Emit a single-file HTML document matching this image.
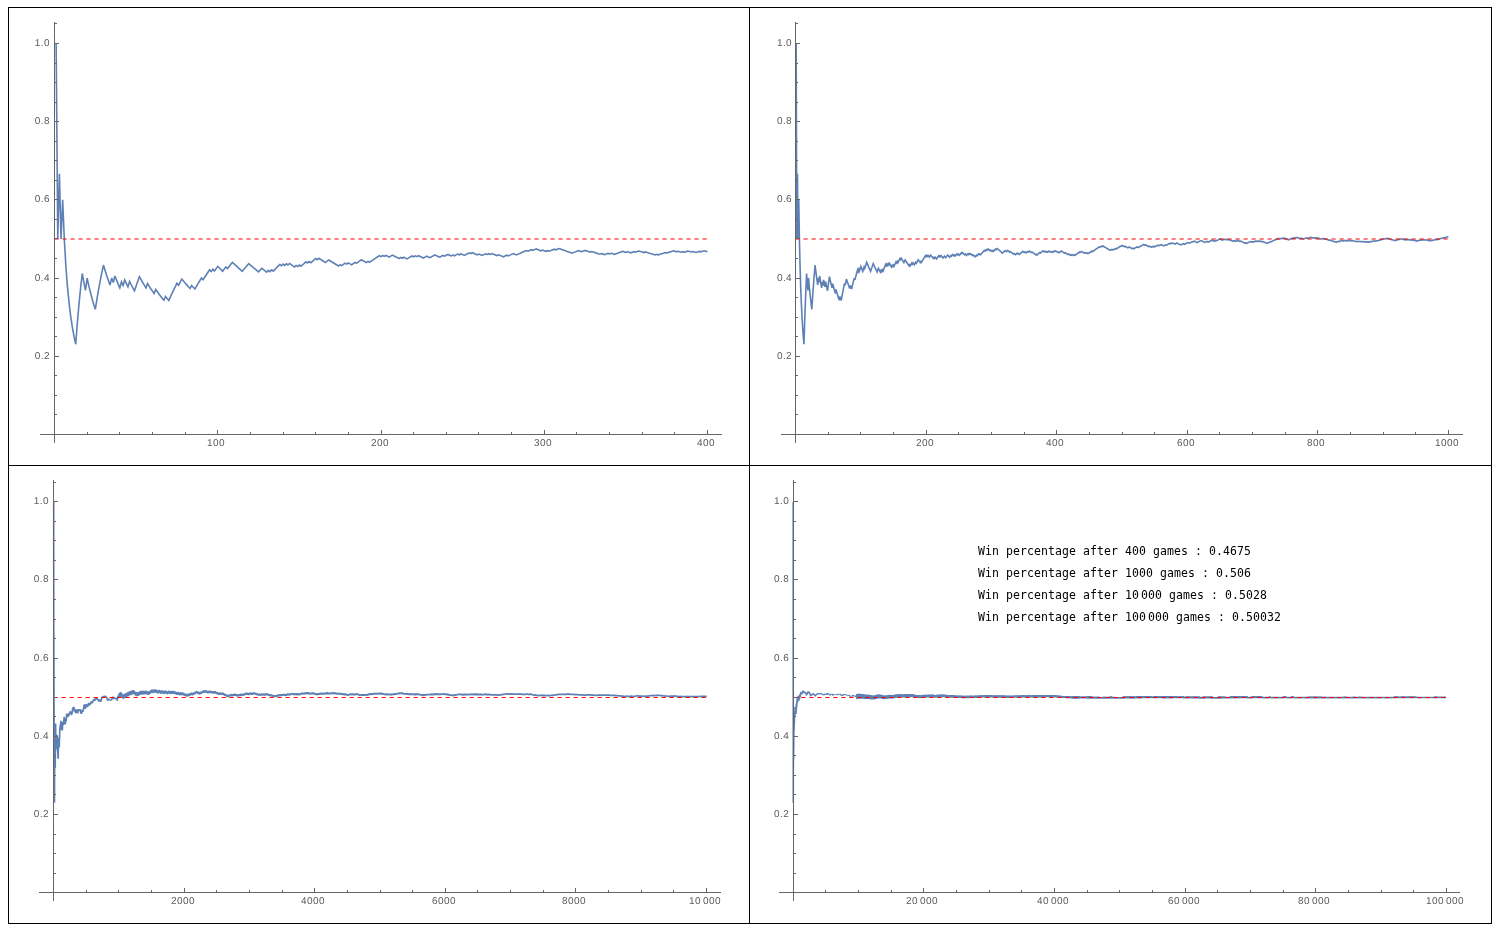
<!DOCTYPE html>
<html><head><meta charset="utf-8"><title>Win percentage</title>
<style>html,body{margin:0;padding:0;background:#fff}body{width:1500px;height:931px;position:relative;overflow:hidden}</style></head>
<body>
<svg width="1500" height="931" viewBox="0 0 1500 931" style="position:absolute;left:0;top:0">
<g fill="#000" shape-rendering="crispEdges">
<rect x="8" y="7" width="1484" height="1"/><rect x="8" y="923" width="1484" height="1"/><rect x="8" y="465" width="1484" height="1"/>
<rect x="8" y="7" width="1" height="917"/><rect x="749" y="7" width="1" height="917"/><rect x="1491" y="7" width="1" height="917"/>
</g>
<path fill="none" stroke="#5e81b5" stroke-width="1.6" stroke-linejoin="miter" stroke-miterlimit="3.25" stroke-linecap="butt" d="M56.133 43.5l1.632 195.5l1.633-65.167l1.632 65.167l1.633-39.1l1.632 39.1l1.632 27.929l1.633 20.946l1.632 16.292l1.633 13.033l1.632 10.664l1.633 8.886l1.632 7.519l1.633-21.483l1.632-18.619l1.633-16.292l1.632-14.375l1.633 8.944l1.632 8.003l1.633-12.347l1.632 7.448l1.633 6.77l1.632 6.182l1.633 5.667l1.632 5.213l1.633-10.226l1.632-9.469l1.633-8.792l1.632-8.186l1.633-7.64l1.632 5.465l1.633 5.124l1.632 4.814l1.633 4.53l1.632-6.9l1.633 4.344l1.632-6.458l1.633 4.172l1.632 3.957l1.633 3.76l1.632-5.96l1.633 3.633l1.632-5.629l1.633 3.513l1.632 3.357l1.633-5.289l1.632 3.255l1.633 3.12l1.632 2.992l1.633-4.947l1.632-4.753l1.633-4.571l1.632 2.979l1.633 2.869l1.632 2.765l1.633 2.666l1.632-4.287l1.633 2.602l1.632 2.513l1.633 2.43l1.632 2.351l1.633-4.032l1.632 2.302l1.633 2.23l1.632 2.162l1.633 2.096l1.632 2.034l1.633-3.776l1.632 2l1.633 1.943l1.632-3.619l1.633-3.518l1.632-3.422l1.633-3.33l1.632-3.241l1.633 1.99l1.632-3.141l1.633-3.059l1.632 1.967l1.633 1.917l1.632 1.871l1.633 1.825l1.632 1.781l1.633-2.916l1.632 1.752l1.633 1.712l1.632-2.822l1.633-2.758l1.632-2.696l1.633-2.636l1.632 1.719l1.633-2.569l1.632-2.513l1.633-2.46l1.632-2.409l1.633 1.715l1.632-2.351l1.633 1.686l1.632-2.297l1.633-2.251l1.632 1.665l1.633 1.632l1.632 1.6l1.633-2.19l1.632-2.148l1.633 1.58l1.632-2.102l1.633-2.064l1.632-2.026l1.633 1.565l1.632 1.537l1.633 1.51l1.632 1.483l1.633 1.456l1.632 1.432l1.633-1.964l1.632-1.93l1.633-1.898l1.632-1.865l1.633 1.424l1.632 1.4l1.633 1.377l1.632 1.355l1.633 1.333l1.632 1.312l1.633-1.812l1.632-1.784l1.633 1.299l1.632 1.279l1.633 1.259l1.632-1.745l1.633 1.243l1.632-1.715l1.633 1.229l1.632-1.686l1.633-1.661l1.632-1.637l1.633-1.613l1.632 1.223l1.633-1.587l1.632 1.208l1.633-1.562l1.632 1.194l1.633-1.538l1.632 1.179l1.633 1.164l1.632 1.148l1.633-1.51l1.632 1.135l1.633-1.487l1.632 1.122l1.633-1.465l1.632-1.446l1.633-1.427l1.632 1.114l1.633-1.407l1.632 1.101l1.633-1.387l1.632-1.369l1.633-1.353l1.632 1.093l1.633-1.334l1.632 1.081l1.633 1.067l1.632 1.055l1.633 1.042l1.632-1.311l1.633-1.297l1.632 1.033l1.633 1.021l1.632 1.009l1.633 .997l1.632 .985l1.633 .975l1.632-1.272l1.633 .965l1.632-1.255l1.633-1.241l1.632 .957l1.633-1.226l1.632 .949l1.633 .937l1.632-1.209l1.633-1.196l1.632 .93l1.633-1.181l1.632-1.169l1.633-1.157l1.632 .924l1.633 .915l1.632 .905l1.633-1.141l1.632 .897l1.633-1.128l1.632-1.116l1.633-1.105l1.632-1.094l1.633-1.082l1.632-1.072l1.633 .894l1.632-1.06l1.633 .886l1.632-1.049l1.633 .878l1.632 .87l1.633-1.037l1.632-1.027l1.633 .862l1.632 .855l1.633 .846l1.633 .838l1.632-1.014l1.633 .832l1.632-1.004l1.633 .824l1.632 .817l1.633-.993l1.632-.983l1.633-.975l1.632 .812l1.633-.965l1.632 .805l1.633-.956l1.632 .798l1.633 .792l1.632 .784l1.633-.945l1.632-.937l1.633 .779l1.632 .772l1.633-.927l1.632-.92l1.633-.911l1.632 .767l1.633 .761l1.632 .755l1.633-.902l1.632-.894l1.633 .749l1.632-.886l1.633-.879l1.632 .744l1.633 .738l1.632-.87l1.633 .732l1.632-.863l1.633-.856l1.632 .728l1.633-.848l1.632 .722l1.633 .717l1.632-.841l1.633-.834l1.632-.828l1.633 .713l1.632-.821l1.633 .707l1.632 .702l1.633 .696l1.632-.813l1.633 .692l1.632 .686l1.633-.806l1.632-.799l1.633 .681l1.632-.793l1.633 .677l1.632-.786l1.633 .672l1.632 .668l1.633 .662l1.632-.779l1.633 .658l1.632 .653l1.633 .649l1.632-.773l1.633-.767l1.632 .645l1.633-.762l1.632-.755l1.633-.751l1.632 .642l1.633 .637l1.632-.745l1.633-.739l1.632-.734l1.633-.728l1.632-.724l1.633-.719l1.632 .634l1.633-.713l1.632-.709l1.633 .631l1.632-.704l1.633-.698l1.632 .627l1.633 .622l1.632 .619l1.633-.694l1.632 .615l1.633 .611l1.632-.689l1.633 .607l1.632-.683l1.633-.679l1.632-.675l1.633 .604l1.632-.67l1.633-.666l1.632 .6l1.633 .596l1.632 .593l1.633 .588l1.632 .585l1.633 .581l1.632 .578l1.633 .574l1.632-.66l1.633-.655l1.632-.651l1.633-.647l1.632 .571l1.633 .568l1.632-.643l1.633-.639l1.632 .565l1.633 .561l1.632 .558l1.633-.634l1.632 .554l1.633 .552l1.632 .548l1.633 .544l1.632 .542l1.633-.629l1.632 .538l1.633 .535l1.632-.625l1.633-.621l1.632 .533l1.633-.617l1.632 .53l1.633 .526l1.632-.613l1.633-.609l1.632-.606l1.633-.603l1.632-.599l1.633 .525l1.632 .522l1.633-.595l1.632 .519l1.633 .516l1.632-.592l1.633-.588l1.632 .514l1.633-.585l1.632-.581l1.633 .511l1.632 .508l1.633 .506l1.632-.578l1.633 .503l1.632 .5l1.633 .498l1.632 .494l1.633 .492l1.632 .489l1.633-.573l1.632 .487l1.633-.569l1.632-.567l1.633-.564l1.632-.56l1.633 .485l1.632-.557l1.633-.555l1.632-.551l1.633-.549l1.632 .483l1.633 .481l1.632-.545l1.633 .478l1.632 .476l1.633-.542l1.632 .473l1.633-.539l1.632-.536l1.633 .471l1.632 .469l1.633-.533l1.632 .467l1.633 .464l1.632-.53l1.633-.528l1.632 .463l1.633-.525l1.632-.522l1.633 .46l1.632 .458"/>
<path fill="none" stroke="#5e81b5" stroke-width="1.6" stroke-linejoin="miter" stroke-miterlimit="3.25" stroke-linecap="butt" d="M796.153 43.5l.653 195.5l.653-65.167l.653 65.167l.653-39.1l.653 39.1l.653 27.929l.653 20.946l.653 16.292l.653 13.033l.653 10.664l.653 8.886l.653 7.519l.653-21.483l.653-18.619l.653-16.292l.653-14.375l.653 8.944l.653 8.003l.653-12.347l.653 7.448l.653 6.77l.653 6.182l.653 5.667l.653 5.213l.653-10.226l.653-9.469l.653-8.792l.653-8.186l.653-7.64l.653 5.465l.653 5.124l.653 4.814l.653 4.53l.653-6.9l.653 4.344l.653-6.458l.653 4.172l.653 3.957l.653 3.76l.653-5.96l.653 3.633l.653-5.629l.653 3.513l.653 3.357l.653-5.289l.653 3.255l.653 3.12l.653 2.992l.653-4.947l.653-4.753l.653-4.571l.653 2.979l.653 2.869l.653 2.765l.653 2.666l.653-4.287l.653 2.602l.653 2.513l.653 2.43l.653 2.351l.653-4.032l.653 2.302l.653 2.23l.653 2.162l.653 2.096l.653 2.034l.653-3.776l.653 2l.653 1.943l.653-3.619l.653-3.518l.653-3.422l.653-3.33l.653-3.241l.653 1.99l.653-3.141l.653-3.059l.653 1.967l.653 1.917l.653 1.871l.653 1.825l.653 1.781l.653-2.916l.653 1.752l.653 1.712l.653-2.822l.653-2.758l.653-2.696l.653-2.636l.653 1.719l.653-2.569l.653-2.513l.653-2.46l.653-2.409l.653 1.715l.653-2.351l.653 1.686l.653-2.297l.653-2.251l.653 1.665l.653 1.632l.653 1.6l.653-2.19l.653-2.148l.653 1.58l.653-2.102l.653-2.064l.653-2.026l.653 1.565l.653 1.537l.653 1.51l.653 1.483l.653 1.456l.653 1.432l.653-1.964l.653-1.93l.653-1.898l.653-1.865l.653 1.424l.653 1.4l.653 1.377l.653 1.355l.653 1.333l.653 1.312l.653-1.812l.653-1.784l.653 1.299l.653 1.279l.653 1.259l.653-1.745l.653 1.243l.653-1.715l.653 1.229l.653-1.686l.653-1.661l.653-1.637l.653-1.613l.653 1.223l.653-1.587l.653 1.208l.653-1.562l.653 1.194l.653-1.538l.653 1.179l.653 1.164l.653 1.148l.653-1.51l.653 1.135l.653-1.487l.653 1.122l.653-1.465l.653-1.446l.653-1.427l.653 1.114l.653-1.407l.653 1.101l.653-1.387l.653-1.369l.653-1.353l.653 1.093l.653-1.334l.653 1.081l.653 1.067l.653 1.055l.653 1.042l.653-1.311l.653-1.297l.653 1.033l.653 1.021l.653 1.009l.653 .997l.653 .985l.653 .975l.653-1.272l.653 .965l.653-1.255l.653-1.241l.653 .957l.653-1.226l.653 .949l.653 .937l.653-1.209l.653-1.196l.653 .93l.653-1.181l.653-1.169l.653-1.157l.653 .924l.653 .915l.653 .905l.653-1.141l.653 .897l.653-1.128l.653-1.116l.653-1.105l.653-1.094l.653-1.082l.653-1.072l.653 .894l.653-1.06l.653 .886l.653-1.049l.653 .878l.653 .87l.653-1.037l.653-1.027l.653 .862l.653 .855l.653 .846l.653 .838l.653-1.014l.653 .832l.653-1.004l.653 .824l.653 .817l.653-.993l.653-.983l.653-.975l.653 .812l.653-.965l.653 .805l.653-.956l.653 .798l.653 .792l.653 .784l.653-.945l.653-.937l.653 .779l.653 .772l.653-.927l.653-.92l.653-.911l.653 .767l.653 .761l.653 .755l.653-.902l.653-.894l.653 .749l.653-.886l.653-.879l.653 .744l.653 .738l.653-.87l.653 .732l.653-.863l.653-.856l.653 .728l.653-.848l.653 .722l.653 .717l.653-.841l.653-.834l.653-.828l.653 .713l.653-.821l.653 .707l.653 .702l.653 .696l.653-.813l.653 .692l.653 .686l.653-.806l.653-.799l.653 .681l.653-.793l.653 .677l.653-.786l.653 .672l.653 .668l.653 .662l.653-.779l.653 .658l.653 .653l.653 .649l.653-.773l.653-.767l.653 .645l.653-.762l.653-.755l.653-.751l.653 .642l.653 .637l.653-.745l.653-.739l.653-.734l.653-.728l.653-.724l.653-.719l.653 .634l.653-.713l.653-.709l.653 .631l.653-.704l.653-.698l.653 .627l.653 .622l.653 .619l.653-.694l.653 .615l.653 .611l.653-.689l.653 .607l.653-.683l.653-.679l.653-.675l.653 .604l.653-.67l.653-.666l.653 .6l.653 .596l.653 .593l.653 .588l.653 .585l.653 .581l.653 .578l.653 .574l.653-.66l.653-.655l.653-.651l.653-.647l.653 .571l.653 .568l.653-.643l.653-.639l.653 .565l.653 .561l.653 .558l.653-.634l.653 .554l.653 .552l.653 .548l.653 .544l.653 .542l.653-.629l.653 .538l.653 .535l.653-.625l.653-.621l.653 .533l.653-.617l.653 .53l.653 .526l.653-.613l.653-.609l.653-.606l.653-.603l.653-.599l.653 .525l.653 .522l.653-.595l.653 .519l.653 .516l.653-.592l.653-.588l.653 .514l.653-.585l.653-.581l.653 .511l.653 .508l.653 .506l.653-.578l.653 .503l.653 .5l.653 .498l.653 .494l.653 .492l.653 .489l.653-.573l.653 .487l.653-.569l.653-.567l.653-.564l.653-.56l.653 .485l.653-.557l.653-.555l.653-.551l.653-.549l.653 .483l.653 .481l.653-.545l.653 .478l.653 .476l.653-.542l.653 .473l.653-.539l.653-.536l.653 .471l.653 .469l.653-.533l.653 .467l.653 .464l.653-.53l.653-.528l.653 .463l.653-.525l.653-.522l.653 .46l.653 .458l.653 .456l.653 .454l.653-.519l.653 .452l.653-.517l.653-.513l.653-.511l.653 .449l.653 .448l.653 .445l.653 .443l.653 .441l.653-.507l.653 .439l.653 .437l.653 .434l.653 .433l.653-.504l.653 .43l.653 .429l.653 .427l.653-.502l.653 .425l.653-.499l.653 .423l.653 .421l.653-.496l.653-.495l.653 .42l.653-.492l.653-.489l.653-.488l.653-.484l.653-.483l.653-.481l.653 .419l.653-.478l.653-.476l.653 .417l.653 .415l.653 .413l.653 .411l.653-.473l.653 .409l.653-.471l.653 .408l.653 .406l.653-.469l.653 .405l.653-.467l.653-.464l.653-.462l.653-.461l.653-.458l.653 .403l.653-.456l.653-.454l.653-.452l.653-.45l.653-.448l.653-.446l.653-.444l.653-.443l.653-.44l.653-.439l.653 .403l.653-.437l.653-.435l.653-.433l.653 .401l.653-.431l.653 .4l.653 .397l.653 .396l.653 .394l.653 .393l.653 .391l.653 .389l.653 .388l.653 .386l.653 .384l.653 .383l.653-.428l.653-.427l.653 .382l.653-.425l.653 .38l.653-.423l.653-.421l.653-.419l.653 .378l.653-.417l.653-.416l.653-.415l.653-.412l.653-.411l.653-.409l.653-.408l.653-.406l.653 .378l.653-.404l.653 .376l.653 .375l.653 .373l.653-.403l.653 .372l.653 .371l.653 .369l.653 .367l.653-.401l.653-.399l.653 .366l.653 .365l.653 .363l.653 .362l.653-.397l.653 .361l.653 .359l.653-.396l.653-.394l.653-.392l.653-.392l.653-.389l.653 .358l.653 .357l.653-.388l.653-.387l.653-.385l.653-.383l.653-.382l.653-.381l.653-.379l.653-.378l.653 .356l.653 .354l.653-.376l.653 .353l.653 .352l.653 .35l.653 .35l.653 .348l.653-.375l.653 .347l.653 .345l.653 .344l.653-.373l.653-.372l.653 .344l.653-.371l.653 .342l.653-.369l.653-.368l.653-.366l.653-.365l.653 .341l.653-.364l.653 .34l.653-.363l.653-.361l.653-.359l.653 .338l.653 .338l.653 .336l.653 .335l.653-.359l.653-.357l.653-.355l.653 .333l.653-.354l.653-.353l.653-.352l.653-.351l.653-.35l.653 .333l.653-.348l.653-.347l.653 .332l.653-.346l.653 .33l.653 .33l.653 .328l.653-.344l.653-.344l.653-.342l.653 .327l.653 .327l.653 .325l.653 .324l.653 .323l.653 .321l.653-.34l.653-.34l.653-.339l.653-.337l.653 .321l.653 .319l.653-.336l.653-.335l.653-.334l.653-.333l.653-.332l.653 .319l.653 .318l.653-.331l.653-.329l.653-.329l.653-.327l.653-.327l.653 .317l.653-.325l.653-.324l.653 .316l.653 .314l.653 .314l.653 .313l.653-.323l.653-.322l.653-.321l.653-.32l.653-.319l.653-.318l.653 .312l.653 .311l.653 .309l.653 .309l.653 .308l.653 .307l.653-.317l.653-.316l.653-.314l.653 .305l.653 .305l.653-.313l.653-.313l.653-.312l.653-.311l.653-.309l.653-.309l.653 .304l.653 .303l.653 .302l.653-.308l.653 .301l.653-.307l.653-.305l.653-.305l.653-.305l.653-.303l.653-.302l.653-.301l.653 .3l.653 .3l.653 .298l.653 .298l.653-.301l.653-.299l.653-.298l.653 .296l.653-.297l.653 .295l.653 .295l.653-.296l.653 .294l.653-.296l.653 .293l.653 .292l.653 .292l.653 .29l.653 .29l.653 .288l.653-.295l.653-.293l.653 .287l.653 .287l.653-.293l.653-.292l.653-.291l.653 .286l.653 .285l.653 .285l.653-.29l.653 .283l.653 .283l.653 .282l.653 .281l.653 .281l.653 .279l.653 .279l.653 .278l.653-.289l.653 .277l.653-.289l.653-.288l.653-.287l.653-.286l.653-.285l.653-.285l.653 .277l.653 .276l.653-.284l.653 .275l.653-.283l.653-.282l.653-.281l.653 .274l.653-.281l.653 .274l.653-.28l.653-.279l.653 .273l.653 .272l.653-.278l.653 .271l.653 .27l.653-.277l.653 .269l.653 .269l.653 .268l.653 .268l.653 .266l.653 .266l.653 .265l.653-.276l.653-.276l.653-.274l.653-.275l.653-.273l.653-.273l.653-.271l.653-.272l.653-.27l.653-.27l.653-.268l.653-.269l.653-.267l.653-.267l.653-.266l.653-.265l.653-.265l.653-.263l.653 .264l.653 .264l.653-.263l.653-.263l.653-.261l.653 .263l.653-.261l.653 .262l.653-.26l.653 .262l.653 .261l.653 .26l.653 .26l.653 .259l.653 .258l.653-.26l.653-.259l.653-.258l.653-.258l.653-.256l.653-.257l.653-.255l.653 .257l.653-.255l.653-.254l.653 .257l.653-.253l.653-.253l.653 .256l.653 .255l.653 .255l.653 .255l.653-.253l.653 .254l.653-.252l.653 .253l.653 .252l.653 .252l.653-.251l.653-.25l.653-.25l.653-.249l.653 .251l.653-.248l.653 .25l.653-.248l.653-.247l.653-.247l.653-.245l.653 .249l.653 .249l.653 .249l.653-.246l.653 .248l.653-.245l.653 .248l.653-.244l.653 .246l.653-.243l.653 .245l.653 .246l.653 .244l.653 .245l.653 .243l.653-.243l.653 .243l.653-.242l.653-.242l.653 .242l.653 .242l.653 .241l.653-.241l.653 .24l.653 .24l.653 .24l.653 .238l.653 .238l.653-.24l.653 .238l.653 .236l.653 .237l.653 .236l.653 .235l.653 .235l.653 .234l.653 .233l.653 .233l.653 .233l.653-.24l.653-.239l.653-.239l.653-.238l.653 .232l.653-.238l.653-.237l.653-.236l.653-.236l.653 .231l.653 .231l.653-.235l.653-.235l.653-.234l.653 .23l.653 .23l.653-.233l.653 .229l.653-.233l.653-.233l.653 .229l.653 .228l.653-.232l.653 .228l.653-.232l.653 .227l.653 .227l.653 .226l.653 .225l.653-.23l.653 .224l.653-.23l.653 .225l.653 .224l.653-.23l.653-.229l.653 .223l.653 .223l.653-.229l.653 .223l.653-.228l.653 .222l.653 .221l.653-.228l.653 .221l.653-.227l.653 .221l.653 .219l.653-.226l.653 .219l.653-.226l.653-.225l.653-.225l.653 .219l.653-.225l.653-.223l.653-.224l.653-.223l.653 .219l.653 .218l.653-.223l.653-.222l.653-.221l.653 .217l.653-.221l.653-.22l.653-.22l.653-.219l.653-.219l.653-.219l.653-.218l.653-.217l.653-.217l.653 .217l.653-.217l.653-.216l.653 .217l.653-.216l.653-.215l.653 .216l.653 .216l.653 .215l.653 .215l.653 .214l.653 .213l.653 .214l.653 .212l.653 .213l.653 .211l.653 .212l.653-.215l.653-.214l.653-.214l.653-.213l.653-.213l.653-.212l.653-.212l.653-.211l.653-.211l.653 .211l.653 .21l.653 .21l.653-.21l.653 .21l.653 .209l.653 .208l.653 .208l.653-.21l.653-.209l.653-.209l.653 .208l.653 .207l.653 .207l.653-.209l.653 .207l.653-.209l.653 .206l.653 .206l.653 .205l.653-.208l.653 .205l.653 .204l.653 .204l.653-.207l.653 .203l.653-.207l.653-.206l.653-.206l.653-.206l.653 .203l.653-.205l.653-.204l.653 .202l.653-.204l.653 .202l.653-.204l.653 .202l.653-.203l.653 .201l.653 .201l.653 .2l.653 .2l.653-.203l.653 .2l.653 .199l.653-.202l.653-.202l.653-.202l.653-.201l.653-.201l.653 .198l.653-.2l.653-.2l.653-.2l.653 .199l.653-.2l.653-.199l.653-.198l.653-.198l.653-.198l.653-.197l.653-.197l.653-.196l.653-.196l.653 .198l.653-.196l.653-.195l.653-.195l.653-.195l.653-.194l.653-.194l.653-.193"/>
<path fill="none" stroke="#5e81b5" stroke-width="1.6" stroke-linejoin="miter" stroke-miterlimit="3.25" stroke-linecap="butt" d="M53.715 501.9l.066 195.5l.065-65.167l.065 65.167l.066-39.1l.065 39.1l.065 27.929l.065 20.946l.066 16.292l.065 13.033l.065 10.664l.066 8.886l.065 7.519l.065-21.483l.066-18.619l.065-16.292l.065-14.375l.065 8.944l.066 8.003l.065-12.347l.065 7.448l.066 6.77l.065 6.182l.065 5.667l.066 5.213l.065-10.226l.065-9.469l.065-8.792l.066-8.186l.065-7.64l.065 5.465l.066 5.124l.065 4.814l.065 4.53l.066-6.9l.065 4.344l.065-6.458l.065 4.172l.066 3.957l.065 3.76l.065-5.96l.066 3.633l.065-5.629l.065 3.513l.066 3.357l.065-5.289l.065 3.255l.065 3.12l.066 2.992l.065-4.947l.065-4.753l.066-4.571l.065 2.979l.065 2.869l.066 2.765l.065 2.666l.065-4.287l.065 2.602l.066 2.513l.065 2.43l.065 2.351l.066-4.032l.065 2.302l.065 2.23l.066 2.162l.065 2.096l.065 2.034l.065-3.776l.066 2l.065 1.943l.065-3.619l.066-3.518l.065-3.422l.065-3.33l.066-3.241l.065 1.99l.065-3.141l.065-3.059l.066 1.967l.065 1.918l.065 1.87l.066 1.825l.065 1.781l.065-2.916l.066 1.752l.065 1.712l.065-2.822l.065-2.758l.066-2.696l.065-2.636l.065 1.719l.066-2.569l.065-2.513l.065-2.46l.066-2.409l.065 1.715l.065-2.351l.065 1.686l.066-2.297l.065-2.251l.065 1.665l.066 1.632l.065 1.6l.065-2.19l.066-2.148l.065 1.58l.065-2.102l.065-2.064l.066-2.026l.065 1.565l.065 1.537l.066 1.51l.065 1.483l.065 1.456l.066 1.432l.065-1.964l.065-1.93l.065-1.898l.066-1.865l.065 1.424l.065 1.4l.066 1.377l.065 1.355l.065 1.333l.066 1.312l.065-1.812l.065-1.784l.065 1.299l.066 1.279l.065 1.259l.065-1.745l.066 1.243l.065-1.715l.065 1.229l.066-1.686l.065-1.661l.065-1.637l.065-1.613l.066 1.223l.065-1.587l.065 1.208l.066-1.562l.065 1.194l.065-1.538l.066 1.179l.065 1.164l.065 1.148l.065-1.51l.066 1.135l.065-1.487l.065 1.122l.066-1.465l.065-1.446l.065-1.427l.066 1.114l.065-1.407l.065 1.101l.065-1.387l.066-1.369l.065-1.353l.065 1.093l.066-1.334l.065 1.081l.065 1.067l.066 1.055l.065 1.042l.065-1.311l.065-1.297l.066 1.033l.065 1.021l.065 1.009l.066 .997l.065 .985l.065 .975l.066-1.272l.065 .965l.065-1.255l.065-1.241l.066 .957l.065-1.226l.065 .949l.066 .937l.065-1.209l.065-1.196l.066 .93l.065-1.181l.065-1.169l.065-1.157l.066 .924l.065 .915l.065 .905l.066-1.141l.065 .897l.065-1.128l.066-1.116l.065-1.105l.065-1.094l.065-1.082l.066-1.072l.065 .894l.065-1.06l.066 .886l.065-1.049l.065 .878l.066 .87l.065-1.037l.065-1.027l.065 .862l.066 .855l.065 .846l.065 .838l.066-1.014l.065 .832l.065-1.004l.066 .824l.065 .817l.065-.993l.065-.983l.066-.975l.065 .812l.065-.965l.066 .805l.065-.956l.065 .798l.066 .792l.065 .784l.065-.945l.065-.937l.066 .779l.065 .772l.065-.927l.066-.92l.065-.911l.065 .767l.066 .761l.065 .755l.065-.902l.065-.894l.066 .749l.065-.886l.065-.879l.066 .744l.065 .738l.065-.87l.066 .732l.065-.863l.065-.856l.065 .728l.066-.848l.065 .722l.065 .717l.066-.841l.065-.834l.065-.828l.066 .713l.065-.821l.065 .707l.065 .702l.066 .696l.065-.813l.065 .692l.066 .686l.065-.806l.065-.799l.066 .681l.065-.793l.065 .677l.065-.786l.066 .672l.065 .668l.065 .662l.066-.779l.065 .658l.065 .653l.066 .649l.065-.773l.065-.767l.065 .645l.066-.762l.065-.755l.065-.751l.066 .642l.065 .637l.065-.745l.066-.739l.065-.734l.065-.728l.065-.724l.066-.719l.065 .634l.065-.713l.066-.709l.065 .631l.065-.704l.066-.698l.065 .627l.065 .622l.065 .619l.066-.694l.065 .615l.065 .611l.066-.689l.065 .607l.065-.683l.066-.679l.065-.675l.065 .604l.065-.67l.066-.666l.065 .6l.065 .596l.066 .593l.065 .588l.065 .585l.066 .581l.065 .578l.065 .574l.065-.66l.066-.655l.065-.651l.065-.647l.066 .571l.065 .568l.065-.643l.066-.639l.065 .565l.065 .561l.065 .558l.066-.634l.065 .554l.065 .552l.066 .548l.065 .544l.065 .542l.066-.629l.065 .538l.065 .535l.065-.625l.066-.621l.065 .533l.065-.617l.066 .53l.065 .526l.065-.613l.066-.609l.065-.606l.065-.603l.065-.599l.066 .525l.065 .522l.065-.595l.066 .519l.065 .516l.065-.592l.066-.588l.065 .514l.065-.585l.065-.581l.066 .511l.065 .508l.065 .506l.066-.578l.065 .503l.065 .5l.066 .498l.065 .494l.065 .492l.065 .49l.066-.574l.065 .487l.065-.569l.066-.567l.065-.564l.065-.56l.066 .485l.065-.557l.065-.555l.065-.551l.066-.549l.065 .483l.065 .481l.066-.545l.065 .478l.065 .476l.066-.542l.065 .473l.065-.539l.065-.536l.066 .471l.065 .469l.065-.533l.066 .467l.065 .464l.065-.53l.066-.528l.065 .463l.065-.525l.065-.522l.066 .46l.065 .459l.065 .455l.066 .454l.065-.519l.065 .452l.066-.517l.065-.513l.065-.511l.065 .449l.066 .448l.065 .445l.065 .443l.066 .441l.065-.507l.065 .439l.066 .437l.065 .434l.065 .433l.065-.504l.066 .43l.065 .429l.065 .427l.066-.502l.065 .425l.065-.499l.066 .423l.065 .421l.065-.496l.065-.495l.066 .42l.065-.492l.065-.489l.066-.488l.065-.484l.065-.483l.066-.481l.065 .419l.065-.478l.065-.476l.066 .417l.065 .415l.065 .413l.066 .411l.065-.473l.065 .409l.066-.471l.065 .408l.065 .406l.065-.469l.066 .405l.065-.467l.065-.464l.066-.462l.065-.461l.065-.458l.066 .403l.065-.456l.065-.454l.065-.452l.066-.45l.065-.448l.065-.446l.066-.444l.065-.443l.065-.44l.066-.439l.065 .403l.065-.437l.065-.435l.066-.433l.065 .401l.065-.431l.066 .4l.065 .397l.065 .396l.066 .394l.065 .393l.065 .391l.065 .389l.066 .388l.065 .386l.065 .384l.066 .383l.065-.428l.065-.427l.066 .382l.065-.425l.065 .38l.065-.423l.066-.421l.065-.419l.065 .378l.066-.417l.065-.416l.065-.415l.066-.412l.065-.411l.065-.409l.065-.408l.066-.406l.065 .378l.065-.404l.066 .376l.065 .375l.065 .373l.066-.403l.065 .372l.065 .371l.065 .369l.066 .367l.065-.401l.065-.399l.066 .366l.065 .365l.065 .363l.066 .362l.065-.397l.065 .361l.065 .359l.066-.396l.065-.394l.065-.392l.066-.392l.065-.389l.065 .358l.066 .357l.065-.388l.065-.387l.065-.385l.066-.383l.065-.382l.065-.381l.066-.379l.065-.378l.065 .356l.066 .354l.065-.376l.065 .353l.065 .352l.066 .35l.065 .35l.065 .348l.066-.375l.065 .347l.065 .345l.066 .344l.065-.373l.065-.372l.065 .344l.066-.371l.065 .342l.065-.369l.066-.368l.065-.366l.065-.365l.066 .341l.065-.364l.065 .34l.065-.363l.066-.361l.065-.359l.065 .338l.066 .338l.065 .336l.065 .335l.066-.359l.065-.357l.065-.355l.065 .333l.066-.354l.065-.353l.065-.352l.066-.351l.065-.35l.065 .333l.066-.348l.065-.347l.065 .332l.065-.346l.066 .33l.065 .33l.065 .328l.066-.344l.065-.344l.065-.342l.066 .327l.065 .327l.065 .325l.065 .324l.066 .323l.065 .321l.065-.34l.066-.34l.065-.339l.065-.337l.066 .321l.065 .319l.065-.336l.065-.335l.066-.334l.065-.333l.065-.332l.066 .319l.065 .318l.065-.331l.066-.329l.065-.329l.065-.327l.065-.327l.066 .317l.065-.325l.065-.324l.066 .316l.065 .314l.065 .314l.066 .313l.065-.323l.065-.322l.065-.321l.066-.32l.065-.319l.065-.318l.066 .312l.065 .311l.065 .309l.066 .309l.065 .308l.065 .307l.065-.317l.066-.316l.065-.314l.065 .305l.066 .305l.065-.313l.065-.313l.066-.312l.065-.311l.065-.309l.065-.309l.066 .304l.065 .303l.065 .302l.066-.308l.065 .301l.065-.307l.066-.305l.065-.305l.065-.305l.065-.303l.066-.302l.065-.301l.065 .3l.066 .3l.065 .298l.065 .298l.066-.301l.065-.299l.065-.298l.065 .296l.066-.297l.065 .295l.065 .295l.066-.296l.065 .294l.065-.296l.066 .293l.065 .292l.065 .292l.065 .29l.066 .29l.065 .288l.065-.295l.066-.293l.065 .287l.065 .287l.066-.293l.065-.292l.065-.291l.065 .286l.066 .285l.065 .285l.065-.29l.066 .283l.065 .283l.065 .282l.066 .281l.065 .281l.065 .279l.065 .279l.066 .278l.065-.289l.065 .277l.066-.289l.065-.288l.065-.287l.066-.286l.065-.285l.065-.285l.065 .277l.066 .276l.065-.284l.065 .275l.066-.283l.065-.282l.065-.281l.066 .274l.065-.281l.065 .274l.065-.28l.066-.279l.065 .273l.065 .272l.066-.278l.065 .271l.065 .27l.066-.277l.065 .269l.065 .269l.065 .268l.066 .268l.065 .266l.065 .266l.066 .265l.065-.276l.065-.276l.066-.274l.065-.275l.065-.273l.065-.273l.066-.271l.065-.272l.065-.27l.066-.27l.065-.268l.065-.269l.066-.267l.065-.267l.065-.266l.065-.265l.066-.265l.065-.263l.065 .264l.066 .264l.065-.263l.065-.263l.066-.261l.065 .263l.065-.261l.065 .262l.066-.26l.065 .262l.065 .261l.066 .26l.065 .26l.065 .259l.066 .258l.065-.26l.065-.259l.065-.258l.066-.258l.065-.256l.065-.257l.066-.255l.065 .257l.065-.255l.066-.254l.065 .257l.065-.253l.065-.253l.066 .256l.065 .255l.065 .255l.066 .255l.065-.253l.065 .254l.066-.252l.065 .253l.065 .252l.065 .252l.066-.251l.065-.25l.065-.25l.066-.249l.065 .251l.065-.248l.066 .25l.065-.248l.065-.247l.065-.247l.066-.245l.065 .249l.065 .249l.066 .249l.065-.246l.065 .248l.066-.245l.065 .248l.065-.244l.065 .246l.066-.243l.065 .246l.065 .245l.066 .244l.065 .245l.065 .243l.066-.243l.065 .243l.065-.242l.065-.242l.066 .242l.065 .242l.065 .241l.066-.241l.065 .24l.065 .24l.066 .24l.065 .238l.065 .238l.065-.24l.066 .238l.065 .236l.065 .237l.066 .236l.065 .235l.065 .235l.066 .234l.065 .233l.065 .233l.065 .233l.066-.24l.065-.239l.065-.239l.066-.238l.065 .232l.065-.238l.066-.237l.065-.236l.065-.236l.065 .231l.066 .231l.065-.235l.065-.235l.066-.234l.065 .23l.065 .23l.066-.233l.065 .229l.065-.233l.065-.233l.066 .229l.065 .228l.065-.232l.066 .228l.065-.232l.065 .227l.066 .227l.065 .226l.065 .225l.065-.23l.066 .224l.065-.23l.065 .225l.066 .224l.065-.23l.065-.229l.066 .223l.065 .223l.065-.229l.065 .223l.066-.228l.065 .222l.065 .221l.066-.228l.065 .221l.065-.227l.066 .221l.065 .219l.065-.226l.065 .219l.066-.226l.065-.225l.065-.225l.066 .219l.065-.225l.065-.223l.066-.224l.065-.223l.065 .219l.065 .218l.066-.223l.065-.222l.065-.221l.066 .217l.065-.221l.065-.22l.066-.22l.065-.219l.065-.219l.065-.219l.066-.218l.065-.217l.065-.217l.066 .217l.065-.217l.065-.216l.066 .217l.065-.216l.065-.215l.065 .216l.066 .216l.065 .215l.065 .215l.066 .214l.065 .213l.065 .214l.066 .212l.065 .213l.065 .211l.065 .212l.066-.215l.065-.214l.065-.214l.066-.213l.065-.213l.065-.212l.066-.212l.065-.211l.065-.211l.065 .211l.066 .21l.065 .21l.065-.21l.066 .21l.065 .209l.065 .208l.066 .208l.065-.21l.065-.209l.065-.209l.066 .208l.065 .207l.065 .207l.066-.209l.065 .207l.065-.209l.066 .206l.065 .206l.065 .205l.065-.208l.066 .205l.065 .204l.065 .204l.066-.207l.065 .203l.065-.207l.066-.206l.065-.206l.065-.206l.065 .203l.066-.205l.065-.204l.065 .202l.066-.204l.065 .202l.065-.204l.066 .202l.065-.203l.065 .201l.065 .201l.066 .2l.065 .2l.065-.203l.066 .2l.065 .199l.065-.202l.066-.202l.065-.202l.065-.201l.065-.201l.066 .198l.065-.2l.065-.2l.066-.2l.065 .199l.065-.2l.066-.199l.065-.198l.065-.198l.065-.198l.066-.197l.065-.197l.065-.196l.066-.196l.065 .198l.065-.196l.066-.195l.065-.195l.065-.195l.065-.194l.066-.194l.065-.193l.065 .198l.066-.193l.065-.193l.065-.192l.066 .197l.065-.192l.065 .197l.065 .197l.066 .196l.065 .195l.065-.191l.066-.191l.065-.191l.065 .195l.066 .195l.065 .195l.065-.191l.065-.19l.066-.189l.065-.189l.065-.189l.066-.189l.065 .194l.065-.188l.066-.187l.065 .193l.065 .194l.065-.188l.066-.187l.065 .193l.065 .193l.066 .192l.065-.187l.065-.186l.066 .192l.065-.186l.065 .191l.065-.185l.066-.186l.065 .191l.065 .191l.066 .19l.065 .19l.065 .19l.066 .189l.065 .189l.065 .188l.065-.184l.066-.185l.065 .188l.065 .188l.066 .187l.065 .187l.065-.184l.066 .187l.065 .186l.065 .186l.065 .186l.066 .185l.065-.184l.065 .185l.066 .185l.065-.184l.065-.183l.066 .184l.065-.183l.065 .184l.065-.182l.066 .183l.065-.182l.065-.182l.066-.181l.065 .183l.065-.181l.066-.181l.065 .183l.065-.181l.065 .183l.066-.18l.065 .182l.065-.18l.066-.179l.065-.18l.065 .182l.066 .182l.065-.179l.065-.179l.065 .182l.066-.179l.065-.178l.065-.177l.066 .181l.065 .18l.065-.177l.066 .18l.065-.177l.065-.176l.065-.177l.066 .18l.065 .18l.065-.176l.066 .179l.065 .179l.065-.176l.066-.175l.065-.175l.065-.175l.065-.174l.066 .178l.065-.174l.065-.174l.066 .179l.065-.174l.065 .178l.066 .178l.065 .177l.065-.173l.065-.173l.066-.173l.065-.172l.065 .177l.066-.172l.065 .177l.065-.172l.066 .176l.065-.171l.065-.171l.065-.171l.066-.17l.065-.17l.065 .176l.066 .175l.065 .176l.065 .175l.066-.17l.065-.17l.065-.169l.065 .175l.066-.169l.065 .174l.065-.168l.066-.169l.065 .174l.065 .174l.066-.168l.065-.168l.065-.167l.065-.168l.066 .174l.065-.167l.065 .173l.066 .173l.065-.167l.065 .173l.066-.167l.065-.166l.065 .173l.065-.166l.066-.166l.065-.165l.065-.165l.066-.164l.065 .172l.065-.165l.066-.164l.065 .172l.065 .171l.065-.164l.066 .171l.065-.163l.065-.164l.066-.163l.065 .171l.065 .17l.066-.162l.065 .17l.065 .169l.065 .17l.066-.162l.065 .169l.065-.162l.066 .168l.065-.161l.065-.162l.066-.161l.065-.162l.065-.16l.065 .168l.066 .169l.065-.161l.065-.16l.066 .168l.065 .167l.065-.16l.066-.159l.065-.16l.065 .168l.065-.16l.066-.159l.065 .168l.065 .166l.066-.158l.065-.159l.065 .167l.066-.158l.065-.158l.065 .166l.065-.158l.066 .166l.065 .166l.065 .165l.066-.157l.065-.157l.065-.157l.066 .165l.065-.157l.065 .165l.065-.156l.066-.156l.065-.156l.065-.156l.066 .165l.065 .164l.065 .164l.066-.156l.065-.155l.065 .164l.065-.155l.066 .164l.065 .163l.065 .163l.066 .162l.065-.154l.065-.155l.066 .163l.065 .162l.065-.154l.065 .162l.066 .161l.065-.154l.065 .162l.066-.154l.065 .161l.065 .161l.066 .16l.065 .161l.065 .16l.065-.154l.066 .16l.065-.153l.065 .159l.066 .159l.065-.153l.065 .159l.066 .159l.065 .159l.065 .158l.065-.153l.066-.152l.065 .158l.065-.153l.066 .158l.065 .157l.065-.152l.066 .158l.065 .157l.065 .156l.065-.152l.066-.151l.065-.152l.065-.151l.066 .157l.065-.151l.065 .156l.066-.151l.065-.15l.065-.15l.065 .156l.066 .155l.065 .156l.065 .155l.066-.15l.065 .155l.065-.15l.066 .155l.065-.149l.065-.15l.065-.149l.066 .155l.065 .154l.065-.149l.066-.149l.065-.148l.065 .154l.066 .154l.065 .153l.065 .154l.065-.149l.066-.148l.065-.147l.065 .153l.066-.148l.065 .153l.065 .153l.066 .152l.065-.147l.065-.147l.065-.147l.066 .152l.065-.147l.065-.146l.066-.146l.065-.146l.065-.146l.066-.145l.065-.146l.065 .152l.065-.145l.066-.145l.065 .152l.065-.145l.066-.144l.065 .151l.065-.144l.066-.144l.065 .151l.065 .151l.065 .151l.066-.144l.065-.144l.065-.143l.066 .15l.065 .15l.065 .15l.066-.143l.065 .15l.065-.143l.065-.143l.066-.142l.065 .149l.065-.142l.066 .149l.065-.142l.065-.142l.066 .149l.065 .149l.065-.142l.065 .149l.066-.141l.065 .148l.065-.141l.066-.141l.065-.141l.065 .148l.066-.141l.065 .148l.065 .148l.065 .147l.066-.14l.065 .147l.065-.14l.066 .147l.065 .147l.065-.141l.066-.139l.065-.14l.065 .147l.065-.14l.066 .146l.065-.139l.065-.139l.066 .146l.065 .146l.065-.139l.066-.138l.065-.139l.065 .146l.065 .145l.066 .146l.065 .145l.065 .145l.066 .144l.065-.138l.065-.138l.066-.138l.065-.138l.065 .145l.065 .144l.066-.138l.065 .144l.065-.137l.066-.137l.065 .144l.065 .143l.066-.137l.065-.136l.065-.137l.065-.136l.066-.136l.065 .143l.065 .143l.066-.136l.065-.136l.065 .143l.066-.135l.065-.136l.065 .143l.065 .142l.066-.135l.065-.135l.065 .142l.066 .143l.065 .141l.065 .142l.066-.135l.065-.134l.065 .141l.065 .141l.066 .141l.065-.134l.065 .141l.066 .141l.065 .14l.065-.134l.066-.134l.065 .14l.065-.134l.065-.134l.066-.133l.065 .14l.065-.134l.066-.133l.065 .14l.065-.133l.066 .14l.065 .139l.065 .139l.065 .14l.066-.133l.065-.133l.065 .139l.066-.133l.065 .139l.065 .139l.066-.133l.065 .139l.065-.133l.065-.131l.066 .138l.065 .138l.065 .137l.066-.132l.065-.131l.065 .137l.066-.131l.065 .137l.065 .137l.065 .137l.066 .137l.065-.131l.065-.131l.066-.131l.065-.131l.065-.13l.066-.131l.065 .137l.065 .136l.065-.13l.066-.13l.065-.13l.065-.129l.066-.13l.065 .136l.065-.129l.066 .136l.065-.129l.065-.129l.065-.129l.066 .136l.065 .135l.065-.128l.066-.129l.065-.128l.065-.128l.066-.128l.065-.128l.065-.127l.065 .135l.066 .135l.065 .135l.065-.127l.066-.127l.065-.127l.065-.127l.066-.127l.065 .135l.065-.127l.065-.126l.066 .134l.065-.126l.065 .134l.066-.126l.065-.126l.065-.125l.066-.126l.065 .134l.065-.125l.065-.125l.066 .134l.065 .133l.065 .134l.066 .134l.065 .133l.065 .133l.066-.125l.065 .133l.065-.125l.065 .133l.066 .132l.065-.124l.065 .132l.066 .132l.065-.124l.065-.125l.066 .132l.065-.124l.065-.124l.065 .132l.066 .131l.065-.124l.065-.124l.066-.123l.065-.124l.065-.123l.066 .131l.065-.123l.065-.123l.065 .131l.066 .132l.065-.123l.065-.123l.066-.123l.065-.122l.065 .131l.066 .131l.065 .13l.065-.122l.065-.122l.066-.122l.065 .13l.065 .131l.066 .13l.065-.122l.065 .13l.066 .13l.065 .129l.065-.122l.065-.121l.066-.121l.065-.122l.065 .13l.066-.121l.065 .129l.065 .129l.066-.121l.065-.121l.065 .129l.065-.12l.066 .128l.065-.12l.065 .128l.066 .129l.065 .128l.065 .128l.066-.12l.065 .128l.065-.121l.065 .128l.066-.12l.065 .128l.065 .127l.066 .127l.065-.119l.065-.12l.066 .127l.065 .127l.065 .127l.065 .126l.066 .127l.065-.12l.065-.12l.066-.119l.065-.119l.065 .126l.066 .126l.065 .126l.065 .126l.065 .126l.066-.119l.065-.119l.065-.119l.066-.119l.065-.118l.065 .125l.066 .126l.065-.119l.065-.118l.065-.118l.066-.118l.065 .125l.065-.117l.066-.118l.065-.117l.065 .125l.066-.118l.065-.117l.065 .125l.065 .125l.066 .124l.065 .124l.065 .125l.066-.117l.065-.117l.065 .124l.066-.117l.065 .124l.065 .123l.065 .124l.066-.117l.065 .124l.065 .123l.066 .123l.065 .123l.065-.116l.066-.117l.065-.116l.065 .123l.065-.116l.066 .122l.065 .123l.065 .122l.066 .122l.065 .122l.065-.116l.066-.115l.065-.116l.065-.116l.065 .122l.066-.115l.065-.115l.065 .121l.066 .122l.065-.115l.065-.115l.066 .121l.065-.115l.065-.114l.065 .121l.066-.115l.065-.114l.065-.114l.066 .121l.065-.114l.065 .121l.066-.114l.065 .12l.065-.114l.065 .121l.066 .121l.065 .12l.065 .12l.066 .12l.065-.114l.065 .12l.066 .12l.065 .12l.065 .119l.065-.113l.066-.114l.065-.113l.065 .119l.066 .119l.065 .119l.065-.113l.066 .119l.065-.113l.065-.113l.065 .119l.066 .118l.065-.113l.065-.112l.066-.113l.065-.112l.065-.113l.066 .119l.065-.112l.065 .118l.065 .118l.066-.112l.065-.112l.065-.112l.066-.112l.065 .119l.065-.112l.066 .118l.065-.112l.065 .118l.065 .118l.066-.112l.065-.111l.065 .118l.066-.111l.065 .117l.065-.111l.066 .117l.065-.111l.065 .118l.065 .116l.066-.11l.065 .117l.065 .116l.066-.11l.065 .116l.065-.11l.066-.111l.065 .117l.065 .116l.065 .116l.066 .116l.065 .116l.065 .115l.066 .116l.065 .115l.065-.11l.066 .115l.065-.11l.065 .116l.065-.11l.066-.11l.065 .115l.065-.11l.066 .115l.065-.11l.065-.109l.066-.109l.065 .114l.065 .115l.065-.109l.066-.109l.065-.109l.065-.109l.066-.109l.065 .114l.065 .115l.066-.109l.065-.108l.065-.109l.065-.108l.066 .114l.065-.108l.065 .114l.066 .114l.065-.108l.065 .114l.066-.108l.065-.108l.065-.107l.065-.108l.066-.107l.065 .113l.065 .114l.066 .113l.065 .114l.065 .113l.066-.108l.065 .113l.065 .113l.065-.107l.066 .113l.065 .112l.065-.107l.066 .113l.065-.107l.065 .112l.066-.107l.065 .113l.065 .112l.065 .112l.066-.107l.065 .112l.065-.107l.066-.106l.065-.107l.065 .112l.066-.106l.065-.106l.065 .111l.065-.106l.066-.106l.065-.105l.065 .111l.066 .111l.065 .112l.065 .111l.066-.106l.065-.106l.065 .111l.065-.105l.066 .111l.065-.106l.065-.105l.066 .111l.065-.105l.065 .11l.066-.105l.065-.104l.065 .11l.065 .11l.066-.104l.065 .11l.065-.105l.066 .11l.065-.104l.065-.105l.066-.104l.065 .11l.065 .11l.065 .109l.066-.104l.065-.104l.065 .11l.066-.104l.065 .109l.065-.104l.066-.103l.065 .109l.065 .109l.065-.104l.066 .11l.065-.104l.065 .109l.066 .109l.065 .109l.065 .108l.066-.103l.065-.104l.065 .109l.065-.103l.066 .108l.065-.103l.065-.103l.066-.103l.065 .108l.065-.102l.066 .108l.065-.103l.065-.103l.065 .108l.066 .108l.065 .108l.065 .108l.066 .107l.065 .108l.065 .107l.066 .107l.065-.102l.065-.103l.065 .107l.066 .107l.065 .107l.065 .107l.066-.102l.065 .106l.065 .107l.066 .106l.065-.102l.065-.102l.065 .106l.066-.102l.065-.102l.065-.101l.066 .106l.065 .106l.065 .106l.066 .106l.065-.102l.065 .106l.065 .105l.066 .106l.065-.102l.065-.101l.066 .105l.065-.101l.065-.101l.066 .105l.065-.101l.065-.101l.065 .105l.066-.101l.065-.101l.065 .105l.066-.1l.065-.101l.065 .105l.066-.101l.065-.1l.065 .105l.065 .104l.066 .105l.065-.1l.065-.1l.066 .104l.065 .104l.065 .105l.066 .104l.065 .104l.065-.1l.065-.1l.066 .104l.065 .103l.065 .104l.066 .104l.065-.1l.065 .103l.066-.1l.065 .104l.065-.1l.065 .103l.066-.099l.065-.1l.065 .103l.066-.099l.065 .103l.065-.099l.066-.099l.065-.099l.065 .103l.065-.099l.066-.099l.065 .103l.065 .102l.066-.098l.065 .102l.065-.099l.066 .103l.065 .102l.065-.098l.065 .102l.066 .102l.065 .102l.065-.098l.066-.099l.065 .102l.065-.098l.066 .102l.065 .102l.065-.098l.065-.098l.066 .101l.065-.098l.065 .102l.066-.098l.065 .101l.065 .102l.066-.098l.065-.098l.065 .101l.065-.097l.066-.098l.065-.097l.065 .101l.066-.097l.065 .101l.065-.097l.066 .1l.065-.097l.065-.097l.065 .101l.066 .101l.065-.097l.065 .101l.066 .1l.065 .1l.065 .101l.066-.097l.065-.097l.065 .1l.065 .1l.066 .1l.065 .1l.065 .1l.066-.097l.065 .1l.065 .1l.066 .099l.065-.096l.065-.097l.065 .1l.066 .099l.065 .099l.065 .099l.066-.096l.065-.097l.065-.096l.066 .099l.065-.096l.065 .099l.065 .099l.066 .099l.065 .098l.065-.096l.066-.096l.065-.095l.065 .098l.066 .098l.065 .099l.065-.096l.065 .098l.066 .098l.065 .098l.065 .098l.066 .098l.065-.096l.065 .098l.066 .098l.065 .097l.065 .097l.065-.095l.066-.095l.065-.096l.065 .098l.066-.096l.065 .098l.065-.096l.066 .098l.065-.095l.065-.095l.065-.095l.066-.095l.065 .097l.065-.095l.066 .097l.065-.094l.065 .097l.066 .096l.065 .097l.065-.095l.065-.094l.066-.094l.065-.095l.065-.094l.066 .097l.065 .096l.065-.094l.066 .097l.065 .096l.065-.094l.065 .096l.066 .096l.065-.094l.065 .096l.066-.093l.065-.094l.065-.094l.066 .096l.065-.093l.065 .095l.065-.093l.066-.093l.065 .095l.065 .096l.066-.093l.065-.093l.065-.093l.066-.093l.065 .095l.065-.093l.065-.092l.066-.093l.065-.093l.065-.092l.066-.093l.065 .096l.065 .095l.066 .095l.065 .095l.065-.092l.065-.092l.066-.092l.065 .095l.065-.092l.066-.092l.065-.092l.065 .095l.066 .095l.065-.092l.065-.092l.065 .095l.066-.092l.065 .095l.065 .094l.066-.091l.065-.092l.065-.091l.066-.091l.065-.092l.065-.091l.065 .095l.066-.091l.065 .094l.065-.091l.066-.091l.065-.09l.065 .094l.066 .094l.065 .094l.065-.091l.065 .094l.066 .094l.065 .094l.065 .094l.066-.091l.065 .094l.065-.091l.066 .094l.065 .093l.065-.09l.065-.09l.066-.091l.065-.09l.065 .094l.066-.091l.065-.09l.065-.089l.066 .093l.065-.09l.065-.09l.065-.09l.066-.089l.065 .093l.065 .093l.066 .093l.065 .093l.065-.089l.066 .092l.065-.089l.065-.089l.065-.09l.066 .093l.065-.089l.065-.089l.066 .092l.065 .093l.065-.089l.066-.089l.065-.089l.065-.089l.065-.088l.066-.089l.065 .093l.065-.089l.066-.088l.065-.089l.065 .093l.066-.089l.065 .093l.065-.089l.065-.088l.066 .092l.065 .093l.065-.088l.066-.088l.065-.088l.065-.088l.066-.088l.065-.088l.065-.087l.065-.088l.066 .092l.065-.087l.065-.087l.066-.088l.065-.087l.065-.087l.066 .092l.065 .092l.065-.087l.065 .092l.066-.087l.065-.087l.065 .092l.066-.087l.065 .091l.065-.086l.066 .091l.065-.087l.065 .092l.065 .091l.066 .091l.065 .092l.065 .091l.066 .091l.065-.087l.065 .091l.066 .091l.065 .091l.065 .09l.065 .091l.066 .09l.065-.086l.065-.086l.066 .09l.065-.086l.065 .09l.066 .09l.065-.086l.065 .09l.065-.086l.066-.086l.065 .09l.065-.086l.066 .09l.065-.086l.065-.086l.066 .09l.065 .09l.065-.086l.065 .09l.066 .089l.065 .09l.065 .089l.066 .09l.065-.086l.065 .089l.066 .09l.065 .089l.065-.086l.065 .089l.066-.085l.065-.086l.065-.085l.066-.086l.065-.085l.065-.085l.066 .089l.065-.085l.065-.085l.065-.085l.066-.085l.065 .089l.065-.085l.066-.085l.065 .089l.065-.085l.066 .089l.065 .089l.065 .088l.065-.084l.066-.085l.065-.084l.065-.085l.066-.084l.065-.084l.065 .088l.066-.084l.065 .089l.065-.085l.065-.084l.066-.084l.065-.083l.065 .088l.066-.084l.065-.084l.065 .089l.066-.084l.065-.084l.065 .089l.065-.084l.066-.083l.065 .088l.065-.084l.066-.083l.065 .088l.065 .088l.066-.083l.065-.083l.065-.083l.065-.083l.066-.083l.065-.083l.065-.083l.066-.083l.065-.082l.065-.083l.066 .088l.065 .088l.065 .087l.065 .088l.066 .088l.065-.083l.065 .087l.066-.082l.065 .087l.065-.082l.066 .087l.065-.082l.065 .087l.065 .087l.066-.082l.065-.082l.065-.082l.066-.082l.065-.082l.065-.082l.066 .087l.065-.082l.065 .087l.065 .087l.066 .087l.065-.082l.065-.081l.066-.082l.065 .087l.065 .086l.066-.081l.065 .087l.065 .086l.065-.081l.066-.082l.065 .087l.065-.082l.066 .087l.065 .086l.065 .086l.066-.081l.065-.081l.065-.081l.065 .086l.066-.081l.065-.081l.065 .086l.066-.081l.065 .086l.065 .086l.066 .086l.065 .085l.065 .086l.065 .086l.066 .085l.065 .086l.065-.081l.066-.081l.065 .085l.065 .086l.066 .085l.065 .085l.065 .085l.065-.08l.066-.081l.065 .085l.065-.081l.066-.08l.065 .085l.065 .085l.066-.081l.065-.08l.065-.081l.065-.08l.066-.08l.065 .085l.065 .084l.066-.08l.065 .085l.065-.08l.066 .084l.065 .085l.065 .084l.065-.08l.066-.08l.065 .085l.065-.08l.066-.08l.065 .084l.065-.079l.066-.08l.065-.08l.065 .085l.065-.08l.066-.08l.065 .085l.065 .084l.066 .084l.065 .084l.065-.08l.066-.079l.065 .084l.065-.08l.065 .084l.066-.079l.065 .084l.065 .083l.066-.079l.065-.079l.065-.079l.066-.079l.065 .084l.065 .083l.065-.079l.066-.079l.065 .084l.065 .083l.066 .083l.065-.078l.065 .083l.066 .083l.065 .083l.065 .083l.065-.079l.066 .083l.065-.078l.065-.079l.066 .083l.065 .083l.065-.079l.066 .083l.065 .083l.065 .082l.065-.078l.066-.079l.065 .083l.065-.078l.066-.079l.065-.078l.065 .082l.066 .083l.065 .082l.065-.078l.065-.078l.066 .082l.065 .082l.065-.078l.066-.078l.065 .082l.065-.077l.066-.078l.065 .082l.065-.078l.065 .082l.066 .082l.065 .082l.065-.078l.066-.078l.065 .082l.065-.078l.066-.077l.065-.078l.065 .082l.065 .082l.066 .081l.065 .082l.065 .081l.066-.077l.065-.078l.065 .082l.066-.078l.065 .082l.065-.078l.065 .082l.066-.077l.065 .081l.065-.077l.066 .081l.065-.077l.065-.077l.066 .081l.065-.077l.065 .081l.065-.077l.066-.077l.065 .081l.065 .081l.066 .08l.065 .081l.065 .081l.066-.077l.065 .081l.065 .08l.065 .081l.066 .08l.065-.077l.065-.076l.066 .08l.065 .08l.065 .08l.066 .08l.065 .08l.065 .08l.065-.076l.066-.077l.065-.076l.065 .08l.066 .08l.065 .079l.065-.076l.066 .08l.065-.077l.065-.076l.065 .08l.066-.077l.065 .08l.065-.076l.066 .079l.065 .08l.065-.076l.066 .079l.065 .079l.065 .08l.065 .079l.066 .079l.065 .079l.065 .079l.066 .079l.065 .079l.065 .079l.066-.076l.065-.076l.065-.076l.065-.076l.066-.076l.065 .079l.065-.076l.066-.076l.065 .079l.065 .079l.066-.076l.065 .079l.065 .078l.065-.075l.066-.076l.065-.075l.065-.076l.066 .079l.065 .078l.065 .078l.066 .079l.065 .078l.065-.076l.065-.075l.066 .078l.065-.075l.065 .078l.066-.075l.065 .078l.065-.075l.066-.075l.065 .078l.065 .078l.065-.075l.066-.075l.065-.075l.065-.075l.066 .078l.065 .077l.065 .078l.066 .078l.065 .077l.065 .078l.065 .077l.066 .078l.065-.075l.065-.075l.066-.075l.065-.074l.065-.075l.066 .078l.065 .077l.065-.075l.065-.074l.066-.074l.065-.075l.065-.074l.066 .077l.065-.074l.065-.074l.066 .077l.065 .077l.065-.074l.065 .077l.066-.074l.065 .077l.065 .077l.066 .077l.065 .076l.065 .077l.066 .077l.065-.074l.065 .076l.065 .077l.066-.074l.065 .077l.065 .076l.066 .076l.065-.074l.065 .077l.066 .076l.065 .076l.065 .076l.065 .076l.066-.073l.065 .076l.065 .076l.066 .076l.065 .075l.065 .076l.066-.074l.065-.073l.065 .075l.065-.073l.066 .075l.065-.073l.065-.074l.066 .076l.065-.074l.065 .076l.066-.074l.065-.073l.065 .075l.065 .076l.066 .075l.065 .076l.065 .075l.066 .075l.065 .075l.065 .075l.066 .075l.065 .075l.065-.073l.065-.073l.066 .075l.065 .075l.065 .074l.066 .075l.065-.073l.065 .075l.066 .074l.065 .075l.065 .074l.065 .075l.066 .074l.065 .075l.065-.074l.066 .075l.065-.073l.065-.074l.066-.073l.065 .075l.065 .074l.065 .074l.066-.073l.065 .074l.065-.073l.066 .074l.065-.073l.065-.072l.066 .073l.065 .074l.065 .074l.065-.073l.066 .074l.065 .074l.065 .074l.066-.073l.065-.073l.065 .074l.066-.073l.065-.072l.065 .073l.065 .074l.066 .073l.065-.072l.065-.072l.066-.073l.065 .074l.065-.073l.066-.072l.065-.072l.065-.072l.065-.073l.066-.072l.065-.072l.065-.072l.066 .074l.065 .073l.065 .073l.066-.072l.065-.071l.065-.072l.065-.072l.066 .073l.065 .073l.065-.071l.066-.072l.065-.071l.065-.072l.066-.071l.065-.072l.065 .073l.065 .073l.066 .073l.065-.071l.065-.072l.066-.071l.065-.071l.065 .073l.066 .073l.065-.071l.065 .072l.065 .073l.066-.071l.065 .073l.065 .072l.066-.071l.065 .073l.065-.071l.066-.071l.065 .072l.065-.07l.065-.071l.066 .072l.065 .073l.065 .072l.066-.071l.065 .073l.065-.071l.066 .072l.065-.071l.065 .073l.065-.071l.066 .072l.065-.071l.065 .073l.066-.071l.065-.07l.065-.071l.066-.07l.065-.071l.065 .072l.065-.07l.066 .072l.065-.07l.065 .072l.066-.07l.065 .072l.065 .071l.066-.07l.065-.07l.065-.07l.065-.07l.066 .072l.065-.07l.065-.07l.066 .072l.065-.07l.065-.07l.066 .072l.065-.07l.065 .072l.065 .071l.066-.069l.065 .071l.065 .072l.066-.07l.065-.07l.065 .072l.066-.07l.065 .072l.065-.07l.065-.069l.066 .071l.065 .071l.065 .072l.066 .071l.065-.07l.065 .071l.066 .071l.065-.069l.065-.069l.065-.069l.066 .071l.065 .071l.065-.07l.066 .071l.065 .071l.065-.069l.066 .071l.065 .071l.065 .07l.065-.069l.066-.069l.065-.069l.065-.069l.066 .071l.065 .07l.065 .071l.066 .07l.065-.069l.065 .071l.065-.069l.066-.069l.065 .071l.065 .07l.066 .07l.065 .071l.065 .07l.066-.069l.065 .07l.065 .07l.065-.069l.066 .071l.065 .07l.065-.069l.066 .07l.065-.069l.065-.068l.066-.069l.065-.068l.065-.069l.065-.068l.066-.068l.065 .069l.065 .07l.066-.068l.065-.068l.065-.068l.066 .069l.065 .07l.065 .07l.065-.068l.066-.068l.065 .069l.065 .07l.066-.068l.065-.068l.065-.068l.066-.068l.065-.068l.065 .07l.065-.068l.066-.068l.065 .07l.065 .069l.066 .069l.065-.067l.065-.068l.066 .069l.065-.067l.065 .069l.065-.068l.066-.067l.065-.068l.065-.067l.066 .069l.065 .069l.065 .07l.066-.068l.065-.067l.065-.067l.065 .069l.066-.068l.065 .069l.065 .069l.066-.067l.065 .069l.065-.067l.066 .069l.065 .069l.065-.067l.065 .069l.066 .068l.065-.067l.065-.067l.066 .069l.065 .069l.065-.067l.066 .068l.065-.067l.065-.067l.065 .069l.066-.067l.065-.067l.065-.066l.066-.067l.065-.067l.065-.066l.066 .068l.065 .069l.065 .068l.065-.066l.066-.067l.065 .068l.065 .069l.066 .068l.065-.066l.065 .068l.066 .068l.065-.066l.065-.067l.065-.066l.066-.066l.065 .068l.065-.067l.066-.066l.065-.066l.065-.066l.066 .068l.065-.066l.065-.066l.065 .068l.066-.066l.065 .068l.065 .068l.066-.066l.065-.066l.065-.066l.066-.065l.065-.066l.065-.066l.065-.065l.066 .067l.065-.065l.065-.066l.066-.065l.065 .068l.065-.066l.066-.065l.065-.066l.065-.065l.065-.065l.066 .067l.065-.065l.065 .068l.066 .068l.065 .067l.065-.065l.066-.065l.065-.065l.065-.065l.065-.065l.066 .067l.065-.065l.065 .068l.066-.065l.065 .067l.065 .068l.066 .067l.065-.065l.065 .068l.065 .067l.066 .067l.065-.065l.065-.064l.066 .067l.065 .067l.065 .067l.066-.065l.065-.064l.065-.065l.065-.065l.066 .067l.065-.064l.065 .067l.066 .067l.065 .067l.065 .067l.066 .067l.065-.065l.065-.065l.065-.064l.066 .067l.065 .067l.065 .066l.066-.064l.065-.065l.065 .067l.066 .067l.065-.065l.065 .067l.065 .067l.066-.065l.065-.064l.065-.064l.066-.064l.065-.065l.065-.064l.066 .067l.065-.064l.065 .066l.065-.064l.066-.064l.065 .067l.065 .066l.066-.064l.065-.064l.065-.064l.066-.063l.065-.064l.065 .066l.065 .066l.066-.063l.065-.064l.065 .066l.066 .066l.065 .067l.065 .066l.066 .066l.065-.064l.065 .066l.065-.064l.066-.063l.065-.064l.065 .066l.066 .066l.065 .066l.065 .066l.066 .066l.065-.064l.065-.063l.065-.064l.066-.063l.065 .066l.065 .065l.066-.063l.065-.063l.065 .066l.066-.064l.065 .066l.065-.063l.065 .065l.066-.063l.065 .066l.065 .065l.066-.063l.065 .065l.065-.063l.066 .066l.065-.063l.065-.063l.065-.063l.066-.063l.065-.063l.065-.063l.066 .066l.065-.063l.065-.063l.066-.063l.065-.062l.065-.063l.065 .065l.066-.062l.065 .065l.065 .065l.066 .065l.065 .066l.065 .065l.066 .065l.065-.063l.065-.062l.065-.063l.066-.062l.065-.063l.065 .065l.066-.062l.065 .065l.065 .065l.066 .065l.065-.063l.065-.062l.065-.062l.066-.062l.065 .065l.065 .064l.066-.062l.065-.062l.065 .065l.066 .065l.065 .064l.065 .065l.065 .064l.066 .065l.065 .064l.065 .065l.066 .064l.065 .065l.065 .064l.066 .064l.065-.062l.065 .064l.065-.062l.066-.062l.065 .065l.065 .064l.066-.062l.065 .064l.065-.062l.066 .064l.065-.062l.065 .064l.065-.062l.066-.062l.065-.061l.065 .064l.066 .064l.065 .064l.065 .063l.066 .064l.065 .064l.065 .064l.065 .063l.066-.061l.065 .063l.065 .064l.066 .063l.065-.061l.065 .063l.066 .064l.065 .063l.065 .064l.065-.062l.066 .063l.065 .064l.065 .063l.066-.062l.065-.061l.065-.062l.066 .064l.065 .063l.065 .063l.065-.062l.066-.061l.065 .063l.065-.061l.066-.062l.065 .063l.065-.061l.066-.061l.065-.062l.065-.061l.065-.061l.066 .063l.065 .063l.065-.061l.066 .063l.065 .063l.065 .063l.066 .062l.065-.061l.065-.061l.065-.061l.066 .063l.065 .063l.065 .063l.066 .062l.065 .063l.065 .062l.066 .063l.065-.061l.065-.061l.065 .063l.066-.061l.065-.061l.065-.061l.066-.061l.065-.061l.065-.06l.066-.061l.065-.061l.065 .063l.065 .062l.066-.06l.065 .062l.065 .062l.066-.06l.065 .062l.065-.06l.066-.061l.065-.06l.065-.061l.065-.06l.066 .062l.065 .062l.065 .062l.066 .063l.065-.061l.065-.06l.066 .062l.065 .062l.065-.06l.065 .062l.066 .062l.065 .062l.065-.06l.066 .062l.065-.061l.065-.06l.066 .062l.065 .062l.065-.06l.065-.06l.066-.06l.065-.06l.065-.06l.066-.06l.065 .062l.065-.06l.066-.06l.065 .062l.065 .061l.065 .062l.066 .062l.065-.06l.065 .061l.066 .062l.065 .061l.065-.059l.066 .061l.065-.06l.065 .062l.065 .061l.066 .062l.065-.06l.065-.06l.066-.059l.065 .061l.065 .061l.066-.059l.065-.06l.065 .061l.065-.059l.066-.06l.065 .061l.065 .062l.066-.06l.065 .061l.065-.059l.066-.06l.065-.059l.065-.059l.065-.06l.066 .062l.065-.06l.065-.059l.066-.059l.065 .061l.065-.059l.066-.059l.065-.059l.065 .061l.065 .061l.066 .061l.065 .061l.065 .06l.066 .061l.065 .061l.065-.059l.066 .061l.065 .06l.065-.059l.065 .061l.066-.059l.065 .061l.065-.059l.066 .061l.065-.059l.065-.059l.066-.059l.065-.059l.065-.059l.065 .061l.066 .061l.065-.059l.065 .06l.066 .061l.065 .06l.065-.058l.066 .06l.065-.059l.065 .061l.065 .06l.066 .06l.065 .06l.065 .061l.066 .06l.065 .06l.065 .06l.066 .06l.065 .06l.065 .06l.065 .06l.066 .06l.065-.059l.065-.058l.066-.059l.065 .06l.065 .06l.066-.059l.065-.058l.065-.059l.065-.058l.066 .06l.065-.059l.065 .06l.066-.058l.065-.058l.065 .059l.066 .06l.065-.058l.065-.058l.065 .059l.066 .06l.065-.058l.065 .059l.066 .06l.065 .059l.065-.058l.066 .06l.065-.059l.065 .06l.065 .059l.066 .06l.065 .059l.065 .059l.066 .059l.065 .06l.065 .059l.066-.058l.065 .059l.065-.058l.065-.058l.066 .059l.065-.058l.065 .059l.066-.058l.065-.058l.065 .059l.066 .059l.065 .059l.065 .059l.065 .059l.066-.058l.065 .059l.065-.058l.066-.058l.065 .059l.065-.058l.066 .059l.065 .059l.065-.058l.065 .059l.066 .059l.065 .058l.065 .059l.066-.058l.065-.058l.065 .059l.066 .059l.065 .058l.065 .059l.065-.058l.066 .058l.065 .059l.065-.058l.066 .058l.065 .059l.065-.058l.066-.057l.065 .058l.065-.058l.065-.057l.066 .058l.065 .059l.065-.058l.066-.057l.065 .058l.065-.058l.066-.057l.065 .058l.065 .058l.065 .059l.066 .058l.065 .058l.065 .058l.066-.058l.065 .058l.065-.057l.066 .058l.065-.057l.065 .058l.065-.058l.066-.057l.065-.057l.065 .058l.066 .058l.065-.057l.065-.058l.066-.057l.065-.057l.065 .058l.065-.057l.066 .058l.065-.057l.065-.057l.066 .058l.065-.057l.065-.057l.066 .058l.065-.057l.065 .058l.065-.057l.066-.057l.065-.057l.065-.056l.066 .057l.065-.056l.065-.057l.066-.056l.065-.057l.065 .058l.065-.057l.066 .058l.065 .057l.065-.056l.066 .057l.065-.056l.065 .057l.066 .057l.065-.056l.065 .057l.065-.056l.066-.056l.065-.057l.065 .058l.066-.057l.065 .058l.065-.056l.066-.057l.065-.056l.065-.056l.065 .057l.066-.056l.065-.056l.065 .057l.066 .057l.065-.056l.065-.056l.066-.056l.065-.056l.065 .058l.065 .057l.066-.056l.065 .057l.065 .057l.066-.056l.065-.056l.065-.056l.066-.055l.065-.056l.065-.056l.065 .057l.066 .057l.065 .057l.065-.056l.066-.055l.065 .057l.065-.056l.066-.056l.065 .057l.065 .057l.065-.055l.066 .056l.065-.055l.065-.056l.066 .057l.065-.055l.065 .056l.066 .057l.065 .057l.065-.056l.065 .057l.066-.055l.065-.056l.065-.055l.066-.055l.065 .056l.065 .057l.066-.055l.065-.056l.065-.055l.065-.055l.066-.055l.065-.055l.065 .056l.066 .057l.065 .056l.065-.055l.066 .057l.065-.056l.065 .057l.065-.055l.066 .056l.065 .057l.065 .056l.066-.055l.065-.055l.065-.055l.066 .056l.065-.055l.065-.054l.065-.055l.066-.055l.065-.055l.065-.055l.066-.054l.065 .056l.065-.055l.066 .056l.065 .057l.065 .056l.065 .056l.066 .056l.065-.055l.065-.054l.066 .056l.065 .056l.065 .056l.066 .056l.065-.055l.065 .056l.065-.054l.066-.055l.065 .056l.065-.054l.066 .055l.065-.054l.065-.055l.066-.054l.065 .056l.065 .056l.065 .056l.066 .055l.065 .056l.065-.054l.066 .055l.065-.054l.065-.054l.066-.055l.065 .056l.065 .056l.065 .055l.066-.054l.065-.054l.065-.055l.066-.054l.065 .056l.065-.054l.066-.054l.065 .055l.065-.054l.065 .056l.066-.055l.065-.054l.065-.054l.066-.054l.065 .056l.065-.054l.066 .055l.065-.054l.065-.053l.065 .055l.066-.054l.065 .056l.065-.054l.066-.054l.065-.054l.065 .056l.066-.054l.065 .055l.065-.054l.065-.053l.066 .055l.065 .055l.065 .055l.066-.053l.065-.054l.065 .055l.066-.053l.065-.054l.065 .055l.065-.053l.066 .055l.065 .055l.065-.053l.066-.054l.065-.053l.065 .055l.066 .055l.065 .055l.065 .055l.065 .055l.066-.054l.065 .055l.065-.053l.066-.054l.065 .055l.065-.053l.066-.053l.065-.054l.065-.053l.065 .055l.066-.053l.065-.053l.065-.053l.066-.054l.065-.053l.065-.053l.066 .055l.065 .055l.065-.053l.065 .055l.066 .054l.065 .055l.065-.053l.066-.053l.065-.053l.065-.053l.066 .055l.065 .054l.065-.052l.065-.053l.066-.053l.065 .054l.065-.052l.066-.053l.065-.053l.065-.053l.066 .055l.065-.053l.065-.052l.065-.053l.066-.053l.065-.052l.065 .054l.066-.052l.065 .054l.065-.052l.066-.053l.065 .055l.065 .054l.065 .055l.066 .054l.065 .054l.065 .055l.066 .054l.065 .054l.065 .055l.066-.053l.065-.052l.065 .054l.065 .054l.066-.052l.065 .054l.065 .054l.066-.052l.065-.053l.065-.052l.066 .054l.065 .054l.065-.052l.065 .054l.066 .054l.065 .054l.065-.053l.066-.052l.065 .054l.065 .054l.066-.052l.065-.052l.065 .054l.065-.053l.066-.052l.065 .054l.065 .054l.066-.052l.065-.052l.065-.052l.066 .054l.065 .053l.065-.052l.065 .054l.066 .054l.065-.052l.065-.052l.066-.052l.065-.052l.065 .054l.066 .053l.065 .054l.065 .053l.065 .054l.066-.052l.065 .054l.065 .053l.066-.052l.065 .054l.065-.052l.066 .053l.065 .054l.065-.052l.065-.052l.066 .054l.065-.052l.065 .053l.066-.051l.065 .053l.065-.052l.066-.052l.065-.051l.065 .053l.065-.051l.066-.052l.065 .053l.065-.051l.066 .053l.065-.052l.065-.051l.066 .053l.065 .053l.065-.051l.065 .053l.066 .053l.065 .053l.065-.051l.066 .053l.065-.052l.065 .053l.066 .053l.065-.051l.065 .053l.065 .053l.066-.051l.065-.052l.065-.051l.066-.051l.065 .053l.065-.052l.066 .053l.065 .053l.065-.051l.065-.051l.066 .052l.065 .053l.065-.051l.066 .053l.065 .053l.065-.051l.066-.052l.065-.051l.065-.051l.065-.051l.066 .053l.065-.051l.065 .053l.066 .052l.065 .053l.065-.051l.066-.051l.065-.051l.065-.051l.065-.051l.066 .053l.065-.051l.065-.051l.066-.051l.065 .053l.065-.051l.066-.051l.065-.05l.065 .052l.065-.051l.066-.05l.065 .052l.065-.05l.066-.051l.065-.051l.065-.05l.066-.051l.065-.05l.065-.051l.065-.05l.066-.05l.065 .052l.065 .052l.066-.05l.065 .052l.065-.05l.066 .053l.065 .052l.065-.05l.065 .052l.066 .052l.065-.05l.065-.05l.066 .052l.065 .052l.065 .052l.066 .053l.065 .052l.065-.05l.065 .052l.066-.051l.065-.05l.065-.05l.066-.05l.065-.05l.065 .052l.066 .052l.065-.05l.065-.05l.065-.05l.066 .052l.065-.05l.065-.05l.066-.05l.065 .052l.065-.05l.066-.05l.065-.05l.065 .052l.065-.05l.066-.05l.065-.05l.065-.05l.066 .052l.065 .052l.065 .052l.066 .052l.065-.05l.065 .052l.065 .052l.066 .052l.065 .052l.065 .052l.066 .051l.065-.049l.065-.05l.066-.05l.065 .052l.065-.05l.065-.05l.066 .052l.065 .052l.065-.05l.066-.049l.065-.05l.065-.05l.066-.049l.065 .051l.065-.049l.065-.05l.066-.049l.065-.049l.065 .051l.066-.049l.065-.05l.065-.049l.066 .052l.065-.05l.065 .052l.065-.049l.066 .051l.065 .052l.065-.05l.066 .052l.065-.05l.065 .052l.066 .051l.065 .052l.065 .051l.065 .051l.066-.049l.065 .051l.065-.049l.066-.049l.065 .051l.065 .052l.066 .051l.065 .051l.065-.049l.065 .051l.066-.049l.065 .051l.065 .051l.066-.049l.065 .051l.065-.049l.066-.049l.065-.049l.065 .051l.065-.049l.066 .051l.065 .051l.065-.049l.066-.049l.065 .051l.065 .051l.066-.049l.065 .051l.065 .051l.065 .051l.066 .051l.065 .05l.065-.048l.066 .05l.065 .051l.065-.049l.066 .051l.065-.049l.065-.049l.065-.049l.066-.048l.065 .05l.065 .051l.066-.049l.065-.048l.065 .05l.066 .051l.065-.049l.065-.049l.065-.048l.066 .05l.065-.048l.065-.049l.066-.049l.065 .051l.065-.049l.066-.048l.065-.049l.065 .051l.065 .051l.066 .05l.065-.048l.065 .05l.066-.048l.065 .05l.065 .05l.066 .051l.065-.049l.065-.048l.065 .05l.066 .051l.065-.049l.065-.048l.066-.049l.065-.048l.065 .05l.066-.048l.065 .05l.065-.048l.065 .05l.066-.048l.065 .05l.065-.048l.066 .05l.065 .051l.065-.049l.066 .051l.065 .05l.065 .05l.065 .05l.066 .05l.065 .05l.065-.048l.066 .05l.065 .05l.065-.048l.066-.048l.065-.049l.065 .05l.065-.048l.066-.048l.065 .05l.065-.048l.066 .05l.065 .05l.065-.048l.066-.048l.065-.048l.065 .05l.065 .05l.066-.048l.065 .05l.065 .049l.066 .05l.065 .05l.065 .05l.066-.048l.065 .049l.065 .05l.065 .05l.066 .049l.065 .05l.065 .049l.066 .05l.065-.048l.065 .05l.066 .049l.065 .049l.065-.047l.065 .049l.066-.048l.065 .05l.065 .049l.066-.048l.065 .049l.065 .05l.066-.048l.065-.048l.065-.048l.065 .05l.066-.048l.065 .049l.065 .05l.066 .049l.065-.048l.065-.048l.066-.047l.065-.048l.065 .049l.065 .049l.066-.047l.065-.048l.065 .049l.066-.047l.065-.048l.065 .049l.066 .049l.065-.047l.065-.048l.065-.047l.066-.048l.065 .05l.065-.048l.066 .049l.065-.047l.065 .049l.066-.048l.065 .049l.065-.047l.065 .049l.066-.047l.065-.048l.065-.047l.066-.047l.065-.048l.065 .049l.066-.047l.065 .049l.065 .049l.065-.047l.066 .049l.065-.047l.065-.048l.066 .049l.065-.047l.065-.047l.066 .049l.065-.047l.065 .049l.065-.048l.066-.047l.065-.047l.065 .049l.066-.047l.065-.047l.065 .049l.066-.047l.065-.047l.065-.047l.065-.047l.066 .049l.065 .049l.065-.047l.066 .048l.065-.046l.065-.047l.066 .048l.065 .049l.065 .049l.065-.047l.066-.047l.065 .049l.065 .048l.066 .049l.065 .048l.065-.046l.066 .048l.065-.047l.065-.046l.065 .048l.066-.047l.065 .049l.065-.047l.066 .049l.065 .048l.065-.047l.066 .049l.065-.047l.065 .049l.065 .048l.066-.047l.065 .049l.065-.047l.066-.047l.065 .049l.065-.047l.066-.046l.065-.047l.065-.046l.065-.047l.066 .049l.065-.047l.065-.046l.066 .048l.065 .048l.065 .048l.066 .048l.065 .049l.065-.047l.065-.046l.066-.046l.065-.047l.065-.046l.066 .048l.065-.046l.065 .048l.066-.046l.065-.047l.065 .048l.065 .049l.066 .048l.065-.047l.065-.046l.066 .048l.065 .048l.065-.046l.066-.046l.065-.046l.065-.046l.065 .048l.066-.047l.065-.046l.065-.046l.066-.046l.065 .048l.065 .048l.066 .048l.065-.046l.065 .048l.065 .048l.066-.046l.065 .048l.065 .047l.066 .048l.065-.046l.065-.046l.066-.046l.065-.045l.065 .047l.065-.046l.066-.045l.065 .047l.065-.046l.066 .048l.065 .048l.065-.046l.066-.046l.065 .048l.065-.046l.065-.046l.066 .048l.065-.046l.065 .048l.066-.046l.065 .048l.065 .047l.066 .048l.065-.046l.065-.045l.065 .047l.066-.045l.065 .047l.065-.046l.066-.045l.065 .047l.065-.045l.066 .047l.065 .048l.065-.046l.065-.045l.066 .047l.065 .047l.065 .048l.066 .047l.065 .047l.065-.045l.066-.046l.065-.045l.065 .047l.065-.045l.066 .047l.065 .047l.065 .047l.066-.045l.065 .047l.065-.045l.066-.046l.065-.045l.065 .047l.065 .047l.066-.045l.065-.045l.065-.046l.066-.045l.065-.045l.065-.045l.066 .047l.065-.045l.065 .047l.065-.045l.066 .047l.065 .047l.065 .047l.066-.045l.065-.046l.065-.045l.066 .047l.065 .047l.065 .047l.065 .047l.066-.045l.065-.045l.065-.045l.066 .047l.065-.045l.065-.045l.066 .047l.065 .047l.065-.045l.065-.045l.066-.045l.065-.045l.065-.045l.066 .047l.065 .046l.065 .047l.066-.045l.065-.044l.065 .046l.065-.045l.066 .047l.065-.045l.065 .047l.066 .047l.065 .047l.065-.045l.066-.045l.065-.045l.065-.045l.065-.044l.066 .046l.065-.044l.065 .046l.066-.044l.065 .046l.065 .047l.066-.045l.065-.044l.065 .046l.065 .047l.066-.045l.065-.045l.065 .047l.066-.045l.065-.044l.065-.045l.066-.044l.065 .046l.065 .047l.065 .046l.066-.044l.065-.045l.065 .047l.066 .046l.065 .047l.065 .046l.066-.045l.065 .047l.065-.045l.065 .047l.066 .046l.065 .046l.065 .047l.066 .046l.065 .046l.065-.044l.066 .046l.065-.045l.065-.044l.065-.044l.066 .046l.065-.044l.065-.045l.066 .046l.065 .047l.065 .046l.066 .046l.065 .046l.065-.044l.065 .046l.066 .046l.065 .046l.065 .046l.066 .046l.065 .046l.065-.045l.066 .046l.065-.044l.065 .046l.065-.044l.066-.045l.065-.044l.065-.044l.066 .046l.065-.044l.065 .046l.066 .045l.065 .046l.065-.044l.065-.044l.066 .046l.065 .046l.065 .045l.066 .046l.065-.044l.065-.044l.066-.044l.065-.044l.065 .046l.065 .045l.066 .046l.065-.044l.065-.044l.066-.044l.065 .046l.065 .045l.066 .046l.065-.044l.065-.044l.065 .045l.066 .046l.065-.044l.065-.044l.066-.044l.065-.044l.065 .046l.066 .045l.065-.043l.065 .045l.065-.044l.066 .046l.065 .045l.065 .046l.066 .045l.065-.044l.065-.044l.066-.043l.065 .045l.065 .045l.065-.043l.066 .045l.065-.044l.065-.043l.066 .045l.065 .045l.065-.043l.066 .045l.065-.044l.065 .045l.065 .046l.066 .045l.065-.044l.065 .046l.066 .045l.065-.044l.065-.044l.066 .046l.065 .045l.065 .045l.065-.044l.066 .045l.065-.043l.065-.044l.066 .045l.065 .045l.065 .045l.066-.043l.065-.044l.065-.043l.065 .045l.066-.044l.065 .045l.065 .045l.066-.043l.065 .045l.065 .045l.066 .045l.065-.044l.065 .045l.065 .045l.066-.043l.065-.044l.065 .045l.066 .045l.065 .045l.065-.044l.066 .045l.065 .045l.065 .045l.065-.044l.066 .045l.065 .045l.065-.043l.066 .044l.065 .045l.065-.043l.066-.044l.065 .045l.065 .045l.065 .044l.066-.043l.065-.043l.065 .044l.066 .045l.065-.044l.065-.043l.066-.043l.065-.043l.065 .044l.065 .045l.066 .044l.065-.043l.065 .045l.066-.043l.065 .044l.065 .045l.066-.044l.065-.043l.065-.043l.065-.043l.066 .045l.065 .044l.065 .044l.066-.043l.065 .045l.065 .044l.066 .044l.065 .045l.065-.043l.065 .044l.066-.043l.065 .044l.065-.043l.066 .044l.065-.043l.065 .045l.066 .044l.065 .044l.065 .044l.065 .044l.066 .044l.065 .045l.065 .044l.066 .044l.065 .044l.065 .044l.066 .044l.065 .044l.065 .044l.065 .044l.066-.043l.065-.043l.065-.043l.066-.043l.065-.043l.065-.043l.066-.043l.065-.042l.065 .044l.065 .043l.066-.042l.065 .044l.065-.043l.066-.043l.065 .044l.065-.043l.066-.043l.065-.042l.065 .043l.065-.042l.066-.043l.065-.043l.065 .044l.066 .044l.065-.043l.065-.042l.066-.043l.065-.042l.065-.043l.065 .044l.066-.043l.065-.042l.065-.043l.066-.042l.065-.043l.065 .044l.066-.043l.065 .044l.065-.042l.065-.043l.066-.042l.065-.042l.065 .043l.066 .044l.065-.042l.065-.043l.066 .044l.065 .044l.065-.043l.065 .044l.066 .044l.065 .043l.065-.042l.066 .044l.065 .043l.065-.042l.066-.042l.065 .043l.065 .044l.065-.043l.066 .044l.065-.042l.065-.043l.066-.042l.065-.042l.065-.042l.066 .043l.065 .044l.065-.042l.065 .043l.066-.042l.065-.042l.065-.042l.066 .043l.065 .044l.065 .043l.066-.042l.065 .043l.065 .044l.065 .043l.066 .043l.065-.042l.065-.042l.066-.042l.065 .044l.065 .043l.066-.042l.065 .043l.065-.042l.065-.042l.066 .043l.065-.041l.065-.042l.066 .043l.065 .043l.065 .043l.066 .043l.065 .044l.065-.042l.065-.042l.066-.042l.065 .043l.065-.042l.066-.042l.065-.042l.065 .044l.066 .043l.065 .043l.065 .043l.065 .043l.066-.042l.065-.042l.065-.042l.066 .044l.065-.042l.065 .043l.066 .043l.065 .043l.065-.042l.065 .043l.066 .043l.065-.042l.065-.042l.066 .043l.065-.041l.065-.042l.066-.042l.065-.041l.065-.042l.065-.041l.066-.042l.065-.042l.065-.041l.066-.042l.065-.041l.065-.042l.066-.041l.065 .043l.065 .043l.065 .042l.066-.041l.065 .043l.065 .043l.066 .042l.065-.041l.065-.041l.066 .042l.065 .043l.065-.041l.065 .042l.066-.041l.065 .043l.065-.042l.066 .043l.065 .043l.065 .043l.066-.042l.065 .043l.065 .042l.065 .043l.066 .043l.065 .042l.065 .043l.066-.042l.065-.041l.065 .043l.066 .042l.065-.041l.065-.041l.065 .042l.066 .043l.065 .042l.065 .042l.066 .043l.065 .042l.065 .043l.066 .042l.065 .042l.065 .043l.065-.041l.066-.042l.065 .043l.065-.042l.066 .043l.065 .042l.065 .042l.066-.041l.065 .042l.065 .042l.065 .043l.066 .042l.065-.041l.065-.042l.066-.041l.065-.041l.065-.041l.066-.041l.065 .042l.065-.041l.065 .042l.066-.041l.065 .042l.065-.041l.066-.041l.065 .042l.065 .042l.066 .042l.065-.041l.065 .043l.065 .042l.066 .042l.065 .042l.065-.041l.066 .042l.065 .042l.065-.041l.066-.041l.065-.041l.065-.041l.065 .042l.066-.041l.065 .042l.065-.041l.066-.041l.065-.041l.065-.041l.066-.041l.065 .042l.065-.041l.065 .042l.066 .042l.065 .042l.065-.041l.066 .042l.065 .042l.065 .042l.066-.041l.065-.041l.065 .042l.065-.041l.066 .042l.065 .042l.065 .042l.066-.041l.065-.041l.065 .042l.066 .042l.065 .041l.065 .042l.065-.041l.066-.04l.065-.041l.065 .041l.066-.04l.065-.041l.065 .042l.066 .041l.065-.04l.065 .041l.065-.04l.066-.041l.065-.04l.065-.041l.066 .042l.065 .041l.065-.04l.066 .041l.065-.04l.065-.041l.065-.04l.066 .041l.065 .042l.065 .041l.066-.04l.065-.041l.065-.04l.066-.04l.065-.041l.065-.04l.065-.041l.066 .042l.065 .041l.065 .042l.066 .041l.065-.04l.065 .041l.066 .042l.065 .041l.065-.04l.065-.041l.066-.04l.065 .042l.065-.041l.066 .042l.065 .041l.065-.04l.066 .041l.065 .041l.065 .041l.065-.04l.066 .041l.065-.04l.065-.04l.066-.04l.065-.04l.065-.04l.066-.041l.065 .042l.065 .041l.065-.04l.066-.04l.065-.041l.065 .042l.066 .041l.065-.04l.065 .041l.066-.04l.065-.04l.065-.04l.065 .041l.066-.04l.065-.04l.065-.04l.066-.04l.065-.04l.065-.04l.066-.04l.065 .041l.065-.04l.065-.039l.066 .041l.065-.04l.065-.04l.066-.04l.065-.04l.065 .041l.066-.039l.065-.04l.065-.04l.065 .041l.066-.04l.065 .041l.065-.039l.066-.04l.065 .041l.065 .041l.066-.04l.065 .041l.065-.039l.065-.04l.066 .041l.065 .041l.065 .041l.066 .041l.065 .041l.065-.04l.066-.04l.065 .041l.065-.039l.065-.04l.066-.04l.065 .041l.065-.039l.066 .041l.065 .04l.065-.039l.066 .041l.065-.04l.065-.039l.065-.04l.066-.039l.065-.04l.065-.039l.066 .041l.065-.04l.065 .041l.066 .041l.065-.04l.065-.039l.065 .041l.066-.04l.065 .041l.065 .041l.066 .04l.065-.039l.065-.039l.066-.04l.065-.039l.065-.039l.065-.04l.066 .041l.065-.039l.065-.04l.066-.039l.065-.039l.065-.039l.066-.039l.065 .04l.065 .041l.065 .041l.066-.04l.065-.039l.065 .041l.066-.039l.065 .04l.065-.039l.066-.039l.065-.039l.065-.039l.065 .04l.066-.039l.065-.039l.065 .041l.066 .04l.065 .041l.065 .04l.066 .041l.065-.039l.065-.039l.065-.039l.066 .04l.065-.039l.065-.039l.066-.039l.065 .041l.065 .04l.066-.039l.065 .041l.065 .04l.065 .041l.066 .04l.065 .04l.065-.039l.066 .041l.065-.039l.065-.039l.066-.039l.065-.039l.065 .04l.065-.038l.066 .04l.065-.039l.065-.039l.066 .041l.065 .04l.065 .04l.066 .04l.065-.038l.065-.039l.065-.039l.066 .04l.065 .04l.065 .041l.066-.039l.065 .04l.065-.039l.066-.038l.065-.039l.065-.039l.065-.039l.066-.038l.065 .04l.065 .04l.066-.039l.065-.038l.065-.039l.066-.038l.065 .04l.065-.039l.065-.038l.066 .04l.065-.039l.065 .04l.066 .04l.065 .04l.065 .04l.066 .04l.065 .04l.065-.038l.065 .04l.066-.039l.065-.038l.065-.039l.066-.038l.065 .04l.065-.039l.066-.038l.065 .04l.065 .04l.065-.039l.066 .04l.065-.038l.065 .04l.066 .04l.065 .04l.065 .039l.066 .04l.065-.038l.065-.038l.065-.039l.066 .04l.065-.038l.065-.039l.066 .04l.065 .04l.065-.038l.066 .039l.065-.038l.065-.038l.065-.039l.066 .04l.065 .04l.065 .04l.066 .039l.065 .04l.065-.038l.066-.038l.065-.039l.065-.038l.065-.038l.066 .04l.065 .039l.065-.038l.066 .04l.065-.038l.065 .039l.066-.038l.065 .04l.065-.039l.065 .04l.066-.038l.065-.038l.065 .039l.066 .04l.065 .04l.065 .039l.066 .04l.065-.038l.065 .039l.065 .04l.066-.039l.065-.038l.065 .04l.066-.038l.065 .039l.065 .04l.066-.038l.065-.038l.065 .039l.065 .039l.066 .04l.065-.038l.065 .039l.066 .04l.065 .039l.065-.038l.066 .039l.065 .04l.065 .039l.065 .039l.066 .04l.065-.038l.065 .039l.066 .039l.065 .039l.065 .04l.066 .039l.065-.038l.065 .039l.065 .039l.066-.038l.065 .039l.065 .039l.066-.038l.065 .04l.065-.038l.066-.038l.065 .039l.065-.038l.065 .039l.066-.038l.065 .039l.065 .039l.066 .039l.065 .039l.065-.038l.066-.037l.065-.038l.065 .039l.065 .039l.066-.038l.065-.038l.065 .039l.066-.038l.065 .039l.065-.038l.066 .039l.065 .039l.065 .039l.065 .039l.066-.038l.065-.037l.065 .039l.066-.038l.065-.038l.065 .039l.066-.038l.065 .039l.065 .039l.065 .039l.066 .039l.065 .038l.065-.037l.066 .038l.065-.037l.065-.038l.066 .039l.065 .039l.065-.038l.065 .039l.066-.038l.065-.038l.065-.037l.066-.038l.065 .039l.065-.038l.066-.037l.065-.038l.065 .039l.065-.038l.066 .039l.065-.038l.065-.037l.066-.038l.065 .039l.065 .039l.066-.038l.065-.037l.065-.038l.065 .039l.066 .039l.065-.038l.065 .039l.066 .038l.065 .039l.065 .039l.066 .038l.065 .039l.065-.038l.065-.037l.066-.038l.065 .039l.065 .038l.066 .039l.065-.037l.065 .038l.066 .039l.065 .038l.065-.037l.065 .038l.066 .038l.065 .039l.065-.037l.066-.038l.065-.037l.065-.038l.066-.037l.065 .039l.065-.038l.065-.037l.066 .038l.065 .039l.065-.038l.066-.037l.065-.037l.065-.037l.066 .038l.065-.037l.065 .038l.065-.037l.066 .038l.065-.037l.065-.037l.066-.037l.065 .038l.065-.037l.066-.037l.065-.037l.065 .038l.065 .038l.066 .039l.065 .038l.065-.037l.066-.037l.065-.037l.065 .038l.066-.037l.065-.037l.065-.037l.065-.037l.066 .038l.065-.037l.065 .038l.066 .038l.065 .038l.065-.037l.066-.036l.065 .038l.065-.037l.065-.037l.066-.037l.065-.037l.065 .038l.066-.037l.065-.037l.065 .038l.066 .039l.065-.037l.065 .038l.065-.037l.066 .038l.065-.037l.065-.037l.066-.037l.065-.036l.065 .038l.066 .038l.065-.037l.065-.037l.065-.037l.066-.036l.065-.037l.065 .038l.066 .038l.065 .038l.065-.037l.066 .038l.065 .038l.065-.036l.065-.037l.066 .038l.065 .038l.065-.037l.066 .038l.065-.037l.065-.036l.066 .038l.065-.037l.065-.037l.065-.036l.066 .038l.065-.037l.065-.036l.066-.037l.065-.037l.065 .038l.066-.036l.065-.037l.065 .038l.065-.036l.066-.037l.065-.036l.065-.037l.066-.036l.065-.037l.065-.036l.066-.037l.065-.036l.065 .038l.065 .038l.066-.037l.065-.036l.065-.036l.066-.037l.065-.036l.065 .038l.066-.037l.065-.036l.065-.036l.065-.036l.066 .037l.065-.036l.065 .038l.066 .038l.065-.037l.065 .038l.066 .038l.065 .038l.065 .037l.065-.036l.066-.036l.065 .038l.065 .037l.066 .038l.065-.036l.065-.036l.066 .037l.065 .038l.065 .038l.065-.037l.066 .038l.065-.036l.065-.036l.066 .037l.065-.036l.065 .038l.066-.036l.065 .037l.065 .038l.065-.036l.066-.037l.065-.036l.065-.036l.066-.036l.065-.036l.065 .038l.066-.036l.065-.036l.065-.036l.065-.036l.066 .037l.065-.036l.065-.036l.066 .038l.065-.036l.065-.036l.066 .037l.065-.036l.065 .038l.065-.036l.066 .037l.065-.035l.065 .037l.066 .037l.065 .038l.065 .037l.066 .038l.065 .037l.065-.036l.065 .038l.066-.036l.065 .037l.065 .037l.066 .038l.065-.036l.065-.036l.066 .037l.065 .038l.065 .037l.065 .037l.066-.036l.065-.035l.065 .037l.066-.036l.065 .037l.065 .037l.066-.035l.065 .037l.065 .037l.065 .037l.066 .037l.065 .038l.065 .037l.066 .037l.065-.036l.065 .037l.066 .037l.065 .037l.065 .038l.065-.036l.066 .037l.065 .037l.065 .037l.066-.036l.065 .037l.065-.036l.066-.035l.065 .037l.065-.036l.065 .037l.066-.036l.065-.035l.065-.036l.066 .037l.065-.036l.065-.036l.066 .037l.065 .037l.065 .037l.065-.035l.066-.036l.065 .037l.065-.036l.066 .037l.065-.035l.065 .037l.066-.036l.065 .037l.065 .037l.065-.036l.066-.035l.065 .036l.065-.035l.066-.036l.065 .037l.065-.035l.066 .036l.065-.035l.065-.036l.065 .037l.066 .037l.065 .037l.065-.036l.066 .037l.065 .037l.065-.036l.066 .037l.065 .037l.065 .037l.065-.036l.066-.035l.065 .036l.065 .037l.066-.035l.065 .036l.065-.035l.066 .037l.065 .036l.065 .037l.065 .036l.066 .037l.065-.035l.065 .036l.066 .037l.065 .036l.065-.035l.066 .037l.065 .036l.065-.035l.065-.036l.066-.035l.065 .036l.065-.035l.066 .037l.065 .036l.065 .037l.066-.036l.065-.035l.065-.035l.065-.036l.066-.035l.065 .037l.065 .036l.066-.035l.065 .036l.065 .037l.066 .036l.065 .036l.065-.035l.065 .037l.066-.036l.065 .037l.065-.036l.066-.035l.065-.035l.065-.035l.066-.035l.065-.036l.065-.035l.065 .037l.066 .036l.065 .036l.065 .037l.066 .036l.065 .036l.065-.035l.066 .036l.065-.035l.065-.035l.065 .036l.066-.035l.065 .037l.065-.036l.066 .037l.065 .036l.065 .036l.066-.035l.065 .036l.065-.035l.065 .036l.066-.035l.065-.035l.065 .036l.066 .037l.065-.035l.065 .036l.066 .036l.065 .036l.065-.035l.065-.035l.066 .036l.065 .036l.065 .036l.066-.035l.065-.035l.065 .036l.066-.035l.065 .036l.065-.035l.065-.034l.066 .036l.065-.035l.065-.035l.066-.035l.065 .036l.065 .036l.066 .036l.065 .036l.065 .036l.065-.035l.066-.035l.065 .036l.065 .036l.066 .036l.065 .036l.065-.035l.066-.035l.065-.035l.065-.035l.065 .036l.066 .036l.065-.035l.065 .036l.066-.035l.065-.034l.065 .036l.066-.035l.065 .036l.065 .035l.065-.034l.066 .036l.065-.035l.065 .036l.066 .035l.065-.034l.065-.035l.066 .036l.065 .035l.065-.034l.065 .035l.066-.034l.065-.035l.065-.035l.066 .036l.065-.035l.065-.034l.066-.035l.065-.034l.065-.035l.065 .036l.066-.035l.065 .036l.065-.035l.066 .036l.065 .036l.065 .035l.066 .036l.065 .036l.065-.035l.065-.035l.066-.034l.065 .036l.065 .035l.066 .036l.065 .035l.065-.034l.066-.035l.065-.034l.065-.035l.065 .036l.066 .035l.065-.034l.065-.035l.066-.034l.065 .036l.065-.035l.066 .036l.065-.035l.065 .036l.065-.035l.066-.034l.065-.035l.065 .036l.066-.034l.065-.035l.065 .036l.066 .035l.065 .036l.065 .035l.065 .036l.066 .035l.065 .035l.065 .036l.066-.034l.065-.035l.065 .036l.066-.035l.065 .036l.065 .035l.065 .035l.066 .036l.065 .035l.065 .035l.066 .036l.065-.035l.065 .036l.066 .035l.065 .035l.065 .036l.065 .035l.066 .035l.065 .035l.065-.034l.066-.034l.065 .035l.065-.034l.066 .035l.065-.034l.065 .035l.065 .035l.066 .035l.065 .035l.065-.034l.066-.034l.065 .035l.065 .035l.066-.034l.065 .035l.065 .035l.065 .035l.066 .035l.065 .035l.065-.034l.066-.034l.065 .035l.065 .035l.066 .035l.065 .035l.065-.034l.065 .035l.066 .035l.065 .035l.065-.035l.066-.034l.065 .035l.065-.034l.066 .035l.065 .035l.065-.034l.065 .035l.066-.034l.065-.035l.065-.034l.066-.034l.065-.034l.065-.034l.066-.034l.065 .035l.065 .035l.065-.034l.066-.035l.065-.034l.065-.034l.066 .035l.065 .035l.065-.034l.066-.034l.065 .035l.065 .035l.065-.034l.066-.034l.065 .035l.065-.034l.066 .035l.065-.034l.065-.034l.066-.034l.065-.034l.065-.034l.065 .035l.066 .034l.065-.034l.065-.033l.066 .034l.065 .035l.065 .035l.066-.034l.065 .035l.065-.034l.065-.034l.066-.034l.065 .035l.065-.034l.066 .035l.065-.034l.065-.034l.066-.034l.065 .035l.065 .035l.065-.034l.066 .035l.065-.034l.065-.034l.066-.034l.065-.033l.065-.034l.066 .035l.065 .034l.065-.034l.065-.033l.066-.034l.065-.034l.065-.033l.066-.034l.065 .035l.065-.034l.066 .035l.065 .034l.065 .035l.065-.034l.066 .035l.065-.034l.065 .035l.066-.034l.065-.033l.065-.034l.066 .035l.065-.034l.065-.034l.065 .035l.066 .035l.065 .034l.065 .035l.066-.034l.065-.033l.065 .034l.066 .035l.065 .034l.065-.033l.065-.034l.066-.033l.065 .034l.065 .034l.066 .035l.065-.034l.065-.033l.066 .034l.065 .035l.065-.034l.065-.033l.066-.034l.065-.033l.065 .034l.066-.033l.065 .034l.065-.033l.066-.033l.065-.034l.065-.033l.065 .034l.066-.033l.065-.034l.065-.033l.066 .034l.065 .035l.065 .034l.066-.033l.065 .034l.065 .035l.065-.034l.066 .035l.065-.034l.065 .034l.066-.033l.065-.033l.065 .034l.066 .034l.065 .035l.065-.034l.065-.033l.066-.033l.065 .034l.065 .034l.066-.033l.065-.033l.065-.033l.066 .034l.065 .034l.065 .034l.065-.033l.066-.033l.065 .034l.065 .034l.066-.033l.065-.033l.065 .034l.066 .034l.065-.033l.065-.033l.065 .034l.066 .034l.065-.033l.065-.033l.066-.033l.065 .034l.065-.033l.066-.033l.065 .034l.065 .034l.065 .034l.066 .034l.065-.033l.065 .034l.066-.033l.065 .034l.065-.033l.066 .034l.065-.033l.065-.033l.065 .034l.066-.033l.065-.033l.065-.033l.066-.033l.065-.033l.065-.033l.066 .034l.065-.033l.065 .034l.065 .034l.066-.033l.065-.033l.065 .034l.066-.033l.065-.033l.065-.033l.066 .034l.065-.033l.065-.032l.065-.033l.066-.033l.065 .034l.065-.033l.066 .034l.065 .034l.065-.033l.066-.033l.065 .034l.065 .034l.065 .034l.066 .034l.065-.033l.065 .034l.066-.033l.065 .034l.065-.033l.066-.033l.065 .034l.065 .034l.065-.033l.066 .034l.065-.033l.065 .034l.066-.033l.065-.032l.065 .033l.066 .034l.065 .034l.065-.033l.065 .034l.066 .034l.065 .034l.065-.033l.066 .034l.065 .033l.065-.032l.066-.033l.065 .034l.065-.033l.065 .034l.066 .033l.065-.032l.065 .033l.066-.032l.065 .033l.065 .034l.066-.033l.065-.032l.065-.033l.065 .034l.066 .033l.065-.032l.065-.033l.066 .034l.065-.033l.065 .034l.066-.033l.065-.032l.065 .033l.065-.032l.066-.033l.065-.032l.065 .033l.066-.032l.065-.033l.065-.032l.066 .033l.065 .034l.065 .033l.065-.032l.066-.033l.065-.032l.065 .033l.066 .034l.065-.033l.065-.032l.066-.033l.065-.032l.065 .033l.065-.032l.066-.032l.065-.033l.065 .034l.066 .033l.065 .034l.065 .033l.066-.032l.065-.033l.065-.032l.065-.032l.066 .033l.065-.032l.065-.033l.066 .034l.065 .033l.065 .034l.066-.033l.065-.032l.065-.032l.065 .033l.066 .034l.065 .033l.065 .033l.066 .034l.065-.033l.065-.032l.066-.032l.065-.032l.065 .033l.065-.032l.066-.033l.065-.032l.065 .034l.066-.033l.065 .034l.065-.033l.066 .034l.065-.032l.065-.033l.065 .034l.066-.033l.065 .034l.065 .033l.066-.032l.065 .033l.065-.032l.066-.032l.065-.032l.065 .033l.065-.032l.066 .033l.065 .033l.065 .034l.066 .033l.065 .033l.065-.032l.066 .033l.065-.032l.065 .033l.065 .033l.066 .034l.065-.032l.065 .033l.066 .033l.065 .033l.065-.032l.066-.032l.065 .033l.065 .033l.065-.032l.066 .033l.065 .033l.065-.032l.066 .033l.065-.032l.065 .033l.066 .033l.065 .033l.065-.032l.065 .033l.066-.032l.065-.032l.065 .033l.066 .033l.065-.032l.065 .033l.066 .033l.065 .033l.065 .033l.065-.032l.066 .033l.065-.032l.065-.032l.066 .033l.065-.032l.065 .033l.066 .033l.065-.032l.065 .033l.065 .033l.066 .033l.065-.032l.065 .033l.066-.032l.065-.032l.065 .033l.066-.032l.065 .033l.065 .033l.065 .032l.066-.031l.065 .032l.065 .033l.066 .033l.065 .033l.065 .033l.066-.032l.065 .032l.065-.031l.065 .032l.066 .033l.065-.032l.065 .033l.066-.032l.065 .033l.065 .033l.066 .032l.065 .033l.065 .033l.065 .032l.066 .033l.065 .033l.065 .032l.066-.032l.065 .033l.065 .033l.066 .032l.065-.031l.065 .032l.065 .033l.066-.032l.065 .032l.065 .033l.066 .033l.065-.032l.065-.032l.066-.032l.065-.032l.065 .033l.065 .032l.066 .033l.065 .032l.065-.031l.066-.032l.065 .032l.065 .033l.066-.032l.065 .033l.065-.032l.065 .032l.066 .033l.065 .032l.065 .033l.066 .032l.065-.032l.065 .033l.066 .032l.065 .033l.065-.032l.065-.032l.066 .033l.065-.032l.065 .032l.066-.031l.065 .032l.065-.032l.066-.031l.065-.032l.065 .032l.065-.031l.066 .032l.065 .032l.065 .033l.066-.032l.065 .032l.065 .033l.066 .032l.065-.032l.065 .032l.065-.031l.066 .032l.065 .032l.065-.031l.066 .032l.065-.032l.065 .033l.066-.032l.065 .032l.065-.031l.065-.032l.066-.032l.065 .033l.065-.032l.066-.031l.065 .032l.065-.032l.066-.031l.065-.032l.065-.031l.065-.032l.066 .032l.065-.031l.065-.032l.066-.031l.065-.032l.065-.031l.066 .032l.065-.031l.065 .032l.065 .032l.066-.031l.065 .032l.065-.032l.066 .033l.065-.032l.065 .032l.066-.031l.065-.032l.065-.031l.065-.031l.066-.032l.065-.031l.065-.031l.066-.032l.065 .032l.065-.031l.066 .032l.065-.031l.065 .032l.065-.031l.066-.032l.065-.031l.065-.031l.066-.031l.065-.032l.065 .032l.066-.031l.065-.031l.065-.031l.065-.031l.066 .032l.065-.032l.065-.031l.066-.031l.065-.031l.065-.031l.066 .032l.065-.031l.065-.031l.065 .032l.066 .032l.065-.031l.065 .032l.066-.032l.065-.031l.065-.031l.066-.031l.065-.031l.065-.031l.065-.031l.066 .032l.065 .032l.065 .032l.066-.031l.065 .032l.065 .032l.066 .032l.065-.031l.065-.031l.065-.031l.066-.031l.065-.031l.065 .032l.066 .032l.065-.031l.065-.031l.066-.031l.065 .032l.065 .032l.065-.031l.066-.031l.065 .032l.065-.031l.066 .032l.065 .032l.065 .031l.066 .032l.065-.031l.065-.031l.065-.03l.066-.031l.065 .031l.065-.03l.066 .031l.065 .032l.065 .032l.066 .032l.065-.031l.065 .032l.065 .032l.066-.031l.065 .032l.065-.031l.066-.031l.065-.031l.065 .032l.066 .032l.065 .031l.065 .032l.065 .032l.066-.031l.065 .032l.065 .032l.066 .031l.065 .032l.065 .032l.066 .031l.065-.031l.065 .032l.065 .032l.066-.031l.065 .032l.065-.031l.066-.031l.065 .032l.065 .031l.066 .032l.065-.031l.065 .032l.065-.031l.066 .032l.065-.031l.065-.031l.066-.031l.065-.03l.065 .031l.066-.031l.065 .032l.065 .032l.065-.031l.066-.031l.065 .032l.065-.031l.066-.031l.065 .032l.065-.031l.066 .032l.065-.031l.065 .032l.065-.031l.066 .032l.065-.031l.065 .031l.066-.03l.065-.031l.065 .032l.066 .031l.065 .032l.065 .031l.065-.031l.066-.03l.065 .031l.065-.03l.066-.031l.065-.031l.065 .032l.066-.031l.065 .032l.065 .031l.065-.03l.066 .031l.065-.03l.065-.031l.066 .031l.065 .032l.065-.031l.066-.03l.065-.031l.065 .032l.065-.031l.066-.03l.065 .031l.065-.031l.066 .032l.065 .031l.065 .032l.066 .031l.065 .031l.065-.03l.065 .031l.066 .031l.065-.03l.065-.031l.066-.03l.065-.03l.065 .031l.066 .031l.065-.03l.065 .031l.065-.03l.066-.031l.065-.03l.065-.031l.066 .032l.065 .031l.065-.03l.066-.031l.065 .031l.065-.03l.065 .031l.066-.03l.065 .031l.065 .031l.066 .032l.065 .031l.065-.031l.066 .032l.065-.031l.065-.03l.065-.03l.066-.031l.065 .031l.065-.03l.066 .031l.065-.03l.065-.03l.066-.03l.065-.031l.065-.03l.065-.03l.066 .031l.065-.03l.065-.031l.066 .032l.065 .031l.065-.03l.066-.031l.065 .031l.065 .032l.065 .031l.066 .031l.065-.03l.065 .031l.066-.031l.065 .032l.065-.031l.066-.03l.065-.03l.065-.03l.065-.03l.066 .031l.065-.03l.065-.03l.066 .031l.065-.03l.065 .031l.066 .031l.065-.03l.065 .031l.065 .031l.066-.031l.065 .031l.065 .032l.066-.031l.065-.03l.065-.03l.066-.03l.065 .031l.065-.03l.065-.03l.066 .031l.065 .031l.065 .031l.066-.03l.065 .031l.065 .031l.066 .031l.065 .031l.065 .031l.065-.03l.066-.03l.065-.03l.065-.03l.066 .031l.065-.03l.065 .03l.066-.03l.065-.029l.065 .03l.065 .031l.066-.03l.065 .031l.065 .031l.066-.03l.065 .031l.065 .031l.066 .031l.065-.03l.065-.03l.065-.03l.066-.03l.065 .031l.065-.03l.066 .031l.065 .03l.065 .031l.066-.03l.065-.03l.065 .031l.065-.03l.066 .031l.065 .031l.065-.03l.066-.03l.065-.03l.065 .031l.066 .031l.065-.03l.065 .031l.065-.03l.066 .031l.065 .03l.065-.03l.066 .031l.065-.03l.065-.029l.066 .03l.065-.03l.065 .031l.065-.03l.066-.029l.065 .03l.065-.03l.066-.029l.065 .03l.065-.029l.066-.03l.065 .031l.065 .03l.065-.03l.066 .031l.065 .031l.065 .03l.066-.029l.065-.03l.065 .03l.066 .031l.065-.03l.065 .031l.065 .031l.066-.03l.065-.03l.065 .031l.066-.03l.065 .031l.065 .03l.066-.03l.065 .031l.065 .031l.065-.03l.066 .03l.065-.029l.065-.03l.066-.029l.065-.03l.065 .03l.066-.029l.065-.03l.065 .031l.065 .03l.066-.029l.065 .03l.065 .031l.066-.03l.065-.03l.065-.029l.066-.03l.065 .031l.065 .03l.065-.029l.066 .03l.065 .03l.065 .031l.066-.03l.065 .031l.065-.03l.066 .031l.065 .03l.065-.029l.065 .03l.066-.03l.065-.029l.065-.03l.066-.029l.065 .03l.065-.029l.066 .03l.065 .031l.065-.03l.065 .03l.066 .031l.065 .03l.065 .03l.066-.029l.065 .03l.065-.029l.066 .03l.065-.029l.065 .03l.065 .03l.066-.029l.065 .03l.065 .03l.066-.029l.065 .03l.065 .03l.066 .031l.065 .03l.065-.03l.065 .031l.066-.03l.065-.029l.065-.03l.066-.029l.065-.029l.065-.03l.066 .031l.065-.03l.065 .03l.065-.029l.066 .03l.065-.029l.065 .03l.066-.029l.065-.03l.065-.029l.066-.029l.065 .03l.065 .03l.065 .03l.066-.029l.065 .03l.065-.029l.066-.029l.065-.03l.065 .03l.066 .031l.065 .03l.065-.03l.065 .031l.066-.03l.065-.029l.065-.029l.066-.029l.065 .03l.065-.03l.066 .031l.065-.03l.065-.029l.065 .03l.066 .03l.065 .03l.065-.029l.066-.029l.065-.029l.065 .03l.066 .03l.065 .03l.065-.029l.065-.029l.066-.03l.065-.029l.065 .03l.066-.029l.065 .03l.065-.029l.066-.029l.065 .03l.065 .03l.065-.029l.066 .03l.065-.029l.065-.029l.066 .03l.065 .03l.065-.029l.066 .03l.065 .03l.065-.03l.065 .03l.066 .03l.065-.029l.065-.029l.066-.029l.065 .03l.065 .03l.066 .03l.065 .03l.065 .03l.065 .03l.066 .029l.065-.029l.065 .03l.066 .03l.065 .03l.065-.029l.066-.029l.065 .03l.065 .03l.065 .029l.066-.029l.065-.029l.065 .03l.066 .03l.065-.029l.065 .03l.066-.029l.065-.029l.065 .03l.065-.029l.066 .029l.065-.029l.065 .03l.066-.029l.065-.029l.065-.029l.066 .03l.065-.029l.065 .03l.065-.029l.066-.029l.065-.029l.065 .03l.066-.029l.065-.029l.065 .03l.066-.029l.065-.029l.065 .03l.065 .03l.066 .029l.065 .03l.065-.029l.066 .03l.065 .029l.065 .03l.066-.029l.065-.029l.065-.028l.065 .029l.066 .03l.065 .03l.065-.029l.066 .029l.065 .03l.065 .03l.066-.029l.065-.029l.065 .03l.065 .029l.066 .03l.065 .029l.065 .03l.066-.029l.065 .03l.065-.029l.066-.029l.065 .03l.065 .029l.065 .03l.066-.029l.065 .029l.065 .03l.066-.029l.065-.029l.065 .03l.066-.029l.065 .03l.065-.029l.065 .029l.066 .03l.065-.029l.065 .03l.066-.029l.065-.029l.065 .03l.066-.029l.065 .029l.065 .03l.065-.029l.066 .029l.065-.028l.065 .029l.066 .03l.065-.029l.065-.029l.066-.028l.065 .029l.065-.029l.065-.028l.066 .029l.065 .029l.065 .03l.066 .029l.065-.028l.065-.029l.066-.029l.065 .03l.065-.029l.065 .029l.066-.028l.065 .029l.065 .03l.066-.029l.065-.029l.065-.028l.066 .029l.065-.028l.065 .029l.065-.029l.066-.028l.065 .029l.065 .029l.066 .03l.065 .029l.065-.029l.066-.028l.065 .029l.065-.028l.065-.029l.066 .029l.065-.028l.065-.029l.066-.028l.065-.029l.065 .03l.066-.029l.065-.028l.065 .029l.065 .029l.066 .029l.065 .03l.065 .029l.066 .029l.065 .029l.065 .029l.066-.028l.065 .029l.065-.028l.065-.029l.066 .029l.065 .029l.065 .03l.066-.029l.065-.028l.065-.029l.066 .029l.065 .03l.065 .029l.065 .029l.066 .029l.065 .029l.065-.028l.066 .029l.065 .029l.065-.029l.066-.028l.065 .029l.065-.028l.065-.029l.066 .029l.065 .029l.065-.028l.066 .029l.065-.028l.065 .029l.066-.029l.065-.028l.065 .029l.065-.028l.066-.029l.065-.028l.065 .029l.066-.028l.065 .029l.065-.029l.066-.028l.065-.028l.065 .029l.065-.028l.066-.029l.065 .029l.065 .029l.066 .029l.065-.028l.065-.028l.066-.028l.065-.029l.065 .029l.065-.028l.066-.028l.065-.028l.065-.029l.066-.028l.065 .029l.065 .029l.066-.028l.065 .029l.065-.028l.065-.028l.066-.029l.065-.028l.065 .029l.066 .029l.065-.028l.065-.028l.066-.028l.065 .029l.065 .028l.065-.028l.066-.028l.065 .029l.065-.028l.066-.028l.065-.028l.065-.028l.066 .029l.065-.028l.065-.028l.065 .028l.066-.028l.065-.028l.065-.028l.066-.028l.065 .029l.065 .029l.066-.028l.065 .029l.065-.028l.065-.028l.066-.028l.065-.028l.065 .029l.066-.028l.065-.028l.065 .028l.066-.027l.065-.028l.065 .028l.065 .029l.066 .029l.065-.028l.065-.028l.066 .029l.065-.028l.065-.028l.066 .029l.065-.028l.065-.028l.065-.028l.066-.028l.065 .029l.065 .029l.066-.028l.065-.028l.065-.028l.066-.028l.065-.028l.065-.027l.065-.028l.066-.028l.065-.028l.065-.028l.066-.028l.065-.027l.065 .028l.066-.027l.065 .028l.065-.027l.065 .028l.066-.027l.065-.028l.065-.028l.066-.028l.065-.027l.065 .028l.066-.027l.065 .028l.065 .029l.065-.028l.066-.027l.065 .028l.065-.027l.066-.028l.065-.028l.065 .029l.066-.028l.065-.027l.065 .028l.065 .029l.066-.028l.065 .029l.065 .029l.066 .028l.065-.027l.065-.028l.066-.028l.065 .029l.065-.028l.065 .029l.066 .029l.065 .028l.065 .029l.066 .028l.065 .029l.065-.028l.066-.027l.065 .028l.065-.027l.065 .028l.066-.027l.065 .028l.065 .029l.066 .028l.065-.027l.065-.028l.066 .029l.065 .028l.065-.027l.065 .028l.066 .029l.065-.028l.065-.027l.066 .028l.065 .029l.065 .028l.066-.027l.065 .028l.065-.027l.065 .028l.066-.027l.065 .028l.065-.028l.066-.027l.065 .028l.065-.027l.066 .028l.065-.027l.065-.028l.065-.027l.066 .028l.065-.027l.065-.028l.066-.027l.065-.028l.065-.027l.066 .028l.065 .029l.065-.028l.065 .029l.066 .028l.065 .029l.065-.028l.066-.027l.065-.028l.065-.027l.066-.028l.065 .029l.065 .028l.065 .029l.066 .028l.065 .028l.065 .029l.066-.028l.065-.027l.065-.027l.066 .028l.065 .028l.065 .029l.065-.028l.066-.027l.065-.028l.065-.027l.066-.027l.065 .028l.065 .028l.066 .029l.065-.028l.065 .029l.065-.028l.066-.027l.065 .028l.065 .029l.066 .028l.065-.028l.065-.027l.066 .028l.065 .029l.065-.028l.065 .029l.066-.028l.065-.027l.065 .028l.066 .029l.065-.028l.065-.027l.066 .028l.065 .028l.065-.027l.065-.027l.066 .028l.065 .028l.065 .029l.066 .028l.065 .028l.065-.027l.066-.028l.065-.027l.065-.027l.065 .028l.066 .028l.065 .028l.065-.027l.066-.027l.065 .028l.065 .028l.066-.027l.065-.027l.065-.027l.065-.028l.066 .029l.065 .028l.065-.027l.066-.028l.065-.027l.065 .028l.066 .028l.065 .029l.065-.028l.065 .029l.066-.028l.065 .028l.065 .029l.066-.028l.065 .028l.065 .029l.066 .028l.065-.028l.065-.027l.065 .028l.066 .028l.065 .028l.065-.027l.066-.027l.065-.027l.065-.027l.066-.027l.065 .028l.065 .028l.065-.027l.066-.027l.065 .028l.065 .028l.066-.027l.065 .028l.065 .028l.066 .028l.065 .028l.065 .028l.065 .028l.066-.028l.065 .028l.065-.027l.066-.027l.065-.027l.065-.027l.066-.027l.065-.027l.065-.027l.065 .028l.066 .028l.065 .028l.065-.027l.066-.027l.065-.027l.065 .028l.066 .028l.065-.027l.065 .028l.065 .028l.066-.027l.065 .028l.065-.027l.066-.027l.065 .027l.065 .028l.066-.027l.065 .028l.065 .028l.065 .028l.066-.027l.065-.027l.065-.027l.066-.027l.065 .028l.065-.027l.066-.027l.065 .028l.065 .028l.065 .028l.066 .027l.065 .028l.065-.027l.066-.027l.065 .028l.065-.027l.066-.027l.065 .028l.065 .028l.065-.027l.066 .028l.065 .028l.065 .027l.066 .028l.065 .028l.065 .028l.066 .027l.065-.027l.065 .028l.065 .028l.066-.027l.065-.027l.065 .028l.066 .028l.065 .027l.065-.027l.066-.026l.065-.027l.065 .027l.065 .028l.066 .028l.065 .027l.065-.026l.066 .027l.065-.027l.065 .028l.066-.027l.065-.027l.065-.026l.065 .027l.066-.027l.065 .028l.065 .028l.066 .027l.065-.027l.065-.026l.066 .027l.065 .028l.065 .027l.065-.026l.066-.027l.065 .028l.065 .027l.066 .028l.065-.027l.065 .027l.066-.026l.065-.027l.065-.027l.065-.026l.066-.027l.065-.027l.065-.027l.066 .028l.065 .027l.065 .028l.066-.027l.065 .028l.065 .027l.065-.026l.066-.027l.065 .027l.065 .028l.066-.027l.065-.026l.065-.027l.066-.027l.065 .028l.065-.027l.065-.026l.066-.027l.065-.027l.065-.026l.066-.027l.065-.026l.065-.027l.066-.027l.065-.026l.065-.027l.065 .028l.066-.027l.065 .028l.065-.027l.066 .028l.065-.027l.065-.026l.066 .027l.065 .027l.065-.026l.065 .027l.066 .028l.065-.027l.065-.026l.066 .027l.065 .028l.065 .027l.066 .027l.065-.026l.065 .027l.065-.026l.066 .027l.065-.026l.065 .027l.066 .027l.065 .028l.065 .027l.066 .027l.065 .028l.065 .027l.065 .027l.066 .028l.065-.027l.065-.026l.066-.027l.065-.026l.065 .027l.066 .027l.065 .028l.065-.027l.065 .027l.066 .028l.065 .027l.065-.026l.066-.027l.065 .027l.065 .028l.066-.027l.065 .027l.065-.026l.065 .027l.066-.026l.065-.027l.065 .028l.066 .027l.065-.027l.065 .028l.066-.027l.065-.026l.065 .027l.065-.026l.066 .027l.065 .027l.065 .027l.066-.026l.065 .027l.065-.026l.066-.027l.065 .028l.065-.027l.065-.026l.066 .027l.065-.026l.065-.027l.066 .027l.065-.026l.065 .027l.066 .027l.065 .028l.065 .027l.065-.027l.066-.026l.065 .027l.065-.026l.066 .027l.065 .027l.065 .027l.066 .027l.065 .027l.065 .027l.065 .027l.066 .027l.065 .028l.065 .027l.066 .027l.065 .027l.065 .027l.066 .027l.065 .027l.065-.027l.065 .027l.066-.026l.065 .027l.065 .027l.066 .027l.065 .027l.065-.026l.066 .027l.065 .027l.065 .027l.065 .026l.066 .027l.065-.026l.065 .027l.066 .027l.065 .027l.065-.026l.066 .026l.065 .027l.065-.026l.065-.026l.066 .027l.065 .027l.065 .026l.066 .027l.065 .027l.065-.026l.066 .027l.065 .027l.065-.027l.065-.026l.066 .027l.065 .027l.065-.026l.066-.027l.065 .027l.065-.026l.066-.026l.065 .027l.065 .026l.065-.026l.066-.026l.065-.026l.065 .027l.066-.027l.065 .027l.065 .027l.066 .027l.065 .027l.065 .026l.065-.026l.066 .027l.065 .027l.065 .026l.066-.026l.065 .027l.065 .027l.066 .026l.065 .027l.065 .027l.065-.026l.066 .026l.065-.026l.065 .027l.066 .027l.065-.027l.065 .027l.066 .027l.065-.026l.065-.027l.065-.026l.066 .027l.065-.026l.065-.026l.066-.026l.065-.026l.065 .026l.066 .027l.065 .026l.065-.026l.065-.026l.066 .027l.065 .027l.065 .026l.066 .027l.065 .026l.065 .027l.066 .027l.065-.027l.065 .027l.065 .027l.066 .026l.065-.026l.065-.026l.066 .027l.065 .026l.065-.026l.066 .027l.065 .026l.065-.026l.065-.026l.066-.026l.065 .027l.065-.026l.066 .026l.065-.026l.065-.026l.066-.026l.065-.026l.065-.026l.065-.026l.066-.026l.065-.026l.065 .027l.066-.026l.065 .026l.065 .027l.066-.026l.065-.026l.065 .026l.065 .027l.066-.026l.065 .026l.065 .027l.066-.026l.065-.026l.065-.026l.066 .026l.065-.025l.065-.026l.065 .026l.066 .027l.065 .026l.065 .026l.066-.025l.065-.026l.065 .026l.066 .026l.065-.025l.065-.026l.065 .026l.066 .027l.065 .026l.065-.026l.066 .026l.065 .027l.065-.026l.066 .026l.065-.026l.065 .027l.065-.026l.066 .026l.065 .027l.065-.026l.066-.026l.065 .026l.065-.025l.066 .026l.065 .026l.065 .027l.065-.026l.066 .026l.065-.026l.065-.026l.066-.025l.065 .026l.065-.026l.066-.026l.065-.025l.065 .026l.065 .026l.066 .026l.065 .027l.065-.026l.066-.026l.065 .026l.065-.025l.066-.026l.065 .026l.065 .026l.065-.025l.066 .026l.065-.026l.065 .026l.066 .027l.065-.026l.065 .026l.066-.026l.065 .027l.065 .026l.065-.026l.066-.026l.065 .027l.065 .026l.066 .026l.065 .026l.065 .026l.066-.025l.065 .026l.065-.026l.065-.025l.066 .026l.065-.026l.065-.026l.066-.025l.065 .026l.065 .026l.066 .026l.065 .026l.065-.025l.065 .026l.066 .026l.065-.026l.065 .026l.066-.025l.065-.026l.065-.026l.066-.025l.065-.026l.065 .026l.065-.025l.066-.026l.065-.026l.065 .026l.066 .027l.065-.026l.065-.026l.066 .026l.065-.025l.065-.026l.065 .026l.066-.025l.065 .026l.065-.026l.066 .026l.065 .026l.065-.025l.066 .026l.065-.026l.065 .026l.065-.025l.066 .026l.065-.026l.065 .026l.066 .026l.065 .027l.065 .026l.066 .026l.065 .026l.065 .026l.065-.026l.066 .026l.065-.026l.065 .026l.066-.025l.065 .026l.065-.026l.066 .026l.065 .026l.065-.025l.065-.026l.066 .026l.065-.025l.065-.026l.066 .026l.065-.025l.065-.026l.066-.025l.065-.026l.065-.025l.065-.026l.066 .026l.065-.025l.065-.025l.066-.026l.065-.025l.065-.026l.066-.025l.065 .026l.065 .026l.065-.026l.066-.025l.065-.025l.065-.026l.066 .026l.065 .026l.065 .026l.066-.026l.065-.025l.065 .026l.065-.025l.066 .026l.065 .025l.065 .026l.066 .026l.065-.025l.065 .026l.066-.026l.065-.025l.065-.025l.065 .026l.066 .025l.065-.025l.065-.025l.066 .026l.065 .025l.065-.025l.066 .026l.065-.025l.065-.026l.065-.025l.066-.025l.065-.026l.065-.025l.066-.025l.065-.025l.065-.026l.066 .026l.065-.025l.065-.025l.065-.026l.066-.025l.065-.025l.065-.025l.066-.025l.065-.026l.065-.025l.066 .026l.065 .026l.065-.025l.065-.026l.066 .026l.065 .026l.065-.025l.066 .026l.065-.026l.065-.025l.066-.025l.065-.025l.065-.025l.065 .026l.066-.026l.065 .026l.065 .026l.066-.025l.065 .026l.065-.025l.066-.026l.065 .026l.065-.025l.065-.025l.066-.025l.065-.025l.065 .025l.066-.025l.065-.025l.065-.025l.066-.025l.065 .026l.065 .026l.065-.025l.066 .025l.065-.025l.065-.025l.066-.025l.065-.025l.065 .026l.066 .026l.065-.025l.065-.025l.065-.026l.066-.025l.065-.025l.065 .026l.066-.025l.065-.025l.065-.025l.066-.025l.065 .026l.065 .026l.065-.025l.066 .025l.065-.025l.065-.025l.066-.025l.065-.024l.065-.025l.066-.025l.065-.025l.065-.025l.065-.025l.066 .026l.065-.025l.065-.025l.066-.025l.065 .026l.065 .025l.066 .026l.065 .026l.065-.025l.065-.025l.066 .025l.065 .026l.065-.025l.066 .026l.065-.025l.065-.025l.066-.025l.065-.025l.065-.025l.065-.024l.066-.025l.065-.025l.065 .026l.066 .025l.065 .026l.065 .025l.066 .026l.065 .026l.065-.025l.065 .025l.066 .026l.065-.025l.065-.025l.066-.024l.065 .025l.065-.025l.066 .026l.065-.025l.065-.025l.065 .026l.066 .025l.065 .026l.065-.025l.066-.025l.065 .026l.065-.025l.066-.025l.065 .026l.065 .026l.065 .025l.066 .026l.065 .025l.065 .026l.066-.025l.065 .025l.065-.024l.066-.025l.065-.025l.065-.025l.065-.024l.066-.025l.065 .025l.065-.024l.066 .025l.065 .026l.065 .025l.066 .026l.065-.025l.065 .025l.065-.024l.066 .025l.065 .026l.065-.025l.066-.025l.065-.024l.065 .025l.066-.025l.065 .026l.065 .025l.065-.025l.066 .026l.065-.025l.065-.024l.066-.025l.065 .025l.065-.024l.066-.025l.065-.025l.065-.024l.065 .025l.066-.024l.065-.025l.065-.025l.066-.024l.065 .025l.065 .026l.066 .025l.065 .025l.065-.024l.065-.025l.066-.024l.065 .025l.065-.025l.066 .026l.065 .025l.065 .025l.066-.024l.065-.025l.065-.024l.065 .025l.066 .025l.065 .026l.065-.025l.066-.024l.065-.025l.065-.024l.066-.025l.065-.024l.065 .025l.065 .025l.066 .026l.065-.025l.065-.024l.066 .025l.065-.025l.065 .026l.065 .025l.066-.025l.065-.024l.065-.025l.066 .026l.065-.025l.065-.024l.066 .025l.065-.024l.065 .025l.065-.025l.066-.024l.065 .025l.065-.024l.066 .025l.065-.024l.065 .025l.066 .025l.065 .025l.065 .026l.065 .025l.066 .025l.065-.024l.065-.025l.066 .025l.065-.024l.065-.024l.066 .025l.065-.025l.065 .026l.065-.025l.066-.024l.065 .025l.065-.024l.066-.025l.065 .025l.065-.024l.066-.024l.065 .025l.065-.025l.065-.024l.066 .025l.065-.024l.065-.024l.066 .025l.065-.025l.065-.024l.066 .025l.065 .025l.065 .026l.065 .025l.066-.025l.065-.024l.065 .025l.066 .025l.065 .025l.065 .026l.066 .025l.065 .025l.065-.025l.065 .026l.066-.025l.065-.024l.065 .025l.066 .025l.065 .025l.065-.024l.066 .025l.065-.024l.065 .025l.065-.025l.066 .025l.065 .026l.065 .025l.066-.025l.065-.024l.065-.024l.066 .025l.065-.024l.065-.025l.065 .025l.066-.024l.065 .025l.065 .025l.066 .025l.065-.024l.065-.024l.066 .025l.065 .025l.065-.025l.065 .025l.066-.024l.065-.024l.065-.024l.066 .025l.065-.024l.065-.025l.066-.024l.065 .025l.065-.024l.065-.024l.066 .025l.065-.024l.065 .024l.066 .025l.065 .025l.065 .025l.066 .025l.065-.024l.065 .025l.065-.024l.066 .025l.065 .025l.065 .025l.066 .025l.065 .024l.065 .025l.066-.024l.065 .025l.065 .025l.065 .025l.066 .025l.065-.024l.065 .024l.066 .025l.065-.024l.065 .025l.066-.024l.065 .025l.065 .025l.065-.025l.066 .025l.065 .025l.065-.024l.066-.024l.065 .025l.065-.024l.066 .024l.065 .025l.065-.024l.065 .025l.066-.024l.065-.024l.065-.024l.066-.025l.065-.024l.065-.024l.066 .025l.065 .025l.065-.024l.065 .025l.066-.024l.065-.025l.065 .025l.066 .025l.065-.024l.065 .025l.066 .024l.065-.024l.065 .025l.065-.024l.066 .025l.065-.024l.065-.024l.066 .025l.065 .024l.065-.024l.066 .025l.065 .025l.065 .024l.065-.024l.066 .025l.065 .025l.065 .025l.066 .024l.065 .025l.065 .025l.066 .024l.065-.024l.065 .025l.065 .025l.066 .024l.065 .025l.065 .025l.066-.024l.065-.024l.065 .024l.066-.024l.065-.024l.065-.024l.065-.024l.066 .025l.065 .024l.065 .025l.066-.024l.065 .025l.065-.024l.066 .024l.065-.024l.065-.024l.065 .025l.066 .025l.065 .024l.065 .025l.066 .024l.065 .025l.065 .024l.066 .025l.065-.024l.065-.024l.065-.024l.066 .025l.065 .024l.065-.024l.066 .025l.065-.024l.065 .025l.066-.024l.065-.024l.065-.024l.065 .024l.066 .025l.065 .024l.065 .025l.066-.024l.065 .024l.065 .025l.066-.024l.065 .025l.065-.024l.065-.024l.066-.024l.065 .024l.065-.024l.066 .025l.065 .024l.065-.023l.066-.024l.065 .024l.065-.024l.065 .025l.066-.024l.065-.024l.065 .025l.066-.024l.065 .024l.065 .025l.066 .024l.065-.024l.065-.024l.065 .025l.066 .024l.065 .025l.065 .024l.066 .024l.065-.023l.065-.024l.066 .024l.065-.024l.065 .025l.065-.024l.066 .024l.065-.023l.065 .024l.066 .024l.065 .025l.065 .024l.066 .024l.065-.023l.065 .024l.065 .024l.066-.024l.065-.023l.065 .024l.066-.024l.065 .025l.065-.024l.066-.024l.065-.024l.065 .025l.065 .024l.066-.024l.065-.024l.065-.023l.066-.024l.065 .024l.065-.023l.066-.024l.065 .024l.065-.024l.065 .025l.066 .024l.065-.024l.065-.023l.066-.024l.065 .024l.065-.023l.066 .024l.065-.024l.065 .024l.065 .025l.066 .024l.065-.024l.065-.023l.066-.024l.065 .024l.065 .024l.066-.023l.065-.024l.065-.024l.065-.023l.066 .024l.065-.024l.065 .025l.066 .024l.065-.024l.065-.023l.066 .024l.065-.024l.065-.023l.065 .024l.066-.024l.065 .024l.065-.023l.066-.024l.065 .024l.065 .025l.066 .024l.065-.024l.065-.023l.065 .024l.066 .024l.065-.024l.065 .025l.066-.024l.065-.024l.065-.023l.066-.024l.065 .025l.065 .024l.065-.024l.066 .024l.065-.023l.065-.024l.066 .024l.065-.023l.065 .024l.066-.024l.065-.023l.065 .024l.065 .024l.066 .024l.065 .024l.065 .025l.066 .024l.065-.024l.065 .024l.066 .024l.065-.023l.065 .024l.065-.024l.066-.023l.065 .024l.065-.024l.066 .025l.065 .024l.065 .024l.066 .024l.065 .024l.065-.024l.065 .024l.066-.023l.065-.024l.065 .024l.066 .025l.065 .024l.065-.024l.066 .024l.065-.023l.065 .024l.065-.024l.066 .024l.065 .024l.065 .024l.066 .024l.065-.023l.065-.024l.066 .024l.065-.023l.065 .024l.065-.024l.066 .024l.065-.023l.065-.023l.066-.024l.065 .024l.065-.023l.066-.024l.065 .024l.065-.023l.065 .024l.066 .024l.065 .024l.065 .024l.066 .024l.065-.024l.065 .024l.066-.023l.065-.024l.065-.023l.065 .024l.066 .024l.065 .024l.065-.024l.066-.023l.065 .024l.065 .024l.066 .024l.065 .024l.065-.024l.065-.023l.066 .024l.065 .024l.065-.024l.066 .024l.065 .024l.065-.023l.066-.024l.065 .024l.065 .024l.065-.023l.066 .024l.065-.024l.065 .024l.066 .024l.065 .024l.065 .024l.066 .023l.065 .024l.065-.023l.065 .024l.066-.024l.065 .024l.065-.023l.066-.023l.065 .023l.065-.023l.066 .024l.065 .024l.065-.024l.065 .024l.066-.023l.065 .024l.065 .023l.066-.023l.065-.023l.065-.024l.066-.023l.065-.023l.065 .024l.065 .023l.066 .024l.065-.023l.065-.023l.066-.024l.065-.023l.065-.023l.066-.023l.065-.023l.065 .023l.065 .024l.066 .024l.065-.023l.065-.024l.066-.023l.065-.023l.065 .024l.066-.024l.065 .024l.065-.023l.065-.023l.066-.023l.065-.024l.065-.023l.066 .024l.065-.023l.065-.023l.066 .023l.065-.023l.065 .024l.065 .024l.066-.024l.065-.023l.065-.023l.066-.023l.065-.023l.065 .024l.066 .023l.065 .024l.065-.023l.065 .023l.066-.023l.065 .024l.065 .024l.066-.023l.065 .023l.065-.023l.066 .024l.065 .023l.065-.023l.065-.023l.066-.023l.065 .024l.065 .023l.066-.023l.065 .024l.065-.023l.066 .024l.065 .023l.065 .024l.065-.023l.066 .023l.065 .024l.065 .024l.066 .023l.065-.023l.065 .024l.066-.023l.065-.023l.065-.024l.065 .024l.066 .024l.065 .023l.065 .024l.066-.023l.065 .023l.065 .024l.066-.023l.065 .023l.065-.023l.065-.023l.066 .024l.065 .023l.065-.023l.066-.023l.065-.023l.065 .024l.066 .023l.065-.023l.065-.023l.065-.023l.066-.023l.065-.023l.065 .024l.066-.023l.065-.023l.065 .023l.066 .024l.065 .023l.065-.023l.065 .024l.066-.023l.065-.023l.065-.023l.066 .024l.065-.023l.065-.023l.066-.023l.065-.023l.065 .023l.065 .024l.066-.023l.065-.023l.065-.023l.066 .023l.065-.022l.065-.023l.066-.023l.065 .023l.065 .024l.065 .023l.066 .024l.065 .023l.065-.023l.066 .024l.065-.023l.065 .023l.066-.023l.065 .024l.065 .023l.065 .023l.066 .024l.065 .023l.065 .024l.066-.023l.065-.023l.065 .023l.066 .024l.065 .023l.065-.023l.065 .024l.066-.023l.065 .023l.065 .023l.066-.022l.065-.023l.065-.023l.066 .023l.065-.023l.065 .024l.065-.023l.066-.023l.065-.023l.065-.023l.066-.022l.065-.023l.065 .023l.066-.023l.065 .024l.065 .023l.065 .023l.066 .024l.065-.023l.065-.023l.066-.023l.065 .024l.065-.023l.066-.023l.065 .023l.065-.022l.065-.023l.066 .023l.065-.023l.065-.022l.066 .023l.065 .023l.065-.022l.066-.023l.065-.023l.065 .023l.065-.022l.066-.023l.065 .023l.065 .023l.066 .024l.065-.023l.065-.023l.066 .024l.065 .023l.065-.023l.065 .023l.066 .024l.065 .023l.065 .023l.066-.023l.065 .024l.065 .023l.066-.023l.065 .023l.065 .024l.065 .023l.066 .023l.065 .023l.065 .023l.066 .024l.065-.023l.065 .023l.066 .023l.065 .024l.065-.023l.065-.023l.066 .023l.065 .023l.065 .024l.066 .023l.065-.023l.065-.023l.066 .024l.065-.023l.065-.023l.065 .023l.066 .024l.065 .023l.065 .023l.066-.023l.065 .023l.065-.022l.066-.023l.065-.023l.065-.022l.065-.023l.066-.023l.065 .024l.065 .023l.066 .023l.065-.023l.065-.023l.066 .024l.065-.023l.065-.023l.065 .023l.066 .024l.065-.023l.065 .023l.066 .023l.065 .023l.065-.022l.066-.023l.065-.023l.065 .023l.065-.022l.066 .023l.065-.023l.065-.022l.066 .023l.065 .023l.065-.023l.066 .023l.065 .023l.065 .023l.065 .024l.066-.023l.065-.023l.065-.022l.066-.023l.065-.022l.065 .023l.066 .023l.065 .023l.065 .023l.065-.023l.066 .023l.065 .023l.065 .023l.066-.022l.065 .023l.065-.023l.066 .023l.065-.022l.065 .023l.065 .023l.066 .023l.065 .023l.065 .022l.066-.022l.065-.023l.065-.022l.066 .023l.065 .023l.065 .023l.065 .023l.066 .023l.065 .023l.065 .023l.066 .022l.065-.022l.065-.023l.066 .023l.065-.022l.065-.023l.065 .023l.066 .023l.065-.022l.065 .023l.066 .022l.065-.022l.065-.022l.066 .022l.065 .023l.065-.022l.065 .023l.066 .023l.065 .022l.065 .023l.066-.022l.065 .023l.065-.023l.066 .023l.065 .023l.065 .023l.065 .023l.066 .022l.065-.022l.065-.023l.066-.022l.065 .023l.065-.023l.066-.022l.065 .023l.065 .023l.065-.023l.066-.022l.065 .023l.065 .022l.066 .023l.065 .023l.065 .023l.066-.023l.065-.022l.065-.023l.065 .023l.066 .023l.065 .023l.065-.023l.066-.022l.065 .023l.065-.023l.066 .023l.065 .023l.065 .023l.065-.023l.066-.022l.065 .023l.065-.023l.066-.022l.065 .023l.065 .022l.066-.022l.065 .023l.065 .022l.065-.022l.066 .023l.065 .022l.065 .023l.066 .023l.065 .023l.065 .022l.066 .023l.065 .023l.065-.023l.065-.022l.066-.022l.065 .022l.065 .023l.066 .023l.065 .022l.065-.022l.066-.023l.065-.022l.065 .023l.065 .022l.066-.022l.065-.022l.065 .022l.066 .023l.065 .023l.065 .022l.066 .023l.065 .023l.065 .022l.065 .023l.066 .022l.065-.022l.065 .023l.066-.023l.065 .023l.065 .023l.066 .022l.065-.022l.065 .022l.065-.022l.066-.022l.065 .022l.065 .023l.066 .022l.065-.022l.065-.022l.066 .022l.065 .023l.065-.022l.065 .022l.066-.022l.065 .023l.065 .022l.066-.022l.065 .022l.065 .023l.066 .022l.065 .023l.065 .022l.065 .023l.066-.022l.065-.023l.065-.022l.066 .023l.065-.023l.065-.022l.066 .023l.065 .022l.065 .023l.065-.023l.066 .023l.065-.022l.065-.023l.066 .023l.065-.022l.065-.023l.066 .023l.065 .022l.065 .023l.065 .022l.066-.022l.065 .022l.065-.022l.066 .023l.065-.023l.065-.022l.066 .023l.065 .022l.065-.022l.065 .022l.066-.022l.065 .023l.065 .022l.066 .022l.065-.022l.065-.022l.066 .022l.065 .023l.065 .022l.065-.022l.066-.022l.065 .022l.065-.022l.066 .022l.065-.022l.065-.022l.066 .022l.065 .023l.065 .022l.065-.022l.066 .022l.065-.022l.065-.022l.066-.022l.065 .022l.065-.022l.066 .023l.065 .022l.065-.022l.065-.022l.066-.022l.065-.023l.065 .023l.066 .022l.065-.022l.065-.022l.066 .022l.065-.022l.065-.022l.065 .022l.066-.022l.065 .023l.065-.022l.066-.022l.065 .022l.065 .022l.066 .022l.065 .023l.065-.022l.065-.022l.066-.022l.065-.022l.065 .022l.066-.022l.065-.022l.065 .022l.066 .022l.065 .023l.065-.022l.065 .022l.066 .022l.065-.022l.065 .022l.066-.022l.065-.022l.065 .023l.066-.022l.065 .022l.065 .022l.065-.022l.066-.022l.065-.022l.065-.022l.066-.022l.065-.022l.065-.022l.066 .022l.065-.022l.065-.022l.065-.022l.066-.022l.065 .023l.065-.022l.066 .022l.065-.022l.065 .022l.066 .022l.065 .023l.065 .022l.065-.022l.066-.022l.065-.022l.065 .022l.066 .022l.065 .023l.065 .022l.066 .022l.065 .022l.065-.022l.065 .022l.066 .023l.065-.022l.065-.022l.066 .022l.065-.022l.065 .022l.066 .022l.065-.022l.065-.022l.065-.021l.066-.022l.065-.022l.065 .022l.066 .022l.065 .022l.065 .022l.066-.022l.065-.021l.065 .022l.065 .022l.066-.022l.065-.022l.065-.022l.066-.022l.065 .022l.065-.021l.066 .022l.065 .022l.065-.022l.065-.022l.066 .022l.065-.022l.065 .022l.066-.021l.065-.022l.065-.022l.066-.022l.065-.022l.065 .022l.065-.021l.066 .022l.065-.022l.065-.022l.066-.022l.065-.021l.065 .022l.066 .022l.065 .022l.065 .022l.065-.022l.066-.022l.065-.022l.065 .023l.066-.022l.065-.022l.065-.022l.066-.022l.065-.021l.065-.022l.065 .022l.066-.022l.065 .022l.065-.021l.066 .022l.065-.022l.065-.022l.066 .022l.065-.022l.065 .023l.065-.022l.066-.022l.065 .022l.065-.022l.066 .022l.065 .022l.065-.021l.066-.022l.065-.022l.065 .022l.065-.021l.066 .022l.065 .022l.065 .022l.066-.022l.065 .022l.065-.022l.066-.021l.065 .022l.065 .022l.065-.022l.066 .022l.065-.022l.065 .022l.066 .022l.065-.021l.065-.022l.066-.022l.065 .022l.065-.021l.065 .022l.066 .022l.065 .021l.065 .022l.066-.021l.065 .022l.065-.022l.066 .022l.065 .022l.065-.022l.065-.021l.066 .022l.065 .022l.065 .021l.066-.021l.065-.022l.065 .022l.066-.021l.065-.022l.065 .022l.065 .022l.066-.022l.065 .022l.065-.022l.066-.021l.065 .022l.065 .022l.066 .022l.065-.022l.065 .022l.065-.022l.066 .022l.065-.021l.065 .021l.066 .022l.065 .022l.065 .022l.066 .022l.065 .022l.065 .022l.065-.022l.066-.022l.065-.021l.065-.022l.066 .022l.065 .022l.065 .022l.066 .022l.065 .021l.065-.021l.065-.022l.066-.021l.065-.022l.065-.021l.066 .021l.065 .022l.065 .022l.066 .022l.065 .022l.065-.022l.065-.021l.066-.022l.065-.021l.065-.022l.066 .022l.065 .022l.065 .021l.066 .022l.065-.021l.065 .021l.065-.021l.066 .022l.065-.022l.065-.021l.066-.022l.065-.021l.065 .021l.066 .022l.065-.021l.065 .021l.065-.021l.066 .022l.065 .021l.065 .022l.066 .022l.065 .022l.065 .021l.066-.021l.065 .022l.065 .021l.065-.021l.066 .022l.065-.022l.065-.021l.066 .021l.065 .022l.065 .022l.066 .021l.065-.021l.065-.021l.065-.022l.066-.021l.065-.022l.065-.021l.066 .021l.065-.021l.065 .022l.066-.022l.065-.021l.065-.022l.065-.021l.066-.021l.065 .021l.065-.021l.066 .022l.065-.022l.065 .022l.066 .022l.065-.022l.065 .022l.065 .021l.066 .022l.065-.021l.065-.022l.066-.021l.065-.021l.065-.022l.066-.021l.065-.022l.065-.021l.065-.021l.066 .021l.065 .022l.065-.021l.066-.022l.065 .022l.065-.021l.066 .021l.065-.021l.065 .022l.065-.022l.066 .022l.065 .022l.065-.022l.066-.021l.065-.021l.065-.022l.066-.021l.065-.021l.065 .021l.065-.021l.066-.021l.065-.022l.065-.021l.066-.021l.065-.021l.065 .021l.066-.021l.065-.021l.065-.022l.065-.021l.066-.021l.065-.021l.065-.022l.066 .022l.065 .022l.065 .021l.066 .022l.065-.021l.065 .021l.065-.021l.066-.021l.065-.022l.065-.021l.066 .022l.065 .021l.065-.021l.066-.021l.065-.021l.065-.021l.065 .021l.066 .022l.065-.021l.065-.022l.066 .022l.065 .021l.065-.021l.066 .022l.065 .021l.065-.021l.065-.021l.066 .022l.065-.022l.065-.021l.066 .022l.065-.021l.065-.022l.066-.021l.065 .022l.065-.021l.065 .021l.066-.021l.065 .022l.065-.022l.066-.021l.065-.021l.065 .022l.066-.021l.065 .021l.065-.021l.065 .021l.066 .022l.065 .021l.065 .022l.066-.021l.065 .021l.065-.021l.066-.021l.065-.021l.065-.021l.065 .021l.066 .022l.065-.021l.065-.021l.066-.021l.065-.021l.065 .021l.066-.021l.065-.021l.065-.021l.065 .021l.066-.021l.065-.021l.065-.021l.066-.021l.065-.021l.065 .021l.066-.021l.065 .022l.065 .021l.065 .022l.066 .021l.065 .022l.065 .021l.066 .022l.065-.022l.065 .022l.066-.021l.065 .021l.065 .022l.065-.021l.066-.021l.065-.021l.065 .021l.066-.021l.065-.021l.065-.021l.066-.021l.065-.021l.065 .021l.065 .022l.066-.021l.065 .021l.065 .022l.066-.021l.065 .021l.065-.021l.066-.021l.065-.021l.065-.021l.065-.021l.066-.021l.065 .022l.065-.021l.066-.021l.065-.021l.065-.021l.066 .021l.065 .022l.065-.021l.065 .021l.066-.021l.065 .022l.065 .021l.066-.021l.065-.021l.065 .021l.066 .022l.065-.021l.065 .021l.065 .021l.066 .022l.065 .021l.065-.021l.066 .022l.065-.021l.065-.021l.066-.021l.065 .021l.065 .022l.065-.021l.066 .021l.065 .021l.065-.021l.066 .022l.065-.021l.065-.021l.066 .021l.065 .021l.065-.02l.065 .021l.066 .021l.065-.021l.065 .022l.066-.021l.065 .021l.065 .021l.066 .022l.065 .021l.065 .021l.065-.021l.066 .021l.065 .022l.065 .021l.066-.021l.065 .021l.065 .022l.066 .021l.065 .021l.065 .021l.065 .021l.066-.02l.065-.021l.065-.021l.066 .021l.065-.021l.065 .021l.066 .022l.065-.021l.065-.021l.065 .021l.066-.021l.065 .022l.065-.021l.066-.021l.065-.021l.065 .021l.066-.021l.065-.02l.065 .021l.065 .021l.066-.021l.065 .021l.065 .022l.066 .021l.065 .021l.065 .021l.066-.021l.065 .021l.065-.02l.065 .021l.066-.021l.065 .021l.065 .021l.066 .021l.065 .022l.065 .021l.066-.021l.065 .021l.065 .021l.065 .021l.066 .021l.065-.02l.065 .021l.066 .021l.065 .021l.065-.021l.066 .021l.065 .021l.065-.021l.065 .022l.066-.021l.065 .021l.065 .021l.066-.021l.065 .021l.065 .021l.066-.021l.065 .022l.065 .021l.065 .021l.066-.021l.065-.021l.065 .021l.066-.021l.065 .021l.065 .022l.066 .021l.065-.021l.065-.021l.065 .021l.066-.021l.065-.02l.065-.021l.066 .021l.065 .021l.065-.021l.066-.02l.065-.021l.065 .021l.065 .021l.066-.021l.065-.021l.065 .021l.066 .021l.065-.02l.065 .021l.066 .021l.065 .021l.065 .021l.065-.021l.066-.021l.065 .021l.065-.02l.066 .021l.065 .021l.065-.021l.066 .021l.065 .021l.065-.021l.065 .021l.066 .021l.065 .021l.065 .021l.066 .021l.065 .021l.065 .021l.066 .021l.065 .02l.065-.02l.065-.021l.066 .021l.065-.021l.065-.02l.066 .021l.065 .021l.065-.021l.066 .021l.065 .021l.065-.021l.065-.021l.066 .021l.065 .021l.065-.02l.066 .02l.065 .021l.065-.02l.066 .021l.065-.021l.065 .021l.065-.021l.066-.02l.065 .02l.065 .021l.066 .021l.065 .021l.065 .021l.066-.021l.065-.02l.065-.021l.065-.021l.066-.02l.065-.021l.065-.02l.066-.021l.065-.021l.065-.02l.066-.021l.065 .021l.065 .021l.065-.021l.066-.02l.065 .021l.065-.021l.066 .021l.065-.021l.065-.02l.066-.021l.065 .021l.065-.02l.065-.021l.066 .021l.065-.021l.065 .021l.066 .021l.065 .021l.065-.021l.066 .021l.065 .021l.065-.021l.065-.02l.066 .021l.065-.021l.065-.021l.066 .021l.065-.02l.065-.021l.066 .021l.065 .021l.065 .021l.065 .02l.066 .021l.065-.02l.065-.021l.066 .021l.065 .021l.065 .02l.066-.02l.065-.021l.065-.02l.065 .021l.066-.021l.065-.02l.065-.021l.066-.02l.065 .021l.065 .02l.066 .021l.065 .021l.065 .02l.065 .021l.066-.02l.065-.021l.065-.02l.066 .021l.065 .02l.065 .021l.066-.02l.065 .02l.065-.02l.065 .02l.066-.02l.065 .021l.065 .02l.066-.02l.065 .021l.065-.021l.066 .021l.065 .021l.065-.021l.065-.02l.066 .02l.065-.02l.065-.02l.066 .02l.065 .021l.065 .021l.066-.021l.065 .021l.065-.021l.065 .021l.066-.02l.065-.021l.065 .021l.066 .021l.065 .02l.065 .021l.066 .02l.065 .021l.065 .021l.065 .02l.066-.02l.065 .021l.065-.021l.066 .021l.065-.021l.065 .021l.066 .021l.065 .02l.065-.02l.065-.021l.066-.02l.065 .021l.065-.021l.066-.02l.065 .02l.065-.02l.066 .021l.065 .02l.065-.02l.065-.02l.066 .02l.065-.02l.065-.021l.066-.02l.065 .021l.065 .02l.066 .021l.065-.02l.065 .02l.065 .021l.066-.021l.065 .021l.065 .02l.066 .021l.065 .02l.065 .021l.066 .02l.065 .021l.065-.02l.065 .02l.066 .021l.065-.021l.065 .021l.066 .02l.065 .021l.065-.02l.066 .02l.065-.02l.065-.021l.065 .021l.066-.02l.065 .02l.065-.02l.066-.02l.065-.021l.065-.02l.066-.02l.065 .02l.065-.02l.065-.02l.066 .02l.065 .021l.065-.021l.066-.02l.065 .021l.065-.021l.066 .021l.065 .02l.065 .021l.065 .02l.066 .021l.065 .02l.065-.02l.066-.021l.065 .021l.065-.02l.066 .02l.065-.02l.065 .02l.065 .021l.066 .02l.065-.02l.065 .02l.066 .021l.065 .02l.065-.02l.066-.02l.065-.021l.065 .021l.065 .02l.066-.02l.065 .02l.065 .021l.066 .02l.065 .021l.065 .02l.066-.02l.065-.02l.065 .02l.065 .02l.066-.02l.065-.02l.065 .02l.066 .021l.065 .02l.065-.02l.066-.02l.065 .02l.065 .02l.065-.02l.066-.02l.065 .02l.065-.02l.066-.02l.065 .02l.065 .02l.066-.02l.065-.02l.065 .02l.065-.02l.066 .021l.065-.021l.065-.02l.066 .021l.065 .02l.065-.02l.066-.02l.065-.021l.065-.02l.065 .021l.066 .02l.065 .02l.065-.02l.066 .02l.065 .021l.065-.02l.066 .02l.065-.02l.065-.02l.065-.02l.066-.021l.065-.02l.065 .021l.066 .02l.065-.02l.065 .02l.066 .02l.065 .021l.065-.021l.065 .021l.066-.02l.065-.02l.065-.021l.066 .021l.065 .02l.065-.02l.066-.02l.065-.02l.065-.02l.065-.02l.066-.02l.065-.021l.065 .021l.066-.02l.065-.02l.065 .02l.066 .02l.065 .02l.065-.02l.065 .021l.066 .02l.065 .02l.065 .02l.066 .02l.065-.02l.065-.02l.066-.02l.065 .021l.065-.021l.065 .021l.066 .02l.065-.02l.065-.02l.066 .02l.065 .02l.065 .02l.066 .021l.065 .02l.065-.02l.065 .02l.066 .02l.065 .02l.065 .021l.066 .02l.065-.02l.065 .02l.066 .02l.065 .02l.065-.02l.065-.02l.066-.02l.065 .02l.065-.02l.066 .02l.065 .021l.065 .02l.066-.02l.065-.02l.065 .02l.065-.02l.066-.02l.065-.02l.065-.02l.066 .02l.065-.02l.065 .02l.066-.02l.065-.02l.065-.02l.065 .02l.066 .021l.065-.02l.065-.02l.066 .02l.065 .02l.065 .02l.066-.02l.065 .02l.065-.02l.065 .02l.066 .02l.065 .02l.065 .021l.066 .02l.065 .02l.065-.02l.066-.02l.065-.02l.065-.02l.065 .02l.066 .02l.065 .02l.065-.02l.066-.02l.065 .02l.065-.02l.066 .02l.065 .021l.065-.02l.065-.02l.066-.02l.065-.02l.065-.02l.066 .02l.065-.02l.065 .02l.066-.02l.065 .02l.065-.02l.065 .021l.066-.02l.065-.02l.065-.02l.066 .02l.065-.02l.065-.02l.066-.02l.065-.02l.065-.019l.065-.02l.066-.02l.065 .02l.065-.02l.066 .02l.065 .02l.065 .02l.066 .02l.065-.02l.065-.02l.065 .021l.066 .02l.065-.02l.065 .02l.066 .02l.065 .02l.065 .02l.066-.02l.065-.02l.065 .02l.065 .02l.066-.02l.065 .02l.065 .02l.066 .02l.065-.02l.065 .02l.066 .02l.065 .02l.065-.02l.065 .02l.066-.02l.065-.019l.065-.02l.066-.02l.065-.02l.065-.02l.066 .02l.065-.019l.065-.02l.065-.02l.066-.02l.065 .02l.065 .02l.066-.02l.065 .02l.065-.019l.066 .02l.065-.02l.065 .02l.065-.02l.066-.02l.065-.02l.065 .02l.066 .02l.065-.019l.065-.02l.066-.02l.065-.02l.065-.019l.065 .02l.066-.02l.065-.02l.065-.02l.066-.019l.065 .02l.065 .02l.066 .019l.065 .02l.065 .02l.065 .02l.066 .02l.065-.02l.065 .02l.066-.02l.065 .02l.065 .02l.066-.019l.065-.02l.065 .02l.065 .02l.066-.02l.065-.02l.065-.019l.066-.02l.065-.02l.065-.02l.066 .02l.065 .02l.065 .02l.065-.02l.066-.019l.065-.02l.065-.02l.066-.019l.065 .02l.065 .019l.066-.019l.065-.02l.065-.019l.065-.02l.066-.02l.065 .02l.065 .02l.066-.02l.065-.019l.065-.02l.066 .02l.065-.02l.065 .02l.065 .02l.066 .02l.065-.02l.065 .02l.066 .02l.065 .02l.065-.02l.066 .02l.065-.02l.065-.019l.065-.02l.066 .02l.065-.02l.065-.019l.066-.02l.065 .02l.065-.02l.066 .02l.065 .02l.065 .02l.065-.02l.066-.019l.065 .019l.065 .02l.066 .02l.065-.02l.065 .02l.066 .02l.065 .02l.065 .019l.065-.019l.066-.02l.065-.019l.065-.02l.066 .02l.065 .02l.065-.02l.066-.02l.065 .02l.065-.019l.065 .019l.066 .02l.065-.019l.065-.02l.066 .02l.065 .02l.065-.02l.066-.019l.065 .019l.065-.019l.065 .019l.066-.019l.065-.02l.065 .02l.066-.019l.065 .019l.065-.019l.066-.02l.065 .02l.065 .02l.065 .019l.066 .02l.065-.019l.065 .019l.066 .02l.065 .02l.065-.02l.066-.019l.065-.02l.065-.019l.065 .019l.066-.019l.065 .02l.065-.02l.066-.019l.065-.02l.065-.019l.066 .019l.065 .02l.065 .02l.065-.02l.066-.019l.065-.02l.065-.019l.066 .02l.065-.02"/>
<path fill="none" stroke="#5e81b5" stroke-width="1.6" stroke-linejoin="miter" stroke-miterlimit="3.25" stroke-linecap="butt" d="M793.207 501.9l.0061 195.5l.0065-65.1667l.0065 65.1667l.0066-39.1l.0065 39.1l.0065 27.9286l.0065 20.9464l.0066 16.2917l.0065 13.0333l.0065 10.6636l.0066 8.8864l.0065 7.5192l.0065-21.4835l.0066-18.619l.0065-16.2917l.0065-14.375l.0065 8.9444l.0066 8.003l.0065-12.3474l.0065 7.4476l.0066 6.7706l.0065 6.1818l.0065 5.6667l.0066 5.2133l.0065-10.2262l.0065-9.4686l.0065-8.7923l.0066-8.186l.0065-7.6402l.0065 5.4656l.0066 5.124l.0065 4.8134l.0065 4.5303l.0066-6.9l.0065 4.3444l.0065-6.4579l.0065 4.1714l.0066 3.9575l.0065 3.7596l.0065-5.9604l.0066 3.633l.0065-5.629l.0065 3.5132l.0066 3.3571l.0065-5.2889l.0065 3.2553l.0065 3.1197l.0066 2.9923l.0065-4.9473l.0065-4.7533l.0066-4.5705l.0065 2.9793l.0065 2.8689l.0066 2.7647l.0065 2.6659l.0065-4.2873l.0065 2.602l.0066 2.5137l.0065 2.4299l.0065 2.3503l.0066-4.032l.0065 2.3024l.0065 2.2304l.0066 2.1618l.0065 2.0962l.0065 2.0337l.0065-3.7761l.0066 2l.0065 1.9429l.0065-3.619l.0066-3.5183l.0065-3.422l.0065-3.3295l.0066-3.2408l.0065 1.9893l.0065-3.1403l.0065-3.0597l.0066 1.967l.0065 1.9179l.0065 1.8705l.0066 1.8249l.0065 1.781l.0065-2.9163l.0066 1.7524l.0065 1.7116l.0065-2.8219l.0065-2.7579l.0066-2.6958l.0065-2.636l.0065 1.7187l.0066-2.5687l.0065-2.5134l.0065-2.46l.0066-2.4082l.0065 1.7149l.0065-2.3513l.0065 1.6864l.0066-2.2972l.0065-2.2512l.0065 1.6647l.0066 1.632l.0065 1.6003l.0065-2.1901l.0066-2.1483l.0065 1.5808l.0065-2.1029l.0065-2.0639l.0066-2.0261l.0065 1.5653l.0065 1.5371l.0066 1.5097l.0065 1.4829l.0065 1.4569l.0066 1.4316l.0065-1.9638l.0065-1.9302l.0065-1.8975l.0066-1.8656l.0065 1.4238l.0065 1.4002l.0066 1.3774l.0065 1.3549l.0065 1.3331l.0066 1.3117l.0065-1.8123l.0065-1.7837l.0065 1.2989l.0066 1.2787l.0065 1.259l.0065-1.7449l.0066 1.2436l.0065-1.7149l.0065 1.2286l.0066-1.6859l.0065-1.6611l.0065-1.6369l.0065-1.6131l.0066 1.223l.0065-1.5873l.0065 1.2083l.0066-1.5623l.0065 1.1938l.0065-1.538l.0066 1.1797l.0065 1.1636l.0065 1.1478l.0065-1.5097l.0066 1.1348l.0065-1.487l.0065 1.122l.0066-1.465l.0065-1.4459l.0065-1.4272l.0066 1.1139l.0065-1.4068l.0065 1.1015l.0065-1.387l.0066-1.3697l.0065-1.3525l.0065 1.0929l.0066-1.3343l.0065 1.081l.0065 1.0677l.0066 1.0548l.0065 1.0421l.0065-1.3117l.0065-1.2961l.0066 1.0329l.0065 1.0207l.0065 1.0088l.0066 .997l.0065 .9855l.0065 .9742l.0066-1.2712l.0065 .9648l.0065-1.2551l.0065-1.2411l.0066 .9572l.0065-1.2257l.0065 .9481l.0066 .9377l.0065-1.2092l.0065-1.196l.0066 .9304l.0065-1.1817l.0065-1.1692l.0065-1.1566l.0066 .9243l.0065 .9146l.0065 .9051l.0066-1.1409l.0065 .8969l.0065-1.1278l.0066-1.1163l.0065-1.1048l.0065-1.0937l.0065-1.0826l.0066-1.0717l.0065 .894l.0065-1.0602l.0066 .886l.0065-1.0489l.0065 .8781l.0066 .8695l.0065-1.037l.0065-1.0269l.0065 .8627l.0066 .8544l.0065 .8463l.0065 .8383l.0066-1.0139l.0065 .8312l.0065-1.0036l.0066 .8243l.0065 .8167l.0065-.9926l.0065-.9836l.0066-.9746l.0065 .8115l.0065-.965l.0066 .8049l.0065-.9556l.0065 .7984l.0066 .7913l.0065 .7843l.0065-.9451l.0065-.9368l.0066 .7788l.0065 .7721l.0065-.9273l.0066-.9193l.0065-.9113l.0065 .7673l.0066 .7608l.0065 .7544l.0065-.9018l.0065-.8942l.0066 .7492l.0065-.8861l.0065-.8788l.0066 .7441l.0065 .7381l.0065-.8705l.0066 .7325l.0065-.8628l.0065-.8558l.0065 .7276l.0066-.8484l.0065 .7223l.0065 .7166l.0066-.8407l.0065-.8341l.0065-.8275l.0066 .7124l.0065-.8206l.0065 .7072l.0065 .7017l.0066 .6964l.0065-.8129l.0065 .6914l.0066 .6861l.0065-.8057l.0065-.7997l.0066 .6819l.0065-.7933l.0065 .6772l.0065-.7868l.0066 .6725l.0065 .6675l.0065 .6627l.0066-.7798l.0065 .6582l.0065 .6534l.0066 .6486l.0065-.7727l.0065-.7671l.0065 .6448l.0066-.7612l.0065-.7558l.0065-.7504l.0066 .6415l.0065 .6369l.0065-.7443l.0066-.7391l.0065-.734l.0065-.7288l.0065-.7237l.0066-.7188l.0065 .6345l.0065-.7135l.0066-.7087l.0065 .6307l.0065-.7035l.0066-.6988l.0065 .6269l.0065 .6226l.0065 .6185l.0066-.6933l.0065 .6146l.0065 .6105l.0066-.6882l.0065 .6068l.0065-.6834l.0066-.679l.0065-.6745l.0065 .6035l.0065-.6699l.0066-.6655l.0065 .6l.0065 .5962l.0066 .5923l.0065 .5886l.0065 .5848l.0066 .5811l.0065 .5775l.0065 .5737l.0065-.6593l.0066-.6553l.0065-.6511l.0065-.6471l.0066 .5712l.0065 .5676l.0065-.6426l.0066-.6387l.0065 .5647l.0065 .5611l.0065 .5578l.0066-.6341l.0065 .5546l.0065 .5513l.0066 .5479l.0065 .5447l.0065 .5414l.0066-.629l.0065 .5384l.0065 .5352l.0065-.6247l.0066-.6211l.0065 .5326l.0065-.6172l.0066 .5298l.0065 .5266l.0065-.613l.0066-.6095l.0065-.606l.0065-.6025l.0065-.599l.0066 .5248l.0065 .5217l.0065-.5952l.0066 .519l.0065 .5161l.0065-.5914l.0066-.588l.0065 .5136l.0065-.5846l.0065-.5812l.0066 .5111l.0065 .5082l.0065 .5055l.0066-.5775l.0065 .5029l.0065 .5001l.0066 .4973l.0065 .4947l.0065 .4919l.0065 .4893l.0066-.573l.0065 .4869l.0065-.5697l.0066-.5666l.0065-.5636l.0065-.5606l.0066 .4851l.0065-.5574l.0065-.5544l.0065-.5515l.0066-.5486l.0065 .4833l.0065 .4807l.0066-.5454l.0065 .4784l.0065 .4759l.0066-.5422l.0065 .4736l.0065-.5392l.0065-.5364l.0066 .4715l.0065 .469l.0065-.5333l.0066 .4668l.0065 .4645l.0065-.5303l.0066-.5276l.0065 .4625l.0065-.5248l.0065-.5222l.0066 .4605l.0065 .4581l.0065 .4558l.0066 .4536l.0065-.5189l.0065 .4515l.0066-.5162l.0065-.5136l.0065-.5111l.0065 .4497l.0066 .4476l.0065 .4453l.0065 .4432l.0066 .441l.0065-.5078l.0065 .4391l.0066 .4369l.0065 .4349l.0065 .4327l.0065-.5047l.0066 .4309l.0065 .4288l.0065 .4268l.0066-.5018l.0065 .4249l.0065-.4992l.0066 .4231l.0065 .4211l.0065-.4965l.0065-.4942l.0066 .4195l.0065-.4918l.0065-.4894l.0066-.4872l.0065-.485l.0065-.4827l.0066-.4805l.0065 .4185l.0065-.4781l.0065-.476l.0066 .4169l.0065 .4149l.0065 .4131l.0066 .4112l.0065-.4732l.0065 .4095l.0066-.471l.0065 .4078l.0065 .406l.0065-.4686l.0066 .4043l.0065-.4664l.0065-.4643l.0066-.4622l.0065-.4602l.0065-.4582l.0066 .4031l.0065-.456l.0065-.4541l.0065-.452l.0066-.4502l.0065-.4481l.0065-.4462l.0066-.4443l.0065-.4423l.0065-.4405l.0066-.4385l.0065 .4024l.0065-.4366l.0065-.4348l.0066-.4328l.0065 .4008l.0065-.4309l.0066 .3992l.0065 .3976l.0065 .3958l.0066 .3943l.0065 .3925l.0065 .3909l.0065 .3893l.0066 .3876l.0065 .3861l.0065 .3844l.0066 .3828l.0065-.4282l.0065-.4265l.0066 .3814l.0065-.4247l.0065 .38l.0065-.4228l.0066-.4211l.0065-.4194l.0065 .3787l.0066-.4176l.0065-.4159l.0065-.4142l.0066-.4126l.0065-.4108l.0065-.4093l.0065-.4075l.0066-.406l.0065 .3777l.0065-.4043l.0066 .3763l.0065 .3747l.0065 .3732l.0066-.4025l.0065 .3719l.0065 .3703l.0065 .3689l.0066 .3675l.0065-.4007l.0065-.3991l.0066 .3662l.0065 .3647l.0065 .3633l.0066 .3619l.0065-.3973l.0065 .3606l.0065 .3591l.0066-.3956l.0065-.394l.0065-.3926l.0066-.391l.0065-.3896l.0065 .3581l.0066 .3568l.0065-.388l.0065-.3865l.0065-.385l.0066-.3836l.0065-.3821l.0065-.3807l.0066-.3792l.0065-.3778l.0065 .3558l.0066 .3544l.0065-.3763l.0065 .3532l.0065 .3519l.0066 .3506l.0065 .3492l.0065 .348l.0066-.3747l.0065 .3468l.0065 .3455l.0066 .3442l.0065-.3732l.0065-.3718l.0065 .343l.0066-.3704l.0065 .3419l.0065-.369l.0066-.3677l.0065-.3663l.0065-.365l.0066 .3408l.0065-.3637l.0065 .3397l.0065-.3623l.0066-.3611l.0065-.3597l.0065 .3385l.0066 .3374l.0065 .3361l.0065 .3349l.0066-.3583l.0065-.357l.0065-.3557l.0065 .3338l.0066-.3545l.0065-.3532l.0065-.352l.0066-.3507l.0065-.3496l.0065 .3329l.0066-.3483l.0065-.3471l.0065 .3318l.0065-.3459l.0066 .3307l.0065 .3295l.0065 .3283l.0066-.3446l.0065-.3434l.0065-.3422l.0066 .3273l.0065 .3262l.0065 .3251l.0065 .324l.0066 .3229l.0065 .3218l.0065-.3409l.0066-.3397l.0065-.3386l.0065-.3375l.0066 .3209l.0065 .3197l.0065-.3362l.0065-.3352l.0066-.334l.0065-.3329l.0065-.3318l.0066 .3188l.0065 .3178l.0065-.3307l.0066-.3296l.0065-.3284l.0065-.3274l.0065-.3263l.0066 .3168l.0065-.3253l.0065-.3241l.0066 .3158l.0065 .3147l.0065 .3137l.0066 .3127l.0065-.323l.0065-.322l.0065-.321l.0066-.3199l.0065-.3189l.0065-.3178l.0066 .3118l.0065 .3107l.0065 .3098l.0066 .3088l.0065 .3078l.0065 .3068l.0065-.3167l.0066-.3158l.0065-.3148l.0065 .3059l.0066 .305l.0065-.3138l.0065-.3127l.0066-.3118l.0065-.3108l.0065-.3098l.0065-.3088l.0066 .304l.0065 .3031l.0065 .3021l.0066-.3078l.0065 .3012l.0065-.3069l.0066-.3059l.0065-.305l.0065-.304l.0065-.3031l.0066-.3022l.0065-.3012l.0065 .3003l.0066 .2994l.0065 .2985l.0065 .2975l.0066-.3003l.0065-.2994l.0065-.2984l.0065 .2966l.0066-.2975l.0065 .2957l.0065 .2949l.0066-.2967l.0065 .294l.0065-.2957l.0066 .2931l.0065 .2922l.0065 .2913l.0065 .2905l.0066 .2896l.0065 .2887l.0065-.2948l.0066-.294l.0065 .2879l.0065 .2871l.0066-.2931l.0065-.2922l.0065-.2913l.0065 .2862l.0066 .2854l.0065 .2845l.0065-.2905l.0066 .2838l.0065 .2828l.0065 .2821l.0066 .2812l.0065 .2804l.0065 .2796l.0065 .2788l.0066 .278l.0065-.2895l.0065 .2771l.0066-.2886l.0065-.2878l.0065-.287l.0066-.2862l.0065-.2853l.0065-.2845l.0065 .2765l.0066 .2756l.0065-.2836l.0065 .2749l.0066-.2829l.0065-.2821l.0065-.2812l.0066 .2741l.0065-.2804l.0065 .2734l.0065-.2797l.0066-.2788l.0065 .2726l.0065 .2719l.0066-.2781l.0065 .2711l.0065 .2704l.0066-.2773l.0065 .2696l.0065 .2689l.0065 .2681l.0066 .2674l.0065 .2666l.0065 .2659l.0066 .2651l.0065-.2764l.0065-.2756l.0066-.2749l.0065-.2741l.0065-.2734l.0065-.2726l.0066-.2718l.0065-.2711l.0065-.2704l.0066-.2696l.0065-.2689l.0065-.2682l.0066-.2674l.0065-.2667l.0065-.266l.0065-.2653l.0066-.2645l.0065-.2639l.0065 .2646l.0066 .2638l.0065-.2631l.0065-.2624l.0066-.2617l.0065 .2631l.0065-.261l.0065 .2624l.0066-.2603l.0065 .2617l.0065 .261l.0066 .2603l.0065 .2596l.0065 .259l.0066 .2582l.0065-.2596l.0065-.2589l.0065-.2583l.0066-.2576l.0065-.2569l.0065-.2562l.0066-.2555l.0065 .2575l.0065-.2549l.0066-.2542l.0065 .2569l.0065-.2535l.0065-.2529l.0066 .2562l.0065 .2555l.0065 .2549l.0066 .2542l.0065-.2522l.0065 .2535l.0066-.2516l.0065 .2529l.0065 .2523l.0065 .2516l.0066-.251l.0065-.2503l.0065-.2497l.0066-.249l.0065 .251l.0065-.2484l.0066 .2503l.0065-.2478l.0065-.2472l.0065-.2465l.0066-.2459l.0065 .2497l.0065 .249l.0066 .2484l.0065-.2453l.0065 .2478l.0066-.2447l.0065 .2472l.0065-.2441l.0065 .2466l.0066-.2435l.0065 .2459l.0065 .2453l.0066 .2447l.0065 .244l.0065 .2435l.0066-.2429l.0065 .2429l.0065-.2423l.0065-.2416l.0066 .2422l.0065 .2417l.0065 .2411l.0066-.2411l.0065 .2405l.0065 .2398l.0066 .2393l.0065 .2387l.0065 .2382l.0065-.2405l.0066 .2375l.0065 .237l.0065 .2364l.0066 .2358l.0065 .2352l.0065 .2347l.0066 .2341l.0065 .2335l.0065 .233l.0065 .2324l.0066-.2399l.0065-.2392l.0065-.2387l.0066-.238l.0065 .2318l.0065-.2375l.0066-.2369l.0065-.2364l.0065-.2358l.0065 .2313l.0066 .2308l.0065-.2352l.0065-.2347l.0066-.2341l.0065 .2303l.0065 .2297l.0066-.2336l.0065 .2292l.0065-.233l.0065-.2324l.0066 .2286l.0065 .2281l.0065-.2319l.0066 .2276l.0065-.2314l.0065 .2271l.0066 .2265l.0065 .226l.0065 .2254l.0065-.2307l.0066 .2249l.0065-.2302l.0065 .2244l.0066 .2239l.0065-.2297l.0065-.2292l.0066 .2234l.0065 .2229l.0065-.2286l.0065 .2224l.0066-.2281l.0065 .2219l.0065 .2213l.0066-.2275l.0065 .2208l.0065-.227l.0066 .2204l.0065 .2198l.0065-.2265l.0065 .2194l.0066-.2259l.0065-.2255l.0065-.2249l.0066 .2189l.0065-.2245l.0065-.2239l.0066-.2234l.0065-.2229l.0065 .2185l.0065 .2179l.0066-.2224l.0065-.2219l.0065-.2214l.0066 .2175l.0065-.2209l.0065-.2204l.0066-.2199l.0065-.2194l.0065-.219l.0065-.2184l.0066-.2179l.0065-.2175l.0065-.217l.0066 .217l.0065-.2165l.0065-.216l.0066 .2165l.0065-.2156l.0065-.215l.0065 .216l.0066 .2155l.0065 .2151l.0065 .2146l.0066 .2141l.0065 .2137l.0065 .2132l.0066 .2127l.0065 .2123l.0065 .2118l.0065 .2113l.0066-.2146l.0065-.2141l.0065-.2137l.0066-.2131l.0065-.2128l.0065-.2122l.0066-.2118l.0065-.2114l.0065-.2109l.0065 .2109l.0066 .2104l.0065 .21l.0065-.2104l.0066 .2095l.0065 .2091l.0065 .2087l.0066 .2082l.0065-.21l.0065-.2096l.0065-.2091l.0066 .2078l.0065 .2073l.0065 .2069l.0066-.2087l.0065 .2065l.0065-.2082l.0066 .206l.0065 .2056l.0065 .2051l.0065-.2078l.0066 .2047l.0065 .2043l.0065 .2039l.0066-.2073l.0065 .2034l.0065-.2069l.0066-.2064l.0065-.206l.0065-.2056l.0065 .203l.0066-.2051l.0065-.2047l.0065 .2026l.0066-.2043l.0065 .2022l.0065-.2039l.0066 .2018l.0065-.2035l.0065 .2014l.0065 .2009l.0066 .2005l.0065 .2001l.0065-.203l.0066 .1997l.0065 .1992l.0065-.2026l.0066-.2021l.0065-.2018l.0065-.2013l.0065-.2009l.0066 .1989l.0065-.2005l.0065-.2001l.0066-.1997l.0065 .1984l.0065-.1992l.0066-.1989l.0065-.1985l.0065-.1981l.0065-.1976l.0066-.1973l.0065-.1969l.0065-.1965l.0066-.1961l.0065 .1981l.0065-.1957l.0066-.1953l.0065-.1949l.0065-.1945l.0065-.1941l.0066-.1938l.0065-.1933l.0065 .1976l.0066-.1929l.0065-.1926l.0065-.1922l.0066 .1972l.0065-.1918l.0065 .1969l.0065 .1964l.0066 .1961l.0065 .1957l.0065-.1915l.0066-.1911l.0065-.1907l.0065 .1953l.0066 .1949l.0065 .1945l.0065-.1904l.0065-.1899l.0066-.1896l.0065-.1892l.0065-.1889l.0066-.1885l.0065 .1941l.0065-.1881l.0066-.1877l.0065 .1937l.0065 .1933l.0065-.1874l.0066-.187l.0065 .1929l.0065 .1926l.0066 .1922l.0065-.1867l.0065-.1863l.0066 .1918l.0065-.186l.0065 .1914l.0065-.1856l.0066-.1852l.0065 .191l.0065 .1907l.0066 .1903l.0065 .19l.0065 .1896l.0066 .1892l.0065 .1889l.0065 .1885l.0065-.185l.0066-.1845l.0065 .1881l.0065 .1878l.0066 .1874l.0065 .1871l.0065-.1843l.0066 .1867l.0065 .1864l.0065 .186l.0065 .1857l.0066 .1853l.0065-.1839l.0065 .1849l.0066 .1846l.0065-.1835l.0065-.1833l.0066 .1843l.0065-.1829l.0065 .1839l.0065-.1825l.0066 .1836l.0065-.1822l.0065-.1819l.0066-.1815l.0065 .1832l.0065-.1812l.0066-.1808l.0065 .1829l.0065-.1806l.0065 .1826l.0066-.1802l.0065 .1822l.0065-.1799l.0066-.1795l.0065-.1792l.0065 .1819l.0066 .1815l.0065-.1788l.0065-.1786l.0065 .1812l.0066-.1782l.0065-.1779l.0065-.1775l.0066 .1808l.0065 .1805l.0065-.1772l.0066 .1802l.0065-.177l.0065-.1765l.0065-.1763l.0066 .1798l.0065 .1795l.0065-.1759l.0066 .1792l.0065 .1788l.0065-.1756l.0066-.1754l.0065-.175l.0065-.1746l.0065-.1744l.0066 .1785l.0065-.1741l.0065-.1737l.0066 .1782l.0065-.1735l.0065 .1779l.0066 .1775l.0065 .1772l.0065-.1731l.0065-.1728l.0066-.1725l.0065-.1723l.0065 .1769l.0066-.1719l.0065 .1766l.0065-.1716l.0066 .1762l.0065-.1713l.0065-.171l.0065-.1707l.0066-.1704l.0065-.1701l.0065 .1759l.0066 .1756l.0065 .1753l.0065 .175l.0066-.1698l.0065-.1695l.0065-.1692l.0065 .1746l.0066-.1689l.0065 .1744l.0065-.1687l.0066-.1683l.0065 .174l.0065 .1738l.0066-.1681l.0065-.1678l.0065-.1674l.0065-.1672l.0066 .1734l.0065-.1669l.0065 .1731l.0066 .1728l.0065-.1666l.0065 .1725l.0066-.1663l.0065-.1661l.0065 .1722l.0065-.1658l.0066-.1654l.0065-.1652l.0065-.1649l.0066-.1647l.0065 .1719l.0065-.1643l.0066-.1641l.0065 .1716l.0065 .1712l.0065-.1638l.0066 .171l.0065-.1635l.0065-.1633l.0066-.1629l.0065 .1706l.0065 .1704l.0066-.1627l.0065 .17l.0065 .1698l.0065 .1695l.0066-.1625l.0065 .1692l.0065-.1621l.0066 .1689l.0065-.1619l.0065-.1617l.0066-.1613l.0065-.1611l.0065-.1608l.0065 .1686l.0066 .1683l.0065-.1606l.0065-.1603l.0066 .168l.0065 .1677l.0065-.16l.0066-.1598l.0065-.1594l.0065 .1674l.0065-.1593l.0066-.1589l.0065 .1671l.0065 .1669l.0066-.1588l.0065-.1584l.0065 .1665l.0066-.1582l.0065-.1579l.0065 .1663l.0065-.1577l.0066 .166l.0065 .1657l.0065 .1654l.0066-.1574l.0065-.1572l.0065-.1569l.0066 .1651l.0065-.1566l.0065 .1648l.0065-.1564l.0066-.1562l.0065-.1559l.0065-.1556l.0066 .1646l.0065 .1643l.0065 .164l.0066-.1554l.0065-.1552l.0065 .1638l.0065-.155l.0066 .1635l.0065 .1632l.0065 .163l.0066 .1626l.0065-.1546l.0065-.1545l.0066 .1624l.0065 .1622l.0065-.1543l.0065 .1619l.0066 .1616l.0065-.1539l.0065 .1613l.0066-.1537l.0065 .1611l.0065 .1608l.0066 .1605l.0065 .1603l.0065 .1601l.0065-.1535l.0066 .1598l.0065-.1533l.0065 .1595l.0066 .1593l.0065-.153l.0065 .159l.0066 .1587l.0065 .1585l.0065 .1583l.0065-.1528l.0066-.1526l.0065 .158l.0065-.1523l.0066 .1577l.0065 .1575l.0065-.1521l.0066 .1572l.0065 .157l.0065 .1568l.0065-.1519l.0066-.1516l.0065-.1514l.0065-.1512l.0066 .1565l.0065-.1509l.0065 .1562l.0066-.1507l.0065-.1504l.0065-.1502l.0065 .1559l.0066 .1558l.0065 .1554l.0065 .1553l.0066-.15l.0065 .155l.0065-.1498l.0066 .1548l.0065-.1496l.0065-.1493l.0065-.1491l.0066 .1545l.0065 .1543l.0065-.1489l.0066-.1486l.0065-.1484l.0065 .154l.0066 .1538l.0065 .1535l.0065 .1533l.0065-.1482l.0066-.1479l.0065-.1477l.0065 .153l.0066-.1475l.0065 .1528l.0065 .1526l.0066 .1523l.0065-.1473l.0065-.147l.0065-.1469l.0066 .1521l.0065-.1466l.0065-.1464l.0066-.1461l.0065-.146l.0065-.1457l.0066-.1455l.0065-.1453l.0065 .1518l.0065-.145l.0066-.1449l.0065 .1516l.0065-.1446l.0066-.1444l.0065 .1513l.0065-.1442l.0066-.144l.0065 .1512l.0065 .1508l.0065 .1507l.0066-.1438l.0065-.1436l.0065-.1433l.0066 .1504l.0065 .1502l.0065 .1499l.0066-.1431l.0065 .1497l.0065-.1429l.0065-.1427l.0066-.1425l.0065 .1494l.0065-.1423l.0066 .1493l.0065-.1421l.0065-.1419l.0066 .149l.0065 .1489l.0065-.1417l.0065 .1486l.0066-.1415l.0065 .1483l.0065-.1413l.0066-.141l.0065-.1409l.0065 .1481l.0066-.1406l.0065 .1479l.0065 .1477l.0065 .1474l.0066-.1404l.0065 .1472l.0065-.1403l.0066 .1471l.0065 .1468l.0065-.1401l.0066-.1399l.0065-.1396l.0065 .1465l.0065-.1394l.0066 .1463l.0065-.1392l.0065-.1391l.0066 .1461l.0065 .146l.0065-.1389l.0066-.1387l.0065-.1384l.0065 .1457l.0065 .1454l.0066 .1453l.0065 .1451l.0065 .1448l.0066 .1447l.0065-.1383l.0065-.1381l.0066-.1379l.0065-.1377l.0065 .1444l.0065 .1442l.0066-.1375l.0065 .144l.0065-.1373l.0066-.1371l.0065 .1437l.0065 .1436l.0066-.1369l.0065-.1368l.0065-.1365l.0065-.1363l.0066-.1362l.0065 .1434l.0065 .1431l.0066-.136l.0065-.1357l.0065 .1429l.0066-.1356l.0065-.1354l.0065 .1427l.0065 .1425l.0066-.1352l.0065-.135l.0065 .1423l.0066 .1421l.0065 .1419l.0065 .1417l.0066-.1349l.0065-.1346l.0065 .1414l.0065 .1413l.0066 .1411l.0065-.1345l.0065 .1409l.0066 .1407l.0065 .1404l.0065-.1343l.0066-.1341l.0065 .1403l.0065-.1339l.0065-.1338l.0066-.1335l.0065 .14l.0065-.1333l.0066-.1332l.0065 .1399l.0065-.133l.0066 .1396l.0065 .1395l.0065 .1392l.0065 .1391l.0066-.1328l.0065-.1327l.0065 .1389l.0066-.1325l.0065 .1387l.0065 .1385l.0066-.1323l.0065 .1383l.0065-.1321l.0065-.132l.0066 .1381l.0065 .1379l.0065 .1377l.0066-.1317l.0065-.1316l.0065 .1375l.0066-.1314l.0065 .1373l.0065 .1371l.0065 .137l.0066 .1367l.0065-.1312l.0065-.1311l.0066-.1309l.0065-.1307l.0065-.1305l.0066-.1303l.0065 .1365l.0065 .1363l.0065-.1301l.0066-.13l.0065-.1299l.0065-.1296l.0066-.1295l.0065 .1362l.0065-.1293l.0066 .1359l.0065-.1291l.0065-.129l.0065-.1287l.0066 .1357l.0065 .1356l.0065-.1286l.0066-.1285l.0065-.1282l.0065-.1281l.0066-.1279l.0065-.1278l.0065-.1276l.0065 .1354l.0066 .1352l.0065 .135l.0065-.1275l.0066-.1272l.0065-.1271l.0065-.1269l.0066-.1268l.0065 .1348l.0065-.1265l.0065-.1265l.0066 .1346l.0065-.1262l.0065 .1344l.0066-.1261l.0065-.1259l.0065-.1257l.0066-.1256l.0065 .1342l.0065-.1254l.0065-.1253l.0066 .134l.0065 .1339l.0065 .1337l.0066 .1335l.0065 .1333l.0065 .1331l.0066-.1251l.0065 .1329l.0065-.1249l.0065 .1328l.0066 .1326l.0065-.1248l.0065 .1324l.0066 .1322l.0065-.1246l.0065-.1245l.0066 .132l.0065-.1243l.0065-.1242l.0065 .1319l.0066 .1317l.0065-.124l.0065-.1238l.0066-.1237l.0065-.1236l.0065-.1233l.0066 .1315l.0065-.1232l.0065-.1231l.0065 .1313l.0066 .1312l.0065-.1229l.0065-.1227l.0066-.1226l.0065-.1225l.0065 .131l.0066 .1308l.0065 .1306l.0065-.1223l.0065-.1221l.0066-.122l.0065 .1305l.0065 .1303l.0066 .1301l.0065-.1219l.0065 .13l.0066 .1297l.0065 .1297l.0065-.1217l.0065-.1216l.0066-.1213l.0065-.1213l.0065 .1294l.0066-.121l.0065 .1292l.0065 .1291l.0066-.1209l.0065-.1208l.0065 .1289l.0065-.1206l.0066 .1287l.0065-.1205l.0065 .1286l.0066 .1284l.0065 .1282l.0065 .1281l.0066-.1203l.0065 .1279l.0065-.1202l.0065 .1277l.0066-.12l.0065 .1276l.0065 .1274l.0066 .1272l.0065-.1199l.0065-.1197l.0066 .127l.0065 .127l.0065 .1267l.0065 .1266l.0066 .1265l.0065-.1197l.0065-.1194l.0066-.1194l.0065-.1191l.0065 .1262l.0066 .1261l.0065 .126l.0065 .1258l.0065 .1256l.0066-.119l.0065-.1189l.0065-.1188l.0066-.1186l.0065-.1185l.0065 .1255l.0066 .1253l.0065-.1183l.0065-.1182l.0065-.118l.0066-.1179l.0065 .1251l.0065-.1177l.0066-.1176l.0065-.1174l.0065 .1249l.0066-.1173l.0065-.1171l.0065 .1248l.0065 .1246l.0066 .1245l.0065 .1243l.0065 .1242l.0066-.1171l.0065-.1168l.0065 .124l.0066-.1168l.0065 .1239l.0065 .1237l.0065 .1235l.0066-.1166l.0065 .1234l.0065 .1233l.0066 .1231l.0065 .1229l.0065-.1165l.0066-.1163l.0065-.1162l.0065 .1227l.0065-.116l.0066 .1226l.0065 .1225l.0065 .1223l.0066 .1222l.0065 .122l.0065-.1159l.0066-.1158l.0065-.1157l.0065-.1155l.0065 .1218l.0066-.1154l.0065-.1152l.0065 .1217l.0066 .1216l.0065-.1151l.0065-.115l.0066 .1214l.0065-.1149l.0065-.1147l.0065 .1213l.0066-.1146l.0065-.1144l.0065-.1143l.0066 .1211l.0065-.1142l.0065 .121l.0066-.1141l.0065 .1208l.0065-.1139l.0065 .1207l.0066 .1205l.0065 .1204l.0065 .1202l.0066 .1201l.0065-.1138l.0065 .1199l.0066 .1198l.0065 .1196l.0065 .1195l.0065-.1136l.0066-.1135l.0065-.1134l.0065 .1193l.0066 .1192l.0065 .1191l.0065-.1133l.0066 .1189l.0065-.1131l.0065-.113l.0065 .1188l.0066 .1186l.0065-.1129l.0065-.1127l.0066-.1126l.0065-.1125l.0065-.1123l.0066 .1184l.0065-.1122l.0065 .1184l.0065 .1181l.0066-.112l.0065-.112l.0065-.1118l.0066-.1117l.0065 .118l.0065-.1115l.0066 .1179l.0065-.1115l.0065 .1178l.0065 .1176l.0066-.1113l.0065-.1112l.0065 .1174l.0066-.111l.0065 .1173l.0065-.1109l.0066 .1172l.0065-.1108l.0065 .117l.0065 .1169l.0066-.1107l.0065 .1168l.0065 .1166l.0066-.1105l.0065 .1165l.0065-.1105l.0066-.1103l.0065 .1164l.0065 .1162l.0065 .1161l.0066 .1159l.0065 .1159l.0065 .1156l.0066 .1156l.0065 .1154l.0065-.1102l.0066 .1153l.0065-.1101l.0065 .1151l.0065-.1099l.0066-.1099l.0065 .115l.0065-.1097l.0066 .1149l.0065-.1096l.0065-.1094l.0066-.1094l.0065 .1148l.0065 .1145l.0065-.1092l.0066-.1091l.0065-.1089l.0065-.1089l.0066-.1087l.0065 .1145l.0065 .1143l.0066-.1086l.0065-.1085l.0065-.1084l.0065-.1082l.0066 .1142l.0065-.1081l.0065 .114l.0066 .1139l.0065-.108l.0065 .1138l.0066-.1078l.0065-.1078l.0065-.1076l.0065-.1075l.0066-.1074l.0065 .1136l.0065 .1135l.0066 .1134l.0065 .1132l.0065 .1132l.0066-.1073l.0065 .113l.0065 .1128l.0065-.1071l.0066 .1127l.0065 .1126l.0065-.107l.0066 .1124l.0065-.1069l.0065 .1124l.0066-.1069l.0065 .1123l.0065 .112l.0065 .112l.0066-.1067l.0065 .1118l.0065-.1065l.0066-.1065l.0065-.1064l.0065 .1117l.0066-.1062l.0065-.1061l.0065 .1115l.0065-.106l.0066-.1059l.0065-.1057l.0065 .1114l.0066 .1113l.0065 .1112l.0065 .1111l.0066-.1057l.0065-.1055l.0065 .1109l.0065-.1054l.0066 .1108l.0065-.1053l.0065-.1052l.0066 .1107l.0065-.1051l.0065 .1105l.0066-.1049l.0065-.1049l.0065 .1104l.0065 .1104l.0066-.1048l.0065 .1102l.0065-.1047l.0066 .1101l.0065-.1045l.0065-.1044l.0066-.1043l.0065 .1099l.0065 .1098l.0065 .1097l.0066-.1042l.0065-.1041l.0065 .1096l.0066-.104l.0065 .1095l.0065-.1039l.0066-.1037l.0065 .1093l.0065 .1092l.0065-.1036l.0066 .109l.0065-.1035l.0065 .109l.0066 .1088l.0065 .1087l.0065 .1086l.0066-.1034l.0065-.1033l.0065 .1085l.0065-.1032l.0066 .1083l.0065-.1031l.0065-.103l.0066-.1029l.0065 .1083l.0065-.1028l.0066 .1081l.0065-.1026l.0065-.1026l.0065 .108l.0066 .1079l.0065 .1078l.0065 .1076l.0066 .1075l.0065 .1075l.0065 .1073l.0066 .1071l.0065-.1024l.0065-.1024l.0065 .1071l.0066 .1069l.0065 .1069l.0065 .1067l.0066-.1023l.0065 .1067l.0065 .1065l.0066 .1063l.0065-.1021l.0065-.1021l.0065 .1063l.0066-.1019l.0065-.1019l.0065-.1017l.0066 .1061l.0065 .1061l.0065 .1059l.0066 .1058l.0065-.1016l.0065 .1057l.0065 .1055l.0066 .1055l.0065-.1015l.0065-.1014l.0066 .1053l.0065-.1013l.0065-.1012l.0066 .1052l.0065-.101l.0065-.101l.0065 .1051l.0066-.1009l.0065-.1008l.0065 .105l.0066-.1007l.0065-.1005l.0065 .1049l.0066-.1005l.0065-.1004l.0065 .1048l.0065 .1047l.0066 .1045l.0065-.1002l.0065-.1002l.0066 .1044l.0065 .1044l.0065 .1042l.0066 .1041l.0065 .104l.0065-.1l.0065-.1l.0066 .1039l.0065 .1038l.0065 .1037l.0066 .1035l.0065-.0998l.0065 .1034l.0066-.0997l.0065 .1033l.0065-.0997l.0065 .1033l.0066-.0996l.0065-.0994l.0065 .1031l.0066-.0994l.0065 .1031l.0065-.0993l.0066-.0991l.0065-.0991l.0065 .1029l.0065-.0989l.0066-.0989l.0065 .1028l.0065 .1027l.0066-.0987l.0065 .1025l.0065-.0986l.0066 .1025l.0065 .1024l.0065-.0986l.0065 .1023l.0066 .1021l.0065 .1021l.0065-.0985l.0066-.0983l.0065 .1019l.0065-.0982l.0066 .1018l.0065 .1017l.0065-.0981l.0065-.0981l.0066 .1016l.0065-.0979l.0065 .1015l.0066-.0979l.0065 .1015l.0065 .1013l.0066-.0978l.0065-.0977l.0065 .1013l.0065-.0976l.0066-.0975l.0065-.0974l.0065 .1011l.0066-.0972l.0065 .101l.0065-.0972l.0066 .1009l.0065-.0971l.0065-.097l.0065 .1008l.0066 .1007l.0065-.0969l.0065 .1006l.0066 .1004l.0065 .1004l.0065 .1003l.0066-.0968l.0065-.0967l.0065 .1002l.0065 .1l.0066 .1l.0065 .0999l.0065 .0998l.0066-.0967l.0065 .0997l.0065 .0996l.0066 .0994l.0065-.0965l.0065-.0964l.0065 .0994l.0066 .0992l.0065 .0992l.0065 .0991l.0066-.0964l.0065-.0962l.0065-.0961l.0066 .0989l.0065-.096l.0065 .0988l.0065 .0988l.0066 .0987l.0065 .0985l.0065-.0959l.0066-.0959l.0065-.0957l.0065 .0984l.0066 .0984l.0065 .0983l.0065-.0957l.0065 .0982l.0066 .098l.0065 .098l.0065 .0979l.0066 .0978l.0065-.0956l.0065 .0977l.0066 .0976l.0065 .0975l.0065 .0974l.0065-.0955l.0066-.0954l.0065-.0953l.0065 .0973l.0066-.0952l.0065 .0972l.0065-.0952l.0066 .0972l.0065-.0951l.0065-.0949l.0065-.0949l.0066-.0947l.0065 .097l.0065-.0947l.0066 .097l.0065-.0946l.0065 .0968l.0066 .0967l.0065 .0966l.0065-.0944l.0065-.0944l.0066-.0943l.0065-.0942l.0065-.0941l.0066 .0965l.0065 .0964l.0065-.094l.0066 .0964l.0065 .0962l.0065-.0939l.0065 .0961l.0066 .0961l.0065-.0939l.0065 .096l.0066-.0938l.0065-.0936l.0065-.0936l.0066 .0959l.0065-.0935l.0065 .0958l.0065-.0934l.0066-.0933l.0065 .0956l.0065 .0956l.0066-.0932l.0065-.0931l.0065-.093l.0066-.093l.0065 .0955l.0065-.0929l.0065-.0927l.0066-.0927l.0065-.0926l.0065-.0925l.0066-.0924l.0065 .0954l.0065 .0953l.0066 .0952l.0065 .0951l.0065-.0923l.0065-.0923l.0066-.0921l.0065 .095l.0065-.0921l.0066-.0919l.0065-.0919l.0065 .0949l.0066 .0948l.0065-.0918l.0065-.0917l.0065 .0947l.0066-.0916l.0065 .0947l.0065 .0945l.0066-.0915l.0065-.0915l.0065-.0914l.0066-.0912l.0065-.0912l.0065-.0912l.0065 .0945l.0066-.091l.0065 .0943l.0065-.0909l.0066-.0909l.0065-.0907l.0065 .0943l.0066 .0941l.0065 .0941l.0065-.0907l.0065 .094l.0066 .094l.0065 .0938l.0065 .0937l.0066-.0906l.0065 .0937l.0065-.0906l.0066 .0936l.0065 .0935l.0065-.0905l.0065-.0903l.0066-.0903l.0065-.0902l.0065 .0934l.0066-.0901l.0065-.09l.0065-.09l.0066 .0933l.0065-.0898l.0065-.0898l.0065-.0897l.0066-.0896l.0065 .0932l.0065 .0931l.0066 .093l.0065 .0929l.0065-.0895l.0066 .0929l.0065-.0895l.0065-.0893l.0065-.0893l.0066 .0927l.0065-.0892l.0065-.0891l.0066 .0927l.0065 .0926l.0065-.0891l.0066-.0889l.0065-.0889l.0065-.0888l.0065-.0887l.0066-.0886l.0065 .0925l.0065-.0886l.0066-.0884l.0065-.0884l.0065 .0924l.0066-.0883l.0065 .0923l.0065-.0882l.0065-.0882l.0066 .0922l.0065 .0922l.0065-.0881l.0066-.088l.0065-.0879l.0065-.0878l.0066-.0877l.0065-.0877l.0065-.0875l.0065-.0875l.0066 .092l.0065-.0874l.0065-.0874l.0066-.0872l.0065-.0872l.0065-.0871l.0066 .092l.0065 .0918l.0065-.087l.0065 .0917l.0066-.0869l.0065-.0869l.0065 .0917l.0066-.0868l.0065 .0916l.0065-.0867l.0066 .0915l.0065-.0866l.0065 .0914l.0065 .0913l.0066 .0913l.0065 .0911l.0065 .0911l.0066 .091l.0065-.0865l.0065 .0909l.0066 .0908l.0065 .0908l.0065 .0906l.0065 .0906l.0066 .0905l.0065-.0865l.0065-.0864l.0066 .0904l.0065-.0863l.0065 .0903l.0066 .0903l.0065-.0863l.0065 .0902l.0065-.0862l.0066-.0861l.0065 .09l.0065-.086l.0066 .09l.0065-.086l.0065-.0858l.0066 .0899l.0065 .0898l.0065-.0858l.0065 .0898l.0066 .0896l.0065 .0896l.0065 .0895l.0066 .0895l.0065-.0858l.0065 .0894l.0066 .0893l.0065 .0892l.0065-.0857l.0065 .0891l.0066-.0856l.0065-.0855l.0065-.0855l.0066-.0853l.0065-.0853l.0065-.0853l.0066 .0891l.0065-.0852l.0065-.085l.0065-.085l.0066-.085l.0065 .089l.0065-.0849l.0066-.0847l.0065 .0888l.0065-.0847l.0066 .0888l.0065 .0887l.0065 .0886l.0065-.0846l.0066-.0846l.0065-.0844l.0065-.0844l.0066-.0844l.0065-.0842l.0065 .0885l.0066-.0842l.0065 .0885l.0065-.0841l.0065-.0841l.0066-.0839l.0065-.0839l.0065 .0884l.0066-.0839l.0065-.0837l.0065 .0883l.0066-.0837l.0065-.0836l.0065 .0882l.0065-.0835l.0066-.0834l.0065 .0881l.0065-.0834l.0066-.0833l.0065 .088l.0065 .088l.0066-.0833l.0065-.0831l.0065-.0831l.0065-.083l.0066-.083l.0065-.0828l.0065-.0828l.0066-.0828l.0065-.0826l.0065-.0826l.0066 .0879l.0065 .0877l.0065 .0877l.0065 .0877l.0066 .0875l.0065-.0825l.0065 .0875l.0066-.0825l.0065 .0874l.0065-.0824l.0066 .0874l.0065-.0824l.0065 .0873l.0065 .0871l.0066-.0822l.0065-.0822l.0065-.0821l.0066-.082l.0065-.082l.0065-.0819l.0066 .0871l.0065-.0818l.0065 .087l.0065 .0869l.0066 .0869l.0065-.0818l.0065-.0817l.0066-.0816l.0065 .0868l.0065 .0866l.0066-.0815l.0065 .0866l.0065 .0866l.0065-.0815l.0066-.0815l.0065 .0865l.0065-.0813l.0066 .0863l.0065 .0864l.0065 .0862l.0066-.0813l.0065-.0812l.0065-.0812l.0065 .0862l.0066-.0811l.0065-.081l.0065 .0861l.0066-.0809l.0065 .086l.0065 .0859l.0066 .0858l.0065 .0858l.0065 .0857l.0065 .0857l.0066 .0856l.0065 .0854l.0065-.0808l.0066-.0809l.0065 .0854l.0065 .0854l.0066 .0853l.0065 .0852l.0065 .0851l.0065-.0808l.0066-.0807l.0065 .0851l.0065-.0806l.0066-.0806l.0065 .085l.0065 .0849l.0066-.0805l.0065-.0805l.0065-.0803l.0065-.0803l.0066-.0802l.0065 .0848l.0065 .0847l.0066-.0801l.0065 .0847l.0065-.0801l.0066 .0846l.0065 .0845l.0065 .0845l.0065-.0801l.0066-.0799l.0065 .0844l.0065-.0799l.0066-.0799l.0065 .0843l.0065-.0797l.0066-.0797l.0065-.0797l.0065 .0843l.0065-.0796l.0066-.0795l.0065 .0842l.0065 .084l.0066 .0841l.0065 .0839l.0065-.0794l.0066-.0794l.0065 .0839l.0065-.0793l.0065 .0838l.0066-.0793l.0065 .0838l.0065 .0836l.0066-.0792l.0065-.0791l.0065-.0791l.0066-.0789l.0065 .0835l.0065 .0836l.0065-.079l.0066-.0788l.0065 .0834l.0065 .0834l.0066 .0833l.0065-.0788l.0065 .0832l.0066 .0832l.0065 .0831l.0065 .083l.0065-.0787l.0066 .0829l.0065-.0786l.0065-.0787l.0066 .0829l.0065 .0828l.0065-.0785l.0066 .0827l.0065 .0827l.0065 .0826l.0065-.0785l.0066-.0784l.0065 .0825l.0065-.0783l.0066-.0783l.0065-.0783l.0065 .0825l.0066 .0824l.0065 .0823l.0065-.0782l.0065-.0781l.0066 .0823l.0065 .0822l.0065-.0781l.0066-.078l.0065 .0822l.0065-.078l.0066-.0778l.0065 .082l.0065-.0778l.0065 .082l.0066 .0819l.0065 .0819l.0065-.0778l.0066-.0777l.0065 .0818l.0065-.0776l.0066-.0776l.0065-.0775l.0065 .0817l.0065 .0817l.0066 .0816l.0065 .0815l.0065 .0814l.0066-.0774l.0065-.0774l.0065 .0814l.0066-.0774l.0065 .0814l.0065-.0773l.0065 .0812l.0066-.0772l.0065 .0812l.0065-.0771l.0066 .0811l.0065-.0771l.0065-.077l.0066 .081l.0065-.0769l.0065 .081l.0065-.0769l.0066-.0769l.0065 .0809l.0065 .0809l.0066 .0807l.0065 .0807l.0065 .0807l.0066-.0768l.0065 .0806l.0065 .0805l.0065 .0804l.0066 .0804l.0065-.0767l.0065-.0767l.0066 .0803l.0065 .0803l.0065 .0802l.0066 .0801l.0065 .08l.0065 .08l.0065-.0766l.0066-.0765l.0065-.0765l.0065 .0799l.0066 .0799l.0065 .0798l.0065-.0765l.0066 .0798l.0065-.0764l.0065-.0763l.0065 .0797l.0066-.0763l.0065 .0796l.0065-.0762l.0066 .0796l.0065 .0794l.0065-.0761l.0066 .0794l.0065 .0794l.0065 .0792l.0065 .0793l.0066 .0791l.0065 .0791l.0065 .079l.0066 .079l.0065 .0789l.0065 .0788l.0066-.0761l.0065-.076l.0065-.0759l.0065-.0759l.0066-.0759l.0065 .0788l.0065-.0758l.0066-.0757l.0065 .0787l.0065 .0787l.0066-.0757l.0065 .0786l.0065 .0785l.0065-.0756l.0066-.0755l.0065-.0755l.0065-.0754l.0066 .0784l.0065 .0784l.0065 .0783l.0066 .0783l.0065 .0782l.0065-.0754l.0065-.0753l.0066 .0782l.0065-.0753l.0065 .0781l.0066-.0752l.0065 .078l.0065-.0751l.0066-.0751l.0065 .0779l.0065 .0779l.0065-.075l.0066-.075l.0065-.0749l.0065-.0748l.0066 .0778l.0065 .0778l.0065 .0777l.0066 .0776l.0065 .0776l.0065 .0775l.0065 .0775l.0066 .0774l.0065-.0748l.0065-.0747l.0066-.0747l.0065-.0746l.0065-.0746l.0066 .0774l.0065 .0772l.0065-.0745l.0065-.0744l.0066-.0744l.0065-.0744l.0065-.0742l.0066 .0772l.0065-.0742l.0065-.0742l.0066 .0771l.0065 .0771l.0065-.0741l.0065 .0771l.0066-.0741l.0065 .077l.0065 .0769l.0066 .0768l.0065 .0768l.0065 .0768l.0066 .0766l.0065-.074l.0065 .0766l.0065 .0766l.0066-.074l.0065 .0765l.0065 .0765l.0066 .0764l.0065-.0739l.0065 .0763l.0066 .0762l.0065 .0762l.0065 .0762l.0065 .0761l.0066-.0739l.0065 .076l.0065 .076l.0066 .0759l.0065 .0759l.0065 .0758l.0066-.0738l.0065-.0738l.0065 .0758l.0065-.0737l.0066 .0757l.0065-.0737l.0065-.0735l.0066 .0756l.0065-.0735l.0065 .0755l.0066-.0734l.0065-.0734l.0065 .0755l.0065 .0754l.0066 .0754l.0065 .0753l.0065 .0753l.0066 .0752l.0065 .0752l.0065 .075l.0066 .0751l.0065 .075l.0065-.0734l.0065-.0733l.0066 .0749l.0065 .0749l.0065 .0748l.0066 .0748l.0065-.0733l.0065 .0747l.0066 .0747l.0065 .0746l.0065 .0745l.0065 .0745l.0066 .0744l.0065 .0743l.0065-.0732l.0066 .0743l.0065-.0731l.0065-.0731l.0066-.073l.0065 .0742l.0065 .0742l.0065 .0742l.0066-.073l.0065 .0741l.0065-.0729l.0066 .074l.0065-.0729l.0065-.0728l.0066 .074l.0065 .0739l.0065 .0738l.0065-.0727l.0066 .0738l.0065 .0737l.0065 .0737l.0066-.0727l.0065-.0726l.0065 .0736l.0066-.0726l.0065-.0725l.0065 .0735l.0065 .0736l.0066 .0734l.0065-.0725l.0065-.0724l.0066-.0724l.0065 .0734l.0065-.0723l.0066-.0723l.0065-.0722l.0065-.0721l.0065-.0721l.0066-.0721l.0065-.072l.0065-.0719l.0066 .0733l.0065 .0733l.0065 .0733l.0066-.0719l.0065-.0719l.0065-.0718l.0065-.0717l.0066 .0732l.0065 .0731l.0065-.0717l.0066-.0716l.0065-.0716l.0065-.0715l.0066-.0715l.0065-.0714l.0065 .0731l.0065 .073l.0066 .073l.0065-.0714l.0065-.0713l.0066-.0713l.0065-.0712l.0065 .0729l.0066 .0729l.0065-.0712l.0065 .0728l.0065 .0728l.0066-.0711l.0065 .0727l.0065 .0726l.0066-.0711l.0065 .0726l.0065-.071l.0066-.0709l.0065 .0725l.0065-.0709l.0065-.0709l.0066 .0725l.0065 .0724l.0065 .0724l.0066-.0708l.0065 .0723l.0065-.0707l.0066 .0723l.0065-.0707l.0065 .0722l.0065-.0707l.0066 .0722l.0065-.0706l.0065 .0721l.0066-.0705l.0065-.0705l.0065-.0705l.0066-.0704l.0065-.0703l.0065 .072l.0065-.0703l.0066 .072l.0065-.0702l.0065 .072l.0066-.0702l.0065 .0719l.0065 .0718l.0066-.0701l.0065-.0701l.0065-.0701l.0065-.0699l.0066 .0717l.0065-.0699l.0065-.0699l.0066 .0717l.0065-.0698l.0065-.0698l.0066 .0717l.0065-.0697l.0065 .0716l.0065 .0716l.0066-.0697l.0065 .0715l.0065 .0715l.0066-.0697l.0065-.0695l.0065 .0714l.0066-.0696l.0065 .0714l.0065-.0695l.0065-.0694l.0066 .0713l.0065 .0712l.0065 .0713l.0066 .0711l.0065-.0694l.0065 .0711l.0066 .0711l.0065-.0694l.0065-.0692l.0065-.0693l.0066 .071l.0065 .071l.0065-.0692l.0066 .0709l.0065 .0708l.0065-.0691l.0066 .0708l.0065 .0707l.0065 .0707l.0065-.0691l.0066-.069l.0065-.069l.0065-.069l.0066 .0707l.0065 .0706l.0065 .0705l.0066 .0705l.0065-.0689l.0065 .0704l.0065-.0688l.0066-.0688l.0065 .0704l.0065 .0703l.0066 .0703l.0065 .0702l.0065 .0702l.0066-.0687l.0065 .0701l.0065 .0701l.0065-.0687l.0066 .07l.0065 .07l.0065-.0686l.0066 .0699l.0065-.0686l.0065-.0686l.0066-.0685l.0065-.0685l.0065-.0684l.0065-.0684l.0066-.0683l.0065 .0699l.0065 .0698l.0066-.0682l.0065-.0683l.0065-.0681l.0066 .0697l.0065 .0698l.0065 .0697l.0065-.0682l.0066-.0681l.0065 .0697l.0065 .0696l.0066-.0681l.0065-.068l.0065-.0679l.0066-.0679l.0065-.0678l.0065 .0695l.0065-.0678l.0066-.0678l.0065 .0695l.0065 .0695l.0066 .0694l.0065-.0678l.0065-.0676l.0066 .0693l.0065-.0676l.0065 .0693l.0065-.0676l.0066-.0675l.0065-.0675l.0065-.0674l.0066 .0693l.0065 .0692l.0065 .0691l.0066-.0674l.0065-.0673l.0065-.0673l.0065 .0691l.0066-.0672l.0065 .069l.0065 .069l.0066-.0672l.0065 .0689l.0065-.0671l.0066 .0689l.0065 .0689l.0065-.0672l.0065 .0689l.0066 .0687l.0065-.067l.0065-.0671l.0066 .0687l.0065 .0687l.0065-.067l.0066 .0686l.0065-.0669l.0065-.0668l.0065 .0685l.0066-.0668l.0065-.0668l.0065-.0667l.0066-.0667l.0065-.0667l.0065-.0665l.0066 .0685l.0065 .0684l.0065 .0684l.0065-.0665l.0066-.0665l.0065 .0683l.0065 .0684l.0066 .0682l.0065-.0664l.0065 .0682l.0066 .0682l.0065-.0664l.0065-.0664l.0065-.0663l.0066-.0663l.0065 .0681l.0065-.0662l.0066-.0662l.0065-.0662l.0065-.0661l.0066 .0681l.0065-.066l.0065-.066l.0065 .068l.0066-.066l.0065 .068l.0065 .0679l.0066-.0659l.0065-.0659l.0065-.0658l.0066-.0658l.0065-.0657l.0065-.0657l.0065-.0657l.0066 .0679l.0065-.0656l.0065-.0655l.0066-.0656l.0065 .0679l.0065-.0655l.0066-.0654l.0065-.0654l.0065-.0653l.0065-.0653l.0066 .0677l.0065-.0652l.0065 .0677l.0066 .0677l.0065 .0677l.0065-.0652l.0066-.0652l.0065-.0651l.0065-.0651l.0065-.065l.0066 .0676l.0065-.065l.0065 .0675l.0066-.0649l.0065 .0675l.0065 .0674l.0066 .0675l.0065-.065l.0065 .0674l.0065 .0673l.0066 .0673l.0065-.0649l.0065-.0648l.0066 .0673l.0065 .0671l.0065 .0672l.0066-.0648l.0065-.0647l.0065-.0647l.0065-.0647l.0066 .0671l.0065-.0646l.0065 .067l.0066 .067l.0065 .067l.0065 .0669l.0066 .0669l.0065-.0646l.0065-.0645l.0065-.0645l.0066 .0668l.0065 .0668l.0065 .0667l.0066-.0644l.0065-.0644l.0065 .0667l.0066 .0666l.0065-.0644l.0065 .0666l.0065 .0666l.0066-.0643l.0065-.0643l.0065-.0642l.0066-.0642l.0065-.0641l.0065-.0641l.0066 .0664l.0065-.064l.0065 .0664l.0065-.064l.0066-.0639l.0065 .0664l.0065 .0663l.0066-.0639l.0065-.0639l.0065-.0638l.0066-.0638l.0065-.0638l.0065 .0663l.0065 .0663l.0066-.0637l.0065-.0637l.0065 .0662l.0066 .0662l.0065 .0661l.0065 .0661l.0066 .0661l.0065-.0637l.0065 .066l.0065-.0636l.0066-.0635l.0065-.0635l.0065 .0659l.0066 .0659l.0065 .0659l.0065 .0658l.0066 .0658l.0065-.0635l.0065-.0634l.0065-.0634l.0066-.0633l.0065 .0657l.0065 .0657l.0066-.0633l.0065-.0633l.0065 .0657l.0066-.0633l.0065 .0656l.0065-.0631l.0065 .0655l.0066-.0631l.0065 .0655l.0065 .0655l.0066-.0631l.0065 .0654l.0065-.0631l.0066 .0654l.0065-.063l.0065-.063l.0065-.0629l.0066-.0629l.0065-.0629l.0065-.0628l.0066 .0653l.0065-.0628l.0065-.0627l.0066-.0627l.0065-.0626l.0065-.0627l.0065 .0653l.0066-.0625l.0065 .0652l.0065 .0652l.0066 .0652l.0065 .0651l.0065 .0651l.0066 .065l.0065-.0625l.0065-.0625l.0065-.0625l.0066-.0624l.0065-.0624l.0065 .065l.0066-.0623l.0065 .0649l.0065 .0649l.0066 .0649l.0065-.0623l.0065-.0623l.0065-.0622l.0066-.0622l.0065 .0649l.0065 .0647l.0066-.0621l.0065-.0621l.0065 .0647l.0066 .0647l.0065 .0647l.0065 .0646l.0065 .0645l.0066 .0645l.0065 .0645l.0065 .0645l.0066 .0643l.0065 .0644l.0065 .0643l.0066 .0643l.0065-.0621l.0065 .0642l.0065-.062l.0066-.062l.0065 .0642l.0065 .0642l.0066-.062l.0065 .0641l.0065-.0619l.0066 .0641l.0065-.0619l.0065 .064l.0065-.0618l.0066-.0618l.0065-.0618l.0065 .064l.0066 .0639l.0065 .0639l.0065 .0639l.0066 .0638l.0065 .0638l.0065 .0637l.0065 .0637l.0066-.0617l.0065 .0636l.0065 .0636l.0066 .0636l.0065-.0617l.0065 .0635l.0066 .0635l.0065 .0634l.0065 .0634l.0065-.0616l.0066 .0634l.0065 .0633l.0065 .0633l.0066-.0616l.0065-.0616l.0065-.0615l.0066 .0632l.0065 .0632l.0065 .0632l.0065-.0615l.0066-.0615l.0065 .0631l.0065-.0614l.0066-.0613l.0065 .063l.0065-.0613l.0066-.0613l.0065-.0613l.0065-.0612l.0065-.0611l.0066 .063l.0065 .063l.0065-.0612l.0066 .063l.0065 .0629l.0065 .0629l.0066 .0628l.0065-.0611l.0065-.0611l.0065-.061l.0066 .0628l.0065 .0627l.0065 .0628l.0066 .0626l.0065 .0627l.0065 .0625l.0066 .0626l.0065-.061l.0065-.0609l.0065 .0625l.0066-.0609l.0065-.0609l.0065-.0609l.0066-.0608l.0065-.0607l.0065-.0607l.0066-.0607l.0065-.0607l.0065 .0625l.0065 .0624l.0066-.0606l.0065 .0624l.0065 .0624l.0066-.0606l.0065 .0623l.0065-.0605l.0066-.0605l.0065-.0605l.0065-.0604l.0065-.0604l.0066 .0623l.0065 .0622l.0065 .0622l.0066 .0621l.0065-.0603l.0065-.0603l.0066 .0621l.0065 .0621l.0065-.0603l.0065 .062l.0066 .062l.0065 .062l.0065-.0603l.0066 .062l.0065-.0602l.0065-.0602l.0066 .0619l.0065 .0618l.0065-.0601l.0065-.0601l.0066-.0601l.0065-.06l.0065-.0599l.0066-.06l.0065 .0618l.0065-.0599l.0066-.0598l.0065 .0617l.0065 .0617l.0065 .0617l.0066 .0616l.0065-.0598l.0065 .0616l.0066 .0616l.0065 .0615l.0065-.0598l.0066 .0615l.0065-.0598l.0065 .0615l.0065 .0614l.0066 .0614l.0065-.0598l.0065-.0596l.0066-.0597l.0065 .0613l.0065 .0613l.0066-.0596l.0065-.0595l.0065 .0612l.0065-.0595l.0066-.0595l.0065 .0612l.0065 .0612l.0066-.0595l.0065 .0611l.0065-.0594l.0066-.0594l.0065-.0593l.0065-.0594l.0065-.0592l.0066 .0611l.0065-.0593l.0065-.0592l.0066-.0592l.0065 .0611l.0065-.0592l.0066-.0591l.0065-.059l.0065 .061l.0065 .061l.0066 .0609l.0065 .0609l.0065 .0609l.0066 .0608l.0065 .0608l.0065-.059l.0066 .0608l.0065 .0607l.0065-.059l.0065 .0607l.0066-.059l.0065 .0606l.0065-.0589l.0066 .0606l.0065-.0589l.0065-.0588l.0066-.0588l.0065-.0588l.0065-.0588l.0065 .0606l.0066 .0605l.0065-.0587l.0065 .0605l.0066 .0605l.0065 .0604l.0065-.0587l.0066 .0604l.0065-.0587l.0065 .0604l.0065 .0603l.0066 .0603l.0065 .0602l.0065 .0602l.0066 .0602l.0065 .0601l.0065 .0601l.0066 .06l.0065 .0601l.0065 .0599l.0065 .06l.0066 .0599l.0065-.0586l.0065-.0586l.0066-.0585l.0065 .0598l.0065 .0599l.0066-.0586l.0065-.0584l.0065-.0585l.0065-.0584l.0066 .0598l.0065-.0583l.0065 .0597l.0066-.0583l.0065-.0583l.0065 .0597l.0066 .0597l.0065-.0583l.0065-.0582l.0065 .0597l.0066 .0596l.0065-.0582l.0065 .0596l.0066 .0595l.0065 .0595l.0065-.0582l.0066 .0595l.0065-.0581l.0065 .0594l.0065 .0594l.0066 .0594l.0065 .0593l.0065 .0593l.0066 .0592l.0065 .0593l.0065 .0592l.0066-.0581l.0065 .0591l.0065-.0581l.0065-.058l.0066 .0591l.0065-.058l.0065 .0591l.0066-.0579l.0065-.058l.0065 .0591l.0066 .059l.0065 .059l.0065 .0589l.0065 .0589l.0066-.0579l.0065 .0589l.0065-.0579l.0066-.0578l.0065 .0588l.0065-.0578l.0066 .0588l.0065 .0588l.0065-.0578l.0065 .0588l.0066 .0587l.0065 .0586l.0065 .0586l.0066-.0577l.0065-.0577l.0065 .0586l.0066 .0585l.0065 .0586l.0065 .0584l.0065-.0576l.0066 .0584l.0065 .0584l.0065-.0576l.0066 .0584l.0065 .0583l.0065-.0575l.0066-.0576l.0065 .0583l.0065-.0575l.0065-.0575l.0066 .0583l.0065 .0582l.0065-.0574l.0066-.0574l.0065 .0582l.0065-.0574l.0066-.0574l.0065 .0582l.0065 .0581l.0065 .0581l.0066 .0581l.0065 .058l.0065 .058l.0066-.0573l.0065 .0579l.0065-.0572l.0066 .0579l.0065-.0573l.0065 .0579l.0065-.0572l.0066-.0572l.0065-.0571l.0065 .0579l.0066 .0578l.0065-.0571l.0065-.0571l.0066-.0571l.0065-.057l.0065 .0578l.0065-.057l.0066 .0578l.0065-.057l.0065-.0569l.0066 .0578l.0065-.0569l.0065-.0569l.0066 .0577l.0065-.0568l.0065 .0577l.0065-.0568l.0066-.0568l.0065-.0567l.0065-.0567l.0066 .0577l.0065-.0567l.0065-.0566l.0066-.0566l.0065-.0565l.0065 .0575l.0065-.0565l.0066 .0576l.0065 .0575l.0065-.0565l.0066 .0575l.0065-.0565l.0065 .0575l.0066 .0574l.0065-.0564l.0065 .0574l.0065-.0564l.0066-.0564l.0065-.0563l.0065 .0573l.0066-.0562l.0065 .0573l.0065-.0563l.0066-.0562l.0065-.0562l.0065-.0562l.0065 .0573l.0066-.0561l.0065-.0561l.0065 .0572l.0066 .0572l.0065-.056l.0065-.056l.0066-.056l.0065-.056l.0065 .0572l.0065 .0571l.0066-.0559l.0065 .0571l.0065 .0571l.0066-.0559l.0065-.0559l.0065-.0558l.0066-.0558l.0065-.0558l.0065-.0557l.0065 .057l.0066 .057l.0065 .057l.0065-.0557l.0066-.0557l.0065 .0569l.0065-.0556l.0066-.0556l.0065 .0569l.0065 .0569l.0065-.0556l.0066 .0568l.0065-.0555l.0065-.0555l.0066 .0568l.0065-.0555l.0065 .0568l.0066 .0567l.0065 .0567l.0065-.0555l.0065 .0567l.0066-.0554l.0065-.0554l.0065-.0553l.0066-.0554l.0065 .0567l.0065 .0566l.0066-.0553l.0065-.0553l.0065-.0552l.0065-.0552l.0066-.0552l.0065-.0551l.0065 .0565l.0066 .0566l.0065 .0565l.0065-.0551l.0066 .0565l.0065-.0551l.0065 .0564l.0065-.055l.0066 .0564l.0065 .0564l.0065 .0563l.0066-.055l.0065-.055l.0065-.0549l.0066 .0563l.0065-.0549l.0065-.0549l.0065-.0549l.0066-.0548l.0065-.0548l.0065-.0548l.0066-.0547l.0065 .0563l.0065-.0547l.0066 .0562l.0065 .0562l.0065 .0562l.0065 .0562l.0066 .0561l.0065-.0547l.0065-.0546l.0066 .0561l.0065 .056l.0065 .056l.0066 .056l.0065-.0546l.0065 .056l.0065-.0546l.0066-.0546l.0065 .056l.0065-.0546l.0066 .0559l.0065-.0545l.0065-.0544l.0066-.0545l.0065 .0559l.0065 .0558l.0065 .0558l.0066 .0558l.0065 .0557l.0065-.0544l.0066 .0557l.0065-.0543l.0065-.0544l.0066-.0543l.0065 .0557l.0065 .0556l.0065 .0556l.0066-.0542l.0065-.0543l.0065-.0542l.0066-.0542l.0065 .0556l.0065-.0542l.0066-.0541l.0065 .0555l.0065-.0541l.0065 .0555l.0066-.054l.0065-.0541l.0065-.054l.0066-.054l.0065 .0555l.0065-.0539l.0066 .0554l.0065-.0539l.0065-.0539l.0065 .0554l.0066-.0538l.0065 .0554l.0065-.0539l.0066-.0538l.0065-.0538l.0065 .0554l.0066-.0537l.0065 .0553l.0065-.0537l.0065-.0537l.0066 .0553l.0065 .0552l.0065 .0553l.0066-.0537l.0065-.0536l.0065 .0552l.0066-.0536l.0065-.0536l.0065 .0552l.0065-.0535l.0066 .0551l.0065 .0551l.0065-.0535l.0066-.0535l.0065-.0534l.0065 .0551l.0066 .055l.0065 .055l.0065 .055l.0065 .0549l.0066-.0534l.0065 .0549l.0065-.0533l.0066-.0534l.0065 .0549l.0065-.0533l.0066-.0534l.0065-.0532l.0065-.0533l.0065 .0549l.0066-.0532l.0065-.0532l.0065-.0532l.0066-.0531l.0065-.0531l.0065-.0531l.0066 .0549l.0065 .0548l.0065-.0531l.0065 .0548l.0066 .0547l.0065 .0547l.0065-.053l.0066-.053l.0065-.0529l.0065-.0529l.0066 .0546l.0065 .0547l.0065-.0529l.0065-.0529l.0066-.0528l.0065 .0546l.0065-.0528l.0066-.0528l.0065-.0528l.0065-.0527l.0066 .0546l.0065-.0527l.0065-.0527l.0065-.0526l.0066-.0526l.0065-.0526l.0065 .0546l.0066-.0526l.0065 .0545l.0065-.0525l.0066-.0525l.0065 .0545l.0065 .0544l.0065 .0545l.0066 .0544l.0065 .0543l.0065 .0544l.0066 .0543l.0065 .0542l.0065 .0543l.0066-.0525l.0065-.0524l.0065 .0542l.0065 .0542l.0066-.0524l.0065 .0541l.0065 .0541l.0066-.0523l.0065-.0524l.0065-.0523l.0066 .0541l.0065 .054l.0065-.0523l.0065 .0541l.0066 .054l.0065 .054l.0065-.0523l.0066-.0523l.0065 .054l.0065 .0539l.0066-.0522l.0065-.0522l.0065 .0539l.0065-.0522l.0066-.0521l.0065 .0538l.0065 .0539l.0066-.0521l.0065-.0521l.0065-.0521l.0066 .0538l.0065 .0538l.0065-.052l.0065 .0537l.0066 .0537l.0065-.052l.0065-.0519l.0066-.052l.0065-.0519l.0065 .0537l.0066 .0536l.0065 .0537l.0065 .0536l.0065 .0535l.0066-.0519l.0065 .0536l.0065 .0535l.0066-.0519l.0065 .0535l.0065-.0518l.0066 .0534l.0065 .0534l.0065-.0518l.0065-.0518l.0066 .0534l.0065-.0517l.0065 .0533l.0066-.0517l.0065 .0533l.0065-.0516l.0066-.0517l.0065-.0516l.0065 .0533l.0065-.0517l.0066-.0515l.0065 .0532l.0065-.0515l.0066 .0532l.0065-.0515l.0065-.0515l.0066 .0532l.0065 .0532l.0065-.0515l.0065 .0532l.0066 .0531l.0065 .0531l.0065-.0515l.0066 .0531l.0065-.0514l.0065 .053l.0066 .053l.0065-.0514l.0065 .053l.0065 .053l.0066-.0514l.0065-.0513l.0065-.0513l.0066-.0513l.0065 .0529l.0065-.0513l.0066 .0529l.0065 .0529l.0065-.0512l.0065-.0512l.0066 .0528l.0065 .0528l.0065-.0512l.0066 .0528l.0065 .0528l.0065-.0512l.0066-.0511l.0065-.0511l.0065-.0511l.0065-.051l.0066 .0527l.0065-.051l.0065 .0527l.0066 .0526l.0065 .0527l.0065-.051l.0066-.051l.0065-.0509l.0065-.0509l.0065-.0509l.0066 .0526l.0065-.0509l.0065-.0508l.0066-.0508l.0065 .0526l.0065-.0508l.0066-.0507l.0065-.0508l.0065 .0526l.0065-.0507l.0066-.0507l.0065 .0525l.0065-.0506l.0066-.0506l.0065-.0506l.0065-.0506l.0066-.0505l.0065-.0505l.0065-.0505l.0065-.0505l.0066-.0504l.0065 .0525l.0065 .0525l.0066-.0504l.0065 .0524l.0065-.0504l.0066 .0524l.0065 .0524l.0065-.0504l.0065 .0524l.0066 .0523l.0065-.0503l.0065-.0503l.0066 .0523l.0065 .0522l.0065 .0523l.0066 .0522l.0065 .0522l.0065-.0503l.0065 .0522l.0066-.0503l.0065-.0502l.0065-.0502l.0066-.0502l.0065-.0501l.0065 .0521l.0066 .0521l.0065-.0501l.0065-.0501l.0065-.0501l.0066 .0521l.0065-.0501l.0065-.05l.0066-.05l.0065 .0521l.0065-.05l.0066-.0499l.0065-.05l.0065 .0521l.0065-.0499l.0066-.0499l.0065-.0498l.0065-.0499l.0066 .052l.0065 .052l.0065 .0519l.0066 .0519l.0065-.0498l.0065 .0519l.0065 .0519l.0066 .0518l.0065 .0518l.0065 .0517l.0066 .0518l.0065-.0498l.0065-.0497l.0066-.0497l.0065 .0517l.0065-.0497l.0065-.0497l.0066 .0517l.0065 .0517l.0065-.0497l.0066-.0496l.0065-.0496l.0065-.0495l.0066-.0496l.0065 .0517l.0065-.0495l.0065-.0495l.0066-.0495l.0065-.0494l.0065 .0516l.0066-.0494l.0065-.0494l.0065-.0494l.0066 .0516l.0065-.0493l.0065 .0515l.0065-.0493l.0066 .0515l.0065 .0515l.0065-.0493l.0066 .0515l.0065-.0493l.0065 .0515l.0066 .0514l.0065 .0514l.0065 .0513l.0065 .0514l.0066-.0493l.0065 .0513l.0065-.0492l.0066-.0492l.0065 .0513l.0065 .0513l.0066 .0512l.0065 .0512l.0065-.0492l.0065 .0512l.0066-.0491l.0065 .0511l.0065 .0511l.0066-.0491l.0065 .0511l.0065-.0491l.0066-.0491l.0065-.049l.0065 .0511l.0065-.049l.0066 .051l.0065 .051l.0065-.049l.0066-.049l.0065 .051l.0065 .051l.0066-.049l.0065 .051l.0065 .0509l.0065 .0509l.0066 .0508l.0065 .0508l.0065-.0489l.0066 .0508l.0065 .0508l.0065-.0489l.0066 .0507l.0065-.0488l.0065-.0489l.0065-.0488l.0066-.0488l.0065 .0507l.0065 .0507l.0066-.0487l.0065-.0488l.0065 .0507l.0066 .0506l.0065-.0487l.0065-.0487l.0065-.0487l.0066 .0506l.0065-.0486l.0065-.0486l.0066-.0486l.0065 .0506l.0065-.0486l.0066-.0486l.0065-.0485l.0065 .0506l.0065 .0505l.0066 .0505l.0065-.0485l.0065 .0505l.0066-.0485l.0065 .0505l.0065 .0504l.0066 .0504l.0065-.0485l.0065-.0484l.0065 .0504l.0066 .0504l.0065-.0485l.0065-.0483l.0066-.0484l.0065-.0483l.0065 .0503l.0066-.0483l.0065 .0503l.0065-.0483l.0065 .0503l.0066-.0483l.0065 .0503l.0065-.0483l.0066 .0502l.0065 .0502l.0065-.0482l.0066 .0502l.0065 .0501l.0065 .0502l.0065 .0501l.0066 .05l.0065 .0501l.0065-.0482l.0066 .05l.0065 .05l.0065-.0482l.0066-.0481l.0065-.0481l.0065 .0499l.0065-.0481l.0066-.0481l.0065 .05l.0065-.0481l.0066 .05l.0065 .0498l.0065-.048l.0066-.048l.0065-.048l.0065 .0499l.0065 .0498l.0066-.0479l.0065 .0498l.0065 .0498l.0066 .0498l.0065 .0497l.0065 .0497l.0066-.0479l.0065 .0497l.0065 .0496l.0065 .0497l.0066 .0496l.0065 .0496l.0065 .0496l.0066 .0495l.0065-.0479l.0065 .0495l.0066 .0495l.0065 .0495l.0065-.0479l.0065 .0494l.0066-.0479l.0065 .0495l.0065 .0494l.0066-.0479l.0065 .0494l.0065 .0493l.0066-.0478l.0065-.0478l.0065-.0478l.0065 .0493l.0066-.0477l.0065 .0493l.0065 .0493l.0066 .0492l.0065-.0477l.0065-.0477l.0066-.0477l.0065-.0477l.0065 .0492l.0065 .0492l.0066-.0476l.0065-.0476l.0065 .0492l.0066-.0476l.0065-.0476l.0065 .0491l.0066 .0492l.0065-.0476l.0065-.0475l.0065-.0475l.0066-.0475l.0065 .0491l.0065-.0474l.0066 .0491l.0065-.0475l.0065 .0491l.0066-.0474l.0065 .049l.0065-.0474l.0065 .049l.0066-.0474l.0065-.0473l.0065-.0473l.0066-.0473l.0065-.0473l.0065 .049l.0066-.0472l.0065 .0489l.0065 .0489l.0065-.0472l.0066 .0489l.0065-.0472l.0065-.0471l.0066 .0488l.0065-.0471l.0065-.0472l.0066 .0489l.0065-.0471l.0065 .0488l.0065-.0471l.0066-.047l.0065-.0471l.0065 .0488l.0066-.047l.0065-.047l.0065 .0488l.0066-.047l.0065-.0469l.0065-.0469l.0065-.0469l.0066 .0487l.0065 .0487l.0065-.0468l.0066 .0487l.0065-.0469l.0065-.0468l.0066 .0486l.0065 .0487l.0065 .0486l.0065-.0468l.0066-.0468l.0065 .0486l.0065 .0486l.0066 .0486l.0065 .0485l.0065-.0468l.0066 .0485l.0065-.0467l.0065-.0467l.0065 .0485l.0066-.0467l.0065 .0484l.0065-.0467l.0066 .0485l.0065 .0484l.0065-.0467l.0066 .0484l.0065-.0466l.0065 .0483l.0065 .0484l.0066-.0466l.0065 .0483l.0065-.0466l.0066-.0466l.0065 .0483l.0065-.0465l.0066-.0465l.0065-.0465l.0065-.0465l.0065-.0465l.0066 .0483l.0065-.0464l.0065-.0464l.0066 .0482l.0065 .0482l.0065 .0482l.0066 .0482l.0065 .0481l.0065-.0463l.0065-.0464l.0066-.0464l.0065-.0463l.0065-.0463l.0066 .0481l.0065-.0462l.0065 .0481l.0066-.0463l.0065-.0462l.0065 .0481l.0065 .048l.0066 .048l.0065-.0462l.0065-.0462l.0066 .048l.0065 .048l.0065-.0461l.0066-.0462l.0065-.0461l.0065-.0461l.0065 .0479l.0066-.046l.0065-.0461l.0065-.046l.0066-.046l.0065 .0479l.0065 .0479l.0066 .0479l.0065-.046l.0065 .0479l.0065 .0478l.0066-.046l.0065 .0478l.0065 .0478l.0066 .0478l.0065-.046l.0065-.0459l.0066-.0459l.0065-.0459l.0065 .0478l.0065-.0459l.0066-.0458l.0065 .0477l.0065-.0458l.0066 .0477l.0065 .0476l.0065-.0458l.0066-.0457l.0065 .0476l.0065-.0457l.0065-.0458l.0066 .0477l.0065-.0457l.0065 .0476l.0066-.0457l.0065 .0475l.0065 .0476l.0066 .0475l.0065-.0456l.0065-.0457l.0065 .0475l.0066-.0456l.0065 .0475l.0065-.0456l.0066-.0456l.0065 .0475l.0065-.0456l.0066 .0475l.0065 .0474l.0065-.0456l.0065-.0455l.0066 .0474l.0065 .0474l.0065 .0473l.0066 .0474l.0065 .0473l.0065-.0455l.0066-.0455l.0065-.0455l.0065 .0473l.0065-.0454l.0066 .0472l.0065 .0473l.0065 .0472l.0066-.0454l.0065 .0472l.0065-.0454l.0066-.0454l.0065-.0453l.0065 .0471l.0065 .0472l.0066-.0454l.0065-.0453l.0065-.0453l.0066-.0452l.0065-.0453l.0065-.0452l.0066 .0471l.0065-.0452l.0065 .0471l.0065-.0452l.0066 .0471l.0065 .0471l.0065 .047l.0066-.0452l.0065-.0451l.0065-.0451l.0066 .047l.0065 .047l.0065 .0469l.0065 .047l.0066-.0451l.0065-.0451l.0065-.0451l.0066 .047l.0065-.0451l.0065-.045l.0066 .0469l.0065 .0469l.0065-.045l.0065-.045l.0066-.0449l.0065-.045l.0065-.0449l.0066 .0469l.0065 .0468l.0065 .0468l.0066-.0449l.0065-.0449l.0065 .0468l.0065-.0448l.0066 .0467l.0065-.0448l.0065 .0467l.0066 .0467l.0065 .0467l.0065-.0448l.0066-.0448l.0065-.0447l.0065-.0448l.0065-.0447l.0066 .0467l.0065-.0447l.0065 .0466l.0066-.0447l.0065 .0467l.0065 .0466l.0066-.0447l.0065-.0447l.0065 .0466l.0065 .0466l.0066-.0446l.0065-.0446l.0065 .0465l.0066-.0446l.0065-.0446l.0065-.0445l.0066-.0445l.0065 .0465l.0065 .0465l.0065 .0465l.0066-.0445l.0065-.0445l.0065 .0464l.0066 .0465l.0065 .0464l.0065 .0463l.0066-.0444l.0065 .0463l.0065-.0444l.0065 .0463l.0066 .0464l.0065 .0463l.0065 .0462l.0066 .0463l.0065 .0462l.0065-.0444l.0066 .0462l.0065-.0444l.0065-.0444l.0065-.0444l.0066 .0462l.0065-.0443l.0065-.0443l.0066 .0461l.0065 .0462l.0065 .0461l.0066 .0461l.0065 .0461l.0065-.0443l.0065 .046l.0066 .0461l.0065 .046l.0065 .046l.0066 .046l.0065 .0459l.0065-.0443l.0066 .046l.0065-.0443l.0065 .0459l.0065-.0442l.0066-.0443l.0065-.0442l.0065-.0442l.0066 .0459l.0065-.0441l.0065 .0458l.0066 .0459l.0065 .0458l.0065-.0442l.0065-.0441l.0066 .0458l.0065 .0458l.0065 .0458l.0066 .0457l.0065-.0441l.0065-.0441l.0066-.0441l.0065-.044l.0065 .0457l.0065 .0457l.0066 .0457l.0065-.0441l.0065-.044l.0066-.0439l.0065 .0456l.0065 .0456l.0066 .0456l.0065-.0439l.0065-.044l.0065 .0456l.0066 .0456l.0065-.0439l.0065-.044l.0066-.0438l.0065-.0439l.0065 .0455l.0066 .0456l.0065-.0439l.0065 .0455l.0065-.0438l.0066 .0455l.0065 .0454l.0065 .0455l.0066 .0454l.0065-.0438l.0065-.0438l.0066-.0438l.0065 .0454l.0065 .0454l.0065-.0438l.0066 .0454l.0065-.0437l.0065-.0438l.0066 .0454l.0065 .0453l.0065-.0437l.0066 .0453l.0065-.0437l.0065 .0453l.0065 .0452l.0066 .0453l.0065-.0437l.0065 .0452l.0066 .0452l.0065-.0436l.0065-.0436l.0066 .0451l.0065 .0452l.0065 .0451l.0065-.0436l.0066 .0451l.0065-.0436l.0065-.0435l.0066 .0451l.0065 .045l.0065 .0451l.0066-.0436l.0065-.0435l.0065-.0435l.0065 .045l.0066-.0434l.0065 .045l.0065 .0449l.0066-.0434l.0065 .0449l.0065 .045l.0066 .0449l.0065-.0434l.0065 .0449l.0065 .0448l.0066-.0434l.0065-.0434l.0065 .0449l.0066 .0448l.0065 .0448l.0065-.0434l.0066 .0448l.0065 .0448l.0065 .0448l.0065-.0434l.0066 .0447l.0065 .0448l.0065-.0434l.0066 .0447l.0065 .0447l.0065-.0433l.0066-.0434l.0065 .0447l.0065 .0446l.0065 .0446l.0066-.0432l.0065-.0433l.0065 .0446l.0066 .0446l.0065-.0433l.0065-.0432l.0066-.0432l.0065-.0432l.0065 .0445l.0065 .0445l.0066 .0446l.0065-.0432l.0065 .0445l.0066-.0432l.0065 .0445l.0065 .0444l.0066-.0431l.0065-.0431l.0065-.0431l.0065-.0431l.0066 .0444l.0065 .0445l.0065 .0443l.0066-.043l.0065 .0444l.0065 .0443l.0066 .0443l.0065 .0443l.0065-.043l.0065 .0443l.0066-.043l.0065 .0442l.0065-.043l.0066 .0443l.0065-.043l.0065 .0442l.0066 .0442l.0065 .0442l.0065 .0442l.0065 .0442l.0066 .0441l.0065 .0441l.0065 .0441l.0066 .0441l.0065 .044l.0065 .0441l.0066 .044l.0065 .044l.0065 .044l.0065 .0439l.0066-.043l.0065-.0429l.0065-.0429l.0066-.043l.0065-.0429l.0065-.0428l.0066-.0429l.0065-.0428l.0065 .0439l.0065 .0439l.0066-.0428l.0065 .0439l.0065-.0428l.0066-.0428l.0065 .0439l.0065-.0428l.0066-.0427l.0065-.0427l.0065 .0438l.0065-.0427l.0066-.0427l.0065-.0426l.0065 .0438l.0066 .0438l.0065-.0426l.0065-.0427l.0066-.0426l.0065-.0426l.0065-.0425l.0065 .0437l.0066-.0425l.0065-.0425l.0065-.0426l.0066-.0425l.0065-.0424l.0065 .0437l.0066-.0424l.0065 .0437l.0065-.0424l.0065-.0424l.0066-.0425l.0065-.0423l.0065 .0437l.0066 .0437l.0065-.0424l.0065-.0423l.0066 .0437l.0065 .0437l.0065-.0424l.0065 .0437l.0066 .0436l.0065 .0436l.0065-.0423l.0066 .0436l.0065 .0436l.0065-.0423l.0066-.0423l.0065 .0436l.0065 .0435l.0065-.0422l.0066 .0435l.0065-.0423l.0065-.0422l.0066-.0422l.0065-.0422l.0065-.0421l.0066 .0435l.0065 .0434l.0065-.0421l.0065 .0435l.0066-.0422l.0065-.0421l.0065-.0421l.0066 .0435l.0065 .0434l.0065 .0434l.0066-.0421l.0065 .0434l.0065 .0434l.0065 .0433l.0066 .0433l.0065-.042l.0065-.0421l.0066-.042l.0065 .0433l.0065 .0433l.0066-.042l.0065 .0433l.0065-.042l.0065-.042l.0066 .0433l.0065-.042l.0065-.0419l.0066 .0432l.0065 .0432l.0065 .0432l.0066 .0432l.0065 .0432l.0065-.042l.0065-.0419l.0066-.0418l.0065 .0431l.0065-.0419l.0066-.0418l.0065-.0418l.0065 .0431l.0066 .0431l.0065 .0431l.0065 .043l.0065 .0431l.0066-.0418l.0065-.0418l.0065-.0418l.0066 .043l.0065-.0417l.0065 .043l.0066 .043l.0065 .0429l.0065-.0417l.0065 .0429l.0066 .043l.0065-.0418l.0065-.0417l.0066 .043l.0065-.0417l.0065-.0417l.0066-.0416l.0065-.0417l.0065-.0416l.0065-.0416l.0066-.0416l.0065-.0415l.0065-.0416l.0066-.0415l.0065-.0415l.0065-.0415l.0066-.0414l.0065 .0428l.0065 .0429l.0065 .0429l.0066-.0415l.0065 .0428l.0065 .0429l.0066 .0428l.0065-.0415l.0065-.0414l.0066 .0428l.0065 .0427l.0065-.0414l.0065 .0428l.0066-.0414l.0065 .0427l.0065-.0413l.0066 .0427l.0065 .0426l.0065 .0427l.0066-.0413l.0065 .0426l.0065 .0426l.0065 .0426l.0066 .0426l.0065 .0426l.0065 .0426l.0066-.0414l.0065-.0413l.0065 .0426l.0066 .0425l.0065-.0413l.0065-.0413l.0065 .0425l.0066 .0425l.0065 .0424l.0065 .0425l.0066 .0424l.0065 .0424l.0065 .0424l.0066 .0424l.0065 .0423l.0065 .0424l.0065-.0413l.0066-.0412l.0065 .0423l.0065-.0412l.0066 .0423l.0065 .0422l.0065 .0423l.0066-.0412l.0065 .0422l.0065 .0423l.0065 .0422l.0066 .0422l.0065-.0412l.0065-.0412l.0066-.0412l.0065-.0411l.0065-.0411l.0066-.0411l.0065 .0421l.0065-.0411l.0065 .0422l.0066-.0411l.0065 .0422l.0065-.0411l.0066-.041l.0065 .0421l.0065 .0421l.0066 .0421l.0065-.0411l.0065 .0421l.0065 .042l.0066 .0421l.0065 .042l.0065-.041l.0066 .042l.0065 .0419l.0065-.0409l.0066-.041l.0065-.041l.0065-.0409l.0065 .042l.0066-.041l.0065 .042l.0065-.0409l.0066-.0409l.0065-.0409l.0065-.0408l.0066-.0409l.0065 .042l.0065-.0409l.0065 .0419l.0066 .0419l.0065 .0419l.0065-.0408l.0066 .0418l.0065 .0419l.0065 .0418l.0066-.0408l.0065-.0408l.0065 .0418l.0065-.0407l.0066 .0417l.0065 .0418l.0065 .0417l.0066-.0407l.0065-.0407l.0065 .0417l.0066 .0417l.0065 .0417l.0065 .0417l.0065-.0407l.0066-.0407l.0065-.0407l.0065 .0417l.0066-.0407l.0065-.0406l.0065 .0417l.0066 .0416l.0065-.0406l.0065 .0416l.0065-.0406l.0066-.0406l.0065-.0406l.0065-.0405l.0066 .0415l.0065 .0416l.0065-.0405l.0066 .0415l.0065-.0405l.0065-.0405l.0065-.0405l.0066 .0416l.0065 .0415l.0065 .0415l.0066-.0405l.0065-.0404l.0065-.0405l.0066-.0404l.0065-.0404l.0065-.0403l.0065-.0404l.0066 .0415l.0065 .0414l.0065 .0415l.0066 .0414l.0065-.0404l.0065 .0414l.0066 .0414l.0065 .0414l.0065-.0403l.0065-.0403l.0066-.0403l.0065 .0413l.0065-.0403l.0066 .0414l.0065 .0413l.0065-.0403l.0066 .0413l.0065 .0413l.0065 .0413l.0065-.0403l.0066 .0413l.0065-.0402l.0065-.0403l.0066-.0402l.0065-.0401l.0065-.0402l.0066-.0401l.0065 .0412l.0065 .0412l.0065-.0401l.0066-.0401l.0065-.0401l.0065 .0412l.0066 .0411l.0065-.04l.0065 .0411l.0066-.04l.0065-.0401l.0065-.04l.0065 .0411l.0066-.04l.0065-.04l.0065-.04l.0066-.0399l.0065-.04l.0065-.0399l.0066-.0399l.0065 .0411l.0065-.0399l.0065-.0399l.0066 .0411l.0065-.0398l.0065-.0399l.0066-.0398l.0065-.0398l.0065 .0411l.0066-.0398l.0065-.0398l.0065-.0398l.0065 .0411l.0066-.0398l.0065 .0411l.0065-.0398l.0066-.0397l.0065 .0411l.0065 .041l.0066-.0397l.0065 .041l.0065-.0397l.0065-.0397l.0066 .041l.0065 .041l.0065 .0409l.0066 .041l.0065 .0409l.0065-.0397l.0066-.0396l.0065 .0409l.0065-.0396l.0065-.0396l.0066-.0396l.0065 .0408l.0065-.0395l.0066 .0408l.0065 .0409l.0065-.0396l.0066 .0409l.0065-.0396l.0065-.0395l.0065-.0395l.0066-.0395l.0065-.0395l.0065-.0394l.0066 .0408l.0065-.0395l.0065 .0408l.0066 .0408l.0065-.0394l.0065-.0394l.0065 .0407l.0066-.0394l.0065 .0408l.0065 .0407l.0066 .0407l.0065-.0394l.0065-.0394l.0066-.0393l.0065-.0393l.0065-.0393l.0065-.0393l.0066 .0406l.0065-.0392l.0065-.0393l.0066-.0393l.0065-.0392l.0065-.0392l.0066-.0392l.0065 .0407l.0065 .0406l.0065 .0406l.0066-.0391l.0065-.0392l.0065 .0406l.0066-.0392l.0065 .0407l.0065-.0392l.0066-.0391l.0065-.0391l.0065-.0391l.0065 .0406l.0066-.0391l.0065-.0391l.0065 .0406l.0066 .0406l.0065 .0405l.0065 .0405l.0066 .0405l.0065-.039l.0065-.0391l.0065-.039l.0066 .0405l.0065-.039l.0065-.039l.0066-.0389l.0065 .0404l.0065 .0405l.0066-.039l.0065 .0405l.0065 .0404l.0065 .0404l.0066 .0404l.0065 .0403l.0065-.0389l.0066 .0404l.0065-.039l.0065-.0389l.0066-.0389l.0065-.0388l.0065 .0403l.0065-.0389l.0066 .0404l.0065-.0389l.0065-.0388l.0066 .0403l.0065 .0403l.0065 .0402l.0066 .0403l.0065-.0388l.0065-.0388l.0065-.0388l.0066 .0402l.0065 .0403l.0065 .0402l.0066-.0388l.0065 .0402l.0065-.0388l.0066-.0387l.0065-.0387l.0065-.0387l.0065-.0387l.0066-.0387l.0065 .0402l.0065 .0401l.0066-.0386l.0065-.0387l.0065-.0386l.0066-.0386l.0065 .0401l.0065-.0386l.0065-.0386l.0066 .0401l.0065-.0385l.0065 .0401l.0066 .0401l.0065 .04l.0065 .0401l.0066 .04l.0065 .0401l.0065-.0386l.0065 .04l.0066-.0385l.0065-.0386l.0065-.0385l.0066-.0385l.0065 .04l.0065-.0385l.0066-.0384l.0065 .04l.0065 .0399l.0065-.0384l.0066 .0399l.0065-.0384l.0065 .0399l.0066 .0399l.0065 .0399l.0065 .0399l.0066 .0398l.0065-.0384l.0065-.0384l.0065-.0384l.0066 .0399l.0065-.0384l.0065-.0384l.0066 .0399l.0065 .0398l.0065-.0384l.0066 .0398l.0065-.0383l.0065-.0383l.0065-.0383l.0066 .0398l.0065 .0397l.0065 .0398l.0066 .0397l.0065 .0397l.0065-.0383l.0066-.0382l.0065-.0383l.0065-.0382l.0065-.0382l.0066 .0397l.0065 .0396l.0065-.0382l.0066 .0397l.0065-.0382l.0065 .0397l.0066-.0382l.0065 .0396l.0065-.0381l.0065 .0396l.0066-.0382l.0065-.0381l.0065 .0396l.0066 .0396l.0065 .0395l.0065 .0396l.0066 .0395l.0065-.0381l.0065 .0395l.0065 .0395l.0066-.0381l.0065-.0381l.0065 .0395l.0066-.038l.0065 .0394l.0065 .0395l.0066-.0381l.0065-.038l.0065 .0394l.0065 .0395l.0066 .0394l.0065-.0381l.0065 .0394l.0066 .0394l.0065 .0394l.0065-.038l.0066 .0393l.0065 .0393l.0065 .0394l.0065 .0393l.0066 .0392l.0065-.038l.0065 .0393l.0066 .0393l.0065 .0392l.0065 .0392l.0066 .0392l.0065-.0379l.0065 .0391l.0065 .0392l.0066-.038l.0065 .0392l.0065 .0392l.0066-.038l.0065 .0391l.0065-.0379l.0066-.038l.0065 .0392l.0065-.038l.0065 .0391l.0066-.0379l.0065 .0391l.0065 .0391l.0066 .039l.0065 .0391l.0065-.0379l.0066-.0379l.0065-.0378l.0065 .039l.0065 .039l.0066-.0378l.0065-.0379l.0065 .039l.0066-.0378l.0065 .039l.0065-.0378l.0066 .0389l.0065 .039l.0065 .0389l.0065 .0389l.0066-.0378l.0065-.0377l.0065 .0389l.0066-.0378l.0065-.0377l.0065 .0388l.0066-.0377l.0065 .0389l.0065 .0388l.0065 .0389l.0066 .0388l.0065 .0388l.0065-.0377l.0066 .0388l.0065-.0377l.0065-.0377l.0066 .0388l.0065 .0387l.0065-.0376l.0065 .0387l.0066-.0376l.0065-.0377l.0065-.0376l.0066-.0376l.0065 .0387l.0065-.0376l.0066-.0376l.0065-.0375l.0065 .0387l.0065-.0376l.0066 .0387l.0065-.0375l.0065-.0375l.0066-.0375l.0065 .0386l.0065 .0387l.0066-.0375l.0065-.0375l.0065-.0374l.0065 .0386l.0066 .0386l.0065-.0374l.0065 .0386l.0066 .0386l.0065 .0386l.0065 .0386l.0066 .0385l.0065 .0386l.0065-.0374l.0065-.0375l.0066-.0374l.0065 .0386l.0065 .0385l.0066 .0385l.0065-.0374l.0065 .0385l.0066 .0384l.0065 .0385l.0065-.0374l.0065 .0384l.0066 .0385l.0065 .0384l.0065-.0374l.0066-.0374l.0065-.0373l.0065-.0373l.0066-.0373l.0065 .0384l.0065-.0373l.0065-.0373l.0066 .0384l.0065 .0383l.0065-.0372l.0066-.0373l.0065-.0372l.0065-.0372l.0066 .0383l.0065-.0372l.0065 .0383l.0065-.0372l.0066 .0384l.0065-.0372l.0065-.0372l.0066-.0371l.0065 .0383l.0065-.0372l.0066-.0371l.0065-.0371l.0065 .0383l.0065 .0383l.0066 .0382l.0065 .0382l.0065-.037l.0066-.0371l.0065-.0371l.0065 .0382l.0066-.037l.0065-.0371l.0065-.037l.0065-.037l.0066 .0382l.0065-.037l.0065 .0382l.0066 .0382l.0065 .0382l.0065-.037l.0066-.037l.0065 .0382l.0065-.037l.0065-.0369l.0066-.037l.0065-.0369l.0065 .0382l.0066-.0369l.0065-.0369l.0065 .0381l.0066 .0381l.0065-.0369l.0065 .0381l.0065-.0368l.0066 .0381l.0065-.0369l.0065-.0368l.0066-.0368l.0065-.0368l.0065 .038l.0066 .0381l.0065-.0368l.0065-.0368l.0065-.0367l.0066-.0368l.0065-.0367l.0065 .038l.0066 .038l.0065 .038l.0065-.0367l.0066 .038l.0065 .038l.0065-.0367l.0065-.0367l.0066 .038l.0065 .0379l.0065-.0367l.0066 .0379l.0065-.0366l.0065-.0367l.0066 .038l.0065-.0367l.0065-.0366l.0065-.0366l.0066 .0379l.0065-.0366l.0065-.0366l.0066-.0365l.0065-.0366l.0065 .0379l.0066-.0366l.0065-.0365l.0065 .0379l.0065-.0365l.0066-.0365l.0065-.0365l.0065-.0365l.0066-.0364l.0065-.0365l.0065-.0364l.0066-.0364l.0065-.0364l.0065 .0379l.0065 .0378l.0066-.0364l.0065-.0364l.0065-.0363l.0066-.0364l.0065-.0363l.0065 .0378l.0066-.0363l.0065-.0363l.0065-.0363l.0065-.0363l.0066 .0378l.0065-.0362l.0065 .0378l.0066 .0378l.0065-.0363l.0065 .0378l.0066 .0377l.0065 .0377l.0065 .0378l.0065-.0363l.0066-.0362l.0065 .0377l.0065 .0377l.0066 .0377l.0065-.0362l.0065-.0362l.0066 .0376l.0065 .0377l.0065 .0376l.0065-.0362l.0066 .0376l.0065-.0361l.0065-.0362l.0066 .0376l.0065-.0361l.0065 .0376l.0066-.0362l.0065 .0376l.0065 .0376l.0065-.0361l.0066-.0361l.0065-.0361l.0065-.0361l.0066-.0361l.0065-.036l.0065 .0375l.0066-.036l.0065-.036l.0065-.036l.0065-.036l.0066 .0375l.0065-.036l.0065-.036l.0066 .0376l.0065-.036l.0065-.0359l.0066 .0375l.0065-.036l.0065 .0375l.0065-.0359l.0066 .0375l.0065-.0359l.0065 .0374l.0066 .0375l.0065 .0374l.0065 .0374l.0066 .0374l.0065 .0374l.0065-.0359l.0065 .0374l.0066-.0359l.0065 .0374l.0065 .0373l.0066 .0373l.0065-.0358l.0065-.0359l.0066 .0373l.0065 .0373l.0065 .0373l.0065 .0373l.0066-.0358l.0065-.0359l.0065 .0373l.0066-.0358l.0065 .0372l.0065 .0373l.0066-.0358l.0065 .0372l.0065 .0372l.0065 .0372l.0066 .0372l.0065 .0371l.0065 .0372l.0066 .0371l.0065-.0358l.0065 .0371l.0066 .0371l.0065 .0371l.0065 .0371l.0065-.0358l.0066 .0371l.0065 .037l.0065 .0371l.0066-.0358l.0065 .037l.0065-.0357l.0066-.0357l.0065 .037l.0065-.0358l.0065 .037l.0066-.0357l.0065-.0357l.0065-.0357l.0066 .037l.0065-.0356l.0065-.0357l.0066 .037l.0065 .0369l.0065 .0369l.0065-.0356l.0066-.0356l.0065 .0369l.0065-.0356l.0066 .0369l.0065-.0356l.0065 .0369l.0066-.0356l.0065 .0369l.0065 .0368l.0065-.0355l.0066-.0356l.0065 .0368l.0065-.0355l.0066-.0355l.0065 .0368l.0065-.0355l.0066 .0368l.0065-.0355l.0065-.0355l.0065 .0368l.0066 .0368l.0065 .0368l.0065-.0355l.0066 .0368l.0065 .0367l.0065-.0355l.0066 .0368l.0065 .0367l.0065 .0367l.0065-.0354l.0066-.0355l.0065 .0367l.0065 .0367l.0066-.0354l.0065 .0366l.0065-.0354l.0066 .0367l.0065 .0366l.0065 .0367l.0065 .0366l.0066 .0366l.0065-.0354l.0065 .0366l.0066 .0365l.0065 .0366l.0065-.0354l.0066 .0366l.0065 .0365l.0065-.0354l.0065-.0354l.0066-.0353l.0065 .0365l.0065-.0353l.0066 .0365l.0065 .0365l.0065 .0364l.0066-.0353l.0065-.0353l.0065-.0353l.0065-.0353l.0066-.0353l.0065 .0365l.0065 .0364l.0066-.0353l.0065 .0365l.0065 .0364l.0066 .0364l.0065 .0364l.0065-.0352l.0065 .0364l.0066-.0353l.0065 .0364l.0065-.0352l.0066-.0353l.0065-.0352l.0065-.0352l.0066-.0352l.0065-.0351l.0065-.0352l.0065 .0364l.0066 .0363l.0065 .0364l.0065 .0363l.0066 .0363l.0065 .0363l.0065-.0352l.0066 .0363l.0065-.0351l.0065-.0351l.0065 .0362l.0066-.0351l.0065 .0363l.0065-.0351l.0066 .0362l.0065 .0363l.0065 .0362l.0066-.0351l.0065 .0362l.0065-.0351l.0065 .0362l.0066-.0351l.0065-.035l.0065 .0362l.0066 .0361l.0065-.035l.0065 .0362l.0066 .0361l.0065 .0361l.0065-.035l.0065-.035l.0066 .0361l.0065 .0361l.0065 .0361l.0066-.035l.0065-.035l.0065 .0361l.0066-.035l.0065 .036l.0065-.0349l.0065-.035l.0066 .0361l.0065-.035l.0065-.0349l.0066-.0349l.0065 .036l.0065 .0361l.0066 .036l.0065 .0359l.0065 .036l.0065-.0349l.0066-.0349l.0065 .036l.0065 .0359l.0066 .036l.0065 .0359l.0065-.0349l.0066-.0348l.0065-.0349l.0065-.0348l.0065 .0359l.0066 .0359l.0065-.0348l.0065 .0359l.0066-.0348l.0065-.0348l.0065 .0358l.0066-.0348l.0065 .0359l.0065 .0358l.0065-.0347l.0066 .0358l.0065-.0348l.0065 .0359l.0066 .0358l.0065-.0348l.0065-.0347l.0066 .0358l.0065 .0357l.0065-.0347l.0065 .0358l.0066-.0347l.0065-.0347l.0065-.0347l.0066 .0357l.0065-.0346l.0065-.0347l.0066-.0346l.0065-.0347l.0065-.0346l.0065 .0357l.0066-.0346l.0065 .0358l.0065-.0346l.0066 .0357l.0065 .0357l.0065 .0357l.0066 .0356l.0065 .0357l.0065-.0346l.0065-.0346l.0066-.0345l.0065 .0356l.0065 .0356l.0066 .0357l.0065 .0356l.0065-.0346l.0066-.0345l.0065-.0345l.0065-.0346l.0065 .0356l.0066 .0356l.0065-.0345l.0065-.0345l.0066-.0344l.0065 .0355l.0065-.0344l.0066 .0355l.0065-.0344l.0065 .0355l.0065-.0344l.0066-.0345l.0065-.0344l.0065 .0355l.0066-.0344l.0065-.0344l.0065 .0356l.0066 .0355l.0065 .0355l.0065 .0354l.0065 .0355l.0066 .0355l.0065 .0354l.0065 .0354l.0066-.0344l.0065-.0343l.0065 .0354l.0066-.0344l.0065 .0354l.0065 .0354l.0065 .0354l.0066 .0354l.0065 .0353l.0065 .0354l.0066 .0353l.0065-.0344l.0065 .0354l.0066 .0353l.0065 .0352l.0065 .0353l.0065 .0353l.0066 .0352l.0065 .0353l.0065-.0344l.0066-.0343l.0065 .0352l.0065-.0343l.0066 .0352l.0065-.0343l.0065 .0352l.0065 .0352l.0066 .0352l.0065 .0352l.0065-.0343l.0066-.0343l.0065 .0352l.0065 .0351l.0066-.0343l.0065 .0352l.0065 .0351l.0065 .0351l.0066 .0351l.0065 .035l.0065-.0342l.0066-.0343l.0065 .0351l.0065 .0351l.0066 .035l.0065 .035l.0065-.0342l.0065 .035l.0066 .035l.0065 .035l.0065-.0342l.0066-.0342l.0065 .0349l.0065-.0341l.0066 .0349l.0065 .035l.0065-.0342l.0065 .0349l.0066-.0341l.0065-.0342l.0065-.0341l.0066-.0342l.0065-.0341l.0065-.0341l.0066-.0341l.0065 .0349l.0065 .0349l.0065-.034l.0066-.0341l.0065-.0341l.0065-.034l.0066 .0349l.0065 .0349l.0065-.0341l.0066-.034l.0065 .0349l.0065 .0348l.0065-.034l.0066-.034l.0065 .0349l.0065-.034l.0066 .0348l.0065-.034l.0065-.0339l.0066-.034l.0065-.0339l.0065-.0339l.0065 .0348l.0066 .0348l.0065-.0339l.0065-.0339l.0066 .0348l.0065 .0347l.0065 .0348l.0066-.0339l.0065 .0348l.0065-.0339l.0065-.0339l.0066-.0338l.0065 .0347l.0065-.0338l.0066 .0347l.0065-.0338l.0065-.0338l.0066-.0339l.0065 .0348l.0065 .0347l.0065-.0338l.0066 .0347l.0065-.0338l.0065-.0338l.0066-.0337l.0065-.0338l.0065-.0337l.0066 .0347l.0065 .0346l.0065-.0337l.0065-.0337l.0066-.0337l.0065-.0337l.0065-.0337l.0066-.0337l.0065 .0347l.0065-.0337l.0066 .0347l.0065 .0346l.0065 .0346l.0065-.0336l.0066 .0346l.0065-.0336l.0065 .0346l.0066-.0337l.0065-.0336l.0065-.0336l.0066 .0346l.0065-.0336l.0065-.0335l.0065 .0345l.0066 .0346l.0065 .0345l.0065 .0346l.0066-.0336l.0065-.0335l.0065 .0345l.0066 .0345l.0065 .0345l.0065-.0335l.0065-.0336l.0066-.0335l.0065 .0345l.0065 .0345l.0066 .0344l.0065-.0335l.0065-.0335l.0066 .0345l.0065 .0344l.0065-.0335l.0065-.0334l.0066-.0335l.0065-.0334l.0065 .0344l.0066-.0335l.0065 .0345l.0065-.0335l.0066-.0334l.0065-.0334l.0065-.0334l.0065 .0344l.0066-.0334l.0065-.0333l.0065-.0334l.0066 .0344l.0065 .0344l.0065 .0344l.0066-.0334l.0065 .0344l.0065 .0343l.0065-.0333l.0066 .0343l.0065-.0333l.0065 .0343l.0066-.0333l.0065-.0333l.0065 .0343l.0066 .0343l.0065 .0343l.0065-.0333l.0065-.0333l.0066-.0333l.0065 .0343l.0065 .0343l.0066-.0333l.0065-.0332l.0065-.0333l.0066 .0343l.0065 .0342l.0065 .0342l.0065-.0332l.0066-.0332l.0065 .0342l.0065 .0342l.0066-.0332l.0065-.0332l.0065 .0342l.0066 .0342l.0065-.0332l.0065-.0332l.0065 .0342l.0066 .0342l.0065-.0332l.0065-.0331l.0066-.0332l.0065 .0342l.0065-.0332l.0066-.0331l.0065 .0342l.0065 .0341l.0065 .0341l.0066 .0341l.0065-.0331l.0065 .034l.0066-.033l.0065 .034l.0065-.033l.0066 .034l.0065-.0331l.0065-.033l.0065 .034l.0066-.033l.0065-.033l.0065-.0331l.0066-.033l.0065-.033l.0065-.033l.0066 .0341l.0065-.033l.0065 .034l.0065 .034l.0066-.0329l.0065-.033l.0065 .034l.0066-.0329l.0065-.033l.0065-.0329l.0066 .034l.0065-.0329l.0065-.0329l.0065-.0329l.0066-.0329l.0065 .034l.0065-.0329l.0066 .034l.0065 .0339l.0065-.0328l.0066-.0329l.0065 .034l.0065 .0339l.0065 .0339l.0066 .0339l.0065-.0328l.0065 .0339l.0066-.0328l.0065 .0338l.0065-.0328l.0066-.0328l.0065 .0339l.0065 .0339l.0065-.0328l.0066 .0338l.0065-.0328l.0065 .0339l.0066-.0328l.0065-.0328l.0065 .0339l.0066 .0338l.0065 .0338l.0065-.0328l.0065 .0338l.0066 .0338l.0065 .0338l.0065-.0328l.0066 .0338l.0065 .0337l.0065-.0327l.0066-.0327l.0065 .0337l.0065-.0327l.0065 .0337l.0066 .0337l.0065-.0327l.0065 .0337l.0066-.0327l.0065 .0337l.0065 .0337l.0066-.0327l.0065-.0326l.0065-.0327l.0065 .0337l.0066 .0336l.0065-.0326l.0065-.0326l.0066 .0336l.0065-.0326l.0065 .0336l.0066-.0326l.0065-.0326l.0065 .0336l.0065-.0325l.0066-.0326l.0065-.0326l.0065 .0336l.0066-.0325l.0065-.0326l.0065-.0325l.0066 .0336l.0065 .0336l.0065 .0335l.0065-.0325l.0066-.0325l.0065-.0325l.0065 .0336l.0066 .0335l.0065-.0325l.0065-.0324l.0066-.0325l.0065-.0324l.0065 .0335l.0065-.0325l.0066-.0324l.0065-.0324l.0065 .0335l.0066 .0335l.0065 .0335l.0065 .0335l.0066-.0324l.0065-.0324l.0065-.0324l.0065-.0324l.0066 .0335l.0065-.0323l.0065-.0324l.0066 .0335l.0065 .0334l.0065 .0334l.0066-.0323l.0065-.0323l.0065-.0323l.0065 .0334l.0066 .0334l.0065 .0334l.0065 .0334l.0066 .0334l.0065-.0323l.0065-.0323l.0066-.0323l.0065-.0323l.0065 .0334l.0065-.0323l.0066-.0323l.0065-.0322l.0065 .0334l.0066-.0323l.0065 .0334l.0065-.0323l.0066 .0334l.0065-.0322l.0065-.0322l.0065 .0333l.0066-.0322l.0065 .0333l.0065 .0333l.0066-.0322l.0065 .0333l.0065-.0322l.0066-.0321l.0065-.0322l.0065 .0333l.0065-.0321l.0066 .0332l.0065 .0333l.0065 .0332l.0066 .0333l.0065 .0332l.0065-.0321l.0066 .0332l.0065-.0322l.0065 .0332l.0065 .0332l.0066 .0332l.0065-.0321l.0065 .0332l.0066 .0331l.0065 .0332l.0065-.0321l.0066-.0321l.0065 .0331l.0065 .0331l.0065-.032l.0066 .0331l.0065 .0331l.0065-.0321l.0066 .0331l.0065-.0321l.0065 .0331l.0066 .0331l.0065 .033l.0065-.032l.0065 .033l.0066-.032l.0065-.032l.0065 .033l.0066 .033l.0065-.032l.0065 .033l.0066 .033l.0065 .033l.0065 .033l.0065-.032l.0066 .0329l.0065-.032l.0065-.0319l.0066 .0329l.0065-.032l.0065 .033l.0066 .0329l.0065-.0319l.0065 .0329l.0065 .0329l.0066 .0329l.0065-.032l.0065 .0329l.0066-.0319l.0065-.032l.0065 .0329l.0066-.0319l.0065 .0329l.0065 .0328l.0065 .0329l.0066-.0319l.0065 .0328l.0065 .0328l.0066 .0328l.0065 .0328l.0065 .0328l.0066-.0319l.0065 .0328l.0065-.0319l.0065 .0328l.0066 .0327l.0065-.0319l.0065 .0328l.0066-.0319l.0065 .0328l.0065 .0327l.0066 .0327l.0065 .0327l.0065 .0327l.0065 .0327l.0066 .0326l.0065 .0327l.0065 .0327l.0066-.0319l.0065 .0326l.0065 .0327l.0066 .0326l.0065-.0319l.0065 .0326l.0065 .0326l.0066-.0318l.0065 .0326l.0065 .0325l.0066 .0326l.0065-.0318l.0065-.0318l.0066-.0319l.0065-.0318l.0065 .0326l.0065 .0325l.0066 .0326l.0065 .0325l.0065-.0318l.0066-.0318l.0065 .0325l.0065 .0325l.0066-.0317l.0065 .0324l.0065-.0317l.0065 .0325l.0066 .0324l.0065 .0325l.0065 .0324l.0066 .0325l.0065-.0318l.0065 .0324l.0066 .0324l.0065 .0324l.0065-.0317l.0065-.0317l.0066 .0324l.0065-.0317l.0065 .0323l.0066-.0317l.0065 .0324l.0065-.0317l.0066-.0317l.0065-.0317l.0065 .0324l.0065-.0317l.0066 .0324l.0065 .0323l.0065 .0323l.0066-.0316l.0065 .0323l.0065 .0323l.0066 .0323l.0065-.0317l.0065 .0323l.0065-.0316l.0066 .0323l.0065 .0322l.0065-.0316l.0066 .0323l.0065-.0317l.0065 .0323l.0066-.0316l.0065 .0322l.0065-.0316l.0065-.0316l.0066-.0315l.0065 .0322l.0065-.0316l.0066-.0315l.0065 .0322l.0065-.0316l.0066-.0315l.0065-.0315l.0065-.0315l.0065-.0316l.0066 .0322l.0065-.0314l.0065-.0315l.0066-.0315l.0065-.0315l.0065-.0314l.0066 .0322l.0065-.0315l.0065 .0322l.0065 .0322l.0066-.0315l.0065 .0322l.0065-.0314l.0066 .0321l.0065-.0314l.0065 .0321l.0066-.0314l.0065-.0313l.0065-.0314l.0065-.0314l.0066-.0314l.0065-.0313l.0065-.0314l.0066-.0313l.0065 .0321l.0065-.0313l.0066 .0321l.0065-.0313l.0065 .0321l.0065-.0313l.0066-.0313l.0065-.0312l.0065-.0313l.0066-.0313l.0065-.0312l.0065 .0321l.0066-.0313l.0065-.0312l.0065-.0312l.0065-.0312l.0066 .032l.0065-.0312l.0065-.0311l.0066-.0312l.0065-.0312l.0065-.0311l.0066 .032l.0065-.0311l.0065-.0312l.0065 .0321l.0066 .032l.0065-.0311l.0065 .032l.0066-.0311l.0065-.0311l.0065-.0311l.0066-.0311l.0065-.031l.0065-.0311l.0065-.0311l.0066 .0321l.0065 .032l.0065 .032l.0066-.0311l.0065 .032l.0065 .032l.0066 .032l.0065-.0311l.0065-.031l.0065-.031l.0066-.031l.0065-.031l.0065 .0319l.0066 .032l.0065-.031l.0065-.031l.0066-.0309l.0065 .0319l.0065 .0319l.0065-.0309l.0066-.031l.0065 .0319l.0065-.0309l.0066 .0319l.0065 .0319l.0065 .0319l.0066 .0319l.0065-.031l.0065-.0309l.0065-.0309l.0066-.0309l.0065 .0319l.0065-.0309l.0066 .0318l.0065 .0319l.0065 .0318l.0066 .0319l.0065-.0309l.0065 .0318l.0065 .0318l.0066-.0309l.0065 .0318l.0065-.0308l.0066-.0309l.0065-.0308l.0065 .0318l.0066 .0317l.0065 .0318l.0065 .0318l.0065 .0317l.0066-.0308l.0065 .0317l.0065 .0317l.0066 .0317l.0065 .0317l.0065 .0317l.0066 .0317l.0065-.0308l.0065 .0317l.0065 .0316l.0066-.0308l.0065 .0317l.0065-.0308l.0066-.0308l.0065 .0316l.0065 .0317l.0066 .0316l.0065-.0308l.0065 .0316l.0065-.0308l.0066 .0316l.0065-.0307l.0065-.0308l.0066-.0307l.0065-.0308l.0065 .0316l.0066-.0307l.0065 .0316l.0065 .0315l.0065-.0307l.0066-.0307l.0065 .0316l.0065-.0307l.0066-.0307l.0065 .0315l.0065-.0306l.0066 .0315l.0065-.0307l.0065 .0316l.0065-.0307l.0066 .0315l.0065-.0306l.0065 .0315l.0066-.0307l.0065-.0306l.0065 .0315l.0066 .0315l.0065 .0315l.0065 .0314l.0065-.0306l.0066-.0306l.0065 .0315l.0065-.0306l.0066-.0306l.0065-.0306l.0065 .0314l.0066-.0305l.0065 .0314l.0065 .0314l.0065-.0305l.0066 .0314l.0065-.0306l.0065-.0305l.0066 .0314l.0065 .0314l.0065-.0305l.0066-.0306l.0065-.0305l.0065 .0314l.0065-.0305l.0066-.0305l.0065 .0314l.0065-.0305l.0066 .0314l.0065 .0313l.0065 .0314l.0066 .0313l.0065 .0313l.0065-.0304l.0065 .0313l.0066 .0313l.0065-.0305l.0065-.0304l.0066-.0305l.0065-.0304l.0065 .0313l.0066 .0313l.0065-.0305l.0065 .0313l.0065-.0304l.0066-.0304l.0065-.0304l.0065-.0304l.0066 .0312l.0065 .0313l.0065-.0304l.0066-.0304l.0065 .0313l.0065-.0304l.0065 .0313l.0066-.0304l.0065 .0312l.0065 .0313l.0066 .0312l.0065 .0312l.0065-.0304l.0066 .0312l.0065-.0303l.0065-.0304l.0065-.0303l.0066-.0303l.0065 .0312l.0065-.0303l.0066 .0312l.0065-.0303l.0065-.0303l.0066-.0303l.0065-.0302l.0065-.0303l.0065-.0302l.0066 .0311l.0065-.0302l.0065-.0302l.0066 .0311l.0065 .0312l.0065-.0303l.0066-.0302l.0065 .0312l.0065 .0311l.0065 .0311l.0066 .0311l.0065-.0302l.0065 .0311l.0066-.0302l.0065 .0311l.0065-.0302l.0066-.0302l.0065-.0301l.0065-.0302l.0065-.0301l.0066 .0311l.0065-.0302l.0065-.0301l.0066 .0311l.0065-.0302l.0065 .0311l.0066 .031l.0065-.0301l.0065 .0311l.0065 .031l.0066-.0301l.0065 .031l.0065 .031l.0066-.0301l.0065-.0301l.0065-.03l.0066-.0301l.0065 .031l.0065-.03l.0065-.0301l.0066 .031l.0065 .031l.0065 .0309l.0066-.03l.0065 .031l.0065 .0309l.0066 .0309l.0065 .031l.0065 .0309l.0065-.0301l.0066-.03l.0065-.03l.0065-.03l.0066 .0309l.0065-.0299l.0065 .0309l.0066-.03l.0065-.03l.0065 .0309l.0065 .0309l.0066-.03l.0065 .0309l.0065 .0308l.0066-.0299l.0065 .0308l.0065 .0309l.0066 .0308l.0065-.0299l.0065-.03l.0065-.0299l.0066-.0299l.0065 .0308l.0065-.0299l.0066 .0308l.0065 .0308l.0065 .0308l.0066-.0299l.0065-.0299l.0065 .0308l.0065-.0299l.0066 .0308l.0065 .0308l.0065-.0299l.0066-.0299l.0065-.0298l.0065 .0307l.0066 .0308l.0065-.0299l.0065 .0308l.0065-.0299l.0066 .0308l.0065 .0307l.0065-.0299l.0066 .0307l.0065-.0298l.0065-.0298l.0066 .0307l.0065-.0298l.0065 .0307l.0065-.0298l.0066-.0297l.0065 .0306l.0065-.0297l.0066-.0298l.0065 .0307l.0065-.0298l.0066-.0297l.0065 .0306l.0065 .0307l.0065-.0297l.0066 .0306l.0065 .0306l.0065 .0306l.0066-.0297l.0065-.0297l.0065 .0306l.0066 .0306l.0065-.0297l.0065 .0306l.0065 .0305l.0066-.0297l.0065-.0296l.0065 .0305l.0066-.0296l.0065 .0305l.0065 .0306l.0066-.0297l.0065 .0305l.0065 .0306l.0065-.0297l.0066 .0305l.0065-.0296l.0065-.0297l.0066-.0296l.0065-.0296l.0065 .0305l.0066-.0296l.0065-.0296l.0065 .0305l.0065 .0305l.0066-.0296l.0065 .0305l.0065 .0304l.0066-.0296l.0065-.0295l.0065-.0296l.0066-.0296l.0065 .0305l.0065 .0304l.0065-.0295l.0066 .0304l.0065 .0305l.0065 .0304l.0066-.0295l.0065 .0304l.0065-.0296l.0066 .0304l.0065 .0304l.0065-.0295l.0065 .0304l.0066-.0295l.0065-.0295l.0065-.0295l.0066-.0295l.0065 .0304l.0065-.0295l.0066 .0304l.0065 .0303l.0065-.0294l.0065 .0303l.0066 .0303l.0065 .0304l.0065 .0303l.0066-.0295l.0065 .0303l.0065-.0294l.0066 .0303l.0065-.0295l.0065 .0303l.0065 .0303l.0066-.0294l.0065 .0302l.0065 .0303l.0066-.0294l.0065 .0302l.0065 .0303l.0066 .0302l.0065 .0302l.0065-.0294l.0065 .0302l.0066-.0294l.0065-.0294l.0065-.0294l.0066-.0293l.0065-.0294l.0065-.0294l.0066 .0302l.0065-.0293l.0065 .0302l.0065-.0294l.0066 .0302l.0065-.0293l.0065 .0302l.0066-.0294l.0065-.0293l.0065-.0293l.0066-.0293l.0065 .0302l.0065 .0301l.0065 .0302l.0066-.0293l.0065 .0301l.0065-.0292l.0066-.0293l.0065-.0293l.0065 .0302l.0066 .0301l.0065 .0301l.0065-.0293l.0065 .0301l.0066-.0292l.0065-.0293l.0065-.0292l.0066-.0292l.0065 .0301l.0065-.0292l.0066 .0301l.0065-.0292l.0065-.0292l.0065 .03l.0066 .0301l.0065 .0301l.0065-.0292l.0066-.0292l.0065-.0292l.0065 .0301l.0066 .03l.0065 .03l.0065-.0291l.0065-.0292l.0066-.0291l.0065-.0291l.0065 .03l.0066-.0291l.0065 .03l.0065-.0292l.0066-.0291l.0065 .03l.0065 .03l.0065-.0291l.0066 .03l.0065-.0291l.0065-.0291l.0066 .03l.0065 .03l.0065-.0291l.0066 .03l.0065 .0299l.0065-.0291l.0065 .03l.0066 .0299l.0065-.029l.0065-.0291l.0066-.029l.0065 .0299l.0065 .0299l.0066 .0299l.0065 .0299l.0065 .0299l.0065 .0298l.0066 .0299l.0065-.029l.0065 .0298l.0066 .0299l.0065 .0298l.0065-.029l.0066-.029l.0065 .0298l.0065 .0298l.0065 .0298l.0066-.029l.0065-.029l.0065 .0298l.0066 .0298l.0065-.029l.0065 .0298l.0066-.029l.0065-.0289l.0065 .0297l.0065-.0289l.0066 .0298l.0065-.029l.0065 .0298l.0066-.029l.0065-.0289l.0065-.029l.0066 .0298l.0065-.0289l.0065 .0297l.0065-.0289l.0066-.0289l.0065-.0289l.0065 .0297l.0066-.0288l.0065-.0289l.0065 .0297l.0066-.0289l.0065-.0288l.0065 .0297l.0065 .0297l.0066 .0297l.0065 .0297l.0065-.0289l.0066 .0297l.0065 .0296l.0065 .0297l.0066-.0288l.0065-.0289l.0065-.0288l.0065 .0296l.0066 .0297l.0065 .0296l.0065-.0288l.0066 .0296l.0065 .0296l.0065 .0296l.0066-.0288l.0065-.0288l.0065 .0296l.0065 .0296l.0066 .0296l.0065 .0295l.0065 .0296l.0066-.0288l.0065 .0296l.0065-.0288l.0066-.0288l.0065 .0295l.0065 .0296l.0065 .0295l.0066-.0288l.0065 .0295l.0065 .0295l.0066-.0287l.0065-.0288l.0065 .0295l.0066-.0287l.0065 .0295l.0065-.0288l.0065 .0295l.0066 .0295l.0065-.0287l.0065 .0294l.0066-.0287l.0065-.0287l.0065 .0295l.0066-.0287l.0065 .0294l.0065 .0294l.0065-.0287l.0066 .0295l.0065-.0287l.0065 .0294l.0066 .0294l.0065-.0287l.0065-.0286l.0066-.0287l.0065 .0294l.0065-.0286l.0065-.0287l.0066 .0294l.0065 .0294l.0065 .0294l.0066 .0293l.0065-.0286l.0065-.0286l.0066-.0286l.0065 .0293l.0065-.0286l.0065 .0293l.0066-.0286l.0065 .0294l.0065 .0293l.0066-.0286l.0065-.0286l.0065-.0285l.0066 .0293l.0065-.0286l.0065 .0293l.0065-.0285l.0066-.0286l.0065 .0293l.0065 .0293l.0066 .0293l.0065 .0293l.0065-.0286l.0066-.0285l.0065 .0293l.0065-.0285l.0065-.0286l.0066 .0293l.0065-.0285l.0065-.0285l.0066-.0285l.0065-.0285l.0065 .0293l.0066-.0285l.0065-.0285l.0065 .0293l.0065 .0292l.0066 .0292l.0065 .0292l.0065 .0292l.0066 .0292l.0065 .0292l.0065 .0292l.0066-.0285l.0065 .0292l.0065-.0284l.0065-.0285l.0066 .0292l.0065 .0291l.0065 .0292l.0066-.0284l.0065-.0285l.0065-.0284l.0066 .0292l.0065 .0291l.0065 .0291l.0065 .0291l.0066 .0291l.0065 .0291l.0065-.0284l.0066 .0291l.0065 .0291l.0065-.0284l.0066-.0284l.0065 .029l.0065-.0284l.0065-.0283l.0066 .029l.0065 .0291l.0065-.0284l.0066 .0291l.0065-.0284l.0065 .029l.0066-.0283l.0065-.0284l.0065 .0291l.0065-.0284l.0066-.0283l.0065-.0283l.0065 .029l.0066-.0283l.0065 .029l.0065-.0283l.0066-.0283l.0065-.0283l.0065 .029l.0065-.0283l.0066-.0282l.0065 .029l.0065 .0289l.0066 .029l.0065-.0282l.0065-.0283l.0066-.0282l.0065-.0283l.0065 .029l.0065-.0282l.0066-.0283l.0065-.0282l.0065-.0282l.0066-.0282l.0065 .029l.0065 .0289l.0066-.0282l.0065 .029l.0065-.0282l.0065-.0282l.0066-.0281l.0065-.0282l.0065 .029l.0066 .0289l.0065-.0282l.0065-.0281l.0066-.0281l.0065 .0289l.0065 .0289l.0065-.0281l.0066-.0282l.0065 .0289l.0065-.0281l.0066-.0281l.0065-.0281l.0065-.028l.0066 .0289l.0065-.0281l.0065-.0281l.0065 .0289l.0066-.0281l.0065-.028l.0065-.028l.0066-.0281l.0065 .0289l.0065 .0288l.0066-.028l.0065 .0289l.0065-.028l.0065-.028l.0066-.028l.0065-.028l.0065 .0288l.0066-.028l.0065-.0279l.0065 .0288l.0066-.028l.0065-.0279l.0065 .0288l.0065 .0288l.0066 .0288l.0065-.0279l.0065-.028l.0066 .0288l.0065-.0279l.0065-.0279l.0066 .0287l.0065-.0279l.0065-.0279l.0065-.0279l.0066-.0279l.0065 .0288l.0065 .0288l.0066-.0279l.0065-.0279l.0065-.0279l.0066-.0278l.0065-.0279l.0065-.0278l.0065-.0279l.0066-.0278l.0065-.0278l.0065-.0278l.0066-.0278l.0065-.0278l.0065 .0287l.0066-.0278l.0065 .0288l.0065-.0278l.0065 .0288l.0066-.0278l.0065-.0278l.0065-.0277l.0066-.0278l.0065-.0277l.0065 .0287l.0066-.0277l.0065 .0287l.0065 .0287l.0065-.0277l.0066-.0277l.0065 .0287l.0065-.0277l.0066-.0277l.0065-.0277l.0065 .0287l.0066-.0277l.0065-.0277l.0065 .0287l.0065 .0287l.0066-.0277l.0065 .0287l.0065 .0287l.0066 .0286l.0065-.0276l.0065-.0277l.0066-.0276l.0065 .0286l.0065-.0276l.0065 .0286l.0066 .0287l.0065 .0286l.0065 .0286l.0066 .0286l.0065 .0286l.0065-.0276l.0066-.0276l.0065 .0286l.0065-.0276l.0065 .0285l.0066-.0276l.0065 .0286l.0065 .0286l.0066 .0285l.0065-.0276l.0065-.0276l.0066 .0286l.0065 .0285l.0065-.0275l.0065 .0285l.0066 .0285l.0065-.0276l.0065-.0275l.0066 .0285l.0065 .0285l.0065 .0285l.0066-.0276l.0065 .0285l.0065-.0275l.0065 .0285l.0066-.0276l.0065 .0285l.0065-.0275l.0066-.0276l.0065 .0285l.0065-.0275l.0066 .0284l.0065-.0275l.0065-.0275l.0065-.0275l.0066 .0285l.0065-.0275l.0065-.0275l.0066-.0275l.0065-.0275l.0065-.0274l.0066 .0284l.0065 .0285l.0065-.0275l.0065 .0284l.0066 .0285l.0065 .0284l.0065-.0275l.0066-.0274l.0065-.0274l.0065-.0275l.0066-.0274l.0065 .0284l.0065 .0284l.0065 .0284l.0066 .0284l.0065 .0284l.0065 .0283l.0066-.0274l.0065-.0274l.0065-.0274l.0066 .0284l.0065 .0283l.0065 .0284l.0065-.0274l.0066-.0274l.0065-.0274l.0065-.0273l.0066-.0274l.0065 .0283l.0065 .0284l.0066 .0283l.0065-.0274l.0065 .0283l.0065-.0273l.0066-.0273l.0065 .0283l.0065 .0282l.0066 .0283l.0065-.0273l.0065-.0273l.0066 .0283l.0065 .0282l.0065-.0273l.0065 .0283l.0066-.0273l.0065-.0273l.0065 .0282l.0066 .0283l.0065-.0273l.0065-.0273l.0066 .0282l.0065 .0283l.0065-.0273l.0065-.0273l.0066 .0282l.0065 .0282l.0065 .0282l.0066 .0282l.0065 .0282l.0065-.0272l.0066-.0273l.0065-.0272l.0065-.0273l.0065 .0282l.0066 .0282l.0065 .0281l.0065-.0272l.0066-.0272l.0065 .0281l.0065 .0282l.0066-.0272l.0065-.0272l.0065-.0272l.0065-.0272l.0066 .0281l.0065 .0282l.0065-.0272l.0066-.0272l.0065-.0272l.0065 .0282l.0066 .0281l.0065 .0281l.0065-.0272l.0065 .0281l.0066-.0271l.0065 .028l.0065 .0281l.0066-.0271l.0065 .028l.0065 .0281l.0066 .0281l.0065-.0272l.0065-.0271l.0065 .028l.0066 .0281l.0065 .028l.0065-.0271l.0066-.0271l.0065-.0271l.0065-.0271l.0066-.0271l.0065 .028l.0065 .028l.0065-.0271l.0066-.027l.0065 .028l.0065 .028l.0066-.0271l.0065 .028l.0065 .028l.0066 .0279l.0065 .028l.0065 .028l.0065 .0279l.0066-.027l.0065 .0279l.0065-.0271l.0066-.027l.0065-.027l.0065-.0271l.0066-.027l.0065-.027l.0065-.027l.0065 .0279l.0066 .028l.0065 .0279l.0065-.027l.0066-.027l.0065-.027l.0065 .0279l.0066 .0279l.0065-.027l.0065 .0279l.0065 .0279l.0066-.027l.0065 .0279l.0065-.0269l.0066-.027l.0065 .0279l.0065 .0278l.0066-.0269l.0065 .0278l.0065 .0279l.0065 .0278l.0066-.0269l.0065-.027l.0065-.0269l.0066-.0269l.0065 .0278l.0065-.0269l.0066-.0269l.0065 .0278l.0065 .0279l.0065 .0278l.0066 .0278l.0065 .0278l.0065-.0269l.0066-.0269l.0065 .0278l.0065-.0269l.0066-.0269l.0065 .0278l.0065 .0277l.0065-.0268l.0066 .0277l.0065 .0278l.0065 .0277l.0066 .0278l.0065 .0277l.0065 .0277l.0066 .0277l.0065-.0268l.0065 .0277l.0065 .0277l.0066-.0269l.0065-.0268l.0065 .0277l.0066 .0276l.0065 .0277l.0065-.0268l.0066-.0269l.0065-.0268l.0065 .0277l.0065 .0276l.0066 .0277l.0065 .0276l.0065-.0268l.0066 .0277l.0065-.0269l.0065 .0277l.0066-.0268l.0065-.0268l.0065-.0268l.0065 .0276l.0066-.0268l.0065 .0276l.0065 .0276l.0066 .0276l.0065-.0267l.0065-.0268l.0066 .0276l.0065 .0276l.0065 .0275l.0065-.0267l.0066-.0268l.0065 .0276l.0065 .0276l.0066 .0275l.0065-.0267l.0065 .0275l.0066-.0267l.0065-.0268l.0065-.0267l.0065-.0267l.0066-.0267l.0065-.0267l.0065-.0267l.0066 .0275l.0065 .0276l.0065 .0275l.0066-.0267l.0065 .0275l.0065 .0275l.0065-.0267l.0066-.0266l.0065 .0275l.0065 .0275l.0066-.0267l.0065-.0267l.0065-.0266l.0066-.0266l.0065 .0274l.0065-.0266l.0065-.0266l.0066-.0266l.0065-.0267l.0065-.0266l.0066-.0266l.0065-.0265l.0065-.0266l.0066-.0266l.0065-.0266l.0065-.0265l.0065 .0275l.0066-.0266l.0065 .0275l.0065-.0266l.0066 .0275l.0065-.0266l.0065-.0265l.0066 .0275l.0065 .0274l.0065-.0265l.0065 .0274l.0066 .0274l.0065-.0265l.0065-.0265l.0066 .0274l.0065 .0274l.0065 .0274l.0066 .0274l.0065-.0265l.0065 .0274l.0065-.0265l.0066 .0274l.0065-.0265l.0065 .0274l.0066 .0273l.0065 .0274l.0065 .0273l.0066 .0274l.0065 .0273l.0065 .0273l.0065 .0273l.0066 .0274l.0065-.0265l.0065-.0265l.0066-.0265l.0065-.0264l.0065 .0273l.0066 .0273l.0065 .0273l.0065-.0265l.0065 .0273l.0066 .0273l.0065 .0272l.0065-.0264l.0066-.0265l.0065 .0273l.0065 .0272l.0066-.0264l.0065 .0272l.0065-.0264l.0065 .0273l.0066-.0265l.0065-.0264l.0065 .0273l.0066 .0272l.0065-.0264l.0065 .0272l.0066-.0264l.0065-.0264l.0065 .0272l.0065-.0264l.0066 .0272l.0065 .0272l.0065 .0272l.0066-.0264l.0065 .0272l.0065-.0264l.0066-.0263l.0065 .0271l.0065-.0263l.0065-.0264l.0066 .0272l.0065-.0263l.0065-.0264l.0066 .0272l.0065-.0264l.0065 .0272l.0066 .0271l.0065 .0272l.0065 .0271l.0065-.0263l.0066-.0264l.0065 .0272l.0065-.0263l.0066 .0271l.0065 .0271l.0065 .027l.0066 .0271l.0065 .0271l.0065 .0271l.0065 .027l.0066 .0271l.0065 .027l.0065 .0271l.0066 .027l.0065 .027l.0065 .027l.0066 .0271l.0065 .027l.0065-.0263l.0065 .027l.0066-.0263l.0065 .027l.0065 .0269l.0066 .027l.0065 .027l.0065-.0263l.0066 .0269l.0065 .027l.0065 .0269l.0065 .027l.0066 .0269l.0065-.0263l.0065 .0269l.0066 .027l.0065 .0269l.0065-.0263l.0066 .0269l.0065 .0269l.0065-.0263l.0065-.0262l.0066 .0268l.0065 .0269l.0065 .0269l.0066 .0269l.0065 .0268l.0065-.0262l.0066 .0268l.0065 .0268l.0065-.0262l.0065-.0262l.0066 .0268l.0065 .0268l.0065-.0262l.0066-.0262l.0065 .0268l.0065-.0262l.0066-.0262l.0065 .0268l.0065 .0268l.0065-.0262l.0066-.0262l.0065-.0262l.0065 .0268l.0066-.0262l.0065 .0268l.0065 .0268l.0066 .0268l.0065 .0267l.0065 .0268l.0065-.0262l.0066 .0268l.0065 .0267l.0065 .0268l.0066-.0262l.0065 .0267l.0065 .0268l.0066 .0267l.0065 .0267l.0065 .0267l.0065-.0262l.0066 .0267l.0065-.0261l.0065 .0266l.0066 .0267l.0065-.0261l.0065 .0267l.0066 .0266l.0065-.0261l.0065-.0261l.0065-.0262l.0066 .0267l.0065-.0261l.0065-.0261l.0066-.0261l.0065-.0261l.0065 .0266l.0066 .0267l.0065 .0266l.0065-.0261l.0065-.0261l.0066 .0267l.0065 .0266l.0065 .0266l.0066 .0266l.0065 .0266l.0065 .0266l.0066 .0266l.0065-.0261l.0065 .0266l.0065 .0265l.0066 .0266l.0065-.0261l.0065-.026l.0066 .0265l.0065 .0266l.0065-.0261l.0066 .0266l.0065 .0265l.0065-.026l.0065-.0261l.0066-.026l.0065 .0265l.0065-.026l.0066 .0265l.0065-.026l.0065-.026l.0066-.026l.0065-.026l.0065-.026l.0065-.026l.0066-.026l.0065-.0259l.0065 .0265l.0066-.026l.0065 .0265l.0065 .0265l.0066-.0259l.0065-.026l.0065 .0265l.0065 .0265l.0066-.026l.0065 .0265l.0065 .0265l.0066-.026l.0065-.0259l.0065-.0259l.0066 .0265l.0065-.026l.0065-.0259l.0065 .0265l.0066 .0264l.0065 .0265l.0065 .0264l.0066-.0259l.0065-.0259l.0065 .0264l.0066 .0265l.0065-.0259l.0065-.0259l.0065 .0264l.0066 .0264l.0065 .0264l.0065-.0259l.0066 .0264l.0065 .0264l.0065-.0259l.0066 .0264l.0065-.0258l.0065 .0263l.0065-.0258l.0066 .0263l.0065 .0264l.0065-.0259l.0066-.0258l.0065 .0264l.0065-.0259l.0066 .0264l.0065 .0263l.0065 .0263l.0065-.0258l.0066 .0263l.0065-.0258l.0065-.0258l.0066-.0258l.0065 .0263l.0065-.0258l.0066-.0258l.0065-.0258l.0065 .0263l.0065 .0263l.0066 .0263l.0065 .0263l.0065-.0258l.0066-.0258l.0065 .0263l.0065-.0257l.0066-.0258l.0065 .0263l.0065 .0262l.0065-.0257l.0066 .0262l.0065-.0257l.0065 .0262l.0066 .0263l.0065-.0257l.0065 .0262l.0066-.0257l.0065 .0262l.0065 .0262l.0065-.0257l.0066-.0257l.0065 .0262l.0065 .0262l.0066 .0262l.0065 .0262l.0065 .0262l.0066-.0257l.0065 .0261l.0065-.0257l.0065-.0257l.0066 .0262l.0065-.0257l.0065-.0257l.0066-.0256l.0065 .0261l.0065 .0262l.0066 .0261l.0065 .0262l.0065-.0257l.0065 .0261l.0066 .0262l.0065-.0257l.0065 .0261l.0066-.0256l.0065-.0257l.0065-.0256l.0066-.0257l.0065-.0256l.0065 .0261l.0065-.0256l.0066-.0256l.0065-.0256l.0065 .0261l.0066 .0261l.0065-.0256l.0065-.0256l.0066 .0261l.0065-.0256l.0065-.0256l.0065 .0261l.0066-.0256l.0065 .0261l.0065-.0256l.0066 .0261l.0065 .0261l.0065-.0256l.0066 .0261l.0065-.0256l.0065 .0261l.0065-.0256l.0066 .0261l.0065-.0256l.0065 .0261l.0066 .026l.0065 .026l.0065 .026l.0066 .0261l.0065 .026l.0065 .026l.0065-.0256l.0066 .026l.0065-.0255l.0065 .026l.0066-.0256l.0065 .026l.0065-.0255l.0066 .026l.0065 .0259l.0065-.0255l.0065-.0255l.0066 .026l.0065-.0255l.0065-.0255l.0066 .0259l.0065-.0254l.0065-.0255l.0066-.0255l.0065-.0254l.0065-.0255l.0065-.0255l.0066 .026l.0065-.0255l.0065-.0254l.0066-.0254l.0065-.0254l.0065-.0255l.0066-.0254l.0065 .026l.0065 .0259l.0065-.0254l.0066-.0254l.0065-.0254l.0065-.0254l.0066 .0259l.0065 .026l.0065 .0259l.0066-.0254l.0065-.0254l.0065 .0259l.0065-.0253l.0066 .0259l.0065 .0258l.0065 .0259l.0066 .0259l.0065-.0254l.0065 .0259l.0066-.0253l.0065-.0254l.0065-.0253l.0065 .0258l.0066 .0259l.0065-.0253l.0065-.0254l.0066 .0259l.0065 .0258l.0065-.0253l.0066 .0258l.0065-.0253l.0065-.0253l.0065-.0253l.0066-.0253l.0065-.0253l.0065-.0252l.0066-.0253l.0065-.0253l.0065-.0252l.0066 .0258l.0065-.0253l.0065-.0252l.0065-.0252l.0066-.0253l.0065-.0252l.0065-.0252l.0066-.0252l.0065-.0252l.0065-.0252l.0066 .0258l.0065 .0258l.0065-.0252l.0065-.0252l.0066 .0258l.0065 .0258l.0065-.0252l.0066 .0258l.0065-.0251l.0065-.0252l.0066-.0252l.0065-.0251l.0065-.0252l.0065 .0258l.0066-.0251l.0065 .0258l.0065 .0257l.0066-.0251l.0065 .0258l.0065-.0252l.0066-.0251l.0065 .0258l.0065-.0252l.0065-.0251l.0066-.0251l.0065-.0251l.0065 .0258l.0066-.0251l.0065-.0251l.0065-.0251l.0066-.025l.0065 .0257l.0065 .0257l.0065-.025l.0066 .0257l.0065-.025l.0065-.0251l.0066-.025l.0065-.0251l.0065 .0258l.0066 .0257l.0065-.0251l.0065-.025l.0065-.025l.0066-.025l.0065-.025l.0065 .0257l.0066-.025l.0065-.025l.0065-.025l.0066-.025l.0065 .0257l.0065 .0257l.0065-.0249l.0066 .0256l.0065-.0249l.0065-.025l.0066-.0249l.0065-.025l.0065-.0249l.0066-.025l.0065-.0249l.0065-.0249l.0065-.0249l.0066 .0257l.0065-.0249l.0065-.0249l.0066-.0249l.0065 .0256l.0065 .0257l.0066 .0257l.0065 .0256l.0065-.0249l.0065-.0249l.0066 .0257l.0065 .0256l.0065-.0249l.0066 .0257l.0065-.0249l.0065-.0249l.0066-.0248l.0065-.0249l.0065-.0248l.0065-.0248l.0066-.0249l.0065-.0248l.0065 .0256l.0066 .0256l.0065 .0257l.0065 .0256l.0066 .0256l.0065 .0256l.0065-.0249l.0065 .0256l.0066 .0256l.0065-.0248l.0065-.0248l.0066-.0248l.0065 .0256l.0065-.0248l.0066 .0255l.0065-.0248l.0065-.0247l.0065 .0255l.0066 .0256l.0065 .0255l.0065-.0248l.0066-.0247l.0065 .0255l.0065-.0248l.0066-.0247l.0065 .0255l.0065 .0256l.0065 .0255l.0066 .0255l.0065 .0255l.0065 .0255l.0066-.0248l.0065 .0255l.0065-.0247l.0066-.0248l.0065-.0247l.0065-.0247l.0065-.0247l.0066-.0247l.0065 .0254l.0065-.0247l.0066 .0255l.0065 .0255l.0065 .0255l.0066 .0254l.0065-.0247l.0065 .0255l.0065-.0247l.0066 .0254l.0065 .0255l.0065-.0247l.0066-.0247l.0065-.0247l.0065 .0255l.0066-.0247l.0065 .0254l.0065 .0254l.0065-.0246l.0066 .0254l.0065-.0247l.0065-.0246l.0066-.0247l.0065 .0254l.0065-.0246l.0066-.0246l.0065-.0247l.0065-.0246l.0065 .0254l.0066-.0246l.0065-.0246l.0065-.0246l.0066-.0246l.0065 .0254l.0065 .0254l.0066 .0254l.0065 .0253l.0065-.0245l.0065-.0246l.0066-.0246l.0065 .0254l.0065-.0246l.0066 .0253l.0065 .0254l.0065 .0254l.0066-.0246l.0065-.0246l.0065-.0245l.0065 .0253l.0066 .0254l.0065 .0253l.0065-.0246l.0066-.0245l.0065-.0245l.0065-.0246l.0066-.0245l.0065-.0245l.0065 .0253l.0065 .0253l.0066 .0253l.0065-.0245l.0065-.0245l.0066 .0253l.0065-.0245l.0065 .0253l.0066 .0253l.0065-.0245l.0065-.0244l.0065-.0245l.0066 .0253l.0065-.0245l.0065-.0245l.0066 .0253l.0065-.0245l.0065 .0253l.0066-.0244l.0065-.0245l.0065 .0253l.0065-.0245l.0066 .0253l.0065-.0245l.0065 .0253l.0066 .0252l.0065 .0253l.0065 .0252l.0066 .0252l.0065 .0252l.0065-.0244l.0065-.0244l.0066 .0252l.0065-.0244l.0065-.0244l.0066 .0252l.0065-.0244l.0065 .0252l.0066-.0244l.0065-.0244l.0065 .0252l.0065-.0244l.0066-.0244l.0065 .0252l.0065-.0244l.0066-.0243l.0065 .0251l.0065-.0243l.0066-.0244l.0065 .0252l.0065-.0244l.0065-.0243l.0066 .0252l.0065-.0244l.0065-.0243l.0066 .0251l.0065 .0252l.0065 .0251l.0066 .0252l.0065-.0243l.0065-.0244l.0065 .0252l.0066 .0251l.0065 .0251l.0065 .0251l.0066 .0251l.0065 .0251l.0065-.0243l.0066 .0251l.0065-.0243l.0065-.0243l.0065 .0251l.0066 .0251l.0065 .025l.0065-.0243l.0066 .0251l.0065-.0243l.0065 .0251l.0066-.0243l.0065 .0251l.0065 .025l.0065 .025l.0066-.0242l.0065-.0243l.0065-.0243l.0066 .0251l.0065-.0243l.0065-.0242l.0066 .025l.0065-.0243l.0065 .0251l.0065 .025l.0066 .025l.0065-.0242l.0065-.0243l.0066 .025l.0065 .025l.0065-.0242l.0066 .025l.0065-.0242l.0065-.0243l.0065-.0242l.0066 .025l.0065-.0242l.0065-.0242l.0066-.0242l.0065 .025l.0065-.0242l.0066-.0242l.0065 .025l.0065-.0242l.0065 .025l.0066 .0249l.0065 .025l.0065 .0249l.0066 .025l.0065-.0242l.0065 .025l.0066-.0242l.0065 .0249l.0065 .0249l.0065 .025l.0066 .0249l.0065 .0249l.0065 .0249l.0066-.0242l.0065 .0249l.0065 .0249l.0066 .0248l.0065 .0249l.0065-.0241l.0065 .0248l.0066 .0249l.0065-.0242l.0065 .0249l.0066-.0241l.0065 .0248l.0065 .0248l.0066-.0241l.0065 .0248l.0065 .0249l.0065-.0242l.0066-.0241l.0065 .0248l.0065-.0241l.0066 .0248l.0065 .0248l.0065-.0241l.0066 .0248l.0065-.0241l.0065-.0241l.0065-.0241l.0066-.024l.0065-.0241l.0065-.0241l.0066 .0248l.0065 .0248l.0065-.0241l.0066 .0248l.0065-.0241l.0065-.024l.0065 .0248l.0066 .0247l.0065-.024l.0065 .0247l.0066 .0248l.0065-.024l.0065 .0247l.0066-.024l.0065 .0247l.0065-.024l.0065-.0241l.0066 .0248l.0065 .0247l.0065-.024l.0066 .0247l.0065 .0247l.0065 .0248l.0066-.0241l.0065 .0247l.0065 .0248l.0065 .0246l.0066 .0247l.0065 .0247l.0065 .0247l.0066 .0247l.0065-.024l.0065 .0246l.0066 .0247l.0065 .0246l.0065 .0247l.0065 .0246l.0066-.024l.0065-.024l.0065 .0246l.0066-.0239l.0065-.024l.0065-.024l.0066-.024l.0065 .0246l.0065 .0247l.0065 .0246l.0066-.024l.0065 .0246l.0065-.0239l.0066 .0246l.0065-.024l.0065-.024l.0066 .0246l.0065 .0246l.0065 .0246l.0065 .0246l.0066 .0246l.0065 .0245l.0065 .0246l.0066 .0245l.0065-.0239l.0065-.0239l.0066-.024l.0065 .0246l.0065 .0245l.0065-.0239l.0066 .0245l.0065-.0239l.0065 .0245l.0066-.0239l.0065-.0239l.0065-.0239l.0066 .0245l.0065 .0245l.0065 .0245l.0065 .0245l.0066-.0239l.0065 .0245l.0065 .0245l.0066-.0239l.0065 .0245l.0065-.0239l.0066-.0238l.0065-.0239l.0065 .0245l.0065-.0239l.0066 .0245l.0065 .0244l.0065-.0238l.0066-.0239l.0065 .0245l.0065-.0239l.0066 .0245l.0065-.0239l.0065-.0238l.0065 .0244l.0066-.0238l.0065 .0244l.0065 .0245l.0066 .0244l.0065-.0238l.0065-.0238l.0066 .0244l.0065 .0244l.0065 .0244l.0065 .0244l.0066 .0244l.0065-.0238l.0065-.0238l.0066 .0244l.0065-.0238l.0065 .0244l.0066-.0238l.0065 .0244l.0065-.0238l.0065 .0243l.0066 .0244l.0065 .0244l.0065 .0243l.0066 .0244l.0065-.0238l.0065 .0243l.0066 .0244l.0065-.0238l.0065-.0238l.0065 .0244l.0066-.0238l.0065 .0243l.0065-.0238l.0066-.0237l.0065-.0238l.0065 .0243l.0066 .0244l.0065-.0238l.0065-.0237l.0065-.0238l.0066-.0237l.0065 .0243l.0065-.0237l.0066-.0237l.0065 .0243l.0065-.0237l.0066 .0243l.0065 .0242l.0065-.0237l.0065-.0237l.0066-.0237l.0065 .0243l.0065-.0237l.0066 .0243l.0065-.0237l.0065 .0243l.0066 .0243l.0065 .0242l.0065-.0236l.0065-.0237l.0066-.0237l.0065 .0243l.0065 .0242l.0066-.0236l.0065-.0237l.0065-.0237l.0066-.0236l.0065 .0242l.0065-.0236l.0065 .0242l.0066 .0243l.0065-.0237l.0065-.0236l.0066 .0242l.0065-.0236l.0065-.0236l.0066 .0242l.0065-.0236l.0065 .0242l.0065-.0236l.0066-.0236l.0065 .0242l.0065 .0242l.0066 .0242l.0065-.0236l.0065-.0236l.0066 .0242l.0065 .0242l.0065-.0236l.0065 .0242l.0066-.0236l.0065-.0235l.0065-.0236l.0066-.0236l.0065 .0242l.0065 .0242l.0066-.0236l.0065 .0242l.0065-.0236l.0065-.0235l.0066 .0241l.0065-.0235l.0065 .0242l.0066-.0236l.0065-.0235l.0065 .0241l.0066 .0242l.0065 .0241l.0065 .0241l.0065 .0241l.0066 .0242l.0065-.0236l.0065 .0241l.0066 .0241l.0065-.0235l.0065 .0241l.0066-.0235l.0065-.0235l.0065 .0241l.0065-.0235l.0066 .0241l.0065 .0241l.0065 .024l.0066 .0241l.0065 .024l.0065-.0234l.0066 .024l.0065-.0235l.0065-.0235l.0065 .0241l.0066 .024l.0065 .0241l.0065-.0235l.0066 .024l.0065-.0235l.0065 .0241l.0066-.0235l.0065 .024l.0065 .024l.0065 .024l.0066 .024l.0065-.0234l.0065-.0235l.0066 .024l.0065-.0234l.0065 .024l.0066-.0235l.0065 .024l.0065-.0234l.0065-.0235l.0066-.0234l.0065 .024l.0065-.0234l.0066-.0234l.0065 .0239l.0065-.0234l.0066 .024l.0065 .0239l.0065 .024l.0065 .0239l.0066 .024l.0065-.0234l.0065 .0239l.0066-.0234l.0065-.0234l.0065-.0234l.0066 .024l.0065 .0239l.0065 .0239l.0065-.0234l.0066-.0233l.0065 .0239l.0065 .0239l.0066 .0239l.0065 .0239l.0065-.0234l.0066-.0234l.0065 .0239l.0065 .0239l.0065-.0233l.0066 .0238l.0065 .0239l.0065-.0234l.0066-.0233l.0065 .0239l.0065 .0238l.0066-.0233l.0065 .0238l.0065-.0233l.0065 .0239l.0066 .0238l.0065 .0238l.0065 .0239l.0066 .0238l.0065 .0238l.0065-.0233l.0066 .0238l.0065-.0233l.0065 .0238l.0065-.0234l.0066-.0233l.0065 .0238l.0065-.0233l.0066 .0238l.0065 .0238l.0065-.0233l.0066 .0238l.0065-.0233l.0065 .0238l.0065 .0238l.0066-.0233l.0065-.0233l.0065-.0233l.0066-.0233l.0065-.0232l.0065 .0237l.0066 .0238l.0065 .0237l.0065-.0232l.0065-.0233l.0066-.0232l.0065-.0233l.0065-.0232l.0066-.0233l.0065-.0232l.0065 .0238l.0066 .0237l.0065 .0237l.0065-.0232l.0065-.0232l.0066-.0232l.0065-.0232l.0065 .0237l.0066-.0232l.0065 .0237l.0065-.0232l.0066-.0232l.0065-.0231l.0065-.0232l.0065-.0232l.0066 .0237l.0065-.0231l.0065-.0232l.0066 .0237l.0065-.0231l.0065 .0237l.0066 .0237l.0065-.0232l.0065-.0231l.0065-.0232l.0066-.0231l.0065-.0231l.0065 .0237l.0066 .0236l.0065 .0237l.0065-.0231l.0066 .0237l.0065-.0231l.0065 .0236l.0065 .0237l.0066-.0231l.0065 .0237l.0065-.0232l.0066 .0237l.0065 .0237l.0065-.0232l.0066-.023l.0065-.0231l.0065 .0236l.0065 .0236l.0066-.023l.0065 .0236l.0065-.0231l.0066 .0236l.0065 .0237l.0065 .0236l.0066-.0231l.0065 .0236l.0065 .0236l.0065 .0236l.0066 .0236l.0065-.0231l.0065 .0236l.0066-.023l.0065-.0231l.0065-.023l.0066 .0235l.0065 .0236l.0065 .0236l.0065 .0235l.0066-.023l.0065 .0236l.0065 .0235l.0066-.023l.0065 .0235l.0065-.023l.0066-.0231l.0065 .0236l.0065 .0235l.0065-.023l.0066-.023l.0065-.023l.0065 .0235l.0066 .0235l.0065-.023l.0065-.023l.0066-.023l.0065-.023l.0065-.023l.0065 .0235l.0066-.0229l.0065-.023l.0065 .0235l.0066 .0235l.0065 .0235l.0065-.023l.0066 .0235l.0065-.0229l.0065-.023l.0065-.023l.0066 .0235l.0065-.0229l.0065-.023l.0066-.0229l.0065-.0229l.0065 .0234l.0066 .0235l.0065-.0229l.0065-.0229l.0065-.0229l.0066 .0234l.0065-.0229l.0065-.0229l.0066-.0229l.0065 .0235l.0065 .0234l.0066 .0235l.0065 .0235l.0065 .0234l.0065-.0229l.0066 .0234l.0065-.0229l.0065 .0235l.0066-.0229l.0065 .0234l.0065 .0235l.0066 .0234l.0065 .0234l.0065 .0234l.0065 .0234l.0066-.0229l.0065-.0229l.0065 .0234l.0066 .0234l.0065 .0234l.0065-.0229l.0066 .0234l.0065-.0228l.0065 .0233l.0065 .0234l.0066-.0229l.0065-.0228l.0065-.0229l.0066 .0234l.0065-.0229l.0065 .0234l.0066-.0228l.0065-.0229l.0065-.0228l.0065-.0228l.0066-.0228l.0065-.0228l.0065 .0233l.0066-.0228l.0065 .0233l.0065 .0234l.0066 .0233l.0065 .0233l.0065-.0228l.0065-.0227l.0066-.0228l.0065 .0233l.0065-.0228l.0066-.0228l.0065 .0233l.0065-.0227l.0066-.0228l.0065 .0233l.0065-.0228l.0065-.0227l.0066 .0233l.0065 .0233l.0065-.0228l.0066-.0227l.0065-.0228l.0065 .0233l.0066-.0227l.0065-.0227l.0065 .0233l.0065 .0232l.0066 .0233l.0065-.0227l.0065-.0227l.0066 .0233l.0065 .0232l.0065-.0227l.0066 .0233l.0065 .0232l.0065 .0233l.0065 .0232l.0066-.0227l.0065 .0232l.0065 .0233l.0066-.0227l.0065 .0232l.0065 .0232l.0066 .0232l.0065 .0233l.0065 .0232l.0065 .0232l.0066 .0232l.0065-.0227l.0065 .0232l.0066 .0231l.0065 .0232l.0065-.0227l.0066-.0227l.0065 .0232l.0065 .0232l.0065 .0231l.0066 .0232l.0065-.0227l.0065-.0227l.0066 .0232l.0065-.0227l.0065-.0227l.0066 .0232l.0065 .0231l.0065 .0232l.0065 .0231l.0066-.0227l.0065 .0232l.0065-.0227l.0066-.0226l.0065-.0227l.0065-.0226l.0066-.0227l.0065-.0226l.0065 .0231l.0065 .0231l.0066 .0231l.0065-.0226l.0065-.0226l.0066 .0231l.0065-.0226l.0065-.0226l.0066 .0231l.0065 .023l.0065-.0226l.0065 .0231l.0066 .0231l.0065 .0231l.0065-.0226l.0066-.0226l.0065-.0226l.0065 .0231l.0066-.0226l.0065 .023l.0065-.0225l.0065-.0226l.0066 .0231l.0065 .023l.0065-.0226l.0066 .0231l.0065 .023l.0065 .0231l.0066 .023l.0065-.0226l.0065-.0225l.0065-.0226l.0066-.0225l.0065-.0226l.0065 .0231l.0066 .023l.0065 .023l.0065 .023l.0066-.0225l.0065 .023l.0065 .023l.0065 .023l.0066-.0226l.0065 .023l.0065-.0225l.0066 .023l.0065-.0225l.0065 .0229l.0066 .023l.0065 .023l.0065 .0229l.0065 .023l.0066-.0225l.0065-.0225l.0065-.0225l.0066 .0229l.0065 .023l.0065 .0229l.0066 .0229l.0065 .023l.0065 .0229l.0065 .0229l.0066 .0229l.0065-.0225l.0065-.0225l.0066 .0229l.0065-.0225l.0065-.0224l.0066 .0229l.0065 .0229l.0065-.0225l.0065 .0229l.0066 .0229l.0065-.0225l.0065-.0225l.0066 .0229l.0065 .0229l.0065-.0225l.0066 .0229l.0065 .0228l.0065 .0229l.0065 .0228l.0066-.0224l.0065 .0228l.0065-.0224l.0066 .0228l.0065 .0229l.0065 .0228l.0066 .0228l.0065 .0229l.0065-.0225l.0065-.0224l.0066-.0225l.0065 .0228l.0065-.0224l.0066-.0224l.0065 .0228l.0065 .0228l.0066-.0224l.0065-.0225l.0065 .0228l.0065 .0228l.0066 .0228l.0065 .0228l.0065 .0228l.0066-.0224l.0065-.0224l.0065-.0224l.0066 .0227l.0065 .0228l.0065 .0228l.0065-.0224l.0066-.0224l.0065 .0227l.0065-.0223l.0066 .0227l.0065 .0228l.0065 .0227l.0066-.0224l.0065-.0224l.0065 .0228l.0065-.0224l.0066-.0224l.0065 .0228l.0065 .0227l.0066-.0224l.0065 .0228l.0065 .0227l.0066-.0224l.0065 .0227l.0065 .0227l.0065 .0227l.0066 .0227l.0065 .0227l.0065 .0227l.0066 .0227l.0065 .0227l.0065-.0224l.0066-.0223l.0065-.0224l.0065 .0227l.0065 .0227l.0066 .0226l.0065 .0227l.0065-.0224l.0066-.0223l.0065-.0223l.0065 .0226l.0066 .0227l.0065-.0224l.0065-.0223l.0065 .0227l.0066 .0226l.0065 .0226l.0065 .0226l.0066 .0227l.0065 .0226l.0065 .0226l.0066 .0226l.0065 .0226l.0065-.0223l.0065 .0226l.0066-.0223l.0065 .0225l.0065 .0226l.0066 .0226l.0065-.0223l.0065 .0226l.0066-.0223l.0065-.0223l.0065 .0225l.0065 .0226l.0066 .0226l.0065-.0223l.0065-.0223l.0066 .0225l.0065 .0226l.0065-.0223l.0066 .0225l.0065-.0222l.0065 .0225l.0065 .0225l.0066-.0222l.0065 .0225l.0065 .0225l.0066 .0225l.0065 .0225l.0065 .0225l.0066 .0225l.0065-.0222l.0065-.0223l.0065-.0222l.0066 .0225l.0065-.0223l.0065-.0222l.0066 .0225l.0065 .0224l.0065 .0225l.0066-.0222l.0065 .0225l.0065-.0223l.0065-.0222l.0066 .0225l.0065-.0223l.0065-.0222l.0066 .0225l.0065 .0224l.0065 .0225l.0066 .0224l.0065-.0222l.0065 .0225l.0065-.0222l.0066 .0224l.0065-.0222l.0065-.0222l.0066 .0224l.0065 .0225l.0065-.0222l.0066 .0224l.0065-.0222l.0065 .0224l.0065 .0224l.0066 .0224l.0065-.0221l.0065-.0222l.0066 .0224l.0065 .0224l.0065 .0224l.0066-.0222l.0065-.0222l.0065 .0224l.0065-.0221l.0066 .0223l.0065-.0221l.0065-.0222l.0066 .0224l.0065 .0224l.0065 .0223l.0066-.0221l.0065 .0223l.0065-.0221l.0065-.0221l.0066-.0222l.0065 .0224l.0065-.0221l.0066 .0223l.0065 .0224l.0065-.0222l.0066-.0221l.0065-.0221l.0065-.0221l.0065 .0223l.0066 .0224l.0065-.0221l.0065-.0221l.0066 .0223l.0065-.0221l.0065-.0221l.0066 .0223l.0065-.022l.0065 .0223l.0065-.0221l.0066-.0221l.0065 .0223l.0065 .0224l.0066 .0223l.0065 .0223l.0065-.0221l.0066-.0221l.0065-.022l.0065-.0221l.0065 .0223l.0066-.022l.0065-.0221l.0065 .0223l.0066 .0223l.0065 .0223l.0065-.0221l.0066 .0223l.0065 .0223l.0065-.0221l.0065 .0223l.0066-.022l.0065-.022l.0065 .0222l.0066-.022l.0065 .0223l.0065 .0222l.0066-.022l.0065-.022l.0065-.022l.0065-.022l.0066-.022l.0065-.022l.0065-.022l.0066 .0223l.0065-.022l.0065-.022l.0066-.022l.0065-.0219l.0065 .0222l.0065-.0219l.0066 .0222l.0065-.022l.0065 .0223l.0066 .0222l.0065 .0222l.0065 .0222l.0066-.0219l.0065-.022l.0065-.0219l.0065 .0222l.0066 .0222l.0065 .0222l.0065 .0222l.0066 .0222l.0065 .0222l.0065-.022l.0066 .0222l.0065 .0222l.0065-.022l.0065-.0219l.0066 .0222l.0065-.0219l.0065 .0221l.0066 .0222l.0065-.0219l.0065-.0219l.0066-.0219l.0065-.0219l.0065-.0219l.0065 .0221l.0066 .0222l.0065 .0221l.0065 .0221l.0066-.0218l.0065-.0219l.0065 .0221l.0066 .0221l.0065-.0218l.0065-.0219l.0065-.0219l.0066-.0219l.0065 .0222l.0065-.0219l.0066 .0221l.0065 .0221l.0065-.0218l.0066-.0219l.0065 .0221l.0065-.0218l.0065 .0221l.0066-.0218l.0065-.0219l.0065-.0218l.0066-.0218l.0065-.0219l.0065 .0221l.0066-.0218l.0065 .0221l.0065-.0218l.0065-.0218l.0066-.0218l.0065-.0218l.0065 .0221l.0066 .0221l.0065 .022l.0065 .0221l.0066-.0218l.0065-.0218l.0065-.0217l.0065 .022l.0066-.0218l.0065-.0217l.0065-.0218l.0066-.0218l.0065-.0217l.0065-.0218l.0066 .0221l.0065-.0217l.0065 .022l.0065-.0217l.0066 .022l.0065-.0217l.0065-.0218l.0066 .0221l.0065-.0217l.0065 .022l.0066-.0217l.0065-.0217l.0065 .022l.0065-.0217l.0066 .022l.0065 .022l.0065-.0217l.0066-.0217l.0065-.0217l.0065 .0221l.0066-.0217l.0065 .022l.0065 .022l.0065 .022l.0066-.0217l.0065 .022l.0065-.0217l.0066-.0217l.0065 .022l.0065 .022l.0066-.0216l.0065 .0219l.0065-.0216l.0065 .022l.0066 .0219l.0065-.0216l.0065-.0217l.0066-.0216l.0065 .0219l.0065-.0216l.0066 .0219l.0065 .022l.0065 .022l.0065 .0219l.0066-.0216l.0065 .0219l.0065-.0216l.0066 .0219l.0065 .022l.0065-.0217l.0066-.0216l.0065 .0219l.0065 .0219l.0065 .022l.0066-.0217l.0065-.0216l.0065 .0219l.0066-.0216l.0065-.0216l.0065 .0219l.0066 .0219l.0065-.0216l.0065 .0219l.0065-.0216l.0066-.0216l.0065 .0219l.0065 .0219l.0066 .0219l.0065-.0216l.0065 .0219l.0066-.0216l.0065 .0219l.0065-.0216l.0065 .0219l.0066 .0218l.0065 .0219l.0065 .0219l.0066 .0218l.0065 .0219l.0065 .0218l.0066-.0216l.0065-.0215l.0065-.0216l.0065-.0216l.0066 .0219l.0065 .0218l.0065 .0218l.0066 .0219l.0065 .0218l.0065-.0216l.0066-.0215l.0065-.0216l.0065-.0215l.0065-.0216l.0066 .0218l.0065 .0219l.0065 .0218l.0066 .0218l.0065 .0218l.0065-.0216l.0066-.0215l.0065-.0215l.0065-.0216l.0065-.0215l.0066 .0218l.0065 .0218l.0065 .0218l.0066 .0218l.0065-.0216l.0065 .0218l.0066-.0215l.0065 .0218l.0065-.0215l.0065-.0215l.0066-.0215l.0065-.0215l.0065 .0217l.0066 .0218l.0065-.0215l.0065 .0218l.0066-.0215l.0065 .0217l.0065 .0218l.0065 .0217l.0066 .0218l.0065 .0217l.0065 .0217l.0066-.0215l.0065 .0218l.0065 .0217l.0066-.0215l.0065 .0217l.0065-.0215l.0065-.0214l.0066 .0217l.0065 .0217l.0065 .0217l.0066 .0217l.0065-.0215l.0065-.0214l.0066-.0215l.0065-.0214l.0065-.0215l.0065-.0214l.0066 .0217l.0065-.0214l.0065 .0216l.0066-.0214l.0065-.0214l.0065-.0214l.0066-.0214l.0065-.0214l.0065 .0216l.0065-.0214l.0066 .0217l.0065-.0214l.0065 .0217l.0066 .0216l.0065-.0214l.0065 .0217l.0066 .0217l.0065 .0216l.0065-.0214l.0065-.0214l.0066-.0213l.0065-.0214l.0065-.0214l.0066-.0213l.0065-.0214l.0065-.0214l.0066-.0213l.0065 .0216l.0065 .0217l.0065-.0214l.0066-.0213l.0065 .0216l.0065-.0213l.0066 .0216l.0065-.0213l.0065 .0216l.0066-.0213l.0065 .0216l.0065 .0216l.0065-.0213l.0066-.0213l.0065-.0213l.0065-.0213l.0066-.0213l.0065-.0213l.0065 .0216l.0066-.0213l.0065-.0213l.0065-.0213l.0065-.0213l.0066-.0213l.0065-.0212l.0065 .0216l.0066-.0213l.0065-.0212l.0065-.0213l.0066-.0212l.0065-.0213l.0065-.0212l.0065-.0213l.0066 .0216l.0065 .0216l.0065 .0216l.0066 .0216l.0065-.0212l.0065 .0215l.0066-.0212l.0065-.0212l.0065-.0212l.0065-.0212l.0066 .0215l.0065 .0216l.0065-.0212l.0066-.0212l.0065-.0212l.0065-.0212l.0066 .0216l.0065 .0215l.0065-.0212l.0065-.0212l.0066 .0216l.0065 .0215l.0065-.0211l.0066 .0215l.0065 .0215l.0065-.0211l.0066-.0212l.0065 .0215l.0065-.0211l.0065-.0212l.0066 .0215l.0065-.0211l.0065-.0212l.0066-.0211l.0065 .0215l.0065-.0211l.0066 .0215l.0065-.0212l.0065 .0216l.0065-.0212l.0066-.0211l.0065-.0211l.0065 .0215l.0066-.0211l.0065 .0215l.0065-.0212l.0066 .0215l.0065 .0215l.0065 .0215l.0065 .0215l.0066-.0211l.0065 .0215l.0065-.0211l.0066-.0211l.0065-.0211l.0065-.0211l.0066 .0215l.0065 .0214l.0065-.021l.0065-.0211l.0066-.0211l.0065-.0211l.0065 .0215l.0066-.0211l.0065-.0211l.0065-.021l.0066 .0214l.0065-.021l.0065-.0211l.0065-.021l.0066-.0211l.0065-.021l.0065 .0215l.0066-.0211l.0065 .0215l.0065 .0214l.0066 .0215l.0065 .0214l.0065 .0215l.0065 .0214l.0066 .0214l.0065-.021l.0065 .0214l.0066-.021l.0065 .0214l.0065 .0214l.0066-.021l.0065-.021l.0065-.021l.0065 .0214l.0066-.021l.0065-.021l.0065-.021l.0066-.021l.0065-.021l.0065 .0214l.0066 .0214l.0065-.021l.0065 .0214l.0065 .0214l.0066-.021l.0065 .0214l.0065-.021l.0066-.021l.0065-.0209l.0065-.021l.0066-.021l.0065-.0209l.0065 .0214l.0065-.021l.0066-.0209l.0065-.021l.0065-.0209l.0066 .0214l.0065 .0213l.0065-.0209l.0066 .0214l.0065-.021l.0065 .0214l.0065 .0214l.0066-.021l.0065-.0209l.0065 .0214l.0066 .0213l.0065-.0209l.0065 .0214l.0066 .0213l.0065 .0213l.0065 .0214l.0065-.021l.0066 .0214l.0065-.0209l.0065-.0209l.0066-.0209l.0065 .0213l.0065 .0213l.0066-.0209l.0065 .0213l.0065 .0213l.0065-.0209l.0066 .0213l.0065-.0208l.0065-.0209l.0066 .0213l.0065 .0213l.0065-.0209l.0066 .0213l.0065 .0213l.0065-.0209l.0065 .0213l.0066-.0209l.0065 .0213l.0065 .0213l.0066 .0212l.0065 .0213l.0065 .0212l.0066-.0208l.0065 .0212l.0065 .0213l.0065 .0212l.0066-.0208l.0065 .0212l.0065 .0212l.0066 .0213l.0065 .0212l.0065 .0212l.0066 .0212l.0065-.0208l.0065-.0209l.0065-.0208l.0066 .0212l.0065-.0209l.0065 .0212l.0066 .0212l.0065-.0208l.0065-.0208l.0066 .0212l.0065-.0209l.0065 .0212l.0065-.0208l.0066-.0208l.0065-.0208l.0065 .0212l.0066-.0208l.0065-.0208l.0065 .0211l.0066 .0212l.0065-.0208l.0065 .0212l.0065 .0212l.0066 .0211l.0065 .0212l.0065 .0211l.0066-.0208l.0065 .0212l.0065-.0208l.0066 .0212l.0065-.0208l.0065 .0211l.0065 .0211l.0066 .0212l.0065 .0211l.0065 .0211l.0066-.0208l.0065 .0212l.0065 .0211l.0066 .0211l.0065 .0211l.0065-.0208l.0065 .0211l.0066 .0211l.0065 .0211l.0065-.0208l.0066 .0211l.0065 .0211l.0065-.0208l.0066 .0211l.0065-.0208l.0065 .0211l.0065 .0211l.0066-.0208l.0065 .0211l.0065 .021l.0066-.0207l.0065 .021l.0065 .0211l.0066 .021l.0065-.0207l.0065-.0208l.0065 .0211l.0066-.0208l.0065 .0211l.0065 .021l.0066 .021l.0065-.0207l.0065-.0207l.0066 .021l.0065-.0207l.0065-.0208l.0065-.0207l.0066 .021l.0065 .021l.0065-.0207l.0066-.0207l.0065-.0207l.0065 .021l.0066 .021l.0065-.0207l.0065-.0207l.0065 .021l.0066 .021l.0065-.0207l.0065 .021l.0066 .021l.0065 .021l.0065 .021l.0066-.0207l.0065-.0207l.0065 .021l.0065-.0207l.0066 .021l.0065 .0209l.0065-.0207l.0066 .021l.0065 .021l.0065-.0207l.0066 .0209l.0065 .021l.0065 .0209l.0065 .021l.0066 .0209l.0065 .0209l.0065 .0209l.0066 .021l.0065 .0209l.0065-.0207l.0066-.0206l.0065 .0209l.0065-.0207l.0065-.0207l.0066 .021l.0065 .0209l.0065-.0207l.0066 .0209l.0065 .0209l.0065-.0206l.0066-.0207l.0065 .0209l.0065 .0209l.0065-.0207l.0066 .0209l.0065 .0209l.0065-.0206l.0066 .0208l.0065-.0206l.0065 .0209l.0066-.0206l.0065-.0207l.0065 .0209l.0065 .0209l.0066 .0208l.0065 .0209l.0065 .0208l.0066-.0206l.0065-.0206l.0065-.0206l.0066-.0206l.0065-.0206l.0065-.0206l.0065-.0206l.0066-.0206l.0065-.0206l.0065-.0206l.0066-.0205l.0065 .0208l.0065 .0208l.0066-.0205l.0065-.0206l.0065 .0208l.0065-.0205l.0066 .0208l.0065-.0205l.0065-.0206l.0066-.0205l.0065 .0208l.0065-.0206l.0066-.0205l.0065 .0208l.0065-.0205l.0065 .0208l.0066 .0208l.0065 .0208l.0065-.0205l.0066 .0208l.0065 .0208l.0065-.0205l.0066-.0206l.0065 .0208l.0065-.0205l.0065-.0205l.0066 .0208l.0065-.0205l.0065-.0205l.0066 .0208l.0065 .0207l.0065 .0208l.0066 .0208l.0065 .0207l.0065-.0205l.0065-.0205l.0066 .0208l.0065 .0208l.0065 .0207l.0066-.0205l.0065-.0205l.0065-.0204l.0066 .0207l.0065-.0205l.0065-.0205l.0065-.0204l.0066-.0205l.0065 .0208l.0065 .0207l.0066 .0207l.0065 .0208l.0065 .0207l.0066 .0207l.0065-.0205l.0065-.0204l.0065-.0205l.0066 .0208l.0065 .0207l.0065 .0207l.0066-.0205l.0065 .0207l.0065-.0204l.0066 .0207l.0065-.0205l.0065 .0207l.0065 .0207l.0066-.0204l.0065 .0207l.0065-.0205l.0066 .0207l.0065 .0207l.0065-.0204l.0066-.0204l.0065 .0206l.0065-.0204l.0065-.0204l.0066 .0207l.0065 .0206l.0065 .0207l.0066-.0204l.0065 .0206l.0065-.0204l.0066 .0207l.0065-.0204l.0065-.0204l.0065 .0206l.0066 .0207l.0065 .0206l.0065 .0206l.0066 .0207l.0065 .0206l.0065 .0206l.0066 .0206l.0065-.0204l.0065 .0206l.0065-.0203l.0066 .0206l.0065-.0204l.0065 .0206l.0066 .0206l.0065 .0206l.0065-.0204l.0066-.0204l.0065-.0203l.0065 .0205l.0065-.0203l.0066-.0204l.0065 .0206l.0065-.0204l.0066 .0206l.0065 .0206l.0065-.0204l.0066-.0203l.0065 .0206l.0065-.0204l.0065-.0203l.0066-.0204l.0065 .0206l.0065 .0206l.0066 .0205l.0065-.0203l.0065 .0206l.0066 .0205l.0065-.0203l.0065 .0205l.0065 .0206l.0066 .0205l.0065 .0205l.0065 .0206l.0066 .0205l.0065 .0205l.0065-.0203l.0066 .0205l.0065 .0205l.0065-.0203l.0065 .0205l.0066 .0205l.0065 .0205l.0065-.0203l.0066 .0205l.0065-.0203l.0065-.0203l.0066 .0205l.0065-.0204l.0065 .0205l.0065-.0203l.0066-.0203l.0065-.0202l.0065-.0203l.0066-.0203l.0065 .0205l.0065-.0203l.0066-.0203l.0065 .0205l.0065 .0205l.0065-.0203l.0066-.0203l.0065 .0205l.0065-.0203l.0066 .0205l.0065 .0205l.0065 .0204l.0066 .0205l.0065 .0204l.0065 .0205l.0065-.0203l.0066-.0202l.0065 .0204l.0065-.0203l.0066 .0205l.0065-.0203l.0065 .0205l.0066 .0204l.0065 .0204l.0065-.0202l.0065 .0204l.0066 .0204l.0065 .0204l.0065-.0202l.0066-.0203l.0065-.0202l.0065 .0204l.0066 .0204l.0065-.0202l.0065 .0204l.0065 .0204l.0066 .0204l.0065 .0204l.0065 .0203l.0066-.0202l.0065-.0202l.0065 .0204l.0066 .0203l.0065-.0202l.0065-.0202l.0065 .0204l.0066 .0204l.0065 .0203l.0065-.0202l.0066-.0202l.0065 .0204l.0065 .0203l.0066-.0202l.0065-.0202l.0065 .0204l.0065-.0202l.0066-.0202l.0065 .0204l.0065 .0203l.0066-.0202l.0065-.0202l.0065 .0204l.0066-.0202l.0065 .0203l.0065-.0201l.0065-.0202l.0066 .0203l.0065 .0204l.0065-.0202l.0066-.0202l.0065-.0201l.0065-.0201l.0066 .0203l.0065 .0203l.0065 .0203l.0065-.0202l.0066 .0203l.0065 .0203l.0065-.0201l.0066 .0203l.0065-.0201l.0065-.0202l.0066-.0201l.0065-.0201l.0065-.0201l.0065 .0203l.0066 .0203l.0065-.0201l.0065 .0202l.0066 .0203l.0065 .0203l.0065-.0201l.0066 .0203l.0065-.0202l.0065-.02l.0065-.0201l.0066 .0202l.0065 .0203l.0065-.0201l.0066-.0201l.0065-.0201l.0065-.0201l.0066-.02l.0065-.0201l.0065-.0201l.0065 .0203l.0066-.0201l.0065-.02l.0065 .0202l.0066 .0203l.0065 .0202l.0065-.02l.0066 .0202l.0065 .0202l.0065 .0203l.0065 .0202l.0066 .0202l.0065-.02l.0065-.0201l.0066-.02l.0065 .0202l.0065-.02l.0066 .0202l.0065 .0202l.0065-.02l.0065-.0201l.0066 .0202l.0065 .0202l.0065 .0202l.0066 .0202l.0065 .0202l.0065-.02l.0066 .0202l.0065 .0202l.0065 .0201l.0065 .0202l.0066 .0202l.0065-.02l.0065 .0201l.0066 .0202l.0065 .0202l.0065-.0201l.0066-.02l.0065-.02l.0065 .0202l.0065-.02l.0066 .0201l.0065 .0202l.0065 .0201l.0066-.02l.0065-.02l.0065 .0201l.0066-.02l.0065-.0199l.0065-.02l.0065-.02l.0066 .0201l.0065-.0199l.0065 .0201l.0066-.02l.0065-.02l.0065-.0199l.0066 .0201l.0065 .0201l.0065-.0199l.0065-.02l.0066 .0201l.0065 .0201l.0065 .0201l.0066-.0199l.0065 .0201l.0065-.02l.0066 .0201l.0065 .0201l.0065 .0201l.0065 .0201l.0066 .0201l.0065 .0201l.0065-.02l.0066-.0199l.0065-.0199l.0065-.02l.0066 .0201l.0065 .0201l.0065 .02l.0065-.0199l.0066-.0199l.0065 .02l.0065-.0199l.0066 .0201l.0065 .02l.0065-.0199l.0066-.0199l.0065-.0199l.0065-.0199l.0065-.0199l.0066 .0201l.0065-.0199l.0065 .02l.0066-.0199l.0065 .0201l.0065-.0199l.0066 .02l.0065-.0199l.0065-.0198l.0065-.0199l.0066 .02l.0065-.0199l.0065-.0198l.0066-.0199l.0065-.0198l.0065-.0199l.0066-.0198l.0065-.0199l.0065 .02l.0065-.0198l.0066 .02l.0065 .02l.0065 .0201l.0066 .02l.0065-.0199l.0065-.0198l.0066 .02l.0065 .02l.0065-.0198l.0065 .02l.0066 .02l.0065 .02l.0065 .02l.0066-.0199l.0065-.0198l.0065 .02l.0066 .02l.0065-.0198l.0065 .0199l.0065 .02l.0066 .02l.0065-.0198l.0065 .0199l.0066 .02l.0065 .0199l.0065-.0198l.0066 .02l.0065-.0198l.0065-.0198l.0065-.0198l.0066-.0198l.0065-.0198l.0065-.0198l.0066 .0199l.0065-.0197l.0065-.0198l.0066-.0198l.0065-.0198l.0065 .02l.0065 .0199l.0066-.0197l.0065 .0199l.0065-.0198l.0066 .02l.0065-.0198l.0065 .0199l.0066-.0197l.0065-.0198l.0065-.0197l.0065 .0199l.0066 .0199l.0065-.0197l.0065-.0198l.0066-.0197l.0065-.0197l.0065-.0197l.0066 .0199l.0065-.0197l.0065-.0198l.0065-.0197l.0066-.0197l.0065 .0199l.0065 .0199l.0066 .0199l.0065 .0199l.0065 .0199l.0066 .0199l.0065 .0199l.0065-.0197l.0065 .0199l.0066-.0197l.0065 .0199l.0065 .0198l.0066-.0197l.0065-.0197l.0065 .0199l.0066 .0199l.0065-.0197l.0065-.0197l.0065-.0197l.0066-.0197l.0065-.0196l.0065-.0197l.0066 .0199l.0065 .0198l.0065 .0199l.0066-.0197l.0065-.0197l.0065-.0196l.0065-.0197l.0066-.0196l.0065 .0198l.0065 .0199l.0066-.0197l.0065-.0196l.0065-.0197l.0066-.0196l.0065-.0196l.0065 .0198l.0065 .0199l.0066-.0197l.0065-.0196l.0065-.0196l.0066 .0198l.0065-.0196l.0065 .0198l.0066 .0199l.0065 .0198l.0065-.0196l.0065 .0198l.0066 .0198l.0065 .0198l.0065-.0196l.0066 .0198l.0065-.0196l.0065-.0196l.0066-.0196l.0065 .0198l.0065-.0196l.0065-.0196l.0066-.0195l.0065 .0198l.0065-.0196l.0066 .0198l.0065 .0198l.0065 .0197l.0066-.0195l.0065-.0196l.0065 .0198l.0065 .0198l.0066 .0197l.0065-.0195l.0065 .0197l.0066 .0198l.0065 .0198l.0065 .0197l.0066-.0195l.0065-.0196l.0065-.0196l.0065-.0195l.0066 .0197l.0065 .0198l.0065-.0196l.0066-.0195l.0065 .0197l.0065-.0195l.0066 .0197l.0065 .0198l.0065-.0196l.0065-.0195l.0066 .0197l.0065 .0198l.0065-.0196l.0066-.0195l.0065 .0197l.0065-.0195l.0066 .0197l.0065-.0195l.0065-.0195l.0065 .0197l.0066-.0195l.0065 .0197l.0065-.0195l.0066-.0195l.0065 .0197l.0065 .0197l.0066 .0198l.0065 .0196l.0065-.0194l.0065 .0196l.0066 .0197l.0065 .0197l.0065-.0195l.0066-.0195l.0065-.0194l.0065-.0195l.0066 .0197l.0065-.0195l.0065 .0197l.0065-.0195l.0066-.0195l.0065-.0195l.0065-.0194l.0066 .0197l.0065 .0196l.0065 .0197l.0066-.0195l.0065-.0194l.0065-.0195l.0065-.0194l.0066 .0196l.0065-.0194l.0653 .0252l.0653-.1923l.0653 .1959l.0653-.1997l.0653 .1888l.0653-.2003l.0653 .1859l.0653-.2026l.0653 .1835l.0653-.2002l.0653 .1899l.0653-.1959l.0653 .1915l.0653-.1935l.0653 .1918l.0653-.1942l.0653 .1934l.0653-.1893l.0653 .1982l.0653-.1821l.0653 .2024l.0653-.1794l.0653 .1987l.0653-.1868l.0653 .1952l.0653-.1886l.0653 .1903l.0653-.1904l.0653 .189l.0653-.1913l.0653 .1909l.0653-.1882l.0653 .1903l.0653-.185l.0653 .1933l.0653-.1842l.0653 .198l.0653-.1757l.0653 .2033l.0653-.1761l.0653 .198l.0653-.1783l.0653 .1947l.0653-.1819l.0653 .1932l.0653-.1847l.0653 .1892l.0653-.1883l.0653 .1858l.0653-.1905l.0653 .1803l.0653-.191l.0653 .1837l.0653-.1847l.0653 .1867l.0653-.1825l.0653 .1903l.0653-.1811l.0653 .1902l.0653-.1784l.0653 .1888l.0653-.1798l.0653 .1898l.0653-.1779l.0653 .1897l.0653-.1778l.0653 .1837l.0653-.1845l.0653 .1809l.0653-.1841l.0653 .1821l.0653-.1802l.0653 .1884l.0653-.173l.0653 .1909l.0653-.1699l.0653 .191l.0653-.1723l.0653 .1871l.0653-.1759l.0653 .1867l.0653-.1762l.0653 .1839l.0653-.1736l.0653 .1887l.0653-.1683l.0653 .1925l.0653-.1655l.0653 .1941l.0653-.1668l.0653 .1917l.0653-.1686l.0653 .1904l.0653-.1638l.0653 .1955l.0653-.1623l.0653 .1955l.0653-.1617l.0653 .1945l.0653-.1613l.0653 .1922l.0653-.1684l.0653 .1842l.0653-.1722l.0653 .1797l.0653-.1727l.0653 .1831l.0653-.1691l.0653 .1856l.0653-.1671l.0653 .187l.0653-.1645l.0653 .1861l.0653-.1683l.0653 .1801l.0653-.1727l.0653 .1766l.0653-.1734l.0653 .1747l.0653-.1763l.0653 .17l.0653-.1755l.0653 .1728l.0653-.1775l.0653 .1687l.0653-.1808l.0653 .1673l.0653-.1805l.0653 .1669l.0653-.1775l.0653 .1697l.0653-.1731l.0653 .1747l.0653-.171l.0653 .1761l.0653-.1705l.0653 .1712l.0653-.1725l.0653 .1687l.0653-.1725l.0653 .1726l.0653-.1688l.0653 .1756l.0653-.1687l.0653 .1722l.0653-.1706l.0653 .1708l.0653-.1691l.0653 .1722l.0653-.1645l.0653 .1779l.0653-.1647l.0653 .1737l.0653-.1667l.0653 .1721l.0653-.1649l.0653 .1751l.0653-.1597l.0653 .1794l.0653-.157l.0653 .1817l.0653-.1541l.0653 .1791l.0653-.1554l.0653 .1821l.0653-.1533l.0653 .1823l.0653-.1561l.0653 .1805l.0653-.1523l.0653 .1766l.0653-.1602l.0653 .1742l.0653-.1553l.0653 .1785l.0653-.1527l.0653 .1799l.0653-.1538l.0653 .1806l.0653-.1521l.0653 .1805l.0653-.151l.0653 .1793l.0653-.1522l.0653 .1785l.0653-.1493l.0653 .1813l.0653-.1477l.0653 .178l.0653-.1535l.0653 .1725l.0653-.1567l.0653 .1714l.0653-.1591l.0653 .167l.0653-.1608l.0653 .1658l.0653-.1561l.0653 .1709l.0653-.1541l.0653 .1724l.0653-.1569l.0653 .167l.0653-.1592l.0653 .167l.0653-.155l.0653 .1668l.0653-.1574l.0653 .1638l.0653-.1623l.0653 .1599l.0653-.1614l.0653 .1618l.0653-.1594l.0653 .1643l.0653-.1563l.0653 .1645l.0653-.161l.0653 .1602l.0653-.1585l.0653 .1624l.0653-.1582l.0653 .164l.0653-.1532l.0653 .1648l.0653-.1541l.0653 .1616l.0653-.1577l.0653 .1608l.0653-.1603l.0653 .1564l.0653-.1605l.0653 .1575l.0653-.1607l.0653 .1561l.0653-.1632l.0653 .156l.0653-.1586l.0653 .16l.0653-.1548l.0653 .1578l.0653-.1595l.0653 .1511l.0653-.1641l.0653 .1487l.0653-.1679l.0653 .1451l.0653-.1671l.0653 .1467l.0653-.1674l.0653 .1441l.0653-.1695l.0653 .1429l.0653-.1704l.0653 .1422l.0653-.1707l.0653 .143l.0653-.1678l.0653 .1429l.0653-.1678l.0653 .1439l.0653-.1644l.0653 .1426l.0653-.1681l.0653 .1411l.0653-.1698l.0653 .1365l.0653-.1734l.0653 .1305l.0653-.1816l.0653 .1317l.0653-.1752l.0653 .1356l.0653-.1727l.0653 .1317l.0653-.173l.0653 .1332l.0653-.1746l.0653 .131l.0653-.1748l.0653 .1299l.0653-.175l.0653 .1299l.0653-.1776l.0653 .1272l.0653-.1741l.0653 .1283l.0653-.1773l.0653 .1247l.0653-.1756l.0653 .1279l.0653-.1729l.0653 .1318l.0653-.1686l.0653 .1336l.0653-.1654l.0653 .1399l.0653-.1604l.0653 .1423l.0653-.1552l.0653 .1426l.0653-.1587l.0653 .1408l.0653-.1577l.0653 .1451l.0653-.155l.0653 .145l.0653-.1515l.0653 .1503l.0653-.1496l.0653 .1491l.0653-.1481l.0653 .1481l.0653-.1487l.0653 .1509l.0653-.1485l.0653 .1493l.0653-.1455l.0653 .1521l.0653-.1448l.0653 .1516l.0653-.147l.0653 .1505l.0653-.1442l.0653 .1496l.0653-.1471l.0653 .145l.0653-.1508l.0653 .1465l.0653-.1453l.0653 .1504l.0653-.1417l.0653 .1548l.0653-.1343l.0653 .1591l.0653-.1328l.0653 .16l.0653-.1351l.0653 .1564l.0653-.136l.0653 .1567l.0653-.1333l.0653 .1593l.0653-.1304l.0653 .1575l.0653-.1309l.0653 .1616l.0653-.1292l.0653 .1615l.0653-.1281l.0653 .1629l.0653-.1262l.0653 .1603l.0653-.1304l.0653 .1598l.0653-.1256l.0653 .1643l.0653-.1216l.0653 .1666l.0653-.1241l.0653 .1644l.0653-.1231l.0653 .1641l.0653-.1232l.0653 .1647l.0653-.1213l.0653 .1644l.0653-.1218l.0653 .1639l.0653-.1224l.0653 .164l.0653-.1226l.0653 .162l.0653-.1221l.0653 .161l.0653-.128l.0653 .153l.0653-.1315l.0653 .1521l.0653-.1328l.0653 .1514l.0653-.1302l.0653 .1544l.0653-.1274l.0653 .1567l.0653-.1284l.0653 .1519l.0653-.1322l.0653 .1466l.0653-.1364l.0653 .1437l.0653-.1373l.0653 .1426l.0653-.1393l.0653 .1382l.0653-.1449l.0653 .134l.0653-.146l.0653 .1324l.0653-.1439l.0653 .1329l.0653-.1467l.0653 .1316l.0653-.149l.0653 .1306l.0653-.1447l.0653 .1345l.0653-.1422l.0653 .1366l.0653-.1393l.0653 .1384l.0653-.1403l.0653 .1349l.0653-.1425l.0653 .1328l.0653-.1416l.0653 .135l.0653-.1422l.0653 .1339l.0653-.1384l.0653 .1364l.0653-.1408l.0653 .1332l.0653-.1439l.0653 .1312l.0653-.1424l.0653 .1329l.0653-.1391l.0653 .1348l.0653-.1392l.0653 .1349l.0653-.1369l.0653 .1358l.0653-.1368l.0653 .1359l.0653-.1379l.0653 .1353l.0653-.1377l.0653 .1334l.0653-.1398l.0653 .127l.0653-.1443l.0653 .1284l.0653-.1416l.0653 .1267l.0653-.1471l.0653 .1212l.0653-.1476l.0653 .1222l.0653-.1489l.0653 .1219l.0653-.1479l.0653 .1197l.0653-.1491l.0653 .1204l.0653-.1485l.0653 .12l.0653-.1493l.0653 .1204l.0653-.1482l.0653 .1197l.0653-.1476l.0653 .1202l.0653-.1483l.0653 .1201l.0653-.1452l.0653 .1222l.0653-.1438l.0653 .1219l.0653-.1432l.0653 .1243l.0653-.14l.0653 .126l.0653-.1422l.0653 .1236l.0653-.1393l.0653 .128l.0653-.1375l.0653 .1279l.0653-.1379l.0653 .1255l.0653-.1364l.0653 .1298l.0653-.1319l.0653 .1313l.0653-.1301l.0653 .1331l.0653-.1291l.0653 .1317l.0653-.1292l.0653 .1349l.0653-.1269l.0653 .1364l.0653-.1231l.0653 .1387l.0653-.1233l.0653 .1387l.0653-.1226l.0653 .1372l.0653-.128l.0653 .1337l.0653-.1285l.0653 .1315l.0653-.1271l.0653 .135l.0653-.1256l.0653 .1342l.0653-.1236l.0653 .1345l.0653-.1226l.0653 .1368l.0653-.1237l.0653 .1348l.0653-.124l.0653 .1328l.0653-.1282l.0653 .13l.0653-.1307l.0653 .1251l.0653-.1337l.0653 .1237l.0653-.1347l.0653 .1211l.0653-.1378l.0653 .1174l.0653-.1383l.0653 .1153l.0653-.1424l.0653 .1146l.0653-.1369l.0653 .1169l.0653-.1382l.0653 .1179l.0653-.1378l.0653 .1159l.0653-.1377l.0653 .1155l.0653-.1396l.0653 .1153l.0653-.1406l.0653 .1119l.0653-.1412l.0653 .1121l.0653-.1402l.0653 .1123l.0653-.1399l.0653 .1106l.0653-.1413l.0653 .1137l.0653-.1373l.0653 .1128l.0653-.138l.0653 .1148l.0653-.1361l.0653 .1168l.0653-.1363l.0653 .1141l.0653-.1356l.0653 .1166l.0653-.1367l.0653 .1137l.0653-.1355l.0653 .1144l.0653-.1344l.0653 .1152l.0653-.1362l.0653 .1123l.0653-.1376l.0653 .1093l.0653-.1391l.0653 .1097l.0653-.1394l.0653 .1103l.0653-.139l.0653 .1093l.0653-.1403l.0653 .1089l.0653-.1381l.0653 .1106l.0653-.1389l.0653 .1092l.0653-.1403l.0653 .1063l.0653-.1408l.0653 .1056l.0653-.1396l.0653 .1084l.0653-.1356l.0653 .1097l.0653-.1341l.0653 .114l.0653-.1309l.0653 .1142l.0653-.1325l.0653 .1142l.0653-.1301l.0653 .1159l.0653-.1284l.0653 .1185l.0653-.1257l.0653 .1199l.0653-.121l.0653 .123l.0653-.1216l.0653 .1242l.0653-.1168l.0653 .1272l.0653-.1168l.0653 .1263l.0653-.1154l.0653 .1266l.0653-.1142l.0653 .1269l.0653-.1157l.0653 .1265l.0653-.115l.0653 .1254l.0653-.1202l.0653 .118l.0653-.1252l.0653 .1164l.0653-.1264l.0653 .1141l.0653-.1258l.0653 .1143l.0653-.1247l.0653 .1176l.0653-.1227l.0653 .1162l.0653-.1233l.0653 .116l.0653-.1253l.0653 .1145l.0653-.1253l.0653 .1121l.0653-.1284l.0653 .1105l.0653-.1269l.0653 .1129l.0653-.1254l.0653 .1142l.0653-.1255l.0653 .1152l.0653-.1234l.0653 .1139l.0653-.1254l.0653 .1151l.0653-.1197l.0653 .12l.0653-.1177l.0653 .1185l.0653-.1167l.0653 .119l.0653-.1183l.0653 .1202l.0653-.118l.0653 .1181l.0653-.1175l.0653 .1209l.0653-.1134l.0653 .1233l.0653-.1122l.0653 .1203l.0653-.1144l.0653 .1221l.0653-.1124l.0653 .123l.0653-.1102l.0653 .1228l.0653-.1137l.0653 .1196l.0653-.1144l.0653 .1187l.0653-.1138l.0653 .1208l.0653-.1124l.0653 .1203l.0653-.1135l.0653 .1198l.0653-.1116l.0653 .1208l.0653-.1127l.0653 .1208l.0653-.1122l.0653 .1178l.0653-.1138l.0653 .1166l.0653-.1165l.0653 .1144l.0653-.1173l.0653 .1132l.0653-.1191l.0653 .1125l.0653-.1204l.0653 .1088l.0653-.1217l.0653 .1085l.0653-.1236l.0653 .1084l.0653-.1189l.0653 .1114l.0653-.1201l.0653 .1077l.0653-.1223l.0653 .1105l.0653-.1168l.0653 .111l.0653-.119l.0653 .1089l.0653-.12l.0653 .1076l.0653-.1234l.0653 .1046l.0653-.1235l.0653 .1067l.0653-.1224l.0653 .106l.0653-.1199l.0653 .1095l.0653-.1195l.0653 .1061l.0653-.1213l.0653 .1061l.0653-.1194l.0653 .1097l.0653-.1158l.0653 .1103l.0653-.116l.0653 .109l.0653-.1184l.0653 .1092l.0653-.1152l.0653 .1128l.0653-.1139l.0653 .1092l.0653-.1169l.0653 .1108l.0653-.1132l.0653 .1139l.0653-.1109l.0653 .1148l.0653-.1077l.0653 .1184l.0653-.1042l.0653 .1194l.0653-.1052l.0653 .1178l.0653-.1077l.0653 .1146l.0653-.1107l.0653 .1135l.0653-.1086l.0653 .114l.0653-.1073l.0653 .1134l.0653-.1119l.0653 .1124l.0653-.1105l.0653 .1108l.0653-.1114l.0653 .1097l.0653-.112l.0653 .1093l.0653-.1097l.0653 .1142l.0653-.1088l.0653 .1119l.0653-.1088l.0653 .1112l.0653-.1101l.0653 .1112l.0653-.1092l.0653 .1106l.0653-.1096l.0653 .1088l.0653-.1092l.0653 .1111l.0653-.1097l.0653 .1097l.0653-.1087l.0653 .1108l.0653-.1106l.0653 .1121l.0653-.1064l.0653 .1122l.0653-.1042l.0653 .1143l.0653-.1051l.0653 .115l.0653-.1051l.0653 .1133l.0653-.1062l.0653 .1117l.0653-.1087l.0653 .1067l.0653-.1107l.0653 .1057l.0653-.1143l.0653 .1028l.0653-.1138l.0653 .1019l.0653-.1164l.0653 .0998l.0653-.1171l.0653 .1003l.0653-.117l.0653 .0993l.0653-.1156l.0653 .0993l.0653-.1163l.0653 .1008l.0653-.1142l.0653 .0995l.0653-.1184l.0653 .0991l.0653-.1175l.0653 .0982l.0653-.1173l.0653 .0986l.0653-.1147l.0653 .101l.0653-.1122l.0653 .1023l.0653-.1093l.0653 .107l.0653-.1064l.0653 .1094l.0653-.1028l.0653 .1136l.0653-.0991l.0653 .1162l.0653-.0961l.0653 .1198l.0653-.0934l.0653 .1206l.0653-.0915l.0653 .1233l.0653-.0883l.0653 .1256l.0653-.087l.0653 .1258l.0653-.0863l.0653 .1266l.0653-.0846l.0653 .1265l.0653-.0848l.0653 .1281l.0653-.0824l.0653 .1297l.0653-.0814l.0653 .1301l.0653-.0823l.0653 .129l.0653-.0839l.0653 .1261l.0653-.0874l.0653 .1223l.0653-.0885l.0653 .121l.0653-.0898l.0653 .122l.0653-.0881l.0653 .1214l.0653-.09l.0653 .1198l.0653-.0897l.0653 .12l.0653-.0893l.0653 .1197l.0653-.0895l.0653 .1193l.0653-.0902l.0653 .1196l.0653-.089l.0653 .1187l.0653-.0916l.0653 .1159l.0653-.0925l.0653 .1128l.0653-.0977l.0653 .1079l.0653-.1019l.0653 .1071l.0653-.0993l.0653 .1075l.0653-.0998l.0653 .1066l.0653-.0997l.0653 .108l.0653-.1005l.0653 .1038l.0653-.1039l.0653 .1017l.0653-.1043l.0653 .1027l.0653-.1032l.0653 .1022l.0653-.1041l.0653 .1022l.0653-.1026l.0653 .1023l.0653-.1027l.0653 .1014l.0653-.1045l.0653 .1006l.0653-.104l.0653 .1l.0653-.1061l.0653 .1002l.0653-.1026l.0653 .1057l.0653-.0968l.0653 .1072l.0653-.0989l.0653 .1054l.0653-.0969l.0653 .1079l.0653-.0962l.0653 .1067l.0653-.0964l.0653 .1082l.0653-.0956l.0653 .1079l.0653-.0959l.0653 .1084l.0653-.0965l.0653 .1065l.0653-.0955l.0653 .1073l.0653-.0969l.0653 .1077l.0653-.0959l.0653 .1069l.0653-.094l.0653 .1086l.0653-.0943l.0653 .1098l.0653-.0915l.0653 .1092l.0653-.0932l.0653 .1071l.0653-.0963l.0653 .1049l.0653-.0958l.0653 .1051l.0653-.0964l.0653 .1045l.0653-.0959l.0653 .1042l.0653-.0978l.0653 .1024l.0653-.0973l.0653 .102l.0653-.0981l.0653 .1002l.0653-.1l.0653 .0982l.0653-.1041l.0653 .0921l.0653-.1067l.0653 .0915l.0653-.1078l.0653 .0915l.0653-.1101l.0653 .0898l.0653-.1086l.0653 .0886l.0653-.1121l.0653 .0872l.0653-.1114l.0653 .0865l.0653-.1109l.0653 .0878l.0653-.112l.0653 .0876l.0653-.1089l.0653 .0889l.0653-.1096l.0653 .0876l.0653-.1093l.0653 .0876l.0653-.1104l.0653 .0886l.0653-.1083l.0653 .0878l.0653-.1094l.0653 .0882l.0653-.1084l.0653 .0899l.0653-.1053l.0653 .0904l.0653-.1041l.0653 .092l.0653-.1028l.0653 .0933l.0653-.1022l.0653 .0928l.0653-.1017l.0653 .0952l.0653-.1016l.0653 .0942l.0653-.1005l.0653 .0943l.0653-.0986l.0653 .0966l.0653-.1001l.0653 .0945l.0653-.0999l.0653 .0962l.0653-.0999l.0653 .0935l.0653-.1006l.0653 .0914l.0653-.1034l.0653 .0914l.0653-.1015l.0653 .0924l.0653-.0996l.0653 .0936l.0653-.1l.0653 .095l.0653-.0995l.0653 .0942l.0653-.0989l.0653 .094l.0653-.1l.0653 .0933l.0653-.099l.0653 .0954l.0653-.0959l.0653 .0971l.0653-.0964l.0653 .0961l.0653-.0975l.0653 .0931l.0653-.1001l.0653 .0907l.0653-.1028l.0653 .0876l.0653-.1021l.0653 .0915l.0653-.0993l.0653 .0939l.0653-.0978l.0653 .0929l.0653-.099l.0653 .092l.0653-.0987l.0653 .0937l.0653-.0979l.0653 .0916l.0653-.0984l.0653 .0915l.0653-.0989l.0653 .0917l.0653-.0974l.0653 .0937l.0653-.0958l.0653 .0926l.0653-.0974l.0653 .092l.0653-.0981l.0653 .0915l.0653-.0974l.0653 .0934l.0653-.0962l.0653 .093l.0653-.0954l.0653 .0934l.0653-.0959l.0653 .0921l.0653-.0979l.0653 .0889l.0653-.0998l.0653 .0899l.0653-.0973l.0653 .0918l.0653-.0977l.0653 .0888l.0653-.0988l.0653 .0892l.0653-.0995l.0653 .0872l.0653-.1018l.0653 .0862l.0653-.1018l.0653 .0853l.0653-.103l.0653 .0841l.0653-.1031l.0653 .0838l.0653-.1028l.0653 .0849l.0653-.1023l.0653 .0843l.0653-.1013l.0653 .0863l.0653-.1001l.0653 .0868l.0653-.0995l.0653 .0867l.0653-.0983l.0653 .0904l.0653-.0934l.0653 .0915l.0653-.0952l.0653 .0903l.0653-.0953l.0653 .0923l.0653-.0935l.0653 .0924l.0653-.0927l.0653 .0917l.0653-.0915l.0653 .0922l.0653-.0928l.0653 .0907l.0653-.093l.0653 .0925l.0653-.091l.0653 .0927l.0653-.0911l.0653 .0939l.0653-.09l.0653 .0943l.0653-.0909l.0653 .0923l.0653-.091l.0653 .094l.0653-.0901l.0653 .0948l.0653-.0892l.0653 .0938l.0653-.0899l.0653 .0938l.0653-.0892l.0653 .0949l.0653-.0887l.0653 .0934l.0653-.0889l.0653 .0936l.0653-.088l.0653 .0962l.0653-.0863l.0653 .0981l.0653-.0826l.0653 .1027l.0653-.077l.0653 .1045l.0653-.0776l.0653 .1059l.0653-.0749l.0653 .1051l.0653-.0766l.0653 .1052l.0653-.0745l.0653 .1075l.0653-.0733l.0653 .1063l.0653-.0756l.0653 .1059l.0653-.0748l.0653 .1065l.0653-.0753l.0653 .1055l.0653-.0756l.0653 .1056l.0653-.0745l.0653 .1055l.0653-.0764l.0653 .1019l.0653-.0787l.0653 .1004l.0653-.0793l.0653 .1005l.0653-.0803l.0653 .0974l.0653-.0862l.0653 .0915l.0653-.0882l.0653 .0899l.0653-.0907l.0653 .088l.0653-.091l.0653 .0856l.0653-.0957l.0653 .0818l.0653-.0989l.0653 .0781l.0653-.0988l.0653 .08l.0653-.0988l.0653 .0777l.0653-.1001l.0653 .077l.0653-.1016l.0653 .076l.0653-.1024l.0653 .0761l.0653-.1011l.0653 .0784l.0653-.0998l.0653 .0788l.0653-.0983l.0653 .0793l.0653-.099l.0653 .0777l.0653-.0978l.0653 .0811l.0653-.0968l.0653 .0813l.0653-.0945l.0653 .0824l.0653-.0951l.0653 .0822l.0653-.0944l.0653 .0824l.0653-.0918l.0653 .0859l.0653-.0904l.0653 .085l.0653-.0928l.0653 .0822l.0653-.095l.0653 .0806l.0653-.0939l.0653 .0816l.0653-.0952l.0653 .0799l.0653-.0954l.0653 .0798l.0653-.0941l.0653 .0802l.0653-.0955l.0653 .0795l.0653-.094l.0653 .081l.0653-.0953l.0653 .0779l.0653-.096l.0653 .0781l.0653-.0967l.0653 .0781l.0653-.0963l.0653 .0782l.0653-.0943l.0653 .0814l.0653-.0923l.0653 .0822l.0653-.0916l.0653 .0826l.0653-.09l.0653 .0852l.0653-.0868l.0653 .0872l.0653-.0857l.0653 .086l.0653-.0863l.0653 .0864l.0653-.0874l.0653 .0859l.0653-.0885l.0653 .0845l.0653-.0884l.0653 .0838l.0653-.091l.0653 .0822l.0653-.0882l.0653 .0846l.0653-.0885l.0653 .084l.0653-.0899l.0653 .0825l.0653-.0883l.0653 .0856l.0653-.0864l.0653 .085l.0653-.0879l.0653 .0847l.0653-.0878l.0653 .0829l.0653-.0876l.0653 .0851l.0653-.0854l.0653 .0869l.0653-.0846l.0653 .0875l.0653-.0833l.0653 .0887l.0653-.0815l.0653 .0891l.0653-.0814l.0653 .0884l.0653-.0822l.0653 .088l.0653-.0818l.0653 .0884l.0653-.0827l.0653 .0876l.0653-.0812l.0653 .088l.0653-.0804l.0653 .0901l.0653-.0802l.0653 .0889l.0653-.0813l.0653 .0877l.0653-.0808l.0653 .0883l.0653-.0805l.0653 .0891l.0653-.0796l.0653 .0878l.0653-.0817l.0653 .0879l.0653-.0806l.0653 .0876l.0653-.081l.0653 .0872l.0653-.0808l.0653 .0869l.0653-.0799l.0653 .0896l.0653-.0779l.0653 .0908l.0653-.0766l.0653 .0921l.0653-.0756l.0653 .0938l.0653-.0746l.0653 .0946l.0653-.0735l.0653 .095l.0653-.0716l.0653 .0958l.0653-.0719l.0653 .0967l.0653-.0695l.0653 .0966l.0653-.0704l.0653 .0971l.0653-.0707l.0653 .0965l.0653-.0714l.0653 .0937l.0653-.0727l.0653 .0933l.0653-.0746l.0653 .0919l.0653-.0747l.0653 .0927l.0653-.0732l.0653 .0921l.0653-.0738l.0653 .0926l.0653-.074l.0653 .0909l.0653-.0756l.0653 .0888l.0653-.0769l.0653 .0881l.0653-.0779l.0653 .0866l.0653-.0796l.0653 .0842l.0653-.0805l.0653 .0849l.0653-.0825l.0653 .0824l.0653-.0824l.0653 .0831l.0653-.0814l.0653 .0828l.0653-.0796l.0653 .0867l.0653-.0801l.0653 .086l.0653-.0766l.0653 .0872l.0653-.0766l.0653 .0876l.0653-.0764l.0653 .088l.0653-.0776l.0653 .0856l.0653-.0794l.0653 .0859l.0653-.0766l.0653 .0875l.0653-.0767l.0653 .0868l.0653-.0759l.0653 .0862l.0653-.0779l.0653 .0858l.0653-.0776l.0653 .0841l.0653-.0774l.0653 .0859l.0653-.0776l.0653 .0838l.0653-.0787l.0653 .0851l.0653-.078l.0653 .0838l.0653-.0778l.0653 .0829l.0653-.0818l.0653 .0801l.0653-.0837l.0653 .079l.0653-.0835l.0653 .0788l.0653-.0824l.0653 .0795l.0653-.0812l.0653 .0794l.0653-.0847l.0653 .0762l.0653-.0865l.0653 .075l.0653-.0873l.0653 .0748l.0653-.0881l.0653 .0732l.0653-.0873l.0653 .0758l.0653-.0857l.0653 .0757l.0653-.084l.0653 .0775l.0653-.085l.0653 .0754l.0653-.0848l.0653 .0747l.0653-.0857l.0653 .0764l.0653-.0812l.0653 .0807l.0653-.0772l.0653 .0821l.0653-.0782l.0653 .081l.0653-.0782l.0653 .0833l.0653-.0772l.0653 .0831l.0653-.0754l.0653 .0841l.0653-.0744l.0653 .086l.0653-.0724l.0653 .0875l.0653-.0696l.0653 .0908l.0653-.0682l.0653 .0906l.0653-.069l.0653 .091l.0653-.0694l.0653 .0899l.0653-.0679l.0653 .09l.0653-.0704l.0653 .0893l.0653-.0686l.0653 .0893l.0653-.0705l.0653 .087l.0653-.0715l.0653 .0875l.0653-.0726l.0653 .0858l.0653-.0708l.0653 .0876l.0653-.0696l.0653 .0877l.0653-.0701l.0653 .0885l.0653-.0696l.0653 .0872l.0653-.0719l.0653 .0855l.0653-.072l.0653 .0845l.0653-.0732l.0653 .0825l.0653-.075l.0653 .0808l.0653-.0767l.0653 .0801l.0653-.0758l.0653 .0812l.0653-.0754l.0653 .0806l.0653-.0764l.0653 .0812l.0653-.0751l.0653 .0817l.0653-.0757l.0653 .0807l.0653-.073l.0653 .0823l.0653-.0769l.0653 .0774l.0653-.0793l.0653 .0775l.0653-.0795l.0653 .0757l.0653-.0813l.0653 .0757l.0653-.0799l.0653 .0755l.0653-.08l.0653 .0771l.0653-.0785l.0653 .0777l.0653-.0776l.0653 .0782l.0653-.0783l.0653 .0762l.0653-.0794l.0653 .075l.0653-.0808l.0653 .0732l.0653-.0814l.0653 .0725l.0653-.0819l.0653 .0741l.0653-.0794l.0653 .0753l.0653-.0814l.0653 .0733l.0653-.0793l.0653 .0765l.0653-.0783l.0653 .0752l.0653-.0769l.0653 .0785l.0653-.0734l.0653 .0799l.0653-.074l.0653 .0802l.0653-.0743l.0653 .0782l.0653-.075l.0653 .0792l.0653-.0736l.0653 .0791l.0653-.0733l.0653 .0805l.0653-.0733l.0653 .0811l.0653-.0704l.0653 .0845l.0653-.0685l.0653 .0857l.0653-.0673l.0653 .084l.0653-.0702l.0653 .0822l.0653-.0693l.0653 .0841l.0653-.068l.0653 .0844l.0653-.0678l.0653 .0867l.0653-.0664l.0653 .0851l.0653-.0684l.0653 .0819l.0653-.0697l.0653 .0815l.0653-.0711l.0653 .0806l.0653-.0714l.0653 .0789l.0653-.0725l.0653 .0799l.0653-.0706l.0653 .0808l.0653-.0715l.0653 .0787l.0653-.0729l.0653 .0784l.0653-.0732l.0653 .0768l.0653-.0743l.0653 .0775l.0653-.0722l.0653 .0778l.0653-.0735l.0653 .0767l.0653-.0749l.0653 .0762l.0653-.0736l.0653 .0753l.0653-.076l.0653 .074l.0653-.0769l.0653 .0758l.0653-.0731l.0653 .0783l.0653-.0711l.0653 .0795l.0653-.0704l.0653 .0807l.0653-.0705l.0653 .0803l.0653-.0696l.0653 .0807l.0653-.0682l.0653 .0809l.0653-.0687l.0653 .081l.0653-.0682l.0653 .0805l.0653-.0699l.0653 .0796l.0653-.0714l.0653 .0783l.0653-.0704l.0653 .0783l.0653-.0713l.0653 .0761l.0653-.0744l.0653 .0747l.0653-.0742l.0653 .0749l.0653-.0728l.0653 .075l.0653-.0748l.0653 .0734l.0653-.0749l.0653 .0736l.0653-.0748l.0653 .0735l.0653-.0754l.0653 .0713l.0653-.0782l.0653 .0689l.0653-.0794l.0653 .0696l.0653-.0773l.0653 .0696l.0653-.0782l.0653 .0704l.0653-.0751l.0653 .0719l.0653-.0739l.0653 .0749l.0653-.0725l.0653 .0748l.0653-.0725l.0653 .0748l.0653-.073l.0653 .0749l.0653-.0718l.0653 .0767l.0653-.071l.0653 .0743l.0653-.0744l.0653 .0721l.0653-.0748l.0653 .072l.0653-.0754l.0653 .0708l.0653-.074l.0653 .0733l.0653-.0728l.0653 .0744l.0653-.0722l.0653 .0742l.0653-.0724l.0653 .0738l.0653-.0732l.0653 .0722l.0653-.0754l.0653 .0702l.0653-.0779l.0653 .0656l.0653-.0801l.0653 .0672l.0653-.0789l.0653 .0671l.0653-.0774l.0653 .0684l.0653-.0771l.0653 .0672l.0653-.0784l.0653 .0683l.0653-.0758l.0653 .0704l.0653-.0752l.0653 .0701l.0653-.0757l.0653 .0691l.0653-.0779l.0653 .0662l.0653-.0783l.0653 .0671l.0653-.0756l.0653 .0698l.0653-.0755l.0653 .0686l.0653-.0753l.0653 .0692l.0653-.0745l.0653 .0705l.0653-.0728l.0653 .0727l.0653-.0727l.0653 .0701l.0653-.0739l.0653 .0713l.0653-.0731l.0653 .0698l.0653-.0759l.0653 .0674l.0653-.0753l.0653 .0685l.0653-.0751l.0653 .0695l.0653-.074l.0653 .0696l.0653-.0738l.0653 .0696l.0653-.0729l.0653 .0712l.0653-.0721l.0653 .0711l.0653-.0731l.0653 .0701l.0653-.073l.0653 .0709l.0653-.071l.0653 .0717l.0653-.071l.0653 .073l.0653-.0694l.0653 .073l.0653-.0692l.0653 .0745l.0653-.0666l.0653 .0753l.0653-.0664l.0653 .076l.0653-.0648l.0653 .0785l.0653-.0652l.0653 .0767l.0653-.066l.0653 .0746l.0653-.0674l.0653 .0742l.0653-.0668l.0653 .0764l.0653-.0657l.0653 .0761l.0653-.0661l.0653 .075l.0653-.0677l.0653 .0731l.0653-.0691l.0653 .0721l.0653-.0708l.0653 .0706l.0653-.0712l.0653 .0681l.0653-.0742l.0653 .0662l.0653-.0744l.0653 .0661l.0653-.0752l.0653 .0659l.0653-.0755l.0653 .0661l.0653-.0741l.0653 .0666l.0653-.0737l.0653 .0674l.0653-.0738l.0653 .0665l.0653-.0744l.0653 .0662l.0653-.0744l.0653 .0654l.0653-.0753l.0653 .0648l.0653-.0737l.0653 .0658l.0653-.0734l.0653 .0664l.0653-.0736l.0653 .0654l.0653-.0744l.0653 .0658l.0653-.0731l.0653 .0665l.0653-.0735l.0653 .0665l.0653-.0735l.0653 .0651l.0653-.0743l.0653 .0648l.0653-.075l.0653 .0644l.0653-.0762l.0653 .0622l.0653-.077l.0653 .0611l.0653-.0775l.0653 .0628l.0653-.0762l.0653 .0631l.0653-.0752l.0653 .0643l.0653-.0728l.0653 .0676l.0653-.0723l.0653 .0669l.0653-.0724l.0653 .0652l.0653-.0728l.0653 .0655l.0653-.0727l.0653 .0656l.0653-.0735l.0653 .0649l.0653-.0717l.0653 .0681l.0653-.0702l.0653 .0674l.0653-.0702l.0653 .0673l.0653-.0709l.0653 .0659l.0653-.0711l.0653 .0683l.0653-.0683l.0653 .0698l.0653-.0667l.0653 .0706l.0653-.0665l.0653 .0704l.0653-.0687l.0653 .0668l.0653-.071l.0653 .0644l.0653-.0728l.0653 .0648l.0653-.073l.0653 .0655l.0653-.0716l.0653 .0651l.0653-.0725l.0653 .0626l.0653-.0743l.0653 .0622l.0653-.0751l.0653 .0609l.0653-.076l.0653 .0615l.0653-.0752l.0653 .0614l.0653-.0738l.0653 .0634l.0653-.0735l.0653 .0614l.0653-.0759l.0653 .0607l.0653-.0759l.0653 .0602l.0653-.0764l.0653 .0593l.0653-.0753l.0653 .0618l.0653-.0743l.0653 .0624l.0653-.073l.0653 .0624l.0653-.0732l.0653 .0611l.0653-.0747l.0653 .0631l.0653-.071l.0653 .0661l.0653-.0686l.0653 .0676l.0653-.0676l.0653 .0675l.0653-.0675l.0653 .0678l.0653-.0681l.0653 .0676l.0653-.0684l.0653 .0674l.0653-.0668l.0653 .0687l.0653-.0656l.0653 .0684l.0653-.0667l.0653 .0682l.0653-.0656l.0653 .0698l.0653-.0652l.0653 .069l.0653-.0666l.0653 .0668l.0653-.067l.0653 .067l.0653-.0668l.0653 .0677l.0653-.0655l.0653 .0676l.0653-.067l.0653 .0673l.0653-.0672l.0653 .0673l.0653-.0667l.0653 .0665l.0653-.0672l.0653 .0655l.0653-.0685l.0653 .0653l.0653-.0689l.0653 .0649l.0653-.0696l.0653 .0632l.0653-.0716l.0653 .0619l.0653-.0716l.0653 .063l.0653-.0696l.0653 .0625l.0653-.0717l.0653 .061l.0653-.0714l.0653 .0622l.0653-.0706l.0653 .0632l.0653-.0686l.0653 .0645l.0653-.0689l.0653 .0645l.0653-.0678l.0653 .0651l.0653-.0679l.0653 .0625l.0653-.0703l.0653 .0627l.0653-.0706l.0653 .0634l.0653-.069l.0653 .0619l.0653-.0704l.0653 .0604l.0653-.0718l.0653 .0623l.0653-.0688l.0653 .0625l.0653-.0694l.0653 .062l.0653-.0716l.0653 .0601l.0653-.0707l.0653 .0612l.0653-.0719l.0653 .06l.0653-.073l.0653 .0582l.0653-.0751l.0653 .0568l.0653-.0734l.0653 .0572l.0653-.0745l.0653 .057l.0653-.0739l.0653 .059l.0653-.0721l.0653 .0592l.0653-.0702l.0653 .0597l.0653-.0708l.0653 .0616l.0653-.0687l.0653 .0628l.0653-.0695l.0653 .0607l.0653-.0701l.0653 .0624l.0653-.0673l.0653 .0629l.0653-.068l.0653 .0641l.0653-.0658l.0653 .0657l.0653-.0632l.0653 .0682l.0653-.0605l.0653 .0701l.0653-.0591l.0653 .0721l.0653-.0589l.0653 .0719l.0653-.058l.0653 .0716l.0653-.0576l.0653 .0719l.0653-.058l.0653 .0713l.0653-.0602l.0653 .0704l.0653-.0585l.0653 .0699l.0653-.0603l.0653 .0704l.0653-.0569l.0653 .0726l.0653-.0567l.0653 .0725l.0653-.0573l.0653 .0727l.0653-.0552l.0653 .0749l.0653-.0549l.0653 .0744l.0653-.0544l.0653 .0734l.0653-.0565l.0653 .0711l.0653-.0583l.0653 .0698l.0653-.0592l.0653 .0692l.0653-.06l.0653 .0688l.0653-.0613l.0653 .0681l.0653-.0604l.0653 .0689l.0653-.0586l.0653 .0703l.0653-.0596l.0653 .0696l.0653-.057l.0653 .0706l.0653-.0586l.0653 .0701l.0653-.0588l.0653 .0685l.0653-.0595l.0653 .0684l.0653-.0604l.0653 .0668l.0653-.0622l.0653 .0664l.0653-.0614l.0653 .0665l.0653-.061l.0653 .0689l.0653-.0587l.0653 .0682l.0653-.0591l.0653 .0693l.0653-.0584l.0653 .0678l.0653-.0601l.0653 .0667l.0653-.0598l.0653 .0667l.0653-.0606l.0653 .0665l.0653-.0608l.0653 .0665l.0653-.0614l.0653 .0657l.0653-.0613l.0653 .0659l.0653-.0607l.0653 .0669l.0653-.0597l.0653 .0666l.0653-.0606l.0653 .0664l.0653-.059l.0653 .0672l.0653-.0607l.0653 .0643l.0653-.0623l.0653 .0633l.0653-.0626l.0653 .0639l.0653-.0642l.0653 .0619l.0653-.0634l.0653 .0639l.0653-.0628l.0653 .0626l.0653-.0651l.0653 .0614l.0653-.0644l.0653 .0623l.0653-.0634l.0653 .0625l.0653-.0629l.0653 .0634l.0653-.0624l.0653 .0619l.0653-.0642l.0653 .0618l.0653-.0642l.0653 .0612l.0653-.065l.0653 .0597l.0653-.0675l.0653 .0574l.0653-.0676l.0653 .0591l.0653-.0656l.0653 .059l.0653-.0677l.0653 .0582l.0653-.0645l.0653 .0607l.0653-.0654l.0653 .0603l.0653-.0636l.0653 .0616l.0653-.0623l.0653 .0624l.0653-.0632l.0653 .0612l.0653-.0631l.0653 .0619l.0653-.0634l.0653 .0608l.0653-.0627l.0653 .0617l.0653-.0623l.0653 .0615l.0653-.063l.0653 .062l.0653-.0626l.0653 .0617l.0653-.0617l.0653 .0625l.0653-.0615l.0653 .0625l.0653-.0616l.0653 .0631l.0653-.0599l.0653 .0643l.0653-.0613l.0653 .0622l.0653-.0613l.0653 .0613l.0653-.0629l.0653 .0611l.0653-.0621l.0653 .0623l.0653-.0613l.0653 .0618l.0653-.0615l.0653 .062l.0653-.0605l.0653 .0627l.0653-.0621l.0653 .0615l.0653-.0611l.0653 .0627l.0653-.0617l.0653 .0614l.0653-.0609l.0653 .0628l.0653-.0598l.0653 .0642l.0653-.0581l.0653 .0661l.0653-.0574l.0653 .0659l.0653-.0574l.0653 .0649l.0653-.0571l.0653 .0664l.0653-.0567l.0653 .0666l.0653-.0551l.0653 .068l.0653-.054l.0653 .0674l.0653-.0548l.0653 .0676l.0653-.0552l.0653 .0665l.0653-.0574l.0653 .065l.0653-.0568l.0653 .0659l.0653-.0566l.0653 .0653l.0653-.0568l.0653 .0659l.0653-.0567l.0653 .065l.0653-.0575l.0653 .063l.0653-.0593l.0653 .061l.0653-.0613l.0653 .0608l.0653-.0609l.0653 .0612l.0653-.062l.0653 .0588l.0653-.0628l.0653 .059l.0653-.0631l.0653 .0579l.0653-.0635l.0653 .0579l.0653-.0634l.0653 .0582l.0653-.0636l.0653 .0592l.0653-.0612l.0653 .0593l.0653-.0624l.0653 .0584l.0653-.0627l.0653 .0583l.0653-.0618l.0653 .0594l.0653-.0602l.0653 .0615l.0653-.0591l.0653 .0634l.0653-.0575l.0653 .0634l.0653-.0573l.0653 .0628l.0653-.0573l.0653 .0634l.0653-.0559l.0653 .0668l.0653-.0534l.0653 .0671l.0653-.0535l.0653 .0676l.0653-.0534l.0653 .0666l.0653-.054l.0653 .0667l.0653-.0527l.0653 .0661l.0653-.0553l.0653 .0651l.0653-.0547l.0653 .0658l.0653-.055l.0653 .0655l.0653-.0544l.0653 .0649l.0653-.0557l.0653 .0635l.0653-.0559l.0653 .063l.0653-.0567l.0653 .0637l.0653-.0549l.0653 .0646l.0653-.056l.0653 .062l.0653-.0576l.0653 .0613l.0653-.0591l.0653 .0608l.0653-.0586l.0653 .0609l.0653-.0578l.0653 .0622l.0653-.057l.0653 .0627l.0653-.0575l.0653 .0612l.0653-.0573l.0653 .0623l.0653-.0567l.0653 .0617l.0653-.0572l.0653 .0618l.0653-.0576l.0653 .0619l.0653-.0568l.0653 .0622l.0653-.0575l.0653 .0605l.0653-.0582l.0653 .0605l.0653-.0585l.0653 .06l.0653-.058l.0653 .0608l.0653-.0568l.0653 .0613l.0653-.0571l.0653 .0601l.0653-.0587l.0653 .0591l.0653-.0599l.0653 .0572l.0653-.0611l.0653 .0566l.0653-.0616l.0653 .0559l.0653-.0618l.0653 .0554l.0653-.0624l.0653 .0556l.0653-.0614l.0653 .0568l.0653-.0603l.0653 .0569l.0653-.0612l.0653 .0559l.0653-.0618l.0653 .0564l.0653-.0605l.0653 .0555l.0653-.0625l.0653 .0557l.0653-.062l.0653 .057l.0653-.061l.0653 .0557l.0653-.0616l.0653 .0568l.0653-.0607l.0653 .0561l.0653-.0611l.0653 .0561l.0653-.0604l.0653 .0561l.0653-.0607l.0653 .0573l.0653-.0599l.0653 .0564l.0653-.0607l.0653 .0557l.0653-.0608l.0653 .0554l.0653-.0617l.0653 .0548l.0653-.0623l.0653 .0542l.0653-.0614l.0653 .0557l.0653-.0607l.0653 .0561l.0653-.0602l.0653 .055l.0653-.0607l.0653 .0545l.0653-.0613l.0653 .0554l.0653-.0612l.0653 .0536l.0653-.0618l.0653 .0545l.0653-.0611l.0653 .0559l.0653-.0595l.0653 .0576l.0653-.0574l.0653 .0586l.0653-.0569l.0653 .0598l.0653-.0565l.0653 .0588l.0653-.0582l.0653 .0568l.0653-.0594l.0653 .0558l.0653-.0589l.0653 .0572l.0653-.0588l.0653 .0565l.0653-.0594l.0653 .0565l.0653-.0588l.0653 .0563l.0653-.0599l.0653 .0537l.0653-.0628l.0653 .0521l.0653-.0625l.0653 .0532l.0653-.0619l.0653 .0532l.0653-.0616l.0653 .0534l.0653-.0626l.0653 .0519l.0653-.0632l.0653 .0511l.0653-.0633l.0653 .0509l.0653-.0618l.0653 .0546l.0653-.0592l.0653 .056l.0653-.0582l.0653 .0574l.0653-.0575l.0653 .0566l.0653-.0579l.0653 .0565l.0653-.0587l.0653 .0551l.0653-.0584l.0653 .0574l.0653-.0568l.0653 .0578l.0653-.056l.0653 .0586l.0653-.056l.0653 .0585l.0653-.0548l.0653 .0598l.0653-.0545l.0653 .0597l.0653-.0543l.0653 .0593l.0653-.0553l.0653 .0584l.0653-.0553l.0653 .0591l.0653-.055l.0653 .0588l.0653-.0546l.0653 .06l.0653-.054l.0653 .0585l.0653-.0561l.0653 .0578l.0653-.0556l.0653 .0573l.0653-.0558l.0653 .0583l.0653-.0553l.0653 .0568l.0653-.0571l.0653 .0572l.0653-.0554l.0653 .0584l.0653-.0541l.0653 .0582l.0653-.0554l.0653 .0574l.0653-.0562l.0653 .0555l.0653-.0571l.0653 .0562l.0653-.0571l.0653 .0558l.0653-.0578l.0653 .0537l.0653-.0602l.0653 .0513l.0653-.062l.0653 .0495l.0653-.0632l.0653 .0502l.0653-.0621l.0653 .0506l.0653-.0617l.0653 .0508l.0653-.0619l.0653 .0501l.0653-.0634l.0653 .0494l.0653-.0622l.0653 .0505l.0653-.0621l.0653 .0489l.0653-.0636l.0653 .0488l.0653-.063l.0653 .0486l.0653-.0631l.0653 .0499l.0653-.0624l.0653 .0489l.0653-.0623l.0653 .0497l.0653-.0613l.0653 .0519l.0653-.0601l.0653 .0514l.0653-.0607l.0653 .0516l.0653-.06l.0653 .0517l.0653-.0595l.0653 .0528l.0653-.0585l.0653 .0535l.0653-.0572l.0653 .0544l.0653-.0564l.0653 .0552l.0653-.056l.0653 .0545l.0653-.0573l.0653 .0549l.0653-.0566l.0653 .0546l.0653-.0564l.0653 .055l.0653-.0546l.0653 .0567l.0653-.0539l.0653 .0568l.0653-.0547l.0653 .0565l.0653-.055l.0653 .0552l.0653-.0541l.0653 .0573l.0653-.0536l.0653 .0567l.0653-.0542l.0653 .0571l.0653-.0541l.0653 .0572l.0653-.0529l.0653 .0577l.0653-.0536l.0653 .0565l.0653-.0534l.0653 .0566l.0653-.0537l.0653 .0578l.0653-.0515l.0653 .0583l.0653-.0508l.0653 .06l.0653-.0503l.0653 .0593l.0653-.0521l.0653 .0567l.0653-.0535l.0653 .0577l.0653-.0518l.0653 .0576l.0653-.0514l.0653 .0591l.0653-.0521l.0653 .0569l.0653-.0531l.0653 .0577l.0653-.052l.0653 .0571l.0653-.0523l.0653 .0565l.0653-.0542l.0653 .0548l.0653-.0555l.0653 .0539l.0653-.0564l.0653 .0533l.0653-.0562l.0653 .0526l.0653-.057l.0653 .052l.0653-.0585l.0653 .0506l.0653-.0589l.0653 .0501l.0653-.0587l.0653 .0511l.0653-.0575l.0653 .0514l.0653-.0583l.0653 .0517l.0653-.0583l.0653 .0509l.0653-.0574l.0653 .0525l.0653-.0565l.0653 .0509l.0653-.0588l.0653 .0494l.0653-.0594l.0653 .0493l.0653-.0598l.0653 .0487l.0653-.0587l.0653 .0501l.0653-.0586l.0653 .0498l.0653-.059l.0653 .0505l.0653-.0585l.0653 .0501l.0653-.0577l.0653 .0503l.0653-.0578l.0653 .0517l.0653-.0561l.0653 .0521l.0653-.056l.0653 .0518l.0653-.056l.0653 .0522l.0653-.0548l.0653 .0528l.0653-.056l.0653 .0515l.0653-.0562l.0653 .0534l.0653-.0537l.0653 .0558l.0653-.0513l.0653 .0566l.0653-.0505l.0653 .0583l.0653-.0503l.0653 .0583l.0653-.0498l.0653 .0582l.0653-.0491l.0653 .0569l.0653-.0501l.0653 .0589l.0653-.0498l.0653 .058l.0653-.0499l.0653 .0565l.0653-.0515l.0653 .0557l.0653-.0518l.0653 .0559l.0653-.0511l.0653 .0562l.0653-.0518l.0653 .0546l.0653-.0516l.0653 .0559l.0653-.0515l.0653 .0548l.0653-.0521l.0653 .0536l.0653-.0544l.0653 .0523l.0653-.0545l.0653 .0526l.0653-.0536l.0653 .0538l.0653-.0524l.0653 .0544l.0653-.0534l.0653 .0536l.0653-.0542l.0653 .0514l.0653-.055l.0653 .0513l.0653-.0551l.0653 .0517l.0653-.055l.0653 .052l.0653-.0558l.0653 .0505l.0653-.0564l.0653 .0501l.0653-.0557l.0653 .0517l.0653-.0553l.0653 .0502l.0653-.056l.0653 .0505l.0653-.0547l.0653 .0527l.0653-.0527l.0653 .0538l.0653-.0521l.0653 .0529l.0653-.0534l.0653 .0513l.0653-.0551l.0653 .0515l.0653-.0529l.0653 .0536l.0653-.051l.0653 .0548l.0653-.0505l.0653 .0568l.0653-.0491l.0653 .0569l.0653-.0486l.0653 .0569l.0653-.049l.0653 .0565l.0653-.0488l.0653 .0567l.0653-.0495l.0653 .0552l.0653-.0505l.0653 .0556l.0653-.0507l.0653 .0547l.0653-.0515l.0653 .053l.0653-.0527l.0653 .0523l.0653-.0534l.0653 .0519l.0653-.0534l.0653 .0526l.0653-.0529l.0653 .0521l.0653-.0533l.0653 .051l.0653-.0546l.0653 .0509l.0653-.0551l.0653 .0493l.0653-.0553l.0653 .0496l.0653-.0557l.0653 .0475l.0653-.0568l.0653 .0487l.0653-.0567l.0653 .0475l.0653-.0573l.0653 .0475l.0653-.0561l.0653 .0487l.0653-.0551l.0653 .0497l.0653-.0548l.0653 .0492l.0653-.056l.0653 .0484l.0653-.0549l.0653 .0488l.0653-.0562l.0653 .0474l.0653-.0561l.0653 .0483l.0653-.0561l.0653 .0488l.0653-.055l.0653 .049l.0653-.054l.0653 .0505l.0653-.0533l.0653 .0511l.0653-.052l.0653 .0532l.0653-.05l.0653 .0532l.0653-.0503l.0653 .0541l.0653-.0492l.0653 .0548l.0653-.0498l.0653 .0536l.0653-.0498l.0653 .0538l.0653-.0502l.0653 .054l.0653-.0495l.0653 .0541l.0653-.0505l.0653 .0532l.0653-.0497l.0653 .0545l.0653-.0496l.0653 .0539l.0653-.049l.0653 .0546l.0653-.0485l.0653 .0553l.0653-.0482l.0653 .0542l.0653-.0492l.0653 .0528l.0653-.0507l.0653 .0526l.0653-.0507l.0653 .0522l.0653-.0516l.0653 .0503l.0653-.053l.0653 .0505l.0653-.052l.0653 .0516l.0653-.0519l.0653 .0506l.0653-.0522l.0653 .0512l.0653-.0504l.0653 .0524l.0653-.0509l.0653 .0508l.0653-.0525l.0653 .0503l.0653-.0517l.0653 .051l.0653-.0535l.0653 .0482l.0653-.0548l.0653 .0472l.0653-.0553l.0653 .0475l.0653-.0554l.0653 .0485l.0653-.0536l.0653 .0475l.0653-.055l.0653 .0477l.0653-.0541l.0653 .0488l.0653-.0537l.0653 .0486l.0653-.0531l.0653 .049l.0653-.0521l.0653 .0496l.0653-.0524l.0653 .049l.0653-.0541l.0653 .0483l.0653-.052l.0653 .0511l.0653-.0497l.0653 .0515l.0653-.051l.0653 .0503l.0653-.0505l.0653 .0516l.0653-.0503l.0653 .0514l.0653-.0501l.0653 .0512l.0653-.0504l.0653 .0498l.0653-.0525l.0653 .0501l.0653-.0505l.0653 .051l.0653-.0507l.0653 .0509l.0653-.0508l.0653 .0498l.0653-.0512l.0653 .0498l.0653-.0521l.0653 .0499l.0653-.0516l.0653 .0499l.0653-.0514l.0653 .0497l.0653-.0533l.0653 .047l.0653-.0545l.0653 .0469l.0653-.054l.0653 .047l.0653-.0535l.0653 .0475l.0653-.0533l.0653 .0472l.0653-.0548l.0653 .0453l.0653-.055l.0653 .0465l.0653-.0543l.0653 .0468l.0653-.0542l.0653 .0473l.0653-.0532l.0653 .0471l.0653-.0534l.0653 .048l.0653-.0538l.0653 .046l.0653-.0545l.0653 .0453l.0653-.0548l.0653 .0451l.0653-.0549l.0653 .0459l.0653-.0534l.0653 .0473l.0653-.0533l.0653 .0473l.0653-.0523l.0653 .0482l.0653-.053l.0653 .0468l.0653-.0535l.0653 .0467l.0653-.0528l.0653 .0478l.0653-.0524l.0653 .0479l.0653-.0518l.0653 .0476l.0653-.0531l.0653 .0463l.0653-.0539l.0653 .0463l.0653-.0542l.0653 .0463l.0653-.0531l.0653 .0475l.0653-.0523l.0653 .0486l.0653-.0505l.0653 .049l.0653-.0505l.0653 .0495l.0653-.0506l.0653 .0493l.0653-.0503l.0653 .05l.0653-.0496l.0653 .0508l.0653-.0482l.0653 .0519l.0653-.0475l.0653 .0526l.0653-.0468l.0653 .0536l.0653-.0456l.0653 .0533l.0653-.0456l.0653 .0541l.0653-.0444l.0653 .0544l.0653-.0445l.0653 .0556l.0653-.0428l.0653 .0555l.0653-.0444l.0653 .0547l.0653-.0437l.0653 .0551l.0653-.0448l.0653 .0551l.0653-.0433l.0653 .0551l.0653-.0437l.0653 .0539l.0653-.0451l.0653 .053l.0653-.0461l.0653 .0524l.0653-.046l.0653 .053l.0653-.0454l.0653 .0529l.0653-.0448l.0653 .0533l.0653-.0456l.0653 .0528l.0653-.0467l.0653 .0526l.0653-.0456l.0653 .0535l.0653-.0451l.0653 .0528l.0653-.0455l.0653 .0526l.0653-.0449l.0653 .0528l.0653-.0458l.0653 .0515l.0653-.0465l.0653 .051l.0653-.0472l.0653 .0506l.0653-.0479l.0653 .0503l.0653-.0479l.0653 .0495l.0653-.0478l.0653 .0501l.0653-.0488l.0653 .0497l.0653-.0481l.0653 .0501l.0653-.048l.0653 .0497l.0653-.0474l.0653 .051l.0653-.0462l.0653 .0509l.0653-.0471l.0653 .0503l.0653-.0465l.0653 .0514l.0653-.047l.0653 .0514l.0653-.046l.0653 .0522l.0653-.0456l.0653 .0518l.0653-.0456l.0653 .0529l.0653-.0438l.0653 .0541l.0653-.0427l.0653 .0554l.0653-.0419l.0653 .0561l.0653-.0418l.0653 .0564l.0653-.04l.0653 .0566l.0653-.0405l.0653 .0567l.0653-.041l.0653 .0563l.0653-.0406l.0653 .0565l.0653-.0399l.0653 .0564l.0653-.0407l.0653 .0561l.0653-.0411l.0653 .0551l.0653-.0416l.0653 .0558l.0653-.0414l.0653 .0552l.0653-.0406l.0653 .0568l.0653-.0395l.0653 .0574l.0653-.0409l.0653 .0553l.0653-.0411l.0653 .0558l.0653-.0398l.0653 .0575l.0653-.0394l.0653 .0561l.0653-.041l.0653 .0564l.0653-.0406l.0653 .0548l.0653-.042l.0653 .0537l.0653-.0427l.0653 .0533l.0653-.0435l.0653 .0533l.0653-.0435l.0653 .0524l.0653-.0436l.0653 .0524l.0653-.0434l.0653 .0517l.0653-.0449l.0653 .0506l.0653-.0462l.0653 .0499l.0653-.0459l.0653 .0494l.0653-.046l.0653 .0502l.0653-.0453l.0653 .0503l.0653-.0456l.0653 .0504l.0653-.0457l.0653 .0505l.0653-.0455l.0653 .0486l.0653-.0473l.0653 .0496l.0653-.0456l.0653 .0507l.0653-.0455l.0653 .0495l.0653-.0468l.0653 .0492l.0653-.0462l.0653 .0498l.0653-.0463l.0653 .0493l.0653-.0456l.0653 .0504l.0653-.0447l.0653 .0509l.0653-.0448l.0653 .0503l.0653-.0451l.0653 .05l.0653-.0448l.0653 .0509l.0653-.045l.0653 .0506l.0653-.0446l.0653 .0504l.0653-.0448l.0653 .0502l.0653-.0457l.0653 .0506l.0653-.0434l.0653 .0511l.0653-.0435l.0653 .0513l.0653-.0428l.0653 .0529l.0653-.0411l.0653 .0529l.0653-.0413l.0653 .0538l.0653-.0413l.0653 .0543l.0653-.041l.0653 .0533l.0653-.042l.0653 .053l.0653-.0407l.0653 .0548l.0653-.0406l.0653 .0537l.0653-.0412l.0653 .0526l.0653-.042l.0653 .0519l.0653-.0437l.0653 .0507l.0653-.044l.0653 .0497l.0653-.0443l.0653 .0506l.0653-.0443l.0653 .0503l.0653-.044l.0653 .0509l.0653-.0436l.0653 .0507l.0653-.0432l.0653 .0522l.0653-.0423l.0653 .0517l.0653-.0418l.0653 .052l.0653-.042l.0653 .0514l.0653-.0424l.0653 .0519l.0653-.0426l.0653 .0505l.0653-.0428l.0653 .0508l.0653-.0429l.0653 .0506l.0653-.0431l.0653 .0506l.0653-.0422l.0653 .0513l.0653-.0421l.0653 .0524l.0653-.0406l.0653 .0524l.0653-.0418l.0653 .0524l.0653-.0414l.0653 .0519l.0653-.0423l.0653 .0512l.0653-.0433l.0653 .0496l.0653-.0442l.0653 .0501l.0653-.0446l.0653 .0485l.0653-.0454l.0653 .049l.0653-.0442l.0653 .0485l.0653-.0447l.0653 .0496l.0653-.044l.0653 .0497l.0653-.0434l.0653 .0494l.0653-.0431l.0653 .0503l.0653-.0426l.0653 .0508l.0653-.0426l.0653 .0504l.0653-.0432l.0653 .05l.0653-.0432l.0653 .0495l.0653-.0435l.0653 .0494l.0653-.0438l.0653 .049l.0653-.0433l.0653 .0494l.0653-.0432l.0653 .0496l.0653-.0425l.0653 .0511l.0653-.0412l.0653 .0515l.0653-.0412l.0653 .051l.0653-.0418l.0653 .0497l.0653-.043l.0653 .0495l.0653-.044l.0653 .0485l.0653-.0437l.0653 .0484l.0653-.045l.0653 .0478l.0653-.044l.0653 .049l.0653-.0435l.0653 .0493l.0653-.0422l.0653 .0499l.0653-.0427l.0653 .0498l.0653-.0418l.0653 .0505l.0653-.0415l.0653 .0512l.0653-.0404l.0653 .0522l.0653-.0408l.0653 .0504l.0653-.0413l.0653 .0508l.0653-.0406l.0653 .0532l.0653-.0383l.0653 .0547l.0653-.0375l.0653 .0553l.0653-.0361l.0653 .0557l.0653-.0371l.0653 .0549l.0653-.0362l.0653 .0554l.0653-.0372l.0653 .0535l.0653-.0382l.0653 .0528l.0653-.0393l.0653 .0527l.0653-.0383l.0653 .0531l.0653-.0388l.0653 .0526l.0653-.0385l.0653 .0532l.0653-.0387l.0653 .0514l.0653-.0397l.0653 .0519l.0653-.0406l.0653 .0502l.0653-.0416l.0653 .0492l.0653-.0427l.0653 .0489l.0653-.0427l.0653 .0479l.0653-.0435l.0653 .0478l.0653-.0428l.0653 .0479l.0653-.0439l.0653 .0474l.0653-.0436l.0653 .0479l.0653-.0432l.0653 .048l.0653-.0434l.0653 .0475l.0653-.0447l.0653 .0465l.0653-.0448l.0653 .046l.0653-.0461l.0653 .0438l.0653-.0483l.0653 .0425l.0653-.0483l.0653 .0428l.0653-.0471l.0653 .0446l.0653-.0463l.0653 .0443l.0653-.046l.0653 .044l.0653-.0469l.0653 .0443l.0653-.0457l.0653 .0459l.0653-.0447l.0653 .0465l.0653-.043l.0653 .0476l.0653-.043l.0653 .0473l.0653-.0433l.0653 .0464l.0653-.0439l.0653 .0463l.0653-.0434l.0653 .0465l.0653-.0437l.0653 .0471l.0653-.0432l.0653 .0478l.0653-.0422l.0653 .0485l.0653-.0423l.0653 .0482l.0653-.0429l.0653 .0466l.0653-.0434l.0653 .0457l.0653-.0451l.0653 .0445l.0653-.0457l.0653 .0437l.0653-.0466l.0653 .0434l.0653-.0468l.0653 .042l.0653-.0487l.0653 .0409l.0653-.0491l.0653 .0413l.0653-.048l.0653 .0428l.0653-.0465l.0653 .044l.0653-.046l.0653 .044l.0653-.0461l.0653 .0438l.0653-.046l.0653 .0435l.0653-.0458l.0653 .0433l.0653-.0465l.0653 .0429l.0653-.0462l.0653 .0445l.0653-.0463l.0653 .0434l.0653-.046l.0653 .0436l.0653-.0457l.0653 .0447l.0653-.0448l.0653 .044l.0653-.0456l.0653 .0446l.0653-.0451l.0653 .0441l.0653-.0446l.0653 .0441l.0653-.0457l.0653 .0436l.0653-.0464l.0653 .0425l.0653-.0467l.0653 .0435l.0653-.0455l.0653 .0432l.0653-.0462l.0653 .0428l.0653-.0467l.0653 .0422l.0653-.046l.0653 .0423l.0653-.0466l.0653 .0413l.0653-.0466l.0653 .0427l.0653-.0461l.0653 .0432l.0653-.0464l.0653 .0415l.0653-.047l.0653 .0412l.0653-.0468l.0653 .0425l.0653-.0458l.0653 .0433l.0653-.0456l.0653 .0438l.0653-.0448l.0653 .0434l.0653-.0451l.0653 .0432l.0653-.0454l.0653 .042l.0653-.0473l.0653 .0408l.0653-.0479l.0653 .0407l.0653-.0474l.0653 .041l.0653-.0477l.0653 .041l.0653-.0481l.0653 .0403l.0653-.0477l.0653 .0416l.0653-.0461l.0653 .0423l.0653-.0451l.0653 .0437l.0653-.0447l.0653 .0438l.0653-.0447l.0653 .0432l.0653-.0449l.0653 .043l.0653-.0452l.0653 .0426l.0653-.0457l.0653 .0422l.0653-.0459l.0653 .0418l.0653-.0461l.0653 .0418l.0653-.0453l.0653 .0435l.0653-.0435l.0653 .0443l.0653-.0436l.0653 .0446l.0653-.0429l.0653 .0453l.0653-.041l.0653 .0476l.0653-.0405l.0653 .0464l.0653-.0419l.0653 .0448l.0653-.0439l.0653 .0441l.0653-.0431l.0653 .045l.0653-.0428l.0653 .0441l.0653-.0436l.0653 .0447l.0653-.0425l.0653 .0446l.0653-.0425l.0653 .0454l.0653-.0417l.0653 .0456l.0653-.0415l.0653 .0456l.0653-.0414l.0653 .046l.0653-.0415l.0653 .0463l.0653-.0406l.0653 .0463l.0653-.0408l.0653 .0463l.0653-.0407l.0653 .0461l.0653-.0407l.0653 .047l.0653-.0396l.0653 .0489l.0653-.0376l.0653 .0494l.0653-.038l.0653 .0483l.0653-.0385l.0653 .0486l.0653-.0383l.0653 .0482l.0653-.0395l.0653 .0477l.0653-.0388l.0653 .048l.0653-.0386l.0653 .0488l.0653-.0378l.0653 .0495l.0653-.038l.0653 .0475l.0653-.0394l.0653 .0465l.0653-.0405l.0653 .0462l.0653-.0394l.0653 .0472l.0653-.0398l.0653 .0466l.0653-.0407l.0653 .0451l.0653-.0425l.0653 .0431l.0653-.0437l.0653 .0422l.0653-.0446l.0653 .0422l.0653-.0435l.0653 .0438l.0653-.0423l.0653 .0434l.0653-.0432l.0653 .0432l.0653-.0437l.0653 .0428l.0653-.0435l.0653 .0426l.0653-.0437l.0653 .0421l.0653-.0442l.0653 .0424l.0653-.0437l.0653 .0434l.0653-.0423l.0653 .0436l.0653-.0442l.0653 .0417l.0653-.0443l.0653 .0412l.0653-.0444l.0653 .0419l.0653-.043l.0653 .0428l.0653-.0427l.0653 .0441l.0653-.0415l.0653 .0448l.0653-.0414l.0653 .0435l.0653-.0431l.0653 .0431l.0653-.0414l.0653 .0452l.0653-.0409l.0653 .0447l.0653-.0412l.0653 .0442l.0653-.0408l.0653 .0448l.0653-.0405l.0653 .0451l.0653-.0408l.0653 .0444l.0653-.042l.0653 .0436l.0653-.0398l.0653 .0458l.0653-.0394l.0653 .0462l.0653-.0398l.0653 .0458l.0653-.0399l.0653 .0456l.0653-.0396l.0653 .0454l.0653-.0409l.0653 .0432l.0653-.0428l.0653 .0429l.0653-.0412l.0653 .0448l.0653-.0412l.0653 .0435l.0653-.0412l.0653 .0433l.0653-.0423l.0653 .0434l.0653-.0426l.0653 .0423l.0653-.0425l.0653 .0425l.0653-.0427l.0653 .0426l.0653-.0408l.0653 .0448l.0653-.0408l.0653 .0438l.0653-.0414l.0653 .0431l.0653-.0413l.0653 .0429l.0653-.0421l.0653 .0433l.0653-.0415l.0653 .0426l.0653-.0416l.0653 .0438l.0653-.0409l.0653 .0436l.0653-.0412l.0653 .0425l.0653-.0419l.0653 .042l.0653-.0424l.0653 .043l.0653-.0412l.0653 .0426l.0653-.0417l.0653 .0431l.0653-.0416l.0653 .0432l.0653-.0405l.0653 .0436l.0653-.0418l.0653 .0429l.0653-.0412l.0653 .0431l.0653-.0416l.0653 .0431l.0653-.0409l.0653 .0442l.0653-.04l.0653 .0446l.0653-.0401l.0653 .0446l.0653-.0401l.0653 .0437l.0653-.0407l.0653 .0434l.0653-.0409l.0653 .0431l.0653-.0422l.0653 .0423l.0653-.0421l.0653 .0414l.0653-.0426l.0653 .042l.0653-.0425l.0653 .0414l.0653-.0424l.0653 .0411l.0653-.0429l.0653 .0413l.0653-.0424l.0653 .0409l.0653-.0438l.0653 .04l.0653-.0443l.0653 .0394l.0653-.0444l.0653 .0393l.0653-.044l.0653 .0391l.0653-.0447l.0653 .0395l.0653-.0437l.0653 .0406l.0653-.0424l.0653 .0414l.0653-.043l.0653 .0404l.0653-.0417l.0653 .0423l.0653-.0406l.0653 .0431l.0653-.04l.0653 .0434l.0653-.0392l.0653 .0444l.0653-.0388l.0653 .045l.0653-.038l.0653 .0451l.0653-.0384l.0653 .0452l.0653-.0383l.0653 .0448l.0653-.038l.0653 .0462l.0653-.0369l.0653 .0459l.0653-.0378l.0653 .0448l.0653-.0377l.0653 .0453l.0653-.0383l.0653 .0439l.0653-.0397l.0653 .0437l.0653-.0391l.0653 .0442l.0653-.0391l.0653 .0434l.0653-.0396l.0653 .0436l.0653-.0403l.0653 .0418l.0653-.0424l.0653 .0399l.0653-.0431l.0653 .0393l.0653-.0442l.0653 .038l.0653-.0445l.0653 .0379l.0653-.0447l.0653 .0388l.0653-.0434l.0653 .0386l.0653-.0446l.0653 .0385l.0653-.0441l.0653 .0389l.0653-.0432l.0653 .0395l.0653-.0427l.0653 .0406l.0653-.0412l.0653 .041l.0653-.0416l.0653 .0404l.0653-.0426l.0653 .0403l.0653-.0431l.0653 .0385l.0653-.0435l.0653 .0397l.0653-.0419l.0653 .0407l.0653-.0418l.0653 .0412l.0653-.0412l.0653 .0421l.0653-.0403l.0653 .0412l.0653-.0409l.0653 .0416l.0653-.0419l.0653 .0402l.0653-.0423l.0653 .0395l.0653-.0426l.0653 .0404l.0653-.0423l.0653 .0398l.0653-.0425l.0653 .0393l.0653-.0432l.0653 .0388l.0653-.0434l.0653 .0395l.0653-.0426l.0653 .0393l.0653-.042l.0653 .0404l.0653-.0414l.0653 .0402l.0653-.0413l.0653 .0407l.0653-.0415l.0653 .0399l.0653-.0413l.0653 .0408l.0653-.0408l.0653 .0423l.0653-.0397l.0653 .0416l.0653-.0395l.0653 .0426l.0653-.0381l.0653 .0437l.0653-.0379l.0653 .0433l.0653-.0388l.0653 .0427l.0653-.0389l.0653 .042l.0653-.0389l.0653 .0426l.0653-.039l.0653 .0421l.0653-.0389l.0653 .0427l.0653-.0392l.0653 .0419l.0653-.04l.0653 .0412l.0653-.0402l.0653 .0406l.0653-.041l.0653 .0408l.0653-.0411l.0653 .0398l.0653-.0415l.0653 .039l.0653-.0421l.0653 .0394l.0653-.0422l.0653 .0382l.0653-.0432l.0653 .0381l.0653-.0427l.0653 .0379l.0653-.0436l.0653 .0367l.0653-.0437l.0653 .0386l.0653-.0422l.0653 .0384l.0653-.0423l.0653 .0385l.0653-.0429l.0653 .0387l.0653-.0416l.0653 .0402l.0653-.0402l.0653 .041l.0653-.0405l.0653 .0402l.0653-.0404l.0653 .0401l.0653-.0412l.0653 .0392l.0653-.0411l.0653 .0396l.0653-.041l.0653 .0395l.0653-.0411l.0653 .0398l.0653-.0407l.0653 .0395l.0653-.0417l.0653 .0388l.0653-.0414l.0653 .0387l.0653-.0425l.0653 .0373l.0653-.0439l.0653 .0366l.0653-.0435l.0653 .0372l.0653-.0433l.0653 .0364l.0653-.0436l.0653 .0369l.0653-.0438l.0653 .0363l.0653-.0437l.0653 .0379l.0653-.0416l.0653 .0393l.0653-.04l.0653 .0407l.0653-.0397l.0653 .0404l.0653-.0395l.0653 .041l.0653-.0385l.0653 .0418l.0653-.0381l.0653 .0425l.0653-.0376l.0653 .0427l.0653-.0373l.0653 .0438l.0653-.0356l.0653 .0451l.0653-.034l.0653 .046l.0653-.0348l.0653 .0452l.0653-.0348l.0653 .0454l.0653-.0354l.0653 .044l.0653-.0357l.0653 .044l.0653-.0359l.0653 .0436l.0653-.0365l.0653 .0426l.0653-.0376l.0653 .0419l.0653-.0396l.0653 .0398l.0653-.0412l.0653 .0382l.0653-.0415l.0653 .0388l.0653-.0405l.0653 .0392l.0653-.0404l.0653 .0393l.0653-.0401l.0653 .0394l.0653-.0402l.0653 .0388l.0653-.0408l.0653 .0391l.0653-.0396l.0653 .0398l.0653-.0394l.0653 .0403l.0653-.0397l.0653 .0394l.0653-.0401l.0653 .0393l.0653-.0395l.0653 .0391l.0653-.0407l.0653 .0391l.0653-.04l.0653 .0399l.0653-.0386l.0653 .0411l.0653-.0377l.0653 .0417l.0653-.0378l.0653 .0409l.0653-.0387l.0653 .0394l.0653-.0397l.0653 .0401l.0653-.0393l.0653 .0398l.0653-.0393l.0653 .0393l.0653-.0411l.0653 .0385l.0653-.041l.0653 .0382l.0653-.0405l.0653 .0392l.0653-.0395l.0653 .0394l.0653-.0395l.0653 .04l.0653-.0396l.0653 .0398l.0653-.0388l.0653 .0402l.0653-.039l.0653 .0395l.0653-.0388l.0653 .0405l.0653-.0382l.0653 .0402l.0653-.0388l.0653 .0395l.0653-.04l.0653 .0392l.0653-.0391l.0653 .0393l.0653-.039l.0653 .0392l.0653-.0397l.0653 .04l.0653-.0377l.0653 .0401l.0653-.0388l.0653 .0395l.0653-.0395l.0653 .0384l.0653-.0407l.0653 .0379l.0653-.0403l.0653 .0384l.0653-.0394l.0653 .0397l.0653-.0384l.0653 .0395l.0653-.0385l.0653 .0396l.0653-.0388l.0653 .0393l.0653-.0389l.0653 .0398l.0653-.0383l.0653 .0402l.0653-.0372l.0653 .0411l.0653-.0372l.0653 .0415l.0653-.0369l.0653 .0417l.0653-.0365l.0653 .0411l.0653-.0372l.0653 .0409l.0653-.0367l.0653 .0416l.0653-.0368l.0653 .0409l.0653-.0369l.0653 .0408l.0653-.0376l.0653 .0399l.0653-.0394l.0653 .0377l.0653-.0404l.0653 .0375l.0653-.0409l.0653 .0371l.0653-.0408l.0653 .0368l.0653-.0407l.0653 .0375l.0653-.0404l.0653 .0378l.0653-.041l.0653 .0367l.0653-.0413l.0653 .0364l.0653-.0419l.0653 .0357l.0653-.0417l.0653 .0363l.0653-.0414l.0653 .036l.0653-.0421l.0653 .0354l.0653-.0421l.0653 .0356l.0653-.0408l.0653 .0364l.0653-.0415l.0653 .0356l.0653-.0412l.0653 .0365l.0653-.0404l.0653 .0371l.0653-.0398l.0653 .0383l.0653-.0391l.0653 .0374l.0653-.0402l.0653 .0364l.0653-.0418l.0653 .0344l.0653-.0421l.0653 .0354l.0653-.0413l.0653 .0354l.0653-.0425l.0653 .0341l.0653-.0437l.0653 .0336l.0653-.044l.0653 .0339l.0653-.0428l.0653 .0338l.0653-.0429l.0653 .0346l.0653-.0431l.0653 .0343l.0653-.0423l.0653 .0346l.0653-.0427l.0653 .0344l.0653-.0425l.0653 .0347l.0653-.0422l.0653 .0346l.0653-.0428l.0653 .0346l.0653-.0427l.0653 .0347l.0653-.0414l.0653 .0362l.0653-.0407l.0653 .0366l.0653-.0405l.0653 .036l.0653-.0402l.0653 .0378l.0653-.0387l.0653 .0382l.0653-.0384l.0653 .0382l.0653-.038l.0653 .0395l.0653-.037l.0653 .0393l.0653-.0374l.0653 .0395l.0653-.0374l.0653 .0391l.0653-.0372l.0653 .039l.0653-.0384l.0653 .0378l.0653-.0388l.0653 .0378l.0653-.0388l.0653 .0379l.0653-.0379l.0653 .0388l.0653-.0375l.0653 .0388l.0653-.0378l.0653 .0376l.0653-.0387l.0653 .038l.0653-.0383l.0653 .0372l.0653-.0387l.0653 .0382l.0653-.0377l.0653 .0381l.0653-.0392l.0653 .0372l.0653-.0393l.0653 .0372l.0653-.0389l.0653 .0373l.0653-.0387l.0653 .0386l.0653-.0377l.0653 .0388l.0653-.0367l.0653 .0394l.0653-.0373l.0653 .0387l.0653-.0374l.0653 .0389l.0653-.0373l.0653 .0381l.0653-.0381l.0653 .0382l.0653-.0371l.0653 .0391l.0653-.0376l.0653 .0386l.0653-.0365l.0653 .0395l.0653-.0362l.0653 .039l.0653-.0374l.0653 .0391l.0653-.036l.0653 .0395l.0653-.0364l.0653 .0393l.0653-.0367l.0653 .0383l.0653-.0371l.0653 .0378l.0653-.0374l.0653 .0381l.0653-.038l.0653 .0374l.0653-.0378l.0653 .0377l.0653-.0387l.0653 .0364l.0653-.0394l.0653 .0362l.0653-.0389l.0653 .0369l.0653-.0384l.0653 .0378l.0653-.0372l.0653 .0388l.0653-.0372l.0653 .038l.0653-.0376l.0653 .0382l.0653-.0368l.0653 .0386l.0653-.0374l.0653 .0383l.0653-.0366l.0653 .0389l.0653-.0361l.0653 .0402l.0653-.0347l.0653 .0406l.0653-.0347l.0653 .0403l.0653-.0346l.0653 .0411l.0653-.034l.0653 .0412l.0653-.0332l.0653 .043l.0653-.0326l.0653 .0424l.0653-.0335l.0653 .0412l.0653-.0343l.0653 .0393l.0653-.0362l.0653 .0381l.0653-.0368l.0653 .0383l.0653-.0368l.0653 .0377l.0653-.0379l.0653 .0366l.0653-.038l.0653 .0363l.0653-.039l.0653 .0351l.0653-.0403l.0653 .0342l.0653-.0413l.0653 .0335l.0653-.0415l.0653 .033l.0653-.0422l.0653 .0323l.0653-.0428l.0653 .0317l.0653-.0435l.0653 .0302l.0653-.0441l.0653 .0307l.0653-.0434l.0653 .0315l.0653-.0438l.0653 .0314l.0653-.0433l.0653 .0309l.0653-.0443l.0653 .0303l.0653-.0433l.0653 .0311l.0653-.0438l.0653 .0307l.0653-.0437l.0653 .0316l.0653-.043l.0653 .0322l.0653-.0427l.0653 .0322l.0653-.0416l.0653 .0329l.0653-.0408l.0653 .0345l.0653-.0396l.0653 .0353l.0653-.0389l.0653 .035l.0653-.0392l.0653 .036l.0653-.0385l.0653 .0359l.0653-.0388l.0653 .0349l.0653-.0383l.0653 .0365l.0653-.0377l.0653 .0372l.0653-.0365l.0653 .0375l.0653-.0374l.0653 .0369l.0653-.0364l.0653 .0382l.0653-.0363l.0653 .0369l.0653-.0375l.0653 .0359l.0653-.0378l.0653 .0356l.0653-.0382l.0653 .0357l.0653-.0387l.0653 .0356l.0653-.0382l.0653 .0348l.0653-.0396l.0653 .0345l.0653-.0389l.0653 .035l.0653-.0386l.0653 .0348l.0653-.0394l.0653 .0344l.0653-.0402l.0653 .0332l.0653-.0403l.0653 .034l.0653-.0399l.0653 .0342l.0653-.0396l.0653 .034l.0653-.0396l.0653 .0344l.0653-.0387l.0653 .0358l.0653-.0376l.0653 .0367l.0653-.0367l.0653 .0368l.0653-.037l.0653 .0372l.0653-.0368l.0653 .0361l.0653-.0379l.0653 .0355l.0653-.0377l.0653 .0365l.0653-.0377l.0653 .0349l.0653-.0384l.0653 .0354l.0653-.0375l.0653 .0367l.0653-.0366l.0653 .0365l.0653-.0374l.0653 .0351l.0653-.0378l.0653 .0358l.0653-.0374l.0653 .0359l.0653-.037l.0653 .0357l.0653-.0384l.0653 .0341l.0653-.0396l.0653 .0329l.0653-.0404l.0653 .033l.0653-.0408l.0653 .032l.0653-.0408l.0653 .0325l.0653-.0399l.0653 .0336l.0653-.0389l.0653 .0337l.0653-.0392l.0653 .0342l.0653-.039l.0653 .0348l.0653-.0383l.0653 .034l.0653-.0393l.0653 .034l.0653-.0384l.0653 .0344l.0653-.0392l.0653 .0333l.0653-.04l.0653 .0327l.0653-.0405l.0653 .0323l.0653-.0399l.0653 .0337l.0653-.0381l.0653 .0353l.0653-.0379l.0653 .0354l.0653-.0374l.0653 .0358l.0653-.0366l.0653 .0359l.0653-.0373l.0653 .0354l.0653-.0378l.0653 .0349l.0653-.0378l.0653 .0351l.0653-.0376l.0653 .0339l.0653-.0385l.0653 .0342l.0653-.0378l.0653 .0351l.0653-.0378l.0653 .0349l.0653-.0373l.0653 .0358l.0653-.0365l.0653 .0359l.0653-.0369l.0653 .0357l.0653-.0363l.0653 .0358l.0653-.0371l.0653 .0348l.0653-.0375l.0653 .0345l.0653-.0374l.0653 .0344l.0653-.0393l.0653 .0331l.0653-.0388l.0653 .0333l.0653-.0393l.0653 .0334l.0653-.0382l.0653 .0341l.0653-.0375l.0653 .0352l.0653-.0378l.0653 .0349l.0653-.0372l.0653 .0344l.0653-.0378l.0653 .0349l.0653-.0365l.0653 .0357l.0653-.0365l.0653 .036l.0653-.0363l.0653 .0359l.0653-.0368l.0653 .0353l.0653-.0362l.0653 .0365l.0653-.0351l.0653 .0375l.0653-.0345l.0653 .0371l.0653-.0346l.0653 .0379l.0653-.0345l.0653 .0377l.0653-.0341l.0653 .0373l.0653-.0351l.0653 .0365l.0653-.0362l.0653 .0354l.0653-.0356l.0653 .036l.0653-.0361l.0653 .0361l.0653-.0358l.0653 .0358l.0653-.0368l.0653 .0347l.0653-.0363l.0653 .0353l.0653-.0363l.0653 .0352l.0653-.0359l.0653 .0352l.0653-.0373l.0653 .0344l.0653-.037l.0653 .0345l.0653-.037l.0653 .0355l.0653-.0355l.0653 .0358l.0653-.036l.0653 .0357l.0653-.0361l.0653 .0349l.0653-.0363l.0653 .035l.0653-.0363l.0653 .036l.0653-.0349l.0653 .0371l.0653-.0342l.0653 .0369l.0653-.034l.0653 .0379l.0653-.0328l.0653 .038l.0653-.0334l.0653 .0375l.0653-.0339l.0653 .0369l.0653-.0352l.0653 .0364l.0653-.0342l.0653 .0369l.0653-.0345l.0653 .0368l.0653-.0346l.0653 .0363l.0653-.0351l.0653 .0358l.0653-.0353l.0653 .035l.0653-.0358l.0653 .0354l.0653-.0356l.0653 .0356l.0653-.0355l.0653 .0349l.0653-.0368l.0653 .0339l.0653-.037l.0653 .0339l.0653-.0377l.0653 .0331l.0653-.0384l.0653 .0327l.0653-.0384l.0653 .0325l.0653-.0381l.0653 .0332l.0653-.0369l.0653 .0343l.0653-.0367l.0653 .0338l.0653-.0369l.0653 .0329l.0653-.0381l.0653 .0331l.0653-.0374l.0653 .0331l.0653-.0376l.0653 .0334l.0653-.0367l.0653 .0342l.0653-.0365l.0653 .0344l.0653-.036l.0653 .0346l.0653-.0362l.0653 .0339l.0653-.037l.0653 .0343l.0653-.0359l.0653 .0346l.0653-.036l.0653 .0346l.0653-.036l.0653 .0343l.0653-.0355l.0653 .0351l.0653-.0358l.0653 .0344l.0653-.0363l.0653 .0348l.0653-.0357l.0653 .0353l.0653-.0351l.0653 .0343l.0653-.0368l.0653 .0336l.0653-.0364l.0653 .0348l.0653-.0348l.0653 .0358l.0653-.0341l.0653 .0362l.0653-.0342l.0653 .0363l.0653-.0338l.0653 .0364l.0653-.0339l.0653 .036l.0653-.0344l.0653 .0356l.0653-.0343l.0653 .0364l.0653-.0336l.0653 .0372l.0653-.0329l.0653 .0373l.0653-.0331l.0653 .0373l.0653-.0328l.0653 .0373l.0653-.0329l.0653 .0371l.0653-.0327l.0653 .0378l.0653-.0311l.0653 .0394l.0653-.0309l.0653 .0382l.0653-.0328l.0653 .0367l.0653-.033l.0653 .037l.0653-.0327l.0653 .0372l.0653-.0324l.0653 .0381l.0653-.0317l.0653 .0382l.0653-.032l.0653 .0377l.0653-.0328l.0653 .0365l.0653-.0336l.0653 .0364l.0653-.0342l.0653 .0361l.0653-.0326l.0653 .0374l.0653-.0325l.0653 .0365l.0653-.0328l.0653 .0373l.0653-.032l.0653 .0375l.0653-.033l.0653 .0365l.0653-.0326l.0653 .0374l.0653-.0319l.0653 .0377l.0653-.0321l.0653 .037l.0653-.0324l.0653 .0369l.0653-.0328l.0653 .0364l.0653-.0326l.0653 .0375l.0653-.0312l.0653 .0384l.0653-.0312l.0653 .0381l.0653-.0307l.0653 .0383l.0653-.0313l.0653 .0378l.0653-.0324l.0653 .0361l.0653-.0332l.0653 .0365l.0653-.0328l.0653 .0364l.0653-.0332l.0653 .0357l.0653-.033l.0653 .0363l.0653-.0333l.0653 .0354l.0653-.0342l.0653 .0347l.0653-.0341l.0653 .0356l.0653-.0334l.0653 .0362l.0653-.0324l.0653 .0367l.0653-.0332l.0653 .0363l.0653-.0325l.0653 .0373l.0653-.0314l.0653 .038l.0653-.0313l.0653 .0379l.0653-.0308l.0653 .0379l.0653-.031l.0653 .0383l.0653-.0306l.0653 .0381l.0653-.0316l.0653 .0371l.0653-.0323l.0653 .0373l.0653-.0313l.0653 .0373l.0653-.032l.0653 .0371l.0653-.0313l.0653 .0377l.0653-.0311l.0653 .0373l.0653-.0324l.0653 .036l.0653-.0333l.0653 .0351l.0653-.0338l.0653 .0342l.0653-.0348l.0653 .0337l.0653-.0353l.0653 .0332l.0653-.0358l.0653 .0321l.0653-.0363l.0653 .0329l.0653-.0354l.0653 .0331l.0653-.036l.0653 .0326l.0653-.0353l.0653 .0334l.0653-.035l.0653 .0333l.0653-.0353l.0653 .0336l.0653-.0341l.0653 .0347l.0653-.0338l.0653 .0349l.0653-.0344l.0653 .0337l.0653-.0347l.0653 .0337l.0653-.0347l.0653 .0337l.0653-.0349l.0653 .0333l.0653-.0359l.0653 .0323l.0653-.0356l.0653 .0328l.0653-.0359l.0653 .0328l.0653-.0356l.0653 .0327l.0653-.0361l.0653 .032l.0653-.0355l.0653 .0332l.0653-.0351l.0653 .0326l.0653-.0362l.0653 .032l.0653-.036l.0653 .032l.0653-.0355l.0653 .0324l.0653-.0353l.0653 .0329l.0653-.0349l.0653 .0335l.0653-.0347l.0653 .034l.0653-.0337l.0653 .0348l.0653-.0325l.0653 .0361l.0653-.0314l.0653 .0368l.0653-.0317l.0653 .0361l.0653-.0313l.0653 .0371l.0653-.0315l.0653 .036l.0653-.0315l.0653 .0366l.0653-.0316l.0653 .0358l.0653-.0321l.0653 .0365l.0653-.0313l.0653 .0365l.0653-.0317l.0653 .0367l.0653-.0321l.0653 .0358l.0653-.0326l.0653 .0343l.0653-.0336l.0653 .0341l.0653-.0333l.0653 .0343l.0653-.0343l.0653 .0329l.0653-.0347l.0653 .033l.0653-.0345l.0653 .0329l.0653-.0349l.0653 .0324l.0653-.0347l.0653 .0325l.0653-.0351l.0653 .0331l.0653-.0348l.0653 .0327l.0653-.0348l.0653 .0329l.0653-.0342l.0653 .0327l.0653-.0352l.0653 .0325l.0653-.0349l.0653 .0313l.0653-.0364l.0653 .0303l.0653-.037l.0653 .0312l.0653-.0363l.0653 .0307l.0653-.0369l.0653 .0309l.0653-.0361l.0653 .0312l.0653-.0364l.0653 .0304l.0653-.0369l.0653 .0305l.0653-.0372l.0653 .0302l.0653-.0373l.0653 .0299l.0653-.0371l.0653 .0297l.0653-.0373l.0653 .0301l.0653-.0373l.0653 .0302l.0653-.0376l.0653 .0297l.0653-.0373l.0653 .0297l.0653-.0381l.0653 .0293l.0653-.0372l.0653 .03l.0653-.0375l.0653 .0293l.0653-.0376l.0653 .03l.0653-.0361l.0653 .0306l.0653-.036l.0653 .0311l.0653-.0354l.0653 .0321l.0653-.035l.0653 .0316l.0653-.0345l.0653 .0329l.0653-.034l.0653 .033l.0653-.0337l.0653 .0328l.0653-.0347l.0653 .0324l.0653-.0346l.0653 .0323l.0653-.0347l.0653 .0329l.0653-.0334l.0653 .0338l.0653-.0325l.0653 .0347l.0653-.0323l.0653 .0349l.0653-.0316l.0653 .0352l.0653-.0307l.0653 .036l.0653-.0316l.0653 .0344l.0653-.0327l.0653 .0338l.0653-.0328l.0653 .0331l.0653-.0335l.0653 .0331l.0653-.0337l.0653 .0328l.0653-.034l.0653 .0329l.0653-.033l.0653 .0335l.0653-.0327l.0653 .0336l.0653-.033l.0653 .0334l.0653-.0324l.0653 .0336l.0653-.0336l.0653 .0333l.0653-.0335l.0653 .0325l.0653-.034l.0653 .0317l.0653-.035l.0653 .0307l.0653-.036l.0653 .03l.0653-.0363l.0653 .0303l.0653-.0355l.0653 .0313l.0653-.0355l.0653 .0308l.0653-.0354l.0653 .031l.0653-.0352l.0653 .0314l.0653-.0345l.0653 .0311l.0653-.0365l.0653 .0294l.0653-.037l.0653 .0286l.0653-.0372l.0653 .029l.0653-.0375l.0653 .0287l.0653-.0371l.0653 .0288l.0653-.0368l.0653 .0297l.0653-.0362l.0653 .0305l.0653-.0343l.0653 .0325l.0653-.0334l.0653 .033l.0653-.0328l.0653 .0336l.0653-.032l.0653 .0339l.0653-.0324l.0653 .0342l.0653-.031l.0653 .0351l.0653-.0303l.0653 .0352l.0653-.0309l.0653 .0357l.0653-.0292l.0653 .0377l.0653-.0278l.0653 .0391l.0653-.0272l.0653 .0389l.0653-.0272l.0653 .039l.0653-.0264l.0653 .0394l.0653-.0266l.0653 .0396l.0653-.0267l.0653 .0392l.0653-.0271l.0653 .0386l.0653-.0274l.0653 .0384l.0653-.0273l.0653 .0384l.0653-.0282l.0653 .0367l.0653-.0288l.0653 .0366l.0653-.0296l.0653 .0354l.0653-.0303l.0653 .0351l.0653-.0296l.0653 .0363l.0653-.0295l.0653 .0361l.0653-.0291l.0653 .0364l.0653-.0286l.0653 .0365l.0653-.0289l.0653 .0367l.0653-.029l.0653 .0361l.0653-.0295l.0653 .0355l.0653-.0298l.0653 .0352l.0653-.0303l.0653 .0354l.0653-.0296l.0653 .0357l.0653-.0298l.0653 .0354l.0653-.0295l.0653 .0368l.0653-.0278l.0653 .0372l.0653-.0284l.0653 .0367l.0653-.0286l.0653 .0373l.0653-.0285l.0653 .0364l.0653-.0289l.0653 .0365l.0653-.0288l.0653 .0361l.0653-.0298l.0653 .035l.0653-.0297l.0653 .0352l.0653-.0304l.0653 .0348l.0653-.0305l.0653 .0351l.0653-.0298l.0653 .0357l.0653-.0292l.0653 .0358l.0653-.0298l.0653 .0346l.0653-.0305l.0653 .0343l.0653-.0316l.0653 .0328l.0653-.0326l.0653 .0322l.0653-.0319l.0653 .0336l.0653-.0317l.0653 .0325l.0653-.0321l.0653 .0324l.0653-.0322l.0653 .033l.0653-.0325l.0653 .0324l.0653-.0318l.0653 .0332l.0653-.0319l.0653 .0332l.0653-.0318l.0653 .0334l.0653-.031l.0653 .0335l.0653-.0316l.0653 .0329l.0653-.0321l.0653 .0326l.0653-.0323l.0653 .0332l.0653-.0312l.0653 .0341l.0653-.0295l.0653 .0358l.0653-.0287l.0653 .0362l.0653-.0284l.0653 .0358l.0653-.0289l.0653 .0365l.0653-.0282l.0653 .0364l.0653-.0283l.0653 .0349l.0653-.0302l.0653 .0341l.0653-.0308l.0653 .0344l.0653-.0301l.0653 .0341l.0653-.0301l.0653 .034l.0653-.0301l.0653 .0347l.0653-.0296l.0653 .0348l.0653-.0294l.0653 .0349l.0653-.0292l.0653 .0351l.0653-.0299l.0653 .0341l.0653-.0309l.0653 .0329l.0653-.0313l.0653 .0329l.0653-.0324l.0653 .0322l.0653-.0323l.0653 .0316l.0653-.0331l.0653 .0312l.0653-.0327l.0653 .032l.0653-.031l.0653 .0338l.0653-.0307l.0653 .0334l.0653-.0316l.0653 .0327l.0653-.0315l.0653 .0326l.0653-.032l.0653 .0317l.0653-.0327l.0653 .0313l.0653-.0328l.0653 .031l.0653-.0327l.0653 .0316l.0653-.0326l.0653 .0314l.0653-.0325l.0653 .0318l.0653-.0327l.0653 .0307l.0653-.0327l.0653 .0313l.0653-.0318l.0653 .0327l.0653-.0316l.0653 .032l.0653-.0327l.0653 .0308l.0653-.0343l.0653 .0293l.0653-.0344l.0653 .0296l.0653-.0336l.0653 .0301l.0653-.0335l.0653 .0307l.0653-.0324l.0653 .0313l.0653-.0319l.0653 .0317l.0653-.0322l.0653 .0315l.0653-.0321l.0653 .0312l.0653-.0322l.0653 .0317l.0653-.0314l.0653 .0318l.0653-.0318l.0653 .0323l.0653-.0313l.0653 .0328l.0653-.0317l.0653 .0319l.0653-.0311l.0653 .0327l.0653-.0305l.0653 .0337l.0653-.0295l.0653 .0341l.0653-.0291l.0653 .0342l.0653-.0296l.0653 .0339l.0653-.0301l.0653 .0329l.0653-.0313l.0653 .0322l.0653-.0316l.0653 .0319l.0653-.0313l.0653 .0324l.0653-.0313l.0653 .0324l.0653-.031l.0653 .0319l.0653-.0317l.0653 .0324l.0653-.0307l.0653 .0329l.0653-.0303l.0653 .0325l.0653-.0309l.0653 .0322l.0653-.0317l.0653 .0312l.0653-.0322l.0653 .0309l.0653-.0318l.0653 .0315l.0653-.032l.0653 .0311l.0653-.0321l.0653 .0314l.0653-.0319l.0653 .0318l.0653-.0314l.0653 .0317l.0653-.0313l.0653 .0325l.0653-.0311l.0653 .0322l.0653-.0311l.0653 .0318l.0653-.0308l.0653 .0328l.0653-.03l.0653 .0328l.0653-.0301l.0653 .0329l.0653-.0303l.0653 .0328l.0653-.0295l.0653 .0339l.0653-.0288l.0653 .0349l.0653-.028l.0653 .0345l.0653-.0286l.0653 .0339l.0653-.0291l.0653 .0339l.0653-.0288l.0653 .0336l.0653-.0292l.0653 .0339l.0653-.0295l.0653 .0329l.0653-.0298l.0653 .0327l.0653-.0293l.0653 .0336l.0653-.0288l.0653 .0343l.0653-.029l.0653 .0337l.0653-.0296l.0653 .0331l.0653-.0304l.0653 .0322l.0653-.0309l.0653 .0322l.0653-.0309l.0653 .0317l.0653-.0314l.0653 .031l.0653-.032l.0653 .031l.0653-.0315l.0653 .0316l.0653-.0309l.0653 .0321l.0653-.0306l.0653 .0321l.0653-.03l.0653 .0326l.0653-.0297l.0653 .0334l.0653-.0296l.0653 .0327l.0653-.0302l.0653 .0317l.0653-.0311l.0653 .0307l.0653-.0316l.0653 .0311l.0653-.0309l.0653 .0319l.0653-.0307l.0653 .0315l.0653-.031l.0653 .031l.0653-.0317l.0653 .0306l.0653-.032l.0653 .0299l.0653-.0331l.0653 .0291l.0653-.0337l.0653 .0286l.0653-.0337l.0653 .0282l.0653-.0338l.0653 .0286l.0653-.0335l.0653 .0282l.0653-.0341l.0653 .0284l.0653-.0334l.0653 .0292l.0653-.0332l.0653 .0295l.0653-.0323l.0653 .0304l.0653-.0325l.0653 .0295l.0653-.0334l.0653 .0282l.0653-.0336l.0653 .0286l.0653-.0335l.0653 .0288l.0653-.0333l.0653 .0287l.0653-.0331l.0653 .0297l.0653-.0317l.0653 .0313l.0653-.031l.0653 .031l.0653-.0311l.0653 .0316l.0653-.0313l.0653 .0301l.0653-.0322l.0653 .0298l.0653-.0325l.0653 .0294l.0653-.0331l.0653 .029l.0653-.0331l.0653 .0281l.0653-.0343l.0653 .027l.0653-.0346l.0653 .0271l.0653-.0344l.0653 .0279l.0653-.0334l.0653 .0289l.0653-.0331l.0653 .0288l.0653-.0334l.0653 .0283l.0653-.0334l.0653 .0278l.0653-.0336l.0653 .0276l.0653-.0341l.0653 .0274l.0653-.0344l.0653 .0271l.0653-.0342l.0653 .0282l.0653-.033l.0653 .029l.0653-.0324l.0653 .0293l.0653-.0325l.0653 .0289l.0653-.0326l.0653 .0298l.0653-.0319l.0653 .0297l.0653-.0311l.0653 .0313l.0653-.0304l.0653 .0309l.0653-.0306l.0653 .0309l.0653-.0304l.0653 .0312l.0653-.0302l.0653 .0317l.0653-.0299l.0653 .0318l.0653-.0302l.0653 .0313l.0653-.0302l.0653 .0317l.0653-.0298l.0653 .0319l.0653-.0298l.0653 .0317l.0653-.0298l.0653 .0319l.0653-.0292l.0653 .0329l.0653-.0285l.0653 .0332l.0653-.0276l.0653 .0336l.0653-.0275l.0653 .034l.0653-.0283l.0653 .0327l.0653-.0285l.0653 .0324l.0653-.0295l.0653 .032l.0653-.0294l.0653 .0321l.0653-.0291l.0653 .0322l.0653-.0287l.0653 .0327l.0653-.0282l.0653 .0331l.0653-.0277l.0653 .0334l.0653-.0275l.0653 .0338l.0653-.0272l.0653 .034l.0653-.027l.0653 .0338l.0653-.0282l.0653 .0329l.0653-.0277l.0653 .0331l.0653-.0284l.0653 .0328l.0653-.0285l.0653 .0324l.0653-.0282l.0653 .0328l.0653-.0288l.0653 .0322l.0653-.0283l.0653 .0327l.0653-.0288l.0653 .0321l.0653-.0286l.0653 .0324l.0653-.0285l.0653 .0322l.0653-.0285l.0653 .0326l.0653-.0285l.0653 .0322l.0653-.0288l.0653 .0323l.0653-.0293l.0653 .0316l.0653-.0295l.0653 .0314l.0653-.0291l.0653 .0317l.0653-.0296l.0653 .0311l.0653-.0295l.0653 .0307l.0653-.0298l.0653 .0314l.0653-.0294l.0653 .031l.0653-.029l.0653 .032l.0653-.0291l.0653 .0316l.0653-.0284l.0653 .0321l.0653-.0288l.0653 .032l.0653-.0289l.0653 .0316l.0653-.0293l.0653 .0309l.0653-.0302l.0653 .0305l.0653-.03l.0653 .0302l.0653-.0305l.0653 .0301l.0653-.0304l.0653 .0304l.0653-.0296l.0653 .0306l.0653-.0301l.0653 .0309l.0653-.0297l.0653 .0311l.0653-.0291l.0653 .0314l.0653-.0288l.0653 .0318l.0653-.029l.0653 .0308l.0653-.0299l.0653 .0306l.0653-.0305l.0653 .0301l.0653-.03l.0653 .03l.0653-.0302l.0653 .0301l.0653-.03l.0653 .0304l.0653-.0298l.0653 .0301l.0653-.031l.0653 .0293l.0653-.0307l.0653 .03l.0653-.0302l.0653 .0294l.0653-.0317l.0653 .0285l.0653-.0321l.0653 .028l.0653-.0323l.0653 .0283l.0653-.0321l.0653 .0285l.0653-.0317l.0653 .028l.0653-.0322l.0653 .0282l.0653-.0318l.0653 .0283l.0653-.0321l.0653 .0275l.0653-.0324l.0653 .0279l.0653-.0325l.0653 .0278l.0653-.0323l.0653 .0278l.0653-.032l.0653 .0285l.0653-.0308l.0653 .0299l.0653-.0303l.0653 .0296l.0653-.0304l.0653 .0295l.0653-.0294l.0653 .031l.0653-.0288l.0653 .031l.0653-.0291l.0653 .0302l.0653-.0301l.0653 .0298l.0653-.0303l.0653 .0299l.0653-.03l.0653 .0299l.0653-.0301l.0653 .0296l.0653-.0299l.0653 .0301l.0653-.0299l.0653 .0298l.0653-.0297l.0653 .0297l.0653-.0302l.0653 .0294l.0653-.0304l.0653 .0299l.0653-.0305l.0653 .0287l.0653-.031l.0653 .0286l.0653-.0313l.0653 .0287l.0653-.0316l.0653 .0281l.0653-.0311l.0653 .029l.0653-.0306l.0653 .0294l.0653-.0304l.0653 .0293l.0653-.031l.0653 .0288l.0653-.0312l.0653 .0282l.0653-.0314l.0653 .0284l.0653-.0316l.0653 .0282l.0653-.0315l.0653 .0278l.0653-.0319l.0653 .0282l.0653-.0309l.0653 .0284l.0653-.0316l.0653 .0275l.0653-.0316l.0653 .0281l.0653-.0315l.0653 .0281l.0653-.0312l.0653 .0283l.0653-.0312l.0653 .0279l.0653-.0314l.0653 .0278l.0653-.0314l.0653 .0278l.0653-.0319l.0653 .0271l.0653-.0324l.0653 .0266l.0653-.0321l.0653 .0273l.0653-.0319l.0653 .0275l.0653-.0314l.0653 .0281l.0653-.0311l.0653 .0283l.0653-.0306l.0653 .0281l.0653-.0316l.0653 .0282l.0653-.0307l.0653 .0282l.0653-.0313l.0653 .0284l.0653-.0313l.0653 .028l.0653-.0317l.0653 .0276l.0653-.0315l.0653 .0269l.0653-.0327l.0653 .0266l.0653-.033l.0653 .0262l.0653-.0326l.0653 .0262l.0653-.0331l.0653 .0264l.0653-.0324l.0653 .0269l.0653-.0323l.0653 .0266l.0653-.0324l.0653 .0268l.0653-.0322l.0653 .0267l.0653-.0328l.0653 .0259l.0653-.0333l.0653 .0253l.0653-.0338l.0653 .0257l.0653-.033l.0653 .026l.0653-.0324l.0653 .0267l.0653-.0321l.0653 .0266l.0653-.0324l.0653 .027l.0653-.0317l.0653 .027l.0653-.0313l.0653 .028l.0653-.0307l.0653 .0287l.0653-.0293l.0653 .0289l.0653-.0299l.0653 .0291l.0653-.0297l.0653 .0293l.0653-.0295l.0653 .0292l.0653-.0296l.0653 .0297l.0653-.0281l.0653 .0309l.0653-.0276l.0653 .0316l.0653-.0266l.0653 .0325l.0653-.0266l.0653 .0318l.0653-.0273l.0653 .0312l.0653-.0276l.0653 .0312l.0653-.028l.0653 .03l.0653-.0291l.0653 .0297l.0653-.029l.0653 .0289l.0653-.0297l.0653 .0286l.0653-.0301l.0653 .0289l.0653-.0304l.0653 .0277l.0653-.0307l.0653 .0277l.0653-.0314l.0653 .0267l.0653-.0321l.0653 .026l.0653-.0326l.0653 .0259l.0653-.0321l.0653 .0263l.0653-.0327l.0653 .025l.0653-.0332l.0653 .0252l.0653-.0329l.0653 .026l.0653-.0324l.0653 .026l.0653-.032l.0653 .0263l.0653-.0315l.0653 .0272l.0653-.0316l.0653 .0269l.0653-.0314l.0653 .0274l.0653-.0306l.0653 .028l.0653-.0295l.0653 .0295l.0653-.0288l.0653 .0296l.0653-.0279l.0653 .0308l.0653-.0274l.0653 .0307l.0653-.0279l.0653 .0303l.0653-.0286l.0653 .0292l.0653-.0286l.0653 .0304l.0653-.0279l.0653 .03l.0653-.0285l.0653 .029l.0653-.0291l.0653 .029l.0653-.0291l.0653 .0297l.0653-.0286l.0653 .029l.0653-.0289l.0653 .0289l.0653-.0299l.0653 .0282l.0653-.0302l.0653 .0273l.0653-.0308l.0653 .0271l.0653-.0306l.0653 .0277l.0653-.0306l.0653 .0273l.0653-.0306l.0653 .0272l.0653-.0308l.0653 .0271l.0653-.0305l.0653 .0282l.0653-.0301l.0653 .0275l.0653-.0306l.0653 .028l.0653-.0296l.0653 .0288l.0653-.029l.0653 .0292l.0653-.0285l.0653 .0296l.0653-.028l.0653 .0303l.0653-.0274l.0653 .0309l.0653-.0266l.0653 .0311l.0653-.027l.0653 .0305l.0653-.0275l.0653 .0304l.0653-.028l.0653 .0298l.0653-.0279l.0653 .0298l.0653-.0277l.0653 .0303l.0653-.0277l.0653 .0301l.0653-.0282l.0653 .0288l.0653-.029l.0653 .0284l.0653-.0289l.0653 .0284l.0653-.0294l.0653 .0282l.0653-.0297l.0653 .0278l.0653-.0299l.0653 .0279l.0653-.0299l.0653 .0276l.0653-.0296l.0653 .0275l.0653-.0301l.0653 .0276l.0653-.0299l.0653 .028l.0653-.0295l.0653 .0279l.0653-.0299l.0653 .0276l.0653-.0304l.0653 .0274l.0653-.0306l.0653 .0271l.0653-.0297l.0653 .0282l.0653-.0286l.0653 .0294l.0653-.0276l.0653 .0304l.0653-.0275l.0653 .0298l.0653-.0274l.0653 .0302l.0653-.0269l.0653 .0304l.0653-.0273l.0653 .0295l.0653-.0274l.0653 .0301l.0653-.0277l.0653 .0297l.0653-.0275l.0653 .0301l.0653-.027l.0653 .0303l.0653-.0269l.0653 .0301l.0653-.0272l.0653 .0297l.0653-.0273l.0653 .0294l.0653-.0276l.0653 .0295l.0653-.0284l.0653 .0281l.0653-.0298l.0653 .0269l.0653-.0311l.0653 .0257l.0653-.0312l.0653 .0257l.0653-.0317l.0653 .0253l.0653-.0319l.0653 .0249l.0653-.0322l.0653 .0251l.0653-.0325l.0653 .0246l.0653-.032l.0653 .0251l.0653-.0321l.0653 .0245l.0653-.0329l.0653 .0243l.0653-.033l.0653 .0244l.0653-.0322l.0653 .025l.0653-.032l.0653 .0256l.0653-.0315l.0653 .0257l.0653-.0313l.0653 .0258l.0653-.0309l.0653 .0272l.0653-.0289l.0653 .0279l.0653-.0291l.0653 .0281l.0653-.0287l.0653 .0279l.0653-.0293l.0653 .0279l.0653-.0284l.0653 .0287l.0653-.0276l.0653 .0293l.0653-.0283l.0653 .0288l.0653-.0281l.0653 .0291l.0653-.0274l.0653 .0294l.0653-.0274l.0653 .0295l.0653-.0275l.0653 .0293l.0653-.0272l.0653 .0292l.0653-.0271l.0653 .0298l.0653-.0275l.0653 .0294l.0653-.0269l.0653 .029l.0653-.0279l.0653 .0287l.0653-.0278l.0653 .0291l.0653-.0272l.0653 .0295l.0653-.0268l.0653 .0297l.0653-.0273l.0653 .0296l.0653-.0274l.0653 .0291l.0653-.027l.0653 .0299l.0653-.0263l.0653 .0303l.0653-.0264l.0653 .0302l.0653-.0256l.0653 .0309l.0653-.0258l.0653 .0309l.0653-.0258l.0653 .0306l.0653-.0258l.0653 .0303l.0653-.0257l.0653 .0309l.0653-.0258l.0653 .0306l.0653-.0258l.0653 .0307l.0653-.0256l.0653 .0307l.0653-.026l.0653 .0304l.0653-.0267l.0653 .0294l.0653-.0266l.0653 .0292l.0653-.0271l.0653 .0294l.0653-.0272l.0653 .0283l.0653-.0284l.0653 .028l.0653-.028l.0653 .0286l.0653-.0282l.0653 .0283l.0653-.0277l.0653 .0283l.0653-.0283l.0653 .0283l.0653-.0278l.0653 .0284l.0653-.0277l.0653 .0287l.0653-.0274l.0653 .0292l.0653-.0265l.0653 .0298l.0653-.0264l.0653 .0298l.0653-.0269l.0653 .0291l.0653-.0265l.0653 .0305l.0653-.0256l.0653 .0305l.0653-.0255l.0653 .0306l.0653-.0259l.0653 .0311l.0653-.0247l.0653 .0311l.0653-.0253l.0653 .0298l.0653-.0264l.0653 .0296l.0653-.0262l.0653 .0299l.0653-.0258l.0653 .0303l.0653-.026l.0653 .0299l.0653-.0259l.0653 .0297l.0653-.026l.0653 .0295l.0653-.0269l.0653 .0286l.0653-.0276l.0653 .0278l.0653-.0278l.0653 .0277l.0653-.0285l.0653 .0268l.0653-.0295l.0653 .0269l.0653-.0294l.0653 .0265l.0653-.0287l.0653 .0264l.0653-.0295l.0653 .0264l.0653-.0297l.0653 .0265l.0653-.0296l.0653 .0259l.0653-.0299l.0653 .0255l.0653-.0301l.0653 .0252l.0653-.0305l.0653 .0252l.0653-.0307l.0653 .0259l.0653-.0297l.0653 .0259l.0653-.0294l.0653 .0266l.0653-.0289l.0653 .0265l.0653-.0291l.0653 .0268l.0653-.0285l.0653 .027l.0653-.0283l.0653 .0274l.0653-.0284l.0653 .0263l.0653-.0297l.0653 .0261l.0653-.0298l.0653 .0255l.0653-.0302l.0653 .026l.0653-.0291l.0653 .027l.0653-.0286l.0653 .0267l.0653-.0287l.0653 .0279l.0653-.0278l.0653 .0277l.0653-.0275l.0653 .0272l.0653-.0286l.0653 .0272l.0653-.0285l.0653 .0267l.0653-.029l.0653 .0271l.0653-.0283l.0653 .0272l.0653-.0285l.0653 .0273l.0653-.0282l.0653 .0269l.0653-.0284l.0653 .0276l.0653-.0278l.0653 .0275l.0653-.0277l.0653 .0275l.0653-.028l.0653 .0272l.0653-.0279l.0653 .0271l.0653-.0282l.0653 .0275l.0653-.0277l.0653 .0269l.0653-.0283l.0653 .0265l.0653-.0288l.0653 .0262l.0653-.0293l.0653 .0253l.0653-.0304l.0653 .025l.0653-.0301l.0653 .0251l.0653-.0302l.0653 .025l.0653-.0303l.0653 .0247l.0653-.0306l.0653 .025l.0653-.0301l.0653 .025l.0653-.03l.0653 .025l.0653-.0297l.0653 .0261l.0653-.0286l.0653 .0262l.0653-.0295l.0653 .0258l.0653-.0291l.0653 .0263l.0653-.0288l.0653 .0258l.0653-.0291l.0653 .0262l.0653-.0287l.0653 .0265l.0653-.0285l.0653 .0266l.0653-.0281l.0653 .0267l.0653-.0281l.0653 .0269l.0653-.0278l.0653 .0274l.0653-.0271l.0653 .0275l.0653-.0276l.0653 .027l.0653-.0283l.0653 .0269l.0653-.0282l.0653 .0271l.0653-.0281l.0653 .0266l.0653-.0279l.0653 .0271l.0653-.0276l.0653 .0273l.0653-.0282l.0653 .0263l.0653-.0284l.0653 .0267l.0653-.0284l.0653 .0266l.0653-.0281l.0653 .0266l.0653-.0281l.0653 .027l.0653-.0278l.0653 .0277l.0653-.0266l.0653 .0283l.0653-.0266l.0653 .0284l.0653-.0263l.0653 .0283l.0653-.0266l.0653 .0284l.0653-.0263l.0653 .0284l.0653-.0257l.0653 .029l.0653-.0254l.0653 .0291l.0653-.0256l.0653 .0289l.0653-.0258l.0653 .0289l.0653-.0258l.0653 .029l.0653-.0258l.0653 .0293l.0653-.025l.0653 .029l.0653-.0258l.0653 .0287l.0653-.0253l.0653 .0297l.0653-.0248l.0653 .029l.0653-.026l.0653 .0283l.0653-.0263l.0653 .0286l.0653-.0256l.0653 .0299l.0653-.0233l.0653 .0311l.0653-.0229l.0653 .0315l.0653-.0231l.0653 .0314l.0653-.0232l.0653 .0313l.0653-.0234l.0653 .0309l.0653-.0231l.0653 .0316l.0653-.0225l.0653 .0318l.0653-.0226l.0653 .0316l.0653-.0231l.0653 .0315l.0653-.0227l.0653 .032l.0653-.0223l.0653 .0317l.0653-.0226l.0653 .032l.0653-.0217l.0653 .0325l.0653-.0216l.0653 .0323l.0653-.0222l.0653 .0316l.0653-.0241l.0653 .0297l.0653-.0248l.0653 .0293l.0653-.025l.0653 .0286l.0653-.0252l.0653 .0288l.0653-.0256l.0653 .0287l.0653-.0259l.0653 .0275l.0653-.0268l.0653 .0274l.0653-.0273l.0653 .0266l.0653-.027l.0653 .0273l.0653-.0269l.0653 .0269l.0653-.0277l.0653 .0261l.0653-.0281l.0653 .026l.0653-.0284l.0653 .0254l.0653-.029l.0653 .0247l.0653-.0293l.0653 .0245l.0653-.0293l.0653 .0246l.0653-.0294l.0653 .0244l.0653-.0299l.0653 .0248l.0653-.0291l.0653 .0251l.0653-.0292l.0653 .0245l.0653-.0292l.0653 .0255l.0653-.028l.0653 .026l.0653-.0274l.0653 .0264l.0653-.0276l.0653 .0268l.0653-.0271l.0653 .0271l.0653-.0267l.0653 .0271l.0653-.027l.0653 .0264l.0653-.0282l.0653 .0258l.0653-.0277l.0653 .0259l.0653-.0279l.0653 .0258l.0653-.0275l.0653 .0268l.0653-.0274l.0653 .0261l.0653-.0274l.0653 .0256l.0653-.0288l.0653 .0249l.0653-.0285l.0653 .0256l.0653-.0284l.0653 .025l.0653-.0291l.0653 .0245l.0653-.0292l.0653 .0245l.0653-.0293l.0653 .024l.0653-.03l.0653 .0235l.0653-.0301l.0653 .0241l.0653-.0292l.0653 .0249l.0653-.0281l.0653 .0261l.0653-.0278l.0653 .0259l.0653-.0279l.0653 .0257l.0653-.0276l.0653 .0257l.0653-.0273l.0653 .0265l.0653-.0269l.0653 .0271l.0653-.0262l.0653 .0277l.0653-.0259l.0653 .0276l.0653-.0259l.0653 .028l.0653-.0255l.0653 .0282l.0653-.0258l.0653 .028l.0653-.0257l.0653 .0274l.0653-.0258l.0653 .0277l.0653-.026l.0653 .0271l.0653-.0267l.0653 .0269l.0653-.0266l.0653 .0266l.0653-.0266l.0653 .0273l.0653-.026l.0653 .0272l.0653-.0267l.0653 .0271l.0653-.0267l.0653 .0265l.0653-.0264l.0653 .0269l.0653-.0267l.0653 .0263l.0653-.0271l.0653 .0266l.0653-.0263l.0653 .0267l.0653-.0264l.0653 .0267l.0653-.0265l.0653 .0265l.0653-.0266l.0653 .0274l.0653-.0259l.0653 .0274l.0653-.0255l.0653 .0278l.0653-.0256l.0653 .0273l.0653-.026l.0653 .0276l.0653-.0257l.0653 .0273l.0653-.0254l.0653 .0282l.0653-.0249l.0653 .0281l.0653-.025l.0653 .0284l.0653-.0254l.0653 .0276l.0653-.0257l.0653 .0268l.0653-.0266l.0653 .0263l.0653-.0268l.0653 .0259l.0653-.0274l.0653 .0262l.0653-.0273l.0653 .0259l.0653-.027l.0653 .026l.0653-.0269l.0653 .0258l.0653-.0271l.0653 .0262l.0653-.0264l.0653 .0266l.0653-.0263l.0653 .0266l.0653-.0267l.0653 .0262l.0653-.0271l.0653 .0254l.0653-.0278l.0653 .0253l.0653-.027l.0653 .0259l.0653-.0269l.0653 .0261l.0653-.0266l.0653 .027l.0653-.0255l.0653 .0277l.0653-.0252l.0653 .0277l.0653-.0246l.0653 .0281l.0653-.0246l.0653 .0278l.0653-.025l.0653 .0275l.0653-.0252l.0653 .0278l.0653-.0254l.0653 .0266l.0653-.0265l.0653 .0266l.0653-.0264l.0653 .0259l.0653-.0264l.0653 .027l.0653-.026l.0653 .0272l.0653-.0254l.0653 .0273l.0653-.0261l.0653 .0263l.0653-.0266l.0653 .0261l.0653-.0265l.0653 .0264l.0653-.0259l.0653 .0266l.0653-.0261l.0653 .0272l.0653-.0254l.0653 .0273l.0653-.0256l.0653 .0275l.0653-.0252l.0653 .0277l.0653-.0251l.0653 .0277l.0653-.0249l.0653 .0284l.0653-.0239l.0653 .0279l.0653-.0247l.0653 .0282l.0653-.0243l.0653 .0274l.0653-.025l.0653 .0274l.0653-.026l.0653 .0264l.0653-.0258l.0653 .0272l.0653-.0252l.0653 .0272l.0653-.025l.0653 .027l.0653-.0257l.0653 .0263l.0653-.0263l.0653 .0261l.0653-.0265l.0653 .0253l.0653-.0272l.0653 .0253l.0653-.0271l.0653 .0252l.0653-.0275l.0653 .0249l.0653-.0274l.0653 .0251l.0653-.027l.0653 .0257l.0653-.0268l.0653 .0256l.0653-.0272l.0653 .0255l.0653-.0271l.0653 .0245l.0653-.027l.0653 .0255l.0653-.0269l.0653 .0247l.0653-.0273l.0653 .0249l.0653-.0273l.0653 .0251l.0653-.0275l.0653 .0249l.0653-.0273l.0653 .0246l.0653-.0284l.0653 .024l.0653-.0282l.0653 .0238l.0653-.0282l.0653 .0238l.0653-.0281l.0653 .0237l.0653-.0288l.0653 .0232l.0653-.0293l.0653 .0229l.0653-.0289l.0653 .0232l.0653-.0292l.0653 .0231l.0653-.0287l.0653 .0239l.0653-.0278l.0653 .0239l.0653-.0284l.0653 .0243l.0653-.028l.0653 .0238l.0653-.0284l.0653 .024l.0653-.0279l.0653 .0242l.0653-.0277l.0653 .0243l.0653-.0273l.0653 .025l.0653-.0268l.0653 .0257l.0653-.0266l.0653 .0259l.0653-.0263l.0653 .0259l.0653-.0259l.0653 .0262l.0653-.0258l.0653 .0262l.0653-.0261l.0653 .0262l.0653-.0252l.0653 .0269l.0653-.0254l.0653 .0265l.0653-.0251l.0653 .0271l.0653-.0246l.0653 .0269l.0653-.0245l.0653 .0274l.0653-.024l.0653 .027l.0653-.0247l.0653 .027l.0653-.0252l.0653 .0264l.0653-.0252l.0653 .0265l.0653-.0247l.0653 .0269l.0653-.0248l.0653 .0267l.0653-.0247l.0653 .0275l.0653-.0243l.0653 .0276l.0653-.0242l.0653 .0275l.0653-.0242l.0653 .0269l.0653-.0248l.0653 .0267l.0653-.025l.0653 .0269l.0653-.0251l.0653 .0266l.0653-.0249l.0653 .0273l.0653-.0245l.0653 .0274l.0653-.0242l.0653 .0272l.0653-.024l.0653 .0278l.0653-.0233l.0653 .0279l.0653-.0239l.0653 .0277l.0653-.0239l.0653 .0278l.0653-.0241l.0653 .0275l.0653-.024l.0653 .027l.0653-.0245l.0653 .0271l.0653-.0243l.0653 .027l.0653-.025l.0653 .0271l.0653-.0246l.0653 .0268l.0653-.0245l.0653 .027l.0653-.0248l.0653 .0263l.0653-.0253l.0653 .0256l.0653-.0254l.0653 .0256l.0653-.0261l.0653 .0256l.0653-.0259l.0653 .0254l.0653-.0263l.0653 .0254l.0653-.0259l.0653 .0254l.0653-.0263l.0653 .0245l.0653-.027l.0653 .0239l.0653-.0276l.0653 .0233l.0653-.0283l.0653 .0231l.0653-.028l.0653 .0232l.0653-.0278l.0653 .0231l.0653-.0285l.0653 .0223l.0653-.029l.0653 .0219l.0653-.0293l.0653 .0219l.0653-.0294l.0653 .0219l.0653-.0294l.0653 .0223l.0653-.0284l.0653 .0229l.0653-.0281l.0653 .0232l.0653-.028l.0653 .0232l.0653-.028l.0653 .0231l.0653-.0282l.0653 .0236l.0653-.0273l.0653 .0241l.0653-.0272l.0653 .0242l.0653-.0268l.0653 .0242l.0653-.0268l.0653 .0244l.0653-.0264l.0653 .0252l.0653-.0255l.0653 .0266l.0653-.0243l.0653 .0272l.0653-.0233l.0653 .0284l.0653-.0225l.0653 .0287l.0653-.0225l.0653 .0283l.0653-.023l.0653 .0278l.0653-.0233l.0653 .0279l.0653-.0231l.0653 .0279l.0653-.0231l.0653 .0284l.0653-.0223l.0653 .0284l.0653-.0225l.0653 .0286l.0653-.022l.0653 .0291l.0653-.0218l.0653 .0293l.0653-.0218l.0653 .0287l.0653-.0223l.0653 .0284l.0653-.0228l.0653 .0278l.0653-.023l.0653 .0271l.0653-.0241l.0653 .0261l.0653-.0249l.0653 .0259l.0653-.0245l.0653 .0265l.0653-.0245l.0653 .0263l.0653-.0244l.0653 .0261l.0653-.0248l.0653 .0261l.0653-.0248l.0653 .0258l.0653-.0251l.0653 .0258l.0653-.0254l.0653 .0256l.0653-.025l.0653 .0257l.0653-.0249l.0653 .0258l.0653-.0251l.0653 .0257l.0653-.0249l.0653 .0259l.0653-.0246l.0653 .0261l.0653-.025l.0653 .026l.0653-.0247l.0653 .026l.0653-.0248l.0653 .0259l.0653-.0249l.0653 .0255l.0653-.0252l.0653 .0256l.0653-.0251l.0653 .0256l.0653-.0247l.0653 .0258l.0653-.0248l.0653 .0258l.0653-.0253l.0653 .0253l.0653-.0249l.0653 .0259l.0653-.0249l.0653 .0257l.0653-.025l.0653 .0251l.0653-.0257l.0653 .0253l.0653-.0254l.0653 .0245l.0653-.0261l.0653 .0243l.0653-.0257l.0653 .025l.0653-.0252l.0653 .0255l.0653-.0246l.0653 .0258l.0653-.0248l.0653 .0257l.0653-.0246l.0653 .0256l.0653-.0251l.0653 .025l.0653-.0254l.0653 .0251l.0653-.0253l.0653 .0249l.0653-.0252l.0653 .0249l.0653-.0256l.0653 .0243l.0653-.0265l.0653 .024l.0653-.0263l.0653 .0242l.0653-.0261l.0653 .024l.0653-.0261l.0653 .0245l.0653-.0256l.0653 .0249l.0653-.0254l.0653 .0248l.0653-.0259l.0653 .0238l.0653-.0267l.0653 .0237l.0653-.0268l.0653 .0233l.0653-.0273l.0653 .0231l.0653-.0268l.0653 .0231l.0653-.0277l.0653 .0223l.0653-.0282l.0653 .0218l.0653-.0279l.0653 .0226l.0653-.0277l.0653 .0224l.0653-.0268l.0653 .0233l.0653-.0267l.0653 .0234l.0653-.0263l.0653 .0239l.0653-.0263l.0653 .0238l.0653-.0265l.0653 .0239l.0653-.0261l.0653 .0241l.0653-.0259l.0653 .025l.0653-.0251l.0653 .025l.0653-.0248l.0653 .0251l.0653-.025l.0653 .0252l.0653-.0253l.0653 .0254l.0653-.0238l.0653 .0265l.0653-.0228l.0653 .0276l.0653-.0222l.0653 .0275l.0653-.0223l.0653 .0278l.0653-.0226l.0653 .027l.0653-.0233l.0653 .0263l.0653-.024l.0653 .026l.0653-.0238l.0653 .026l.0653-.0239l.0653 .0259l.0653-.0247l.0653 .0254l.0653-.0245l.0653 .0252l.0653-.0244l.0653 .0255l.0653-.0246l.0653 .0259l.0653-.0236l.0653 .0261l.0653-.0232l.0653 .0263l.0653-.0238l.0653 .026l.0653-.0243l.0653 .0255l.0653-.0244l.0653 .0256l.0653-.024l.0653 .0259l.0653-.0237l.0653 .0262l.0653-.0231l.0653 .0272l.0653-.0225l.0653 .0271l.0653-.0224l.0653 .0272l.0653-.0225l.0653 .0272l.0653-.0224l.0653 .0274l.0653-.0224l.0653 .027l.0653-.0224l.0653 .0273l.0653-.0224l.0653 .027l.0653-.023l.0653 .0267l.0653-.0232l.0653 .0265l.0653-.0229l.0653 .0267l.0653-.0224l.0653 .0267l.0653-.0232l.0653 .0261l.0653-.0232l.0653 .0265l.0653-.0231l.0653 .0267l.0653-.0229l.0653 .0268l.0653-.0224l.0653 .0274l.0653-.0223l.0653 .0273l.0653-.0226l.0653 .027l.0653-.0223l.0653 .0268l.0653-.0232l.0653 .0265l.0653-.0229l.0653 .026l.0653-.0238l.0653 .0256l.0653-.0235l.0653 .026l.0653-.023l.0653 .0267l.0653-.0232l.0653 .0263l.0653-.0232l.0653 .0263l.0653-.0228l.0653 .0265l.0653-.0232l.0653 .0267l.0653-.0228l.0653 .0266l.0653-.0229l.0653 .0262l.0653-.0237l.0653 .0254l.0653-.0242l.0653 .0252l.0653-.0237l.0653 .0254l.0653-.0241l.0653 .0256l.0653-.0235l.0653 .0259l.0653-.0241l.0653 .0256l.0653-.0234l.0653 .0263l.0653-.0232l.0653 .026l.0653-.0234l.0653 .0254l.0653-.0239l.0653 .0251l.0653-.024l.0653 .025l.0653-.0243l.0653 .025l.0653-.0241l.0653 .0251l.0653-.0246l.0653 .0237l.0653-.0261l.0653 .0235l.0653-.0258l.0653 .0234l.0653-.0253l.0653 .024l.0653-.0254l.0653 .0244l.0653-.0248l.0653 .0242l.0653-.0252l.0653 .0238l.0653-.0251l.0653 .0241l.0653-.0248l.0653 .0237l.0653-.0253l.0653 .0244l.0653-.0248l.0653 .0245l.0653-.0244l.0653 .0251l.0653-.024l.0653 .0253l.0653-.0239l.0653 .025l.0653-.0245l.0653 .0239l.0653-.0251l.0653 .0245l.0653-.0237l.0653 .0251l.0653-.0244l.0653 .0249l.0653-.0245l.0653 .0245l.0653-.0245l.0653 .0238l.0653-.026l.0653 .0232l.0653-.026l.0653 .0231l.0653-.026l.0653 .023l.0653-.0256l.0653 .0236l.0653-.0252l.0653 .0236l.0653-.0251l.0653 .024l.0653-.0251l.0653 .0239l.0653-.0254l.0653 .0232l.0653-.0254l.0653 .0235l.0653-.0251l.0653 .0239l.0653-.025l.0653 .0237l.0653-.0258l.0653 .0234l.0653-.0255l.0653 .0233l.0653-.0254l.0653 .0237l.0653-.0252l.0653 .0239l.0653-.0243l.0653 .0244l.0653-.0239l.0653 .0251l.0653-.023l.0653 .0256l.0653-.0234l.0653 .0248l.0653-.024l.0653 .0249l.0653-.0241l.0653 .0243l.0653-.0241l.0653 .024l.0653-.025l.0653 .0238l.0653-.0248l.0653 .0238l.0653-.0248l.0653 .0239l.0653-.025l.0653 .0235l.0653-.0246l.0653 .0238l.0653-.0242l.0653 .0245l.0653-.0241l.0653 .0246l.0653-.0239l.0653 .0247l.0653-.0236l.0653 .0252l.0653-.0237l.0653 .0251l.0653-.0237l.0653 .0245l.0653-.0241l.0653 .0249l.0653-.0235l.0653 .0246l.0653-.0246l.0653 .024l.0653-.0249l.0653 .0238l.0653-.0239l.0653 .0246l.0653-.0242l.0653 .0242l.0653-.0247l.0653 .0239l.0653-.0246l.0653 .0241l.0653-.0242l.0653 .0245l.0653-.0241l.0653 .0243l.0653-.0245l.0653 .0239l.0653-.0246l.0653 .0239l.0653-.0246l.0653 .0238l.0653-.0248l.0653 .0233l.0653-.0256l.0653 .023l.0653-.0254l.0653 .0228l.0653-.0257l.0653 .023l.0653-.0248l.0653 .0239l.0653-.0244l.0653 .0237l.0653-.0254l.0653 .0227l.0653-.0253l.0653 .0231l.0653-.0251l.0653 .0232l.0653-.0251l.0653 .0233l.0653-.0254l.0653 .0224l.0653-.026l.0653 .0221l.0653-.0261l.0653 .0218l.0653-.0263l.0653 .0219l.0653-.0265l.0653 .0216l.0653-.0264l.0653 .022l.0653-.0254l.0653 .0232l.0653-.0248l.0653 .0236l.0653-.0247l.0653 .0231l.0653-.0249l.0653 .0232l.0653-.0251l.0653 .0233l.0653-.0243l.0653 .0239l.0653-.0245l.0653 .0238l.0653-.0241l.0653 .0244l.0653-.0233l.0653 .0249l.0653-.0228l.0653 .0254l.0653-.0228l.0653 .0252l.0653-.0227l.0653 .0255l.0653-.0227l.0653 .0254l.0653-.0225l.0653 .0252l.0653-.0226l.0653 .0253l.0653-.0232l.0653 .0248l.0653-.0238l.0653 .0239l.0653-.0243l.0653 .0239l.0653-.0245l.0653 .0229l.0653-.0251l.0653 .0231l.0653-.0253l.0653 .023l.0653-.0249l.0653 .023l.0653-.0255l.0653 .0224l.0653-.0257l.0653 .0222l.0653-.0261l.0653 .0217l.0653-.0257l.0653 .0227l.0653-.025l.0653 .0233l.0653-.025l.0653 .0227l.0653-.0255l.0653 .023l.0653-.025l.0653 .0228l.0653-.0249l.0653 .0229l.0653-.0245l.0653 .0234l.0653-.0244l.0653 .0233l.0653-.0247l.0653 .0234l.0653-.0247l.0653 .023l.0653-.0246l.0653 .0235l.0653-.0242l.0653 .0235l.0653-.0242l.0653 .0231l.0653-.0248l.0653 .0231l.0653-.0246l.0653 .0231l.0653-.0252l.0653 .0222l.0653-.0256l.0653 .0221l.0653-.0256l.0653 .0223l.0653-.0252l.0653 .0221l.0653-.0254l.0653 .0223l.0653-.0253l.0653 .0222l.0653-.0256l.0653 .0224l.0653-.0252l.0653 .0229l.0653-.025l.0653 .0225l.0653-.0247l.0653 .0231l.0653-.0243l.0653 .0232l.0653-.0246l.0653 .0234l.0653-.0241l.0653 .0243l.0653-.0228l.0653 .0246l.0653-.0234l.0653 .0245l.0653-.0226l.0653 .025l.0653-.0229l.0653 .0246l.0653-.0231l.0653 .0246l.0653-.023l.0653 .0246l.0653-.0229l.0653 .0247l.0653-.0235l.0653 .0236l.0653-.0242l.0653 .0233l.0653-.0246l.0653 .0228l.0653-.0243l.0653 .0238l.0653-.0241l.0653 .023l.0653-.0248l.0653 .0228l.0653-.0247l.0653 .0227l.0653-.0245l.0653 .0224l.0653-.0252l.0653 .0225l.0653-.0246l.0653 .0225l.0653-.0251l.0653 .0226l.0653-.0241l.0653 .023l.0653-.0241l.0653 .0236l.0653-.0236l.0653 .0239l.0653-.0232l.0653 .0242l.0653-.0229l.0653 .0249l.0653-.0222l.0653 .025l.0653-.0221l.0653 .0252l.0653-.0222l.0653 .0252l.0653-.0218l.0653 .026l.0653-.0214l.0653 .0259l.0653-.0214l.0653 .0257l.0653-.0218l.0653 .0256l.0653-.0216l.0653 .0255l.0653-.0218l.0653 .0257l.0653-.0217l.0653 .0249l.0653-.0227l.0653 .0246l.0653-.0223l.0653 .025l.0653-.0226l.0653 .0245l.0653-.0227l.0653 .0243l.0653-.0227l.0653 .0245l.0653-.0228l.0653 .0247l.0653-.0227l.0653 .0244l.0653-.0227l.0653 .0244l.0653-.0227l.0653 .0244l.0653-.0228l.0653 .0237l.0653-.0233l.0653 .0241l.0653-.023l.0653 .0242l.0653-.0236l.0653 .0239l.0653-.0231l.0653 .0239l.0653-.0229l.0653 .0246l.0653-.0227l.0653 .024l.0653-.0232l.0653 .0234l.0653-.023l.0653 .0236l.0653-.0237l.0653 .0237l.0653-.0228l.0653 .0241l.0653-.023l.0653 .0237l.0653-.0232l.0653 .024l.0653-.0231l.0653 .0234l.0653-.024l.0653 .0228l.0653-.0242l.0653 .0232l.0653-.0239l.0653 .023l.0653-.0242l.0653 .0228l.0653-.0236l.0653 .0233l.0653-.0239l.0653 .0232l.0653-.024l.0653 .0228l.0653-.024l.0653 .0231l.0653-.0238l.0653 .023l.0653-.0243l.0653 .0228l.0653-.0242l.0653 .0223l.0653-.0252l.0653 .0215l.0653-.0249l.0653 .0225l.0653-.0241l.0653 .0227l.0653-.0238l.0653 .0234l.0653-.0231l.0653 .0242l.0653-.0224l.0653 .0245l.0653-.0221l.0653 .0245l.0653-.0221l.0653 .0245l.0653-.0226l.0653 .0236l.0653-.0232l.0653 .0232l.0653-.0234l.0653 .0233l.0653-.0232l.0653 .0239l.0653-.0229l.0653 .0237l.0653-.0228l.0653 .0238l.0653-.0227l.0653 .0244l.0653-.0223l.0653 .0242l.0653-.023l.0653 .0234l.0653-.0235l.0653 .0232l.0653-.0238l.0653 .0224l.0653-.0242l.0653 .0221l.0653-.0246l.0653 .0222l.0653-.0245l.0653 .0221l.0653-.0243l.0653 .0221l.0653-.0242l.0653 .0225l.0653-.0238l.0653 .0232l.0653-.0231l.0653 .0236l.0653-.0233l.0653 .023l.0653-.0236l.0653 .0233l.0653-.0235l.0653 .0233l.0653-.0233l.0653 .0227l.0653-.0236l.0653 .0231l.0653-.0231l.0653 .0235l.0653-.023l.0653 .0239l.0653-.022l.0653 .0247l.0653-.0215l.0653 .0251l.0653-.0213l.0653 .0254l.0653-.0207l.0653 .0257l.0653-.0209l.0653 .0258l.0653-.0205l.0653 .0259l.0653-.0212l.0653 .0248l.0653-.0215l.0653 .0253l.0653-.0207l.0653 .0255l.0653-.0209l.0653 .0253l.0653-.0213l.0653 .0249l.0653-.0215l.0653 .0249l.0653-.0215l.0653 .0244l.0653-.0222l.0653 .0243l.0653-.022l.0653 .0242l.0653-.0225l.0653 .0235l.0653-.0229l.0653 .0235l.0653-.0233l.0653 .0228l.0653-.0239l.0653 .0222l.0653-.0243l.0653 .0216l.0653-.0249l.0653 .0216l.0653-.024l.0653 .0222l.0653-.0244l.0653 .0217l.0653-.0246l.0653 .0217l.0653-.0246l.0653 .022l.0653-.0241l.0653 .0218l.0653-.024l.0653 .0216l.0653-.0247l.0653 .0221l.0653-.0235l.0653 .0224l.0653-.0238l.0653 .0222l.0653-.0238l.0653 .0225l.0653-.0238l.0653 .0222l.0653-.0241l.0653 .0221l.0653-.0239l.0653 .0227l.0653-.023l.0653 .0232l.0653-.0227l.0653 .0234l.0653-.0234l.0653 .0226l.0653-.0236l.0653 .0218l.0653-.0242l.0653 .0217l.0653-.0243l.0653 .0218l.0653-.024l.0653 .0226l.0653-.0235l.0653 .023l.0653-.0229l.0653 .0223l.0653-.0244l.0653 .0217l.0653-.0245l.0653 .0212l.0653-.0251l.0653 .0208l.0653-.0251l.0653 .0213l.0653-.0239l.0653 .0222l.0653-.0239l.0653 .0219l.0653-.0242l.0653 .0218l.0653-.0241l.0653 .0219l.0653-.0234l.0653 .0226l.0653-.0231l.0653 .023l.0653-.0227l.0653 .0233l.0653-.0225l.0653 .0237l.0653-.0226l.0653 .0232l.0653-.0227l.0653 .0229l.0653-.0231l.0653 .0228l.0653-.0227l.0653 .023l.0653-.0229l.0653 .0231l.0653-.0226l.0653 .0232l.0653-.0226l.0653 .0226l.0653-.0238l.0653 .0216l.0653-.0238l.0653 .0219l.0653-.0239l.0653 .022l.0653-.0235l.0653 .0225l.0653-.0237l.0653 .0225l.0653-.0226l.0653 .0237l.0653-.0218l.0653 .0236l.0653-.0225l.0653 .0227l.0653-.0227l.0653 .0231l.0653-.0227l.0653 .0234l.0653-.0222l.0653 .0242l.0653-.0215l.0653 .0244l.0653-.021l.0653 .0248l.0653-.021l.0653 .0248l.0653-.0212l.0653 .0249l.0653-.0202l.0653 .0257l.0653-.0202l.0653 .0254l.0653-.0202l.0653 .0251l.0653-.0207l.0653 .0246l.0653-.0211l.0653 .0243l.0653-.0217l.0653 .0234l.0653-.0229l.0653 .0228l.0653-.0222l.0653 .0236l.0653-.0223l.0653 .0232l.0653-.0222l.0653 .0233l.0653-.0223l.0653 .023l.0653-.0231l.0653 .0223l.0653-.0232l.0653 .0224l.0653-.0232l.0653 .0219l.0653-.0235l.0653 .0219l.0653-.024l.0653 .0214l.0653-.0242l.0653 .0212l.0653-.0245l.0653 .021l.0653-.0244l.0653 .0213l.0653-.024l.0653 .0212l.0653-.0244l.0653 .0211l.0653-.024l.0653 .0212l.0653-.0244l.0653 .0211l.0653-.0245l.0653 .0208l.0653-.0246l.0653 .0208l.0653-.0244l.0653 .0213l.0653-.0238l.0653 .0222l.0653-.023l.0653 .0222l.0653-.0236l.0653 .0219l.0653-.0231l.0653 .022l.0653-.0232l.0653 .0219l.0653-.0233l.0653 .0223l.0653-.0224l.0653 .023l.0653-.0222l.0653 .0227l.0653-.0228l.0653 .0224l.0653-.023l.0653 .0224l.0653-.0229l.0653 .0231l.0653-.0215l.0653 .0239l.0653-.0208l.0653 .0248l.0653-.0202l.0653 .0248l.0653-.0202l.0653 .0249l.0653-.0205l.0653 .0242l.0653-.021l.0653 .0242l.0653-.0207l.0653 .0247l.0653-.0203l.0653 .025l.0653-.0201l.0653 .0247l.0653-.0204l.0653 .0243l.0653-.0215l.0653 .0235l.0653-.0219l.0653 .0234l.0653-.0217l.0653 .0233l.0653-.0212l.0653 .024l.0653-.0211l.0653 .0234l.0653-.0224l.0653 .022l.0653-.023l.0653 .0216l.0653-.0239l.0653 .0217l.0653-.0234l.0653 .0215l.0653-.0231l.0653 .0221l.0653-.023l.0653 .0221l.0653-.0228l.0653 .0218l.0653-.0231l.0653 .0218l.0653-.0232l.0653 .0219l.0653-.023l.0653 .0223l.0653-.0223l.0653 .0227l.0653-.0222l.0653 .0226l.0653-.0221l.0653 .0232l.0653-.0219l.0653 .0227l.0653-.0223l.0653 .0226l.0653-.0221l.0653 .0232l.0653-.0218l.0653 .0231l.0653-.0216l.0653 .0227l.0653-.0225l.0653 .0223l.0653-.023l.0653 .0219l.0653-.0234l.0653 .0213l.0653-.0235l.0653 .0218l.0653-.023l.0653 .0218l.0653-.0231l.0653 .022l.0653-.0228l.0653 .0218l.0653-.0231l.0653 .0215l.0653-.0234l.0653 .0215l.0653-.0236l.0653 .0212l.0653-.0237l.0653 .0212l.0653-.0233l.0653 .0214l.0653-.0233l.0653 .0214l.0653-.0237l.0653 .0213l.0653-.0234l.0653 .0216l.0653-.0228l.0653 .0223l.0653-.0226l.0653 .022l.0653-.022l.0653 .0229l.0653-.0218l.0653 .0229l.0653-.0218l.0653 .0227l.0653-.0221l.0653 .0229l.0653-.0219l.0653 .0231l.0653-.0218l.0653 .023l.0653-.0213l.0653 .0232l.0653-.0217l.0653 .0224l.0653-.0222l.0653 .0223l.0653-.0227l.0653 .022l.0653-.0225l.0653 .0223l.0653-.0222l.0653 .0221l.0653-.0227l.0653 .0219l.0653-.0232l.0653 .0209l.0653-.0236l.0653 .0214l.0653-.0235l.0653 .0211l.0653-.0241l.0653 .0201l.0653-.0241l.0653 .0205l.0653-.0241l.0653 .0204l.0653-.0245l.0653 .0202l.0653-.0241l.0653 .0203l.0653-.0244l.0653 .0206l.0653-.0237l.0653 .0212l.0653-.0234l.0653 .0213l.0653-.0224l.0653 .0223l.0653-.0223l.0653 .0222l.0653-.0221l.0653 .0227l.0653-.0215l.0653 .0228l.0653-.0216l.0653 .0234l.0653-.0213l.0653 .023l.0653-.0216l.0653 .0229l.0653-.0213l.0653 .0232l.0653-.0217l.0653 .0228l.0653-.0218l.0653 .0222l.0653-.0222l.0653 .0223l.0653-.0224l.0653 .0224l.0653-.0221l.0653 .0219l.0653-.0225l.0653 .0222l.0653-.0219l.0653 .0224l.0653-.0228l.0653 .0212l.0653-.0236l.0653 .0206l.0653-.0238l.0653 .0202l.0653-.0243l.0653 .0202l.0653-.024l.0653 .0202l.0653-.0241l.0653 .0203l.0653-.0241l.0653 .0206l.0653-.0232l.0653 .0214l.0653-.0226l.0653 .0218l.0653-.0221l.0653 .0224l.0653-.0217l.0653 .0226l.0653-.022l.0653 .0217l.0653-.0229l.0653 .0214l.0653-.0224l.0653 .0214l.0653-.0229l.0653 .0211l.0653-.0228l.0653 .022l.0653-.0219l.0653 .0222l.0653-.0222l.0653 .0222l.0653-.0222l.0653 .0219l.0653-.0221l.0653 .0223l.0653-.0217l.0653 .0223l.0653-.0217l.0653 .022l.0653-.0224l.0653 .0215l.0653-.0226l.0653 .0213l.0653-.0228l.0653 .0213l.0653-.0233l.0653 .0204l.0653-.0235l.0653 .0213l.0653-.0223l.0653 .022l.0653-.0223l.0653 .0217l.0653-.0223l.0653 .0222l.0653-.0221l.0653 .0216l.0653-.0221l.0653 .0223l.0653-.022l.0653 .0221l.0653-.0217l.0653 .0222l.0653-.0219l.0653 .0218l.0653-.0223l.0653 .0215l.0653-.0225l.0653 .0217l.0653-.0218l.0653 .022l.0653-.0219l.0653 .0222l.0653-.0216l.0653 .0225l.0653-.0211l.0653 .0232l.0653-.0206l.0653 .023l.0653-.0211l.0653 .0227l.0653-.0211l.0653 .0228l.0653-.0211l.0653 .023l.0653-.0207l.0653 .0231l.0653-.0209l.0653 .0232l.0653-.0204l.0653 .0237l.0653-.0202l.0653 .0234l.0653-.0203l.0653 .0233l.0653-.0207l.0653 .0238l.0653-.0201l.0653 .0234l.0653-.0207l.0653 .0231l.0653-.0209l.0653 .0227l.0653-.0215l.0653 .0221l.0653-.0217l.0653 .0223l.0653-.0219l.0653 .0219l.0653-.0218l.0653 .0221l.0653-.022l.0653 .022l.0653-.0221l.0653 .0211l.0653-.0229l.0653 .0213l.0653-.0225l.0653 .0208l.0653-.0224l.0653 .0212l.0653-.0222l.0653 .0215l.0653-.0223l.0653 .0218l.0653-.0217l.0653 .0216l.0653-.022l.0653 .0219l.0653-.0219l.0653 .022l.0653-.0214l.0653 .0225l.0653-.0215l.0653 .0221l.0653-.0214l.0653 .0223l.0653-.0214l.0653 .0222l.0653-.0219l.0653 .0217l.0653-.0221l.0653 .0215l.0653-.0216l.0653 .0223l.0653-.021l.0653 .0224l.0653-.0213l.0653 .022l.0653-.0224l.0653 .0203l.0653-.0234l.0653 .0206l.0653-.0228l.0653 .0205l.0653-.0229l.0653 .0205l.0653-.0234l.0653 .0203l.0653-.0233l.0653 .0205l.0653-.0228l.0653 .0207l.0653-.0228l.0653 .0211l.0653-.0224l.0653 .0205l.0653-.0231l.0653 .0203l.0653-.0228l.0653 .0207l.0653-.0225l.0653 .0211l.0653-.023l.0653 .0202l.0653-.0234l.0653 .0201l.0653-.0233l.0653 .0201l.0653-.023l.0653 .021l.0653-.0224l.0653 .021l.0653-.0225l.0653 .0209l.0653-.0225l.0653 .021l.0653-.0224l.0653 .0206l.0653-.023l.0653 .02l.0653-.0234l.0653 .0198l.0653-.0233l.0653 .0197l.0653-.0237l.0653 .0202l.0653-.0225l.0653 .0211l.0653-.0221l.0653 .0213l.0653-.0221l.0653 .0212l.0653-.0218l.0653 .0215l.0653-.0218l.0653 .0214l.0653-.0218l.0653 .0218l.0653-.0212l.0653 .022l.0653-.0212l.0653 .0219l.0653-.0214l.0653 .0222l.0653-.0213l.0653 .0218l.0653-.0209l.0653 .0223l.0653-.0208l.0653 .0224l.0653-.021l.0653 .022l.0653-.0211l.0653 .0226l.0653-.0205l.0653 .0223l.0653-.0213l.0653 .0219l.0653-.0212l.0653 .0221l.0653-.0208l.0653 .0221l.0653-.0209l.0653 .0227l.0653-.0205l.0653 .0228l.0653-.0205l.0653 .0226l.0653-.0209l.0653 .0227l.0653-.0206l.0653 .0223l.0653-.0211l.0653 .0222l.0653-.0205l.0653 .0228l.0653-.0202l.0653 .0225l.0653-.0206l.0653 .0229l.0653-.0204l.0653 .023l.0653-.0202l.0653 .0222l.0653-.021l.0653 .022l.0653-.0211l.0653 .022l.0653-.021l.0653 .0217l.0653-.0214l.0653 .0216l.0653-.0215l.0653 .0214l.0653-.0215l.0653 .0215l.0653-.0217l.0653 .0211l.0653-.0219l.0653 .0212l.0653-.022l.0653 .0208l.0653-.0221l.0653 .0207l.0653-.0225l.0653 .0203l.0653-.0229l.0653 .0203l.0653-.0225l.0653 .0202l.0653-.0228l.0653 .0199l.0653-.0231l.0653 .02l.0653-.0229l.0653 .0201l.0653-.0227l.0653 .02l.0653-.0232l.0653 .0199l.0653-.023l.0653 .0202l.0653-.0224l.0653 .0206l.0653-.0222l.0653 .0209l.0653-.022l.0653 .0208l.0653-.0217l.0653 .0208l.0653-.0218l.0653 .0215l.0653-.0216l.0653 .0211l.0653-.0219l.0653 .021l.0653-.0215l.0653 .0213l.0653-.0212l.0653 .0221l.0653-.0205l.0653 .0225l.0653-.0207l.0653 .022l.0653-.0204l.0653 .0222l.0653-.0205l.0653 .0228l.0653-.0198l.0653 .0226l.0653-.0202l.0653 .0226l.0653-.0205l.0653 .0221l.0653-.0206l.0653 .0219l.0653-.0208l.0653 .022l.0653-.021l.0653 .0215l.0653-.0214l.0653 .0214l.0653-.0212l.0653 .0215l.0653-.0211l.0653 .0214l.0653-.0212l.0653 .0215l.0653-.0215l.0653 .0206l.0653-.0224l.0653 .0202l.0653-.0222l.0653 .0206l.0653-.0223l.0653 .0205l.0653-.022l.0653 .0203l.0653-.0228l.0653 .0199l.0653-.0226l.0653 .0194l.0653-.0231l.0653 .0194l.0653-.0231l.0653 .0194l.0653-.0234l.0653 .0193l.0653-.0231l.0653 .0195l.0653-.023l.0653 .0192l.0653-.0231l.0653 .0189l.0653-.0235l.0653 .019l.0653-.0237l.0653 .0187l.0653-.024l.0653 .0186l.0653-.024l.0653 .0185l.0653-.0239l.0653 .0186l.0653-.0237l.0653 .0189l.0653-.0237l.0653 .0188l.0653-.0239l.0653 .0186l.0653-.0237l.0653 .0194l.0653-.0233l.0653 .019l.0653-.0236l.0653 .0192l.0653-.0229l.0653 .0196l.0653-.0225l.0653 .0199l.0653-.0225l.0653 .0202l.0653-.0222l.0653 .0202l.0653-.0224l.0653 .0199l.0653-.0225l.0653 .0199l.0653-.0226l.0653 .0197l.0653-.0228l.0653 .0197l.0653-.0226l.0653 .0197l.0653-.0229l.0653 .0193l.0653-.0233l.0653 .0194l.0653-.0227l.0653 .0202l.0653-.022l.0653 .02l.0653-.022l.0653 .0203l.0653-.0219l.0653 .0198l.0653-.0225l.0653 .0198l.0653-.0223l.0653 .02l.0653-.0223l.0653 .0199l.0653-.0221l.0653 .0206l.0653-.0215l.0653 .0212l.0653-.0213l.0653 .0213l.0653-.0208l.0653 .0212l.0653-.021l.0653 .0211l.0653-.0212l.0653 .0206l.0653-.0215l.0653 .0208l.0653-.0215l.0653 .0206l.0653-.0216l.0653 .0203l.0653-.0218l.0653 .0206l.0653-.0217l.0653 .0206l.0653-.0217l.0653 .0206l.0653-.0216l.0653 .0204l.0653-.0221l.0653 .0202l.0653-.0221l.0653 .0198l.0653-.0229l.0653 .0191l.0653-.023l.0653 .0188l.0653-.0231l.0653 .0191l.0653-.0225l.0653 .0201l.0653-.0219l.0653 .0202l.0653-.0218l.0653 .0208l.0653-.0211l.0653 .0215l.0653-.02l.0653 .0222l.0653-.0198l.0653 .022l.0653-.0203l.0653 .0217l.0653-.0204l.0653 .0213l.0653-.0204l.0653 .0218l.0653-.0202l.0653 .022l.0653-.0198l.0653 .0223l.0653-.0196l.0653 .0227l.0653-.0191l.0653 .0229l.0653-.0192l.0653 .023l.0653-.0187l.0653 .0233l.0653-.0189l.0653 .0227l.0653-.0193l.0653 .0227l.0653-.0195l.0653 .0223l.0653-.02l.0653 .0213l.0653-.021l.0653 .0212l.0653-.0207l.0653 .0214l.0653-.0203l.0653 .0217l.0653-.0202l.0653 .022l.0653-.0205l.0653 .0209l.0653-.0213l.0653 .0203l.0653-.0218l.0653 .0198l.0653-.0221l.0653 .0199l.0653-.0221l.0653 .0198l.0653-.0218l.0653 .0202l.0653-.0222l.0653 .0193l.0653-.023l.0653 .0191l.0653-.0226l.0653 .0196l.0653-.0215l.0653 .0203l.0653-.0211l.0653 .0211l.0653-.0204l.0653 .0209l.0653-.0206l.0653 .0212l.0653-.0207l.0653 .0209l.0653-.0213l.0653 .0204l.0653-.0212l.0653 .0207l.0653-.0208l.0653 .0212l.0653-.0203l.0653 .0212l.0653-.0209l.0653 .0209l.0653-.0207l.0653 .0208l.0653-.0209l.0653 .0205l.0653-.021l.0653 .0206l.0653-.0208l.0653 .0204l.0653-.0213l.0653 .0201l.0653-.022l.0653 .02l.0653-.0217l.0653 .0199l.0653-.0222l.0653 .0196l.0653-.0219l.0653 .0197l.0653-.0219l.0653 .0197l.0653-.022l.0653 .0197l.0653-.0215l.0653 .0205l.0653-.0209l.0653 .0207l.0653-.0207l.0653 .0212l.0653-.0202l.0653 .0215l.0653-.0203l.0653 .0215l.0653-.02l.0653 .0218l.0653-.0198l.0653 .0217l.0653-.02l.0653 .0219l.0653-.0196l.0653 .022l.0653-.0194l.0653 .0221l.0653-.0198l.0653 .0214l.0653-.0199l.0653 .0218l.0653-.0203l.0653 .0212l.0653-.02l.0653 .0215l.0653-.0198l.0653 .022l.0653-.0196l.0653 .0218l.0653-.0195l.0653 .0219l.0653-.0198l.0653 .0213l.0653-.0206l.0653 .0209l.0653-.0202l.0653 .0213l.0653-.0205l.0653 .0208l.0653-.021l.0653 .0206l.0653-.0207l.0653 .0205l.0653-.0206l.0653 .0209l.0653-.0205l.0653 .0208l.0653-.0206l.0653 .0211l.0653-.0203l.0653 .0207l.0653-.0203l.0653 .0211l.0653-.0206l.0653 .0205l.0653-.0213l.0653 .0201l.0653-.0214l.0653 .0195l.0653-.0219l.0653 .0192l.0653-.0218l.0653 .0199l.0653-.0212l.0653 .0202l.0653-.0215l.0653 .0199l.0653-.0212l.0653 .0201l.0653-.0209l.0653 .0209l.0653-.0202l.0653 .0216l.0653-.0199l.0653 .0213l.0653-.0202l.0653 .0211l.0653-.0197l.0653 .0218l.0653-.0198l.0653 .0214l.0653-.0201l.0653 .0208l.0653-.0204l.0653 .0212l.0653-.0195l.0653 .0216l.0653-.0196l.0653 .0218l.0653-.0195l.0653 .0221l.0653-.0197l.0653 .0216l.0653-.0194l.0653 .0218l.0653-.0197l.0653 .0214l.0653-.0197l.0653 .0216l.0653-.02l.0653 .0207l.0653-.0208l.0653 .0203l.0653-.0209l.0653 .0203l.0653-.0207l.0653 .0204l.0653-.0212l.0653 .0197l.0653-.0211l.0653 .0202l.0653-.0206l.0653 .0211l.0653-.0202l.0653 .0208l.0653-.0206l.0653 .0207l.0653-.0202l.0653 .021l.0653-.0198l.0653 .0209l.0653-.0202l.0653 .0209l.0653-.0202l.0653 .0209l.0653-.0198l.0653 .0215l.0653-.0194l.0653 .0217l.0653-.0192l.0653 .0218l.0653-.0191l.0653 .0217l.0653-.0193l.0653 .0217l.0653-.019l.0653 .0222l.0653-.0188l.0653 .0225l.0653-.0188l.0653 .0226l.0653-.0183l.0653 .0224l.0653-.0188l.0653 .0221l.0653-.019l.0653 .022l.0653-.0189l.0653 .0221l.0653-.0192l.0653 .0221l.0653-.0185l.0653 .0222l.0653-.0188l.0653 .0225l.0653-.0186l.0653 .022l.0653-.0191l.0653 .0215l.0653-.0191l.0653 .0223l.0653-.0182l.0653 .0233l.0653-.0178l.0653 .0235l.0653-.0179l.0653 .0228l.0653-.0181l.0653 .023l.0653-.0179l.0653 .0223l.0653-.0191l.0653 .0221l.0653-.0189l.0653 .0218l.0653-.0189l.0653 .0222l.0653-.0188l.0653 .0222l.0653-.0189l.0653 .0216l.0653-.0193l.0653 .0217l.0653-.0193l.0653 .0213l.0653-.0197l.0653 .0213l.0653-.0194l.0653 .0213l.0653-.0194l.0653 .0214l.0653-.02l.0653 .0202l.0653-.0207l.0653 .02l.0653-.0207l.0653 .0203l.0653-.0202l.0653 .0202l.0653-.0205l.0653 .0206l.0653-.0198l.0653 .0206l.0653-.02l.0653 .0208l.0653-.0202l.0653 .02l.0653-.0208l.0653 .0201l.0653-.0208l.0653 .02l.0653-.021l.0653 .0199l.0653-.0208l.0653 .0202l.0653-.0206l.0653 .0202l.0653-.0205l.0653 .0203l.0653-.0206l.0653 .0201l.0653-.0204l.0653 .0205l.0653-.02l.0653 .0206l.0653-.0197l.0653 .021l.0653-.02l.0653 .0203l.0653-.0206l.0653 .0198l.0653-.021l.0653 .0196l.0653-.0209l.0653 .0199l.0653-.0202l.0653 .0209l.0653-.0197l.0653 .0208l.0653-.0197l.0653 .0207l.0653-.0202l.0653 .0203l.0653-.0204l.0653 .0198l.0653-.0208l.0653 .0199l.0653-.0207l.0653 .0201l.0653-.0204l.0653 .0202l.0653-.02l.0653 .0201l.0653-.0205l.0653 .0196l.0653-.0211l.0653 .0191l.0653-.021l.0653 .0197l.0653-.0209l.0653 .0197l.0653-.0206l.0653 .0201l.0653-.0202l.0653 .0201l.0653-.0206l.0653 .0197l.0653-.021l.0653 .0193l.0653-.0212l.0653 .0199l.0653-.0202l.0653 .0202l.0653-.0201l.0653 .0209l.0653-.0193l.0653 .021l.0653-.0196l.0653 .0207l.0653-.0199l.0653 .0203l.0653-.0203l.0653 .0201l.0653-.0204l.0653 .0201l.0653-.0204l.0653 .0201l.0653-.0204l.0653 .0202l.0653-.0201l.0653 .0205l.0653-.0199l.0653 .02l.0653-.0207l.0653 .0197l.0653-.0208l.0653 .0197l.0653-.0207l.0653 .0197l.0653-.0202l.0653 .0199l.0653-.0207l.0653 .0197l.0653-.0205l.0653 .0191l.0653-.0214l.0653 .0187l.0653-.0217l.0653 .0184l.0653-.0213l.0653 .0194l.0653-.0209l.0653 .0191l.0653-.0209l.0653 .0194l.0653-.0207l.0653 .0196l.0653-.0208l.0653 .0194l.0653-.0207l.0653 .0196l.0653-.0206l.0653 .02l.0653-.0199l.0653 .0202l.0653-.0198l.0653 .0207l.0653-.0192l.0653 .0208l.0653-.0199l.0653 .0204l.0653-.0197l.0653 .0205l.0653-.0196l.0653 .0208l.0653-.0191l.0653 .0214l.0653-.0187l.0653 .0213l.0653-.0192l.0653 .0205l.0653-.0197l.0653 .0209l.0653-.0194l.0653 .0211l.0653-.0195l.0653 .0204l.0653-.0196l.0653 .0207l.0653-.0198l.0653 .0203l.0653-.0203l.0653 .0195l.0653-.021l.0653 .0188l.0653-.0214l.0653 .0185l.0653-.0219l.0653 .0186l.0653-.0212l.0653 .0187l.0653-.0215l.0653 .0188l.0653-.0213l.0653 .0187l.0653-.0214l.0653 .0186l.0653-.0212l.0653 .0189l.0653-.0211l.0653 .019l.0653-.0212l.0653 .0187l.0653-.0214l.0653 .0188l.0653-.0212l.0653 .0192l.0653-.0212l.0653 .0187l.0653-.0211l.0653 .019l.0653-.0204l.0653 .0198l.0653-.0204l.0653 .02l.0653-.0195l.0653 .0208l.0653-.0195l.0653 .0203l.0653-.0196l.0653 .0203l.0653-.0192l.0653 .0207l.0653-.0192l.0653 .0204l.0653-.0196l.0653 .0206l.0653-.0196l.0653 .0204l.0653-.0191l.0653 .0208l.0653-.0193l.0653 .0205l.0653-.0192l.0653 .0204l.0653-.0193l.0653 .0207l.0653-.0191l.0653 .0208l.0653-.0192l.0653 .0204l.0653-.0195l.0653 .0202l.0653-.0197l.0653 .0202l.0653-.0199l.0653 .0195l.0653-.0203l.0653 .0194l.0653-.0203l.0653 .0192l.0653-.0211l.0653 .018l.0653-.0221l.0653 .0177l.0653-.022l.0653 .0172l.0653-.0225l.0653 .0173l.0653-.0231l.0653 .0168l.0653-.0227l.0653 .0171l.0653-.0226l.0653 .017l.0653-.0232l.0653 .0166l.0653-.0233l.0653 .0165l.0653-.0229l.0653 .0169l.0653-.0233l.0653 .0165l.0653-.0228l.0653 .0171l.0653-.0229l.0653 .0169l.0653-.0224l.0653 .0172l.0653-.0226l.0653 .0172l.0653-.0223l.0653 .0178l.0653-.0217l.0653 .0179l.0653-.0215l.0653 .0183l.0653-.0215l.0653 .0184l.0653-.0207l.0653 .0191l.0653-.0208l.0653 .019l.0653-.0208l.0653 .0191l.0653-.0208l.0653 .0186l.0653-.0212l.0653 .0182l.0653-.0214l.0653 .0185l.0653-.021l.0653 .0186l.0653-.0214l.0653 .0181l.0653-.0213l.0653 .0185l.0653-.0214l.0653 .0184l.0653-.0213l.0653 .018l.0653-.0214l.0653 .0183l.0653-.0212l.0653 .0188l.0653-.0207l.0653 .0191l.0653-.0203l.0653 .0193l.0653-.0208l.0653 .0183l.0653-.021l.0653 .0189l.0653-.0205l.0653 .0191l.0653-.0202l.0653 .0193l.0653-.02l.0653 .0195l.0653-.0203l.0653 .0191l.0653-.0209l.0653 .019l.0653-.0202l.0653 .0193l.0653-.0204l.0653 .0189l.0653-.0205l.0653 .0192l.0653-.0203l.0653 .0194l.0653-.0205l.0653 .0191l.0653-.0204l.0653 .0193l.0653-.0203l.0653 .0188l.0653-.0207l.0653 .0189l.0653-.0203l.0653 .0193l.0653-.0202l.0653 .0187l.0653-.0211l.0653 .0181l.0653-.0213l.0653 .0181l.0653-.0211l.0653 .0184l.0653-.0208l.0653 .0183l.0653-.0206l.0653 .0191l.0653-.0204l.0653 .0191l.0653-.0203l.0653 .019l.0653-.0207l.0653 .0186l.0653-.0211l.0653 .018l.0653-.0211l.0653 .0183l.0653-.0213l.0653 .0179l.0653-.0216l.0653 .0178l.0653-.0216l.0653 .0174l.0653-.022l.0653 .0174l.0653-.022l.0653 .0181l.0653-.0208l.0653 .019l.0653-.0204l.0653 .019l.0653-.0203l.0653 .0188l.0653-.0206l.0653 .019l.0653-.0206l.0653 .0187l.0653-.0204l.0653 .0191l.0653-.02l.0653 .0199l.0653-.0193l.0653 .0197l.0653-.0194l.0653 .0206l.0653-.0183l.0653 .021l.0653-.0182l.0653 .0207l.0653-.0184l.0653 .021l.0653-.0187l.0653 .0207l.0653-.0183l.0653 .0207l.0653-.0186l.0653 .0202l.0653-.0193l.0653 .0195l.0653-.0197l.0653 .0195l.0653-.0197l.0653 .0197l.0653-.0196l.0653 .0197l.0653-.0194l.0653 .0195l.0653-.0194l.0653 .0197l.0653-.0196l.0653 .0191l.0653-.0198l.0653 .0195l.0653-.0194l.0653 .0193l.0653-.0201l.0653 .0187l.0653-.0204l.0653 .0189l.0653-.0205l.0653 .0185l.0653-.02"/>
<path d="M54.5 239H707.5" stroke="#ff0000" stroke-width="1.2" stroke-dasharray="4.2 3.8" fill="none"/>
<path d="M795.5 239H1448.5" stroke="#ff0000" stroke-width="1.2" stroke-dasharray="4.2 3.8" fill="none"/>
<path d="M53.5 697.45H706.5" stroke="#ff0000" stroke-width="1.05" stroke-dasharray="4.2 3.8" fill="none"/>
<path d="M793.3 697.45H1446.3" stroke="#ff0000" stroke-width="1.05" stroke-dasharray="4.2 3.8" fill="none"/>
<g fill="#666666" shape-rendering="crispEdges">
<rect x="40" y="434" width="682" height="1"/>
<rect x="54" y="22" width="1" height="421"/>
<rect x="55" y="414" width="2" height="1"/>
<rect x="55" y="395" width="2" height="1"/>
<rect x="55" y="375" width="2" height="1"/>
<rect x="55" y="356" width="4" height="1"/>
<rect x="55" y="336" width="2" height="1"/>
<rect x="55" y="317" width="2" height="1"/>
<rect x="55" y="297" width="2" height="1"/>
<rect x="55" y="278" width="4" height="1"/>
<rect x="55" y="258" width="2" height="1"/>
<rect x="55" y="238" width="2" height="1"/>
<rect x="55" y="219" width="2" height="1"/>
<rect x="55" y="199" width="4" height="1"/>
<rect x="55" y="180" width="2" height="1"/>
<rect x="55" y="160" width="2" height="1"/>
<rect x="55" y="141" width="2" height="1"/>
<rect x="55" y="121" width="4" height="1"/>
<rect x="55" y="102" width="2" height="1"/>
<rect x="55" y="82" width="2" height="1"/>
<rect x="55" y="63" width="2" height="1"/>
<rect x="55" y="43" width="4" height="1"/>
<rect x="55" y="23" width="2" height="1"/>
<rect x="87" y="432" width="1" height="2"/>
<rect x="119" y="432" width="1" height="2"/>
<rect x="152" y="432" width="1" height="2"/>
<rect x="185" y="432" width="1" height="2"/>
<rect x="217" y="430" width="1" height="4"/>
<rect x="250" y="432" width="1" height="2"/>
<rect x="283" y="432" width="1" height="2"/>
<rect x="315" y="432" width="1" height="2"/>
<rect x="348" y="432" width="1" height="2"/>
<rect x="381" y="430" width="1" height="4"/>
<rect x="413" y="432" width="1" height="2"/>
<rect x="446" y="432" width="1" height="2"/>
<rect x="478" y="432" width="1" height="2"/>
<rect x="511" y="432" width="1" height="2"/>
<rect x="544" y="430" width="1" height="4"/>
<rect x="576" y="432" width="1" height="2"/>
<rect x="609" y="432" width="1" height="2"/>
<rect x="642" y="432" width="1" height="2"/>
<rect x="674" y="432" width="1" height="2"/>
<rect x="707" y="430" width="1" height="4"/>
</g>
<g fill="#5a5a5a" font-family="Liberation Sans, Arial, sans-serif" font-size="10px" letter-spacing="0.44" text-rendering="geometricPrecision">
<text x="34.8" y="359">0.2</text>
<text x="34.8" y="281">0.4</text>
<text x="34.8" y="202">0.6</text>
<text x="34.8" y="124">0.8</text>
<text x="34.8" y="46">1.0</text>
<text x="206.9" y="446">100</text>
<text x="370.9" y="446">200</text>
<text x="533.9" y="446">300</text>
<text x="696.9" y="446">400</text>
</g>
<g fill="#666666" shape-rendering="crispEdges">
<rect x="781" y="434" width="682" height="1"/>
<rect x="795" y="22" width="1" height="421"/>
<rect x="796" y="414" width="2" height="1"/>
<rect x="796" y="395" width="2" height="1"/>
<rect x="796" y="375" width="2" height="1"/>
<rect x="796" y="356" width="4" height="1"/>
<rect x="796" y="336" width="2" height="1"/>
<rect x="796" y="317" width="2" height="1"/>
<rect x="796" y="297" width="2" height="1"/>
<rect x="796" y="278" width="4" height="1"/>
<rect x="796" y="258" width="2" height="1"/>
<rect x="796" y="238" width="2" height="1"/>
<rect x="796" y="219" width="2" height="1"/>
<rect x="796" y="199" width="4" height="1"/>
<rect x="796" y="180" width="2" height="1"/>
<rect x="796" y="160" width="2" height="1"/>
<rect x="796" y="141" width="2" height="1"/>
<rect x="796" y="121" width="4" height="1"/>
<rect x="796" y="102" width="2" height="1"/>
<rect x="796" y="82" width="2" height="1"/>
<rect x="796" y="63" width="2" height="1"/>
<rect x="796" y="43" width="4" height="1"/>
<rect x="796" y="23" width="2" height="1"/>
<rect x="828" y="432" width="1" height="2"/>
<rect x="860" y="432" width="1" height="2"/>
<rect x="893" y="432" width="1" height="2"/>
<rect x="926" y="430" width="1" height="4"/>
<rect x="958" y="432" width="1" height="2"/>
<rect x="991" y="432" width="1" height="2"/>
<rect x="1024" y="432" width="1" height="2"/>
<rect x="1056" y="430" width="1" height="4"/>
<rect x="1089" y="432" width="1" height="2"/>
<rect x="1122" y="432" width="1" height="2"/>
<rect x="1154" y="432" width="1" height="2"/>
<rect x="1187" y="430" width="1" height="4"/>
<rect x="1219" y="432" width="1" height="2"/>
<rect x="1252" y="432" width="1" height="2"/>
<rect x="1285" y="432" width="1" height="2"/>
<rect x="1317" y="430" width="1" height="4"/>
<rect x="1350" y="432" width="1" height="2"/>
<rect x="1383" y="432" width="1" height="2"/>
<rect x="1415" y="432" width="1" height="2"/>
<rect x="1448" y="430" width="1" height="4"/>
</g>
<g fill="#5a5a5a" font-family="Liberation Sans, Arial, sans-serif" font-size="10px" letter-spacing="0.44" text-rendering="geometricPrecision">
<text x="776.9" y="359">0.2</text>
<text x="776.9" y="281">0.4</text>
<text x="776.9" y="202">0.6</text>
<text x="776.9" y="124">0.8</text>
<text x="776.9" y="46">1.0</text>
<text x="915.9" y="446">200</text>
<text x="1045.9" y="446">400</text>
<text x="1176.9" y="446">600</text>
<text x="1306.9" y="446">800</text>
<text x="1434.9" y="446">1000</text>
</g>
<g fill="#666666" shape-rendering="crispEdges">
<rect x="39" y="892" width="682" height="1"/>
<rect x="53" y="480" width="1" height="421"/>
<rect x="54" y="873" width="2" height="1"/>
<rect x="54" y="853" width="2" height="1"/>
<rect x="54" y="834" width="2" height="1"/>
<rect x="54" y="814" width="4" height="1"/>
<rect x="54" y="794" width="2" height="1"/>
<rect x="54" y="775" width="2" height="1"/>
<rect x="54" y="755" width="2" height="1"/>
<rect x="54" y="736" width="4" height="1"/>
<rect x="54" y="716" width="2" height="1"/>
<rect x="54" y="697" width="2" height="1"/>
<rect x="54" y="677" width="2" height="1"/>
<rect x="54" y="658" width="4" height="1"/>
<rect x="54" y="638" width="2" height="1"/>
<rect x="54" y="619" width="2" height="1"/>
<rect x="54" y="599" width="2" height="1"/>
<rect x="54" y="579" width="4" height="1"/>
<rect x="54" y="560" width="2" height="1"/>
<rect x="54" y="540" width="2" height="1"/>
<rect x="54" y="521" width="2" height="1"/>
<rect x="54" y="501" width="4" height="1"/>
<rect x="54" y="482" width="2" height="1"/>
<rect x="86" y="890" width="1" height="2"/>
<rect x="118" y="890" width="1" height="2"/>
<rect x="151" y="890" width="1" height="2"/>
<rect x="184" y="888" width="1" height="4"/>
<rect x="216" y="890" width="1" height="2"/>
<rect x="249" y="890" width="1" height="2"/>
<rect x="282" y="890" width="1" height="2"/>
<rect x="314" y="888" width="1" height="4"/>
<rect x="347" y="890" width="1" height="2"/>
<rect x="380" y="890" width="1" height="2"/>
<rect x="412" y="890" width="1" height="2"/>
<rect x="445" y="888" width="1" height="4"/>
<rect x="477" y="890" width="1" height="2"/>
<rect x="510" y="890" width="1" height="2"/>
<rect x="543" y="890" width="1" height="2"/>
<rect x="575" y="888" width="1" height="4"/>
<rect x="608" y="890" width="1" height="2"/>
<rect x="641" y="890" width="1" height="2"/>
<rect x="673" y="890" width="1" height="2"/>
<rect x="706" y="888" width="1" height="4"/>
</g>
<g fill="#5a5a5a" font-family="Liberation Sans, Arial, sans-serif" font-size="10px" letter-spacing="0.44" text-rendering="geometricPrecision">
<text x="33.7" y="817">0.2</text>
<text x="33.7" y="739">0.4</text>
<text x="33.7" y="661">0.6</text>
<text x="33.7" y="582">0.8</text>
<text x="33.7" y="504">1.0</text>
<text x="170.9" y="904">2000</text>
<text x="300.9" y="904">4000</text>
<text x="431.9" y="904">6000</text>
<text x="561.9" y="904">8000</text>
<text x="688.9" y="904">10<tspan dx="2">000</tspan></text>
</g>
<g fill="#666666" shape-rendering="crispEdges">
<rect x="779" y="892" width="681" height="1"/>
<rect x="793" y="480" width="1" height="421"/>
<rect x="794" y="873" width="2" height="1"/>
<rect x="794" y="853" width="2" height="1"/>
<rect x="794" y="834" width="2" height="1"/>
<rect x="794" y="814" width="4" height="1"/>
<rect x="794" y="794" width="2" height="1"/>
<rect x="794" y="775" width="2" height="1"/>
<rect x="794" y="755" width="2" height="1"/>
<rect x="794" y="736" width="4" height="1"/>
<rect x="794" y="716" width="2" height="1"/>
<rect x="794" y="697" width="2" height="1"/>
<rect x="794" y="677" width="2" height="1"/>
<rect x="794" y="658" width="4" height="1"/>
<rect x="794" y="638" width="2" height="1"/>
<rect x="794" y="619" width="2" height="1"/>
<rect x="794" y="599" width="2" height="1"/>
<rect x="794" y="579" width="4" height="1"/>
<rect x="794" y="560" width="2" height="1"/>
<rect x="794" y="540" width="2" height="1"/>
<rect x="794" y="521" width="2" height="1"/>
<rect x="794" y="501" width="4" height="1"/>
<rect x="794" y="482" width="2" height="1"/>
<rect x="825" y="890" width="1" height="2"/>
<rect x="858" y="890" width="1" height="2"/>
<rect x="891" y="890" width="1" height="2"/>
<rect x="923" y="888" width="1" height="4"/>
<rect x="956" y="890" width="1" height="2"/>
<rect x="989" y="890" width="1" height="2"/>
<rect x="1021" y="890" width="1" height="2"/>
<rect x="1054" y="888" width="1" height="4"/>
<rect x="1087" y="890" width="1" height="2"/>
<rect x="1119" y="890" width="1" height="2"/>
<rect x="1152" y="890" width="1" height="2"/>
<rect x="1185" y="888" width="1" height="4"/>
<rect x="1217" y="890" width="1" height="2"/>
<rect x="1250" y="890" width="1" height="2"/>
<rect x="1283" y="890" width="1" height="2"/>
<rect x="1315" y="888" width="1" height="4"/>
<rect x="1348" y="890" width="1" height="2"/>
<rect x="1381" y="890" width="1" height="2"/>
<rect x="1413" y="890" width="1" height="2"/>
<rect x="1446" y="888" width="1" height="4"/>
</g>
<g fill="#5a5a5a" font-family="Liberation Sans, Arial, sans-serif" font-size="10px" letter-spacing="0.44" text-rendering="geometricPrecision">
<text x="774" y="817">0.2</text>
<text x="774" y="739">0.4</text>
<text x="774" y="661">0.6</text>
<text x="774" y="582">0.8</text>
<text x="774" y="504">1.0</text>
<text x="905.9" y="904">20<tspan dx="2">000</tspan></text>
<text x="1036.9" y="904">40<tspan dx="2">000</tspan></text>
<text x="1167.9" y="904">60<tspan dx="2">000</tspan></text>
<text x="1297.9" y="904">80<tspan dx="2">000</tspan></text>
<text x="1425.9" y="904">100<tspan dx="2">000</tspan></text>
</g>
<g fill="#000" font-family="DejaVu Sans Mono, Liberation Mono, monospace" font-size="11.5px" letter-spacing="0.075" xml:space="preserve">
<text x="978" y="555">Win percentage after 400 games : 0.4675</text>
<text x="978" y="577">Win percentage after 1000 games : 0.506</text>
<text x="978" y="599">Win percentage after 10<tspan dx="2">000</tspan> games : 0.5028</text>
<text x="978" y="621">Win percentage after 100<tspan dx="2">000</tspan> games : 0.50032</text>
</g>
</svg>
</body></html>
